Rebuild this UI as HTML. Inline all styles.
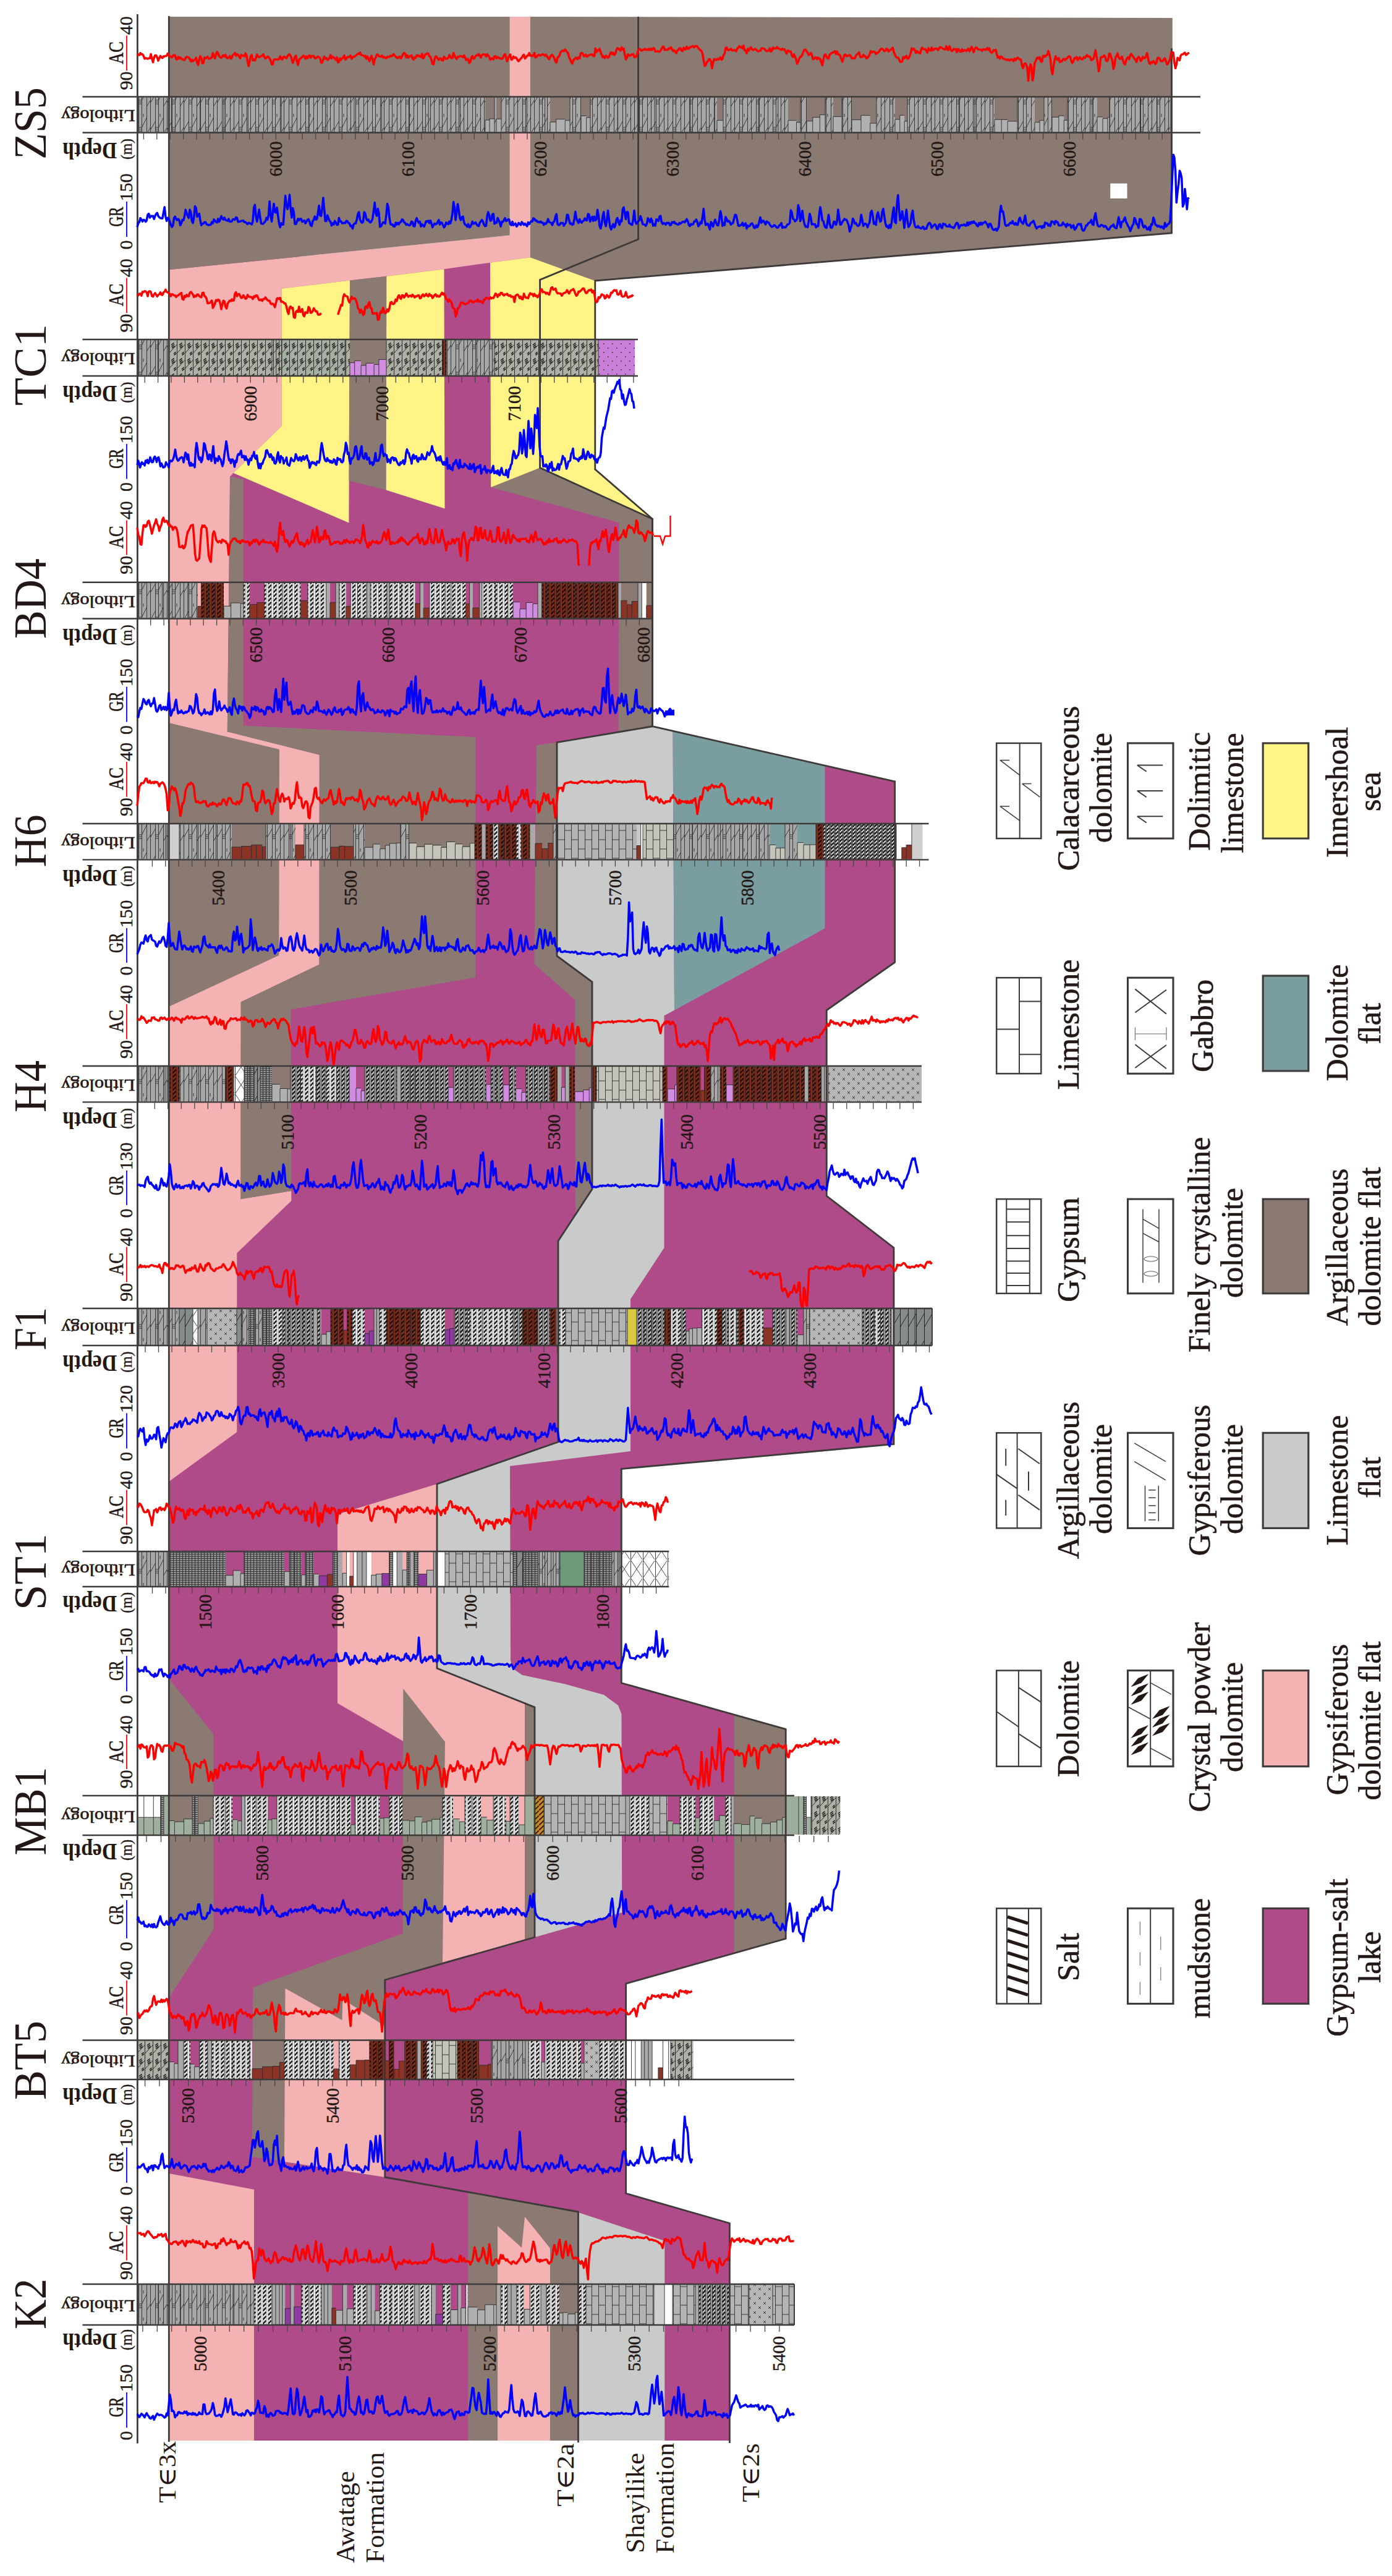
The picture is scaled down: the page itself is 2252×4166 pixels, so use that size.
<!DOCTYPE html><html><head><meta charset="utf-8"><title>Well correlation</title><style>html,body{margin:0;padding:0;background:#fff}svg{display:block}text{font-family:"Liberation Serif",serif;fill:#231815}.b{font-weight:bold}.s{font-family:"Liberation Sans","DejaVu Sans",sans-serif}.m{font-family:"Liberation Serif","DejaVu Serif","DejaVu Sans",serif}</style></head><body><svg width="2252" height="4166" viewBox="0 0 2252 4166"><rect width="2252" height="4166" fill="#fff"/>
<polygon points="273.3,3947.0 1180.4,3947.0 1180.4,3595.5 1012.6,3547.3 1012.6,3208.0 1271.2,3135.3 1271.2,2796.5 1005.3,2721.8 1005.3,2375.5 1446.0,2335.5 1446.0,2018.0 1337.3,1934.0 1337.3,1633.8 1447.7,1556.2 1447.7,1263.8 1055.5,1174.7 1055.5,839.3 962.8,759.0 962.8,454.0 962.8,415.0 273.3,415.0" fill="#B04B8A"/>
<polygon points="273.3,3947.0 273.3,3515.0 411.0,3541.0 411.0,3947.0" fill="#F4B2B2"/>
<polygon points="757.0,3947.0 757.0,3545.0 935.5,3577.0 935.5,3947.0" fill="#8A7A72"/>
<polygon points="805.0,3947.0 805.0,3600.0 844.0,3635.0 849.0,3585.0 890.0,3636.0 890.0,3947.0" fill="#F4B2B2"/>
<polygon points="935.5,3947.0 935.5,3578.0 1075.3,3624.0 1075.3,3947.0" fill="#C9CACA"/>
<polygon points="546.0,2449.0 707.0,2400.0 707.0,2698.0 849.0,2755.5 849.0,3137.0 716.0,3173.5 716.0,2817.0 652.3,2816.0 546.0,2754.5" fill="#F4B2B2"/>
<polygon points="408.0,3488.0 409.0,3214.0 651.5,3127.0 652.3,2731.0 720.0,2817.0 716.0,3173.5 622.8,3202.0 622.8,3521.0 460.0,3496.0" fill="#8A7A72"/>
<polygon points="460.0,3496.0 461.5,3215.7 553.4,3267.0 554.5,3233.0 620.0,3275.0 622.8,3277.0 622.8,3521.0" fill="#F4B2B2"/>
<polygon points="273.3,3231.0 273.3,2715.0 345.0,2804.0 345.8,3120.0" fill="#8A7A72"/>
<polygon points="849.0,3137.5 865.0,3133.0 865.0,2761.0 849.0,2755.5" fill="#8A7A72"/>
<polygon points="865.0,3133.0 1006.3,3093.0 1005.5,2772.0 1000.0,2758.0 977.0,2741.0 914.0,2723.6 845.0,2709.0 829.0,2698.0 826.0,2685.0 825.0,2371.0 1020.0,2347.0 1020.0,2101.0 1074.5,2018.0 1074.5,1642.4 1091.0,1633.8 1088.5,1182.6 1055.5,1174.7 901.0,1200.6 901.0,1546.0 958.0,1588.0 958.0,1923.0 903.0,2007.0 903.0,2332.0 707.0,2400.0 707.0,2698.0 865.0,2761.0" fill="#C9CACA"/>
<polygon points="1091.0,1633.8 1334.5,1501.6 1334.5,1238.6 1088.5,1182.6" fill="#7A9E9F"/>
<polygon points="1187.7,3157.0 1271.2,3135.3 1271.2,2796.5 1187.7,2772.0" fill="#8A7A72"/>
<polygon points="273.3,2396.0 383.3,2316.0 383.3,2026.5 471.3,1942.0 471.3,1926.0 389.4,1939.2 389.7,1620.6 516.5,1560.0 516.8,1220.7 367.8,1183.3 372.0,771.0 377.6,765.0 455.7,689.0 455.7,466.8 566.0,453.6 625.3,446.7 718.4,435.2 793.0,424.8 858.0,416.2 858.0,27.0 824.7,27.0 824.7,380.6 273.3,436.3" fill="#F4B2B2"/>
<polygon points="273.3,1169.0 452.0,1212.0 451.3,1545.0 273.3,1628.0" fill="#8A7A72"/>
<polygon points="389.4,1939.2 471.3,1926.0 470.5,1632.6 769.0,1581.0 769.0,1192.0 393.7,1173.6 393.7,775.3 372.4,770.7 367.8,1183.3 516.8,1220.7 516.5,1560.0 389.7,1620.6" fill="#8A7A72"/>
<polygon points="931.0,1966.0 958.0,1923.0 958.0,1588.0 901.0,1546.0 901.0,1200.6 868.0,1205.5 864.2,1559.0 930.3,1617.0" fill="#8A7A72"/>
<polygon points="794.2,788.0 873.6,756.5 1055.5,839.3 1055.5,1174.7 1000.6,1184.0 1001.3,845.0" fill="#8A7A72"/>
<polygon points="455.7,466.8 566.0,453.6 564.4,845.4 377.6,765.0 455.7,689.0" fill="#FFF485"/>
<polygon points="566.0,453.6 625.3,446.7 624.7,792.5 564.4,777.6" fill="#8A7A72"/>
<polygon points="625.3,446.7 718.4,435.2 719.5,822.4 624.7,792.5" fill="#FFF485"/>
<polygon points="793.0,424.8 858.0,416.2 962.8,454.0 962.8,759.0 1055.5,839.3 873.6,756.5 794.2,788.0" fill="#FFF485"/>
<polygon points="273.3,27.0 824.7,27.0 824.7,380.6 273.3,436.3" fill="#8A7A72"/>
<polygon points="858.0,27.0 1896.8,29.0 1896.8,377.0 962.8,454.0 858.0,416.2" fill="#8A7A72"/>
<defs>
<pattern id="ps" width="8.5" height="7" patternUnits="userSpaceOnUse"><rect width="8.5" height="7" fill="#ededed"/><rect x="0.4" width="5" height="7" fill="#fff"/><path d="M0.6,6.3L5.2,0.7" stroke="#111" stroke-width="2.4"/><path d="M0.3,0V7M5.6,0V7" stroke="#444" stroke-width="0.7"/></pattern>
<pattern id="pr" width="9" height="7" patternUnits="userSpaceOnUse"><rect width="9" height="7" fill="#80301F"/><path d="M0.6,6.3L5.6,0.7" stroke="#1c0a06" stroke-width="2.2"/><path d="M0.3,0V7M6.2,0V7" stroke="#2a0f0a" stroke-width="0.8"/></pattern>
<pattern id="pgs" width="8" height="7" patternUnits="userSpaceOnUse"><rect width="8" height="7" fill="#9c9c9c"/><rect x="0.4" width="5" height="7" fill="#c4c4c4"/><path d="M0.6,6.3L5.2,0.7" stroke="#111" stroke-width="2.2"/><path d="M0.3,0V7M5.6,0V7" stroke="#333" stroke-width="0.8"/></pattern>
<pattern id="psd" width="7" height="6" patternUnits="userSpaceOnUse"><rect width="7" height="6" fill="#777"/><rect x="0.4" width="4.6" height="6" fill="#eee"/><path d="M0.6,5.4L4.8,0.6" stroke="#111" stroke-width="2.3"/><path d="M0.3,0V6M5.2,0V6" stroke="#222" stroke-width="0.8"/></pattern>
<pattern id="plb" width="22" height="30" patternUnits="userSpaceOnUse"><rect width="22" height="30" fill="#C3C3B9"/><path d="M0.5,0V30M11.5,0V30M0.5,8H11.5M11.5,23H22.5" stroke="#3a3a3a" stroke-width="1" fill="none"/></pattern>
<pattern id="pg" width="27" height="44" patternUnits="userSpaceOnUse"><rect width="27" height="44" fill="#A6A6A6"/><path d="M0.5,0V44M8.5,0V44M13.5,0V44M21.5,0V44M0.5,34L8.5,20M13.5,30L21.5,14M21.5,40L27.5,30M8.5,30h5M8.5,33h5M8.5,36h5M16,8v5" stroke="#2b2b2b" stroke-width="0.9" fill="none"/></pattern>
<pattern id="pgd" width="13" height="44" patternUnits="userSpaceOnUse"><rect width="13" height="44" fill="#868B8B"/><path d="M0.5,0V44M0.5,34L13.5,12" stroke="#222" stroke-width="1" fill="none"/></pattern>
<pattern id="pl" width="22" height="30" patternUnits="userSpaceOnUse"><rect width="22" height="30" fill="#B3B3B3"/><path d="M0.5,0V30M11.5,0V30M0.5,8H11.5M11.5,23H22.5" stroke="#3a3a3a" stroke-width="1" fill="none"/></pattern>
<pattern id="pd" width="5" height="6" patternUnits="userSpaceOnUse"><rect width="5" height="6" fill="#9a9a9a"/><path d="M0.5,0V6M0,0.5H5M0,3.5H5" stroke="#333" stroke-width="1.1" fill="none"/></pattern>
<pattern id="pb" width="13" height="25" patternUnits="userSpaceOnUse"><rect width="13" height="25" fill="#AFB0A5"/><path d="M0.5,0V25M0.5,21L13.5,7" stroke="#2b2b2b" stroke-width="1" fill="none"/><path d="M4,8l4.5,-3.6M4.6,10.6l4.5,-3.6M5.2,13.2l4.5,-3.6M8,22l3.6,-3M8.6,24.4l3.6,-3" stroke="#1a1a1a" stroke-width="1.5"/></pattern>
<pattern id="pbg" width="13" height="25" patternUnits="userSpaceOnUse"><rect width="13" height="25" fill="#A5B0A2"/><path d="M0.5,0V25M0.5,21L13.5,7" stroke="#2b2b2b" stroke-width="1" fill="none"/><path d="M4,8l4.5,-3.6M4.6,10.6l4.5,-3.6M5.2,13.2l4.5,-3.6M8,22l3.6,-3M8.6,24.4l3.6,-3" stroke="#1a1a1a" stroke-width="1.5"/></pattern>
<pattern id="px" width="16" height="15" patternUnits="userSpaceOnUse"><rect width="16" height="15" fill="#B6B6B6"/><path d="M3,3l4,4m0,-4l-4,4M11,10l4,4m0,-4l-4,4" stroke="#333" stroke-width="0.9" fill="none"/></pattern>
<pattern id="pp" width="14" height="14" patternUnits="userSpaceOnUse"><rect width="14" height="14" fill="#C77FD8"/><path d="M3,3h1.5M10,10h1.5" stroke="#222" stroke-width="1.5"/></pattern>
<pattern id="pX" width="20" height="29" patternUnits="userSpaceOnUse"><rect width="20" height="29" fill="#fff"/><path d="M0.5,0V29M1,1L19,28M19,1L1,28" stroke="#333" stroke-width="0.9" fill="none"/></pattern>
<pattern id="po" width="8" height="8" patternUnits="userSpaceOnUse"><rect width="8" height="8" fill="#C98A2B"/><path d="M-1,9L9,-1" stroke="#3a2408" stroke-width="2"/></pattern>
</defs>
<path d="M222.4,3695.0H256.0V3759.0H222.4zM256.0,3695.0H292.2V3759.0H256.0zM292.2,3695.0H330.1V3759.0H292.2zM330.1,3695.0H377.0V3759.0H330.1zM377.0,3695.0H411.0V3759.0H377.0z" fill="url(#pg)"/>
<path d="M411.0,3695.0H440.1V3759.0H411.0zM487.6,3695.0H499.9V3759.0H487.6zM499.9,3695.0H520.0V3759.0H499.9zM572.0,3695.0H593.6V3759.0H572.0zM614.5,3695.0H632.4V3759.0H614.5zM632.4,3695.0H654.3V3759.0H632.4zM654.3,3695.0H670.6V3759.0H654.3zM678.3,3695.0H698.0V3759.0H678.3zM716.3,3695.0H729.0V3759.0H716.3zM753.3,3695.0H757.0V3759.0H753.3zM810.3,3695.0H820.8V3759.0H810.3zM835.9,3695.0H848.2V3759.0H835.9zM857.2,3695.0H875.0V3759.0H857.2zM883.9,3695.0H904.6V3759.0H883.9zM935.0,3695.0H948.0V3759.0H935.0z" fill="url(#ps)"/>
<path d="M440.1,3695.0H446.0V3759.0H440.1zM446.0,3695.0H452.0V3759.0H446.0zM452.0,3695.0H456.7V3759.0H452.0zM456.7,3695.0H461.3V3759.0H456.7zM470.0,3695.0H475.7V3759.0H470.0zM520.0,3695.0H524.3V3759.0H520.0zM524.3,3695.0H530.4V3759.0H524.3zM530.4,3695.0H536.9V3759.0H530.4zM554.4,3695.0H561.4V3759.0H554.4zM593.6,3695.0H600.4V3759.0H593.6zM600.4,3695.0H606.7V3759.0H600.4zM670.6,3695.0H678.3V3759.0H670.6zM698.0,3695.0H704.8V3759.0H698.0zM740.7,3695.0H745.8V3759.0H740.7zM803.0,3695.0H810.3V3759.0H803.0zM820.8,3695.0H827.0V3759.0H820.8zM827.0,3695.0H835.9V3759.0H827.0zM875.0,3695.0H883.9V3759.0H875.0zM1125.0,3695.0H1130.6V3759.0H1125.0z" fill="#A9A9A9"/>
<path d="M461.3,3733.3H470.0V3759.0H461.3zM475.7,3730.7H487.6V3759.0H475.7zM704.8,3742.6H716.3V3759.0H704.8z" fill="#8E3A9E"/>
<path d="M536.9,3732.7H543.4V3759.0H536.9z" fill="#8B3325"/>
<path d="M543.4,3736.2H554.4V3759.0H543.4zM561.4,3733.9H572.0V3759.0H561.4zM606.7,3737.1H614.5V3759.0H606.7zM729.0,3735.5H740.7V3759.0H729.0zM745.8,3732.4H753.3V3759.0H745.8zM757.0,3731.1H772.5V3759.0H757.0zM772.5,3735.7H784.6V3759.0H772.5zM784.6,3727.2H798.8V3759.0H784.6zM798.8,3727.4H803.0V3759.0H798.8zM848.2,3734.6H857.2V3759.0H848.2zM904.6,3740.7H910.8V3759.0H904.6zM910.8,3739.9H918.7V3759.0H910.8zM918.7,3742.2H930.4V3759.0H918.7zM930.4,3739.7H935.0V3759.0H930.4z" fill="#B0B0B0"/>
<path d="M948.0,3695.0H1058.0V3759.0H948.0zM1088.0,3695.0H1125.0V3759.0H1088.0zM1180.0,3695.0H1212.0V3759.0H1180.0zM1250.0,3695.0H1285.0V3759.0H1250.0z" fill="url(#pl)"/>
<path d="M1058.0,3695.0H1075.0V3759.0H1058.0z" fill="#CFCFCF"/>
<path d="M1075.0,3695.0H1088.0V3759.0H1075.0z" fill="#fff"/>
<path d="M1130.6,3695.0H1152.6V3759.0H1130.6zM1152.6,3695.0H1164.0V3759.0H1152.6zM1164.0,3695.0H1180.0V3759.0H1164.0z" fill="url(#pgs)"/>
<path d="M1212.0,3695.0H1250.0V3759.0H1212.0z" fill="url(#px)"/>
<path d="M222.4,3695.0V3759.0M256.0,3695.0V3759.0M292.2,3695.0V3759.0M330.1,3695.0V3759.0M377.0,3695.0V3759.0M411.0,3695.0V3759.0M440.1,3695.0V3759.0M446.0,3695.0V3759.0M452.0,3695.0V3759.0M456.7,3695.0V3759.0M461.3,3733.3H470.0M461.3,3733.3V3759.0M470.0,3695.0V3759.0M475.7,3730.7H487.6M475.7,3730.7V3759.0M487.6,3695.0V3759.0M499.9,3695.0V3759.0M520.0,3695.0V3759.0M524.3,3695.0V3759.0M530.4,3695.0V3759.0M536.9,3732.7H543.4M536.9,3732.7V3759.0M543.4,3736.2H554.4M543.4,3736.2V3759.0M554.4,3695.0V3759.0M561.4,3733.9H572.0M561.4,3733.9V3759.0M572.0,3695.0V3759.0M593.6,3695.0V3759.0M600.4,3695.0V3759.0M606.7,3737.1H614.5M606.7,3737.1V3759.0M614.5,3695.0V3759.0M632.4,3695.0V3759.0M654.3,3695.0V3759.0M670.6,3695.0V3759.0M678.3,3695.0V3759.0M698.0,3695.0V3759.0M704.8,3742.6H716.3M704.8,3742.6V3759.0M716.3,3695.0V3759.0M729.0,3735.5H740.7M729.0,3735.5V3759.0M740.7,3695.0V3759.0M745.8,3732.4H753.3M745.8,3732.4V3759.0M753.3,3695.0V3759.0M757.0,3731.1H772.5M757.0,3731.1V3759.0M772.5,3735.7H784.6M772.5,3735.7V3759.0M784.6,3727.2H798.8M784.6,3727.2V3759.0M798.8,3727.4H803.0M798.8,3727.4V3759.0M803.0,3695.0V3759.0M810.3,3695.0V3759.0M820.8,3695.0V3759.0M827.0,3695.0V3759.0M835.9,3695.0V3759.0M848.2,3734.6H857.2M848.2,3734.6V3759.0M857.2,3695.0V3759.0M875.0,3695.0V3759.0M883.9,3695.0V3759.0M904.6,3740.7H910.8M904.6,3740.7V3759.0M910.8,3739.9H918.7M910.8,3739.9V3759.0M918.7,3742.2H930.4M918.7,3742.2V3759.0M930.4,3739.7H935.0M930.4,3739.7V3759.0M935.0,3695.0V3759.0M948.0,3695.0V3759.0M1058.0,3695.0V3759.0M1075.0,3695.0V3759.0M1088.0,3695.0V3759.0M1125.0,3695.0V3759.0M1130.6,3695.0V3759.0M1152.6,3695.0V3759.0M1164.0,3695.0V3759.0M1180.0,3695.0V3759.0M1212.0,3695.0V3759.0M1250.0,3695.0V3759.0" stroke="#2b2b2b" stroke-width="0.9" fill="none"/>
<path d="M222.4,3300.5H273.0V3362.0H222.4zM1085.0,3300.5H1121.5V3362.0H1085.0z" fill="url(#pb)"/>
<path d="M273.0,3334.6H281.9V3362.0H273.0zM281.9,3337.2H288.0V3362.0H281.9zM307.9,3338.1H314.6V3362.0H307.9zM314.6,3342.6H322.7V3362.0H314.6zM875.6,3334.8H881.8V3362.0H875.6zM939.8,3336.7H945.0V3362.0H939.8z" fill="#B0B0B0"/>
<path d="M288.0,3300.5H296.9V3362.0H288.0zM335.9,3300.5H342.4V3362.0H335.9zM675.0,3300.5H681.2V3362.0H675.0zM850.0,3300.5H855.1V3362.0H850.0zM1037.3,3300.5H1042.7V3362.0H1037.3zM1042.7,3300.5H1049.0V3362.0H1042.7zM1049.0,3300.5H1055.1V3362.0H1049.0z" fill="#A9A9A9"/>
<path d="M296.9,3300.5H307.9V3362.0H296.9zM322.7,3300.5H335.9V3362.0H322.7zM342.4,3300.5H363.9V3362.0H342.4zM363.9,3300.5H376.7V3362.0H363.9zM376.7,3300.5H403.3V3362.0H376.7zM403.3,3300.5H408.0V3362.0H403.3zM460.0,3300.5H485.4V3362.0H460.0zM485.4,3300.5H511.0V3362.0H485.4zM511.0,3300.5H524.5V3362.0H511.0zM524.5,3300.5H539.4V3362.0H524.5zM548.5,3300.5H566.2V3362.0H548.5zM690.1,3300.5H700.0V3362.0H690.1zM855.1,3300.5H875.6V3362.0H855.1zM881.8,3300.5H906.5V3362.0H881.8zM906.5,3300.5H939.8V3362.0H906.5zM970.0,3300.5H993.5V3362.0H970.0zM993.5,3300.5H1012.0V3362.0H993.5z" fill="url(#ps)"/>
<path d="M408.0,3345.6H424.7V3362.0H408.0zM424.7,3342.3H441.0V3362.0H424.7zM441.0,3341.6H452.4V3362.0H441.0zM452.4,3335.3H460.0V3362.0H452.4zM539.4,3345.9H548.5V3362.0H539.4zM566.2,3339.2H576.1V3362.0H566.2zM576.1,3332.0H590.0V3362.0H576.1zM590.0,3331.5H597.8V3362.0H590.0zM622.0,3332.7H629.5V3362.0H622.0zM637.7,3346.6H645.6V3362.0H637.7zM645.6,3333.2H654.8V3362.0H645.6zM775.0,3340.0H789.4V3362.0H775.0zM789.4,3338.3H795.0V3362.0H789.4zM1064.9,3344.0H1072.5V3362.0H1064.9z" fill="#8B3325"/>
<path d="M597.8,3300.5H611.3V3362.0H597.8zM611.3,3300.5H622.0V3362.0H611.3zM629.5,3300.5H637.7V3362.0H629.5zM654.8,3300.5H663.8V3362.0H654.8zM663.8,3300.5H675.0V3362.0H663.8zM681.2,3300.5H690.1V3362.0H681.2zM740.0,3300.5H749.8V3362.0H740.0zM749.8,3300.5H764.7V3362.0H749.8zM764.7,3300.5H775.0V3362.0H764.7z" fill="url(#pr)"/>
<path d="M700.0,3300.5H740.0V3362.0H700.0z" fill="url(#plb)"/>
<path d="M795.0,3300.5H823.6V3362.0H795.0zM823.6,3300.5H850.0V3362.0H823.6z" fill="url(#pg)"/>
<path d="M945.0,3300.5H970.0V3362.0H945.0z" fill="url(#px)"/>
<path d="M1012.0,3300.5H1021.5V3362.0H1012.0zM1021.5,3300.5H1027.8V3362.0H1021.5zM1027.8,3300.5H1037.3V3362.0H1027.8zM1055.1,3300.5H1064.9V3362.0H1055.1zM1072.5,3300.5H1081.7V3362.0H1072.5zM1081.7,3300.5H1085.0V3362.0H1081.7z" fill="#fff"/>
<path d="M222.4,3300.5V3362.0M273.0,3334.6H281.9M273.0,3334.6V3362.0M281.9,3337.2H288.0M281.9,3337.2V3362.0M288.0,3300.5V3362.0M296.9,3300.5V3362.0M307.9,3338.1H314.6M307.9,3338.1V3362.0M314.6,3342.6H322.7M314.6,3342.6V3362.0M322.7,3300.5V3362.0M335.9,3300.5V3362.0M342.4,3300.5V3362.0M363.9,3300.5V3362.0M376.7,3300.5V3362.0M403.3,3300.5V3362.0M408.0,3345.6H424.7M408.0,3345.6V3362.0M424.7,3342.3H441.0M424.7,3342.3V3362.0M441.0,3341.6H452.4M441.0,3341.6V3362.0M452.4,3335.3H460.0M452.4,3335.3V3362.0M460.0,3300.5V3362.0M485.4,3300.5V3362.0M511.0,3300.5V3362.0M524.5,3300.5V3362.0M539.4,3345.9H548.5M539.4,3345.9V3362.0M548.5,3300.5V3362.0M566.2,3339.2H576.1M566.2,3339.2V3362.0M576.1,3332.0H590.0M576.1,3332.0V3362.0M590.0,3331.5H597.8M590.0,3331.5V3362.0M597.8,3300.5V3362.0M611.3,3300.5V3362.0M622.0,3332.7H629.5M622.0,3332.7V3362.0M629.5,3300.5V3362.0M637.7,3346.6H645.6M637.7,3346.6V3362.0M645.6,3333.2H654.8M645.6,3333.2V3362.0M654.8,3300.5V3362.0M663.8,3300.5V3362.0M675.0,3300.5V3362.0M681.2,3300.5V3362.0M690.1,3300.5V3362.0M700.0,3300.5V3362.0M740.0,3300.5V3362.0M749.8,3300.5V3362.0M764.7,3300.5V3362.0M775.0,3340.0H789.4M775.0,3340.0V3362.0M789.4,3338.3H795.0M789.4,3338.3V3362.0M795.0,3300.5V3362.0M823.6,3300.5V3362.0M850.0,3300.5V3362.0M855.1,3300.5V3362.0M875.6,3334.8H881.8M875.6,3334.8V3362.0M881.8,3300.5V3362.0M906.5,3300.5V3362.0M939.8,3336.7H945.0M939.8,3336.7V3362.0M945.0,3300.5V3362.0M970.0,3300.5V3362.0M993.5,3300.5V3362.0M1012.0,3300.5V3362.0M1021.5,3300.5V3362.0M1027.8,3300.5V3362.0M1037.3,3300.5V3362.0M1042.7,3300.5V3362.0M1049.0,3300.5V3362.0M1055.1,3300.5V3362.0M1064.9,3344.0H1072.5M1064.9,3344.0V3362.0M1072.5,3300.5V3362.0M1081.7,3300.5V3362.0M1085.0,3300.5V3362.0" stroke="#2b2b2b" stroke-width="0.9" fill="none"/>
<path d="M222.4,2905.0H232.8V2967.0H222.4zM232.8,2905.0H248.3V2967.0H232.8zM248.3,2905.0H259.8V2967.0H248.3zM1304.5,2905.0H1312.0V2967.0H1304.5z" fill="#fff"/>
<path d="M222.4,2939.1H232.8V2967.0H222.4zM232.8,2939.1H248.3V2967.0H232.8zM248.3,2939.1H259.8V2967.0H248.3zM264.9,2905.0H273.0V2967.0H264.9zM273.0,2944.5H282.4V2967.0H273.0zM282.4,2946.2H297.5V2967.0H282.4zM297.5,2941.7H311.1V2967.0H297.5zM320.4,2949.0H330.2V2967.0H320.4zM330.2,2945.2H340.0V2967.0H330.2zM340.0,2940.7H345.0V2967.0H340.0zM376.0,2942.8H384.6V2967.0H376.0zM384.6,2944.9H390.8V2967.0H384.6zM433.2,2943.1H439.9V2967.0H433.2zM439.9,2941.5H448.0V2967.0H439.9zM567.7,2951.0H574.3V2967.0H567.7zM614.2,2940.5H621.0V2967.0H614.2zM621.0,2939.8H630.0V2967.0H621.0zM651.0,2944.0H662.5V2967.0H651.0zM662.5,2944.8H671.2V2967.0H662.5zM671.2,2938.3H682.5V2967.0H671.2zM682.5,2946.9H690.7V2967.0H682.5zM690.7,2945.0H698.7V2967.0H690.7zM698.7,2942.2H711.8V2967.0H698.7zM711.8,2939.1H716.0V2967.0H711.8zM733.0,2941.7H743.7V2967.0H733.0zM743.7,2946.2H752.0V2967.0H743.7zM778.1,2938.8H787.8V2967.0H778.1zM787.8,2943.5H798.2V2967.0H787.8zM818.5,2945.4H825.1V2967.0H818.5zM839.6,2951.1H849.0V2967.0H839.6zM1080.0,2944.9H1088.3V2967.0H1080.0zM1088.3,2949.7H1100.0V2967.0H1088.3zM1125.0,2939.9H1131.9V2967.0H1125.0zM1155.1,2944.4H1164.0V2967.0H1155.1zM1164.0,2936.2H1173.9V2967.0H1164.0zM1187.0,2949.3H1199.5V2967.0H1187.0zM1199.5,2950.6H1213.0V2967.0H1199.5zM1213.0,2937.0H1221.1V2967.0H1213.0zM1221.1,2940.4H1232.5V2967.0H1221.1zM1232.5,2949.2H1246.4V2967.0H1232.5zM1246.4,2946.7H1256.9V2967.0H1246.4zM1256.9,2943.3H1265.8V2967.0H1256.9zM1265.8,2939.1H1271.0V2967.0H1265.8zM1292.0,2905.0H1300.0V2967.0H1292.0zM1304.5,2939.1H1312.0V2967.0H1304.5z" fill="#A0B0A0"/>
<path d="M259.8,2905.0H264.9V2967.0H259.8zM311.1,2905.0H314.8V2967.0H311.1zM314.8,2905.0H320.4V2967.0H314.8zM1300.0,2905.0H1304.5V2967.0H1300.0z" fill="url(#pd)"/>
<path d="M345.0,2905.0H364.7V2967.0H345.0zM364.7,2905.0H376.0V2967.0H364.7zM396.2,2905.0H414.7V2967.0H396.2zM414.7,2905.0H433.2V2967.0H414.7zM448.0,2905.0H460.6V2967.0H448.0zM460.6,2905.0H485.4V2967.0H460.6zM485.4,2905.0H511.8V2967.0H485.4zM511.8,2905.0H531.1V2967.0H511.8zM531.1,2905.0H549.5V2967.0H531.1zM549.5,2905.0H567.7V2967.0H549.5zM574.3,2905.0H590.7V2967.0H574.3zM590.7,2905.0H614.2V2967.0H590.7zM630.0,2905.0H646.4V2967.0H630.0zM646.4,2905.0H651.0V2967.0H646.4zM716.0,2905.0H733.0V2967.0H716.0zM752.0,2905.0H763.8V2967.0H752.0zM763.8,2905.0H778.1V2967.0H763.8zM798.2,2905.0H818.5V2967.0H798.2zM825.1,2905.0H839.6V2967.0H825.1zM1018.6,2905.0H1050.0V2967.0H1018.6zM1100.0,2905.0H1114.3V2967.0H1100.0zM1114.3,2905.0H1125.0V2967.0H1114.3zM1131.9,2905.0H1155.1V2967.0H1131.9zM1173.9,2905.0H1183.0V2967.0H1173.9z" fill="url(#ps)"/>
<path d="M390.8,2905.0H396.2V2967.0H390.8zM1012.0,2905.0H1018.6V2967.0H1012.0zM1183.0,2905.0H1187.0V2967.0H1183.0z" fill="#A9A9A9"/>
<path d="M849.0,2905.0H865.0V2967.0H849.0zM1271.0,2905.0H1292.0V2967.0H1271.0z" fill="#9DAE9D"/>
<path d="M865.0,2905.0H880.0V2967.0H865.0z" fill="url(#po)"/>
<path d="M880.0,2905.0H1012.0V2967.0H880.0zM1050.0,2905.0H1080.0V2967.0H1050.0z" fill="url(#pl)"/>
<path d="M1312.0,2905.0H1359.4V2967.0H1312.0z" fill="url(#pb)"/>
<path d="M222.4,2939.1H232.8M222.4,2905.0V2967.0M232.8,2939.1H248.3M232.8,2905.0V2967.0M248.3,2939.1H259.8M248.3,2905.0V2967.0M259.8,2905.0V2967.0M264.9,2905.0V2967.0M273.0,2944.5H282.4M273.0,2944.5V2967.0M282.4,2946.2H297.5M282.4,2946.2V2967.0M297.5,2941.7H311.1M297.5,2941.7V2967.0M311.1,2905.0V2967.0M314.8,2905.0V2967.0M320.4,2949.0H330.2M320.4,2949.0V2967.0M330.2,2945.2H340.0M330.2,2945.2V2967.0M340.0,2940.7H345.0M340.0,2940.7V2967.0M345.0,2905.0V2967.0M364.7,2905.0V2967.0M376.0,2942.8H384.6M376.0,2942.8V2967.0M384.6,2944.9H390.8M384.6,2944.9V2967.0M390.8,2905.0V2967.0M396.2,2905.0V2967.0M414.7,2905.0V2967.0M433.2,2943.1H439.9M433.2,2943.1V2967.0M439.9,2941.5H448.0M439.9,2941.5V2967.0M448.0,2905.0V2967.0M460.6,2905.0V2967.0M485.4,2905.0V2967.0M511.8,2905.0V2967.0M531.1,2905.0V2967.0M549.5,2905.0V2967.0M567.7,2951.0H574.3M567.7,2951.0V2967.0M574.3,2905.0V2967.0M590.7,2905.0V2967.0M614.2,2940.5H621.0M614.2,2940.5V2967.0M621.0,2939.8H630.0M621.0,2939.8V2967.0M630.0,2905.0V2967.0M646.4,2905.0V2967.0M651.0,2944.0H662.5M651.0,2944.0V2967.0M662.5,2944.8H671.2M662.5,2944.8V2967.0M671.2,2938.3H682.5M671.2,2938.3V2967.0M682.5,2946.9H690.7M682.5,2946.9V2967.0M690.7,2945.0H698.7M690.7,2945.0V2967.0M698.7,2942.2H711.8M698.7,2942.2V2967.0M711.8,2939.1H716.0M711.8,2939.1V2967.0M716.0,2905.0V2967.0M733.0,2941.7H743.7M733.0,2941.7V2967.0M743.7,2946.2H752.0M743.7,2946.2V2967.0M752.0,2905.0V2967.0M763.8,2905.0V2967.0M778.1,2938.8H787.8M778.1,2938.8V2967.0M787.8,2943.5H798.2M787.8,2943.5V2967.0M798.2,2905.0V2967.0M818.5,2945.4H825.1M818.5,2945.4V2967.0M825.1,2905.0V2967.0M839.6,2951.1H849.0M839.6,2951.1V2967.0M849.0,2905.0V2967.0M865.0,2905.0V2967.0M880.0,2905.0V2967.0M1012.0,2905.0V2967.0M1018.6,2905.0V2967.0M1050.0,2905.0V2967.0M1080.0,2944.9H1088.3M1080.0,2944.9V2967.0M1088.3,2949.7H1100.0M1088.3,2949.7V2967.0M1100.0,2905.0V2967.0M1114.3,2905.0V2967.0M1125.0,2939.9H1131.9M1125.0,2939.9V2967.0M1131.9,2905.0V2967.0M1155.1,2944.4H1164.0M1155.1,2944.4V2967.0M1164.0,2936.2H1173.9M1164.0,2936.2V2967.0M1173.9,2905.0V2967.0M1183.0,2905.0V2967.0M1187.0,2949.3H1199.5M1187.0,2949.3V2967.0M1199.5,2950.6H1213.0M1199.5,2950.6V2967.0M1213.0,2937.0H1221.1M1213.0,2937.0V2967.0M1221.1,2940.4H1232.5M1221.1,2940.4V2967.0M1232.5,2949.2H1246.4M1232.5,2949.2V2967.0M1246.4,2946.7H1256.9M1246.4,2946.7V2967.0M1256.9,2943.3H1265.8M1256.9,2943.3V2967.0M1265.8,2939.1H1271.0M1265.8,2939.1V2967.0M1271.0,2905.0V2967.0M1292.0,2905.0V2967.0M1300.0,2905.0V2967.0M1304.5,2939.1H1312.0M1304.5,2905.0V2967.0M1312.0,2905.0V2967.0" stroke="#2b2b2b" stroke-width="0.9" fill="none"/>
<path d="M222.4,2510.0H273.0V2565.0H222.4zM870.3,2510.0H881.6V2565.0H870.3zM881.6,2510.0H895.1V2565.0H881.6zM895.1,2510.0H906.0V2565.0H895.1zM989.9,2510.0H1001.8V2565.0H989.9zM1001.8,2510.0H1005.0V2565.0H1001.8z" fill="url(#pg)"/>
<path d="M273.0,2510.0H365.0V2565.0H273.0zM395.0,2510.0H460.0V2565.0H395.0zM468.4,2510.0H476.6V2565.0H468.4zM476.6,2510.0H487.6V2565.0H476.6zM494.1,2510.0H507.4V2565.0H494.1zM538.4,2510.0H546.0V2565.0H538.4zM629.7,2510.0H635.5V2565.0H629.7zM658.2,2510.0H663.3V2565.0H658.2zM669.7,2510.0H677.3V2565.0H669.7zM830.0,2510.0H836.1V2565.0H830.0zM846.9,2510.0H860.2V2565.0H846.9zM860.2,2510.0H870.3V2565.0H860.2zM945.0,2510.0H956.8V2565.0H945.0zM956.8,2510.0H968.9V2565.0H956.8zM968.9,2510.0H976.1V2565.0H968.9zM976.1,2510.0H989.9V2565.0H976.1z" fill="url(#pd)"/>
<path d="M365.0,2547.7H377.2V2565.0H365.0zM377.2,2539.9H389.1V2565.0H377.2zM389.1,2544.9H395.0V2565.0H389.1zM460.0,2541.6H468.4V2565.0H460.0zM487.6,2546.9H494.1V2565.0H487.6zM507.4,2545.6H516.0V2565.0H507.4zM554.1,2544.2H560.6V2565.0H554.1zM600.7,2547.3H608.4V2565.0H600.7zM608.4,2545.7H617.8V2565.0H608.4zM651.2,2539.0H658.2V2565.0H651.2zM690.4,2539.3H701.3V2565.0H690.4z" fill="#B0B0B0"/>
<path d="M516.0,2548.3H529.4V2565.0H516.0zM617.8,2544.7H629.7V2565.0H617.8zM677.3,2545.7H690.4V2565.0H677.3z" fill="#8E3A9E"/>
<path d="M529.4,2546.2H538.4V2565.0H529.4zM565.7,2549.1H571.8V2565.0H565.7z" fill="#8B3325"/>
<path d="M546.0,2510.0H554.1V2565.0H546.0zM577.7,2510.0H585.9V2565.0H577.7zM585.9,2510.0H592.9V2565.0H585.9zM642.2,2510.0H651.2V2565.0H642.2zM663.3,2510.0H669.7V2565.0H663.3zM701.3,2510.0H705.0V2565.0H701.3z" fill="#A9A9A9"/>
<path d="M560.6,2510.0H565.7V2565.0H560.6zM571.8,2510.0H577.7V2565.0H571.8zM592.9,2510.0H600.7V2565.0H592.9zM635.5,2510.0H642.2V2565.0H635.5zM705.0,2510.0H720.0V2565.0H705.0z" fill="#fff"/>
<path d="M720.0,2510.0H830.0V2565.0H720.0z" fill="url(#pl)"/>
<path d="M836.1,2510.0H846.9V2565.0H836.1z" fill="url(#pgd)"/>
<path d="M906.0,2510.0H945.0V2565.0H906.0z" fill="#6F9A78"/>
<path d="M1005.0,2510.0H1082.3V2565.0H1005.0z" fill="url(#pX)"/>
<path d="M222.4,2510.0V2565.0M273.0,2510.0V2565.0M365.0,2547.7H377.2M365.0,2547.7V2565.0M377.2,2539.9H389.1M377.2,2539.9V2565.0M389.1,2544.9H395.0M389.1,2544.9V2565.0M395.0,2510.0V2565.0M460.0,2541.6H468.4M460.0,2541.6V2565.0M468.4,2510.0V2565.0M476.6,2510.0V2565.0M487.6,2546.9H494.1M487.6,2546.9V2565.0M494.1,2510.0V2565.0M507.4,2545.6H516.0M507.4,2545.6V2565.0M516.0,2548.3H529.4M516.0,2548.3V2565.0M529.4,2546.2H538.4M529.4,2546.2V2565.0M538.4,2510.0V2565.0M546.0,2510.0V2565.0M554.1,2544.2H560.6M554.1,2544.2V2565.0M560.6,2510.0V2565.0M565.7,2549.1H571.8M565.7,2549.1V2565.0M571.8,2510.0V2565.0M577.7,2510.0V2565.0M585.9,2510.0V2565.0M592.9,2510.0V2565.0M600.7,2547.3H608.4M600.7,2547.3V2565.0M608.4,2545.7H617.8M608.4,2545.7V2565.0M617.8,2544.7H629.7M617.8,2544.7V2565.0M629.7,2510.0V2565.0M635.5,2510.0V2565.0M642.2,2510.0V2565.0M651.2,2539.0H658.2M651.2,2539.0V2565.0M658.2,2510.0V2565.0M663.3,2510.0V2565.0M669.7,2510.0V2565.0M677.3,2545.7H690.4M677.3,2545.7V2565.0M690.4,2539.3H701.3M690.4,2539.3V2565.0M701.3,2510.0V2565.0M705.0,2510.0V2565.0M720.0,2510.0V2565.0M830.0,2510.0V2565.0M836.1,2510.0V2565.0M846.9,2510.0V2565.0M860.2,2510.0V2565.0M870.3,2510.0V2565.0M881.6,2510.0V2565.0M895.1,2510.0V2565.0M906.0,2510.0V2565.0M945.0,2510.0V2565.0M956.8,2510.0V2565.0M968.9,2510.0V2565.0M976.1,2510.0V2565.0M989.9,2510.0V2565.0M1001.8,2510.0V2565.0M1005.0,2510.0V2565.0" stroke="#2b2b2b" stroke-width="0.9" fill="none"/>
<path d="M222.4,2117.0H254.5V2175.0H222.4zM254.5,2117.0H290.0V2175.0H254.5zM320.0,2117.0H335.0V2175.0H320.0zM392.3,2117.0H402.7V2175.0H392.3zM412.1,2117.0H424.2V2175.0H412.1zM1300.0,2117.0H1310.0V2175.0H1300.0z" fill="url(#pg)"/>
<path d="M290.0,2117.0H312.0V2175.0H290.0zM383.0,2117.0H392.3V2175.0H383.0zM1445.0,2117.0H1480.2V2175.0H1445.0zM1480.2,2117.0H1508.0V2175.0H1480.2z" fill="url(#pgd)"/>
<path d="M312.0,2117.0H320.0V2175.0H312.0z" fill="url(#pX)"/>
<path d="M335.0,2117.0H383.0V2175.0H335.0zM1310.0,2117.0H1395.0V2175.0H1310.0z" fill="url(#px)"/>
<path d="M402.7,2117.0H412.1V2175.0H402.7zM424.2,2117.0H431.3V2175.0H424.2zM431.3,2117.0H440.0V2175.0H431.3z" fill="url(#pd)"/>
<path d="M440.0,2117.0H457.1V2175.0H440.0zM570.0,2117.0H590.0V2175.0H570.0zM613.9,2117.0H625.0V2175.0H613.9zM680.0,2117.0H720.0V2175.0H680.0zM756.2,2117.0H760.0V2175.0H756.2zM760.0,2117.0H780.6V2175.0H760.0zM780.6,2117.0H818.6V2175.0H780.6zM818.6,2117.0H830.0V2175.0H818.6zM904.1,2117.0H915.0V2175.0H904.1zM1085.0,2117.0H1102.0V2175.0H1085.0zM1135.4,2117.0H1160.0V2175.0H1135.4zM1178.9,2117.0H1191.8V2175.0H1178.9zM1203.0,2117.0H1235.0V2175.0H1203.0zM1414.5,2117.0H1424.3V2175.0H1414.5zM1441.7,2117.0H1445.0V2175.0H1441.7z" fill="url(#ps)"/>
<path d="M457.1,2117.0H466.9V2175.0H457.1zM466.9,2117.0H490.4V2175.0H466.9zM490.4,2117.0H507.0V2175.0H490.4zM513.4,2117.0H520.0V2175.0H513.4zM735.0,2117.0H756.2V2175.0H735.0zM830.0,2117.0H845.0V2175.0H830.0zM870.0,2117.0H890.0V2175.0H870.0zM1030.0,2117.0H1042.1V2175.0H1030.0zM1042.1,2117.0H1054.7V2175.0H1042.1zM1054.7,2117.0H1075.0V2175.0H1054.7zM1102.0,2117.0H1110.0V2175.0H1102.0zM1168.0,2117.0H1178.9V2175.0H1168.0zM1191.8,2117.0H1195.0V2175.0H1191.8zM1250.0,2117.0H1271.7V2175.0H1250.0zM1277.2,2117.0H1290.0V2175.0H1277.2zM1395.0,2117.0H1414.5V2175.0H1395.0zM1424.3,2117.0H1441.7V2175.0H1424.3z" fill="url(#pgs)"/>
<path d="M507.0,2117.0H513.4V2175.0H507.0zM605.0,2117.0H609.3V2175.0H605.0zM609.3,2117.0H613.9V2175.0H609.3zM900.0,2117.0H904.1V2175.0H900.0zM1271.7,2117.0H1277.2V2175.0H1271.7z" fill="#A9A9A9"/>
<path d="M520.0,2157.9H528.0V2175.0H520.0zM528.0,2153.7H535.0V2175.0H528.0zM1110.0,2152.9H1115.0V2175.0H1110.0zM1115.0,2148.9H1120.4V2175.0H1115.0zM1120.4,2147.9H1127.6V2175.0H1120.4zM1127.6,2147.4H1135.4V2175.0H1127.6zM1290.0,2158.7H1300.0V2175.0H1290.0z" fill="#B0B0B0"/>
<path d="M535.0,2117.0H546.0V2175.0H535.0zM546.0,2117.0H555.8V2175.0H546.0zM561.5,2117.0H570.0V2175.0H561.5zM625.0,2117.0H637.4V2175.0H625.0zM637.4,2117.0H648.9V2175.0H637.4zM648.9,2117.0H664.6V2175.0H648.9zM664.6,2117.0H675.4V2175.0H664.6zM675.4,2117.0H680.0V2175.0H675.4zM845.0,2117.0H855.0V2175.0H845.0zM855.0,2117.0H863.3V2175.0H855.0zM863.3,2117.0H870.0V2175.0H863.3zM890.0,2117.0H900.0V2175.0H890.0zM1075.0,2117.0H1085.0V2175.0H1075.0zM1160.0,2117.0H1168.0V2175.0H1160.0zM1195.0,2117.0H1203.0V2175.0H1195.0z" fill="url(#pr)"/>
<path d="M555.8,2151.3H561.5V2175.0H555.8zM1235.0,2147.6H1250.0V2175.0H1235.0z" fill="#8B3325"/>
<path d="M590.0,2156.6H597.2V2175.0H590.0zM597.2,2152.3H605.0V2175.0H597.2zM720.0,2150.7H727.4V2175.0H720.0zM727.4,2148.5H735.0V2175.0H727.4z" fill="#8E3A9E"/>
<path d="M915.0,2117.0H1015.0V2175.0H915.0z" fill="url(#pl)"/>
<path d="M1015.0,2117.0H1030.0V2175.0H1015.0z" fill="#D9C93F"/>
<path d="M222.4,2117.0V2175.0M254.5,2117.0V2175.0M290.0,2117.0V2175.0M312.0,2117.0V2175.0M320.0,2117.0V2175.0M335.0,2117.0V2175.0M383.0,2117.0V2175.0M392.3,2117.0V2175.0M402.7,2117.0V2175.0M412.1,2117.0V2175.0M424.2,2117.0V2175.0M431.3,2117.0V2175.0M440.0,2117.0V2175.0M457.1,2117.0V2175.0M466.9,2117.0V2175.0M490.4,2117.0V2175.0M507.0,2117.0V2175.0M513.4,2117.0V2175.0M520.0,2157.9H528.0M520.0,2157.9V2175.0M528.0,2153.7H535.0M528.0,2153.7V2175.0M535.0,2117.0V2175.0M546.0,2117.0V2175.0M555.8,2151.3H561.5M555.8,2151.3V2175.0M561.5,2117.0V2175.0M570.0,2117.0V2175.0M590.0,2156.6H597.2M590.0,2156.6V2175.0M597.2,2152.3H605.0M597.2,2152.3V2175.0M605.0,2117.0V2175.0M609.3,2117.0V2175.0M613.9,2117.0V2175.0M625.0,2117.0V2175.0M637.4,2117.0V2175.0M648.9,2117.0V2175.0M664.6,2117.0V2175.0M675.4,2117.0V2175.0M680.0,2117.0V2175.0M720.0,2150.7H727.4M720.0,2150.7V2175.0M727.4,2148.5H735.0M727.4,2148.5V2175.0M735.0,2117.0V2175.0M756.2,2117.0V2175.0M760.0,2117.0V2175.0M780.6,2117.0V2175.0M818.6,2117.0V2175.0M830.0,2117.0V2175.0M845.0,2117.0V2175.0M855.0,2117.0V2175.0M863.3,2117.0V2175.0M870.0,2117.0V2175.0M890.0,2117.0V2175.0M900.0,2117.0V2175.0M904.1,2117.0V2175.0M915.0,2117.0V2175.0M1015.0,2117.0V2175.0M1030.0,2117.0V2175.0M1042.1,2117.0V2175.0M1054.7,2117.0V2175.0M1075.0,2117.0V2175.0M1085.0,2117.0V2175.0M1102.0,2117.0V2175.0M1110.0,2152.9H1115.0M1110.0,2152.9V2175.0M1115.0,2148.9H1120.4M1115.0,2148.9V2175.0M1120.4,2147.9H1127.6M1120.4,2147.9V2175.0M1127.6,2147.4H1135.4M1127.6,2147.4V2175.0M1135.4,2117.0V2175.0M1160.0,2117.0V2175.0M1168.0,2117.0V2175.0M1178.9,2117.0V2175.0M1191.8,2117.0V2175.0M1195.0,2117.0V2175.0M1203.0,2117.0V2175.0M1235.0,2147.6H1250.0M1235.0,2147.6V2175.0M1250.0,2117.0V2175.0M1271.7,2117.0V2175.0M1277.2,2117.0V2175.0M1290.0,2158.7H1300.0M1290.0,2158.7V2175.0M1300.0,2117.0V2175.0M1310.0,2117.0V2175.0M1395.0,2117.0V2175.0M1414.5,2117.0V2175.0M1424.3,2117.0V2175.0M1441.7,2117.0V2175.0M1445.0,2117.0V2175.0M1480.2,2117.0V2175.0" stroke="#2b2b2b" stroke-width="0.9" fill="none"/>
<path d="M222.4,1725.0H267.0V1781.4H222.4zM267.0,1725.0H273.0V1781.4H267.0zM290.0,1725.0H321.6V1781.4H290.0zM321.6,1725.0H365.0V1781.4H321.6zM1150.0,1725.0H1165.0V1781.4H1150.0z" fill="url(#pg)"/>
<path d="M273.0,1725.0H290.0V1781.4H273.0zM365.0,1725.0H378.0V1781.4H365.0zM890.0,1725.0H901.5V1781.4H890.0zM921.2,1725.0H930.0V1781.4H921.2zM957.0,1725.0H965.0V1781.4H957.0zM1072.0,1725.0H1080.0V1781.4H1072.0zM1095.0,1725.0H1108.6V1781.4H1095.0zM1108.6,1725.0H1121.6V1781.4H1108.6zM1121.6,1725.0H1133.8V1781.4H1121.6zM1139.6,1725.0H1150.0V1781.4H1139.6zM1165.0,1725.0H1175.0V1781.4H1165.0zM1186.0,1725.0H1194.5V1781.4H1186.0zM1194.5,1725.0H1205.9V1781.4H1194.5zM1205.9,1725.0H1218.2V1781.4H1205.9zM1218.2,1725.0H1232.0V1781.4H1218.2zM1232.0,1725.0H1246.6V1781.4H1232.0zM1246.6,1725.0H1255.4V1781.4H1246.6zM1255.4,1725.0H1264.1V1781.4H1255.4zM1264.1,1725.0H1279.7V1781.4H1264.1zM1279.7,1725.0H1288.5V1781.4H1279.7zM1288.5,1725.0H1301.4V1781.4H1288.5zM1308.0,1725.0H1317.2V1781.4H1308.0zM1317.2,1725.0H1328.7V1781.4H1317.2z" fill="url(#pr)"/>
<path d="M378.0,1725.0H395.0V1781.4H378.0z" fill="url(#pX)"/>
<path d="M395.0,1725.0H403.5V1781.4H395.0zM403.5,1725.0H411.1V1781.4H403.5zM421.2,1725.0H430.4V1781.4H421.2zM430.4,1725.0H440.0V1781.4H430.4z" fill="url(#pd)"/>
<path d="M411.1,1725.0H421.2V1781.4H411.1z" fill="url(#pgd)"/>
<path d="M440.0,1753.4H453.0V1781.4H440.0zM453.0,1760.5H465.1V1781.4H453.0zM465.1,1761.0H470.0V1781.4H465.1z" fill="#B0B0B0"/>
<path d="M470.0,1725.0H486.5V1781.4H470.0zM511.6,1725.0H527.8V1781.4H511.6zM544.2,1725.0H565.0V1781.4H544.2zM590.0,1725.0H609.1V1781.4H590.0zM609.1,1725.0H624.6V1781.4H609.1zM624.6,1725.0H641.9V1781.4H624.6zM648.8,1725.0H663.3V1781.4H648.8zM663.3,1725.0H671.6V1781.4H663.3zM671.6,1725.0H694.9V1781.4H671.6zM694.9,1725.0H705.3V1781.4H694.9zM705.3,1725.0H725.1V1781.4H705.3zM733.9,1725.0H755.3V1781.4H733.9zM755.3,1725.0H765.1V1781.4H755.3zM765.1,1725.0H786.2V1781.4H765.1zM794.2,1725.0H803.3V1781.4H794.2zM803.3,1725.0H813.9V1781.4H803.3zM823.8,1725.0H834.5V1781.4H823.8zM850.9,1725.0H864.6V1781.4H850.9zM864.6,1725.0H881.1V1781.4H864.6zM881.1,1725.0H890.0V1781.4H881.1z" fill="url(#pgs)"/>
<path d="M486.5,1725.0H511.6V1781.4H486.5zM527.8,1725.0H544.2V1781.4H527.8z" fill="url(#ps)"/>
<path d="M565.0,1725.0H576.0V1781.4H565.0zM576.0,1759.8H584.2V1781.4H576.0zM584.2,1764.0H590.0V1781.4H584.2zM725.1,1758.7H733.9V1781.4H725.1zM786.2,1753.7H794.2V1781.4H786.2zM813.9,1754.4H823.8V1781.4H813.9zM834.5,1760.7H843.9V1781.4H834.5zM843.9,1766.6H850.9V1781.4H843.9zM908.4,1758.4H914.4V1781.4H908.4zM930.0,1765.4H943.6V1781.4H930.0zM943.6,1762.7H953.2V1781.4H943.6zM953.2,1759.1H957.0V1781.4H953.2zM1080.0,1761.0H1091.6V1781.4H1080.0zM1091.6,1754.6H1095.0V1781.4H1091.6zM1175.0,1754.5H1186.0V1781.4H1175.0z" fill="#CF8CE0"/>
<path d="M641.9,1725.0H648.8V1781.4H641.9zM901.5,1725.0H908.4V1781.4H901.5zM914.4,1725.0H921.2V1781.4H914.4zM1301.4,1725.0H1308.0V1781.4H1301.4zM1328.7,1725.0H1333.8V1781.4H1328.7zM1333.8,1725.0H1340.0V1781.4H1333.8z" fill="#A9A9A9"/>
<path d="M965.0,1725.0H1072.0V1781.4H965.0z" fill="url(#plb)"/>
<path d="M1133.8,1763.5H1139.6V1781.4H1133.8z" fill="#8B3325"/>
<path d="M1340.0,1725.0H1491.0V1781.4H1340.0z" fill="url(#px)"/>
<path d="M222.4,1725.0V1781.4M267.0,1725.0V1781.4M273.0,1725.0V1781.4M290.0,1725.0V1781.4M321.6,1725.0V1781.4M365.0,1725.0V1781.4M378.0,1725.0V1781.4M395.0,1725.0V1781.4M403.5,1725.0V1781.4M411.1,1725.0V1781.4M421.2,1725.0V1781.4M430.4,1725.0V1781.4M440.0,1753.4H453.0M440.0,1753.4V1781.4M453.0,1760.5H465.1M453.0,1760.5V1781.4M465.1,1761.0H470.0M465.1,1761.0V1781.4M470.0,1725.0V1781.4M486.5,1725.0V1781.4M511.6,1725.0V1781.4M527.8,1725.0V1781.4M544.2,1725.0V1781.4M565.0,1725.0V1781.4M576.0,1759.8H584.2M576.0,1759.8V1781.4M584.2,1764.0H590.0M584.2,1764.0V1781.4M590.0,1725.0V1781.4M609.1,1725.0V1781.4M624.6,1725.0V1781.4M641.9,1725.0V1781.4M648.8,1725.0V1781.4M663.3,1725.0V1781.4M671.6,1725.0V1781.4M694.9,1725.0V1781.4M705.3,1725.0V1781.4M725.1,1758.7H733.9M725.1,1758.7V1781.4M733.9,1725.0V1781.4M755.3,1725.0V1781.4M765.1,1725.0V1781.4M786.2,1753.7H794.2M786.2,1753.7V1781.4M794.2,1725.0V1781.4M803.3,1725.0V1781.4M813.9,1754.4H823.8M813.9,1754.4V1781.4M823.8,1725.0V1781.4M834.5,1760.7H843.9M834.5,1760.7V1781.4M843.9,1766.6H850.9M843.9,1766.6V1781.4M850.9,1725.0V1781.4M864.6,1725.0V1781.4M881.1,1725.0V1781.4M890.0,1725.0V1781.4M901.5,1725.0V1781.4M908.4,1758.4H914.4M908.4,1758.4V1781.4M914.4,1725.0V1781.4M921.2,1725.0V1781.4M930.0,1765.4H943.6M930.0,1765.4V1781.4M943.6,1762.7H953.2M943.6,1762.7V1781.4M953.2,1759.1H957.0M953.2,1759.1V1781.4M957.0,1725.0V1781.4M965.0,1725.0V1781.4M1072.0,1725.0V1781.4M1080.0,1761.0H1091.6M1080.0,1761.0V1781.4M1091.6,1754.6H1095.0M1091.6,1754.6V1781.4M1095.0,1725.0V1781.4M1108.6,1725.0V1781.4M1121.6,1725.0V1781.4M1133.8,1763.5H1139.6M1133.8,1763.5V1781.4M1139.6,1725.0V1781.4M1150.0,1725.0V1781.4M1165.0,1725.0V1781.4M1175.0,1754.5H1186.0M1175.0,1754.5V1781.4M1186.0,1725.0V1781.4M1194.5,1725.0V1781.4M1205.9,1725.0V1781.4M1218.2,1725.0V1781.4M1232.0,1725.0V1781.4M1246.6,1725.0V1781.4M1255.4,1725.0V1781.4M1264.1,1725.0V1781.4M1279.7,1725.0V1781.4M1288.5,1725.0V1781.4M1301.4,1725.0V1781.4M1308.0,1725.0V1781.4M1317.2,1725.0V1781.4M1328.7,1725.0V1781.4M1333.8,1725.0V1781.4M1340.0,1725.0V1781.4" stroke="#2b2b2b" stroke-width="0.9" fill="none"/>
<path d="M222.4,1333.0H268.1V1389.4H222.4zM268.1,1333.0H273.0V1389.4H268.1zM290.0,1333.0H320.5V1389.4H290.0zM320.5,1333.0H349.5V1389.4H320.5zM349.5,1333.0H375.0V1389.4H349.5zM430.0,1333.0H469.9V1389.4H430.0zM469.9,1333.0H478.0V1389.4H469.9zM492.0,1333.0H535.0V1389.4H492.0zM572.0,1333.0H590.0V1389.4H572.0zM648.0,1333.0H662.0V1389.4H648.0zM895.0,1333.0H901.0V1389.4H895.0zM1090.0,1333.0H1119.9V1389.4H1090.0zM1119.9,1333.0H1165.6V1389.4H1119.9zM1165.6,1333.0H1201.9V1389.4H1165.6zM1201.9,1333.0H1228.1V1389.4H1201.9zM1228.1,1333.0H1245.0V1389.4H1228.1zM1270.0,1333.0H1290.0V1389.4H1270.0z" fill="url(#pg)"/>
<path d="M273.0,1333.0H290.0V1389.4H273.0zM1475.0,1333.0H1492.5V1389.4H1475.0z" fill="#CFCFCF"/>
<path d="M375.0,1369.9H390.7V1389.4H375.0zM390.7,1368.5H406.7V1389.4H390.7zM406.7,1366.4H414.7V1389.4H406.7zM414.7,1366.4H424.4V1389.4H414.7zM424.4,1369.4H430.0V1389.4H424.4zM478.0,1366.3H492.0V1389.4H478.0zM535.0,1370.1H548.7V1389.4H535.0zM548.7,1368.3H557.6V1389.4H548.7zM557.6,1368.9H572.0V1389.4H557.6zM866.0,1364.1H877.1V1389.4H866.0zM877.1,1372.5H886.8V1389.4H877.1zM886.8,1363.5H895.0V1389.4H886.8zM1030.0,1367.6H1036.7V1389.4H1030.0zM1458.8,1370.8H1466.2V1389.4H1458.8zM1466.2,1366.5H1475.0V1389.4H1466.2z" fill="#8B3325"/>
<path d="M590.0,1370.3H603.4V1389.4H590.0zM603.4,1365.1H614.8V1389.4H603.4zM614.8,1372.7H623.3V1389.4H614.8zM623.3,1367.0H630.5V1389.4H623.3zM630.5,1364.0H641.1V1389.4H630.5zM641.1,1363.2H648.0V1389.4H641.1z" fill="#B0B0B0"/>
<path d="M662.0,1363.4H673.9V1389.4H662.0zM673.9,1369.4H686.7V1389.4H673.9zM686.7,1365.3H699.9V1389.4H686.7zM699.9,1366.9H713.7V1389.4H699.9zM713.7,1370.4H722.5V1389.4H713.7zM722.5,1361.4H736.4V1389.4H722.5zM736.4,1364.9H748.1V1389.4H736.4zM748.1,1369.3H760.2V1389.4H748.1zM760.2,1363.7H768.0V1389.4H760.2zM1245.0,1366.3H1254.9V1389.4H1245.0zM1254.9,1371.5H1262.4V1389.4H1254.9zM1262.4,1371.2H1270.0V1389.4H1262.4zM1290.0,1362.6H1300.0V1389.4H1290.0zM1300.0,1366.2H1310.0V1389.4H1300.0zM1310.0,1366.1H1320.0V1389.4H1310.0z" fill="#C4C4BA"/>
<path d="M768.0,1333.0H779.1V1389.4H768.0zM786.0,1333.0H797.7V1389.4H786.0zM806.5,1333.0H814.7V1389.4H806.5zM814.7,1333.0H822.9V1389.4H814.7zM822.9,1333.0H835.2V1389.4H822.9zM843.5,1333.0H857.0V1389.4H843.5zM1320.0,1333.0H1332.0V1389.4H1320.0z" fill="url(#pr)"/>
<path d="M779.1,1333.0H786.0V1389.4H779.1zM857.0,1333.0H866.0V1389.4H857.0z" fill="#A9A9A9"/>
<path d="M797.7,1333.0H806.5V1389.4H797.7zM835.2,1333.0H843.5V1389.4H835.2z" fill="url(#ps)"/>
<path d="M901.0,1333.0H1030.0V1389.4H901.0z" fill="url(#pl)"/>
<path d="M1036.7,1333.0H1040.0V1389.4H1036.7zM1450.0,1333.0H1458.8V1389.4H1450.0z" fill="#fff"/>
<path d="M1040.0,1333.0H1090.0V1389.4H1040.0z" fill="url(#plb)"/>
<path d="M1332.0,1333.0H1450.0V1389.4H1332.0z" fill="url(#psd)"/>
<path d="M222.4,1333.0V1389.4M268.1,1333.0V1389.4M273.0,1333.0V1389.4M290.0,1333.0V1389.4M320.5,1333.0V1389.4M349.5,1333.0V1389.4M375.0,1369.9H390.7M375.0,1369.9V1389.4M390.7,1368.5H406.7M390.7,1368.5V1389.4M406.7,1366.4H414.7M406.7,1366.4V1389.4M414.7,1366.4H424.4M414.7,1366.4V1389.4M424.4,1369.4H430.0M424.4,1369.4V1389.4M430.0,1333.0V1389.4M469.9,1333.0V1389.4M478.0,1366.3H492.0M478.0,1366.3V1389.4M492.0,1333.0V1389.4M535.0,1370.1H548.7M535.0,1370.1V1389.4M548.7,1368.3H557.6M548.7,1368.3V1389.4M557.6,1368.9H572.0M557.6,1368.9V1389.4M572.0,1333.0V1389.4M590.0,1370.3H603.4M590.0,1370.3V1389.4M603.4,1365.1H614.8M603.4,1365.1V1389.4M614.8,1372.7H623.3M614.8,1372.7V1389.4M623.3,1367.0H630.5M623.3,1367.0V1389.4M630.5,1364.0H641.1M630.5,1364.0V1389.4M641.1,1363.2H648.0M641.1,1363.2V1389.4M648.0,1333.0V1389.4M662.0,1363.4H673.9M662.0,1363.4V1389.4M673.9,1369.4H686.7M673.9,1369.4V1389.4M686.7,1365.3H699.9M686.7,1365.3V1389.4M699.9,1366.9H713.7M699.9,1366.9V1389.4M713.7,1370.4H722.5M713.7,1370.4V1389.4M722.5,1361.4H736.4M722.5,1361.4V1389.4M736.4,1364.9H748.1M736.4,1364.9V1389.4M748.1,1369.3H760.2M748.1,1369.3V1389.4M760.2,1363.7H768.0M760.2,1363.7V1389.4M768.0,1333.0V1389.4M779.1,1333.0V1389.4M786.0,1333.0V1389.4M797.7,1333.0V1389.4M806.5,1333.0V1389.4M814.7,1333.0V1389.4M822.9,1333.0V1389.4M835.2,1333.0V1389.4M843.5,1333.0V1389.4M857.0,1333.0V1389.4M866.0,1364.1H877.1M866.0,1364.1V1389.4M877.1,1372.5H886.8M877.1,1372.5V1389.4M886.8,1363.5H895.0M886.8,1363.5V1389.4M895.0,1333.0V1389.4M901.0,1333.0V1389.4M1030.0,1367.6H1036.7M1030.0,1367.6V1389.4M1036.7,1333.0V1389.4M1040.0,1333.0V1389.4M1090.0,1333.0V1389.4M1119.9,1333.0V1389.4M1165.6,1333.0V1389.4M1201.9,1333.0V1389.4M1228.1,1333.0V1389.4M1245.0,1366.3H1254.9M1245.0,1366.3V1389.4M1254.9,1371.5H1262.4M1254.9,1371.5V1389.4M1262.4,1371.2H1270.0M1262.4,1371.2V1389.4M1270.0,1333.0V1389.4M1290.0,1362.6H1300.0M1290.0,1362.6V1389.4M1300.0,1366.2H1310.0M1300.0,1366.2V1389.4M1310.0,1366.1H1320.0M1310.0,1366.1V1389.4M1320.0,1333.0V1389.4M1332.0,1333.0V1389.4M1450.0,1333.0V1389.4M1458.8,1370.8H1466.2M1458.8,1370.8V1389.4M1466.2,1366.5H1475.0M1466.2,1366.5V1389.4M1475.0,1333.0V1389.4" stroke="#2b2b2b" stroke-width="0.9" fill="none"/>
<path d="M222.4,942.7H262.5V999.5H222.4zM262.5,942.7H303.8V999.5H262.5zM303.8,942.7H320.0V999.5H303.8z" fill="url(#pg)"/>
<path d="M320.0,980.5H325.6V999.5H320.0zM403.8,977.7H415.7V999.5H403.8zM415.7,974.5H427.5V999.5H415.7zM486.4,971.3H497.6V999.5H486.4zM534.0,974.3H543.0V999.5H534.0zM559.8,980.7H567.1V999.5H559.8zM671.8,975.9H679.5V999.5H671.8zM685.2,983.3H694.9V999.5H685.2zM753.6,976.5H759.7V999.5H753.6zM764.9,983.1H775.6V999.5H764.9zM1004.9,971.2H1014.8V999.5H1004.9zM1014.8,977.8H1022.2V999.5H1014.8zM1022.2,972.4H1032.1V999.5H1022.2zM1045.8,979.2H1055.5V999.5H1045.8z" fill="#8B3325"/>
<path d="M325.6,942.7H336.4V999.5H325.6zM336.4,942.7H348.1V999.5H336.4zM348.1,942.7H362.0V999.5H348.1zM876.6,942.7H884.9V999.5H876.6zM884.9,942.7H900.0V999.5H884.9zM900.0,942.7H915.7V999.5H900.0zM915.7,942.7H930.5V999.5H915.7zM930.5,942.7H944.2V999.5H930.5zM944.2,942.7H960.1V999.5H944.2zM960.1,942.7H970.1V999.5H960.1zM970.1,942.7H983.1V999.5H970.1zM983.1,942.7H994.9V999.5H983.1zM994.9,942.7H1000.0V999.5H994.9z" fill="url(#pr)"/>
<path d="M362.0,980.2H373.6V999.5H362.0zM373.6,975.0H389.3V999.5H373.6zM389.3,976.2H394.0V999.5H389.3z" fill="#B0B0B0"/>
<path d="M394.0,942.7H403.8V999.5H394.0zM427.5,942.7H457.1V999.5H427.5zM457.1,942.7H486.4V999.5H457.1zM497.6,942.7H527.5V999.5H497.6zM548.6,942.7H559.8V999.5H548.6zM567.1,942.7H578.5V999.5H567.1zM578.5,942.7H593.5V999.5H578.5zM599.1,942.7H625.9V999.5H599.1zM630.2,942.7H649.2V999.5H630.2zM649.2,942.7H671.8V999.5H649.2zM694.9,942.7H720.3V999.5H694.9zM720.3,942.7H729.8V999.5H720.3zM729.8,942.7H753.6V999.5H729.8zM779.9,942.7H801.7V999.5H779.9zM801.7,942.7H821.7V999.5H801.7zM821.7,942.7H830.0V999.5H821.7z" fill="url(#ps)"/>
<path d="M527.5,942.7H534.0V999.5H527.5zM543.0,942.7H548.6V999.5H543.0zM593.5,942.7H599.1V999.5H593.5zM625.9,942.7H630.2V999.5H625.9zM679.5,942.7H685.2V999.5H679.5zM759.7,942.7H764.9V999.5H759.7zM775.6,942.7H779.9V999.5H775.6zM870.0,942.7H876.6V999.5H870.0zM1000.0,942.7H1004.9V999.5H1000.0zM1032.1,942.7H1038.3V999.5H1032.1z" fill="#A9A9A9"/>
<path d="M830.0,973.6H841.0V999.5H830.0zM841.0,984.8H851.2V999.5H841.0zM851.2,974.5H862.0V999.5H851.2zM862.0,976.4H870.0V999.5H862.0z" fill="#CF8CE0"/>
<path d="M1038.3,942.7H1045.8V999.5H1038.3z" fill="#fff"/>
<path d="M222.4,942.7V999.5M262.5,942.7V999.5M303.8,942.7V999.5M320.0,980.5H325.6M320.0,980.5V999.5M325.6,942.7V999.5M336.4,942.7V999.5M348.1,942.7V999.5M362.0,980.2H373.6M362.0,980.2V999.5M373.6,975.0H389.3M373.6,975.0V999.5M389.3,976.2H394.0M389.3,976.2V999.5M394.0,942.7V999.5M403.8,977.7H415.7M403.8,977.7V999.5M415.7,974.5H427.5M415.7,974.5V999.5M427.5,942.7V999.5M457.1,942.7V999.5M486.4,971.3H497.6M486.4,971.3V999.5M497.6,942.7V999.5M527.5,942.7V999.5M534.0,974.3H543.0M534.0,974.3V999.5M543.0,942.7V999.5M548.6,942.7V999.5M559.8,980.7H567.1M559.8,980.7V999.5M567.1,942.7V999.5M578.5,942.7V999.5M593.5,942.7V999.5M599.1,942.7V999.5M625.9,942.7V999.5M630.2,942.7V999.5M649.2,942.7V999.5M671.8,975.9H679.5M671.8,975.9V999.5M679.5,942.7V999.5M685.2,983.3H694.9M685.2,983.3V999.5M694.9,942.7V999.5M720.3,942.7V999.5M729.8,942.7V999.5M753.6,976.5H759.7M753.6,976.5V999.5M759.7,942.7V999.5M764.9,983.1H775.6M764.9,983.1V999.5M775.6,942.7V999.5M779.9,942.7V999.5M801.7,942.7V999.5M821.7,942.7V999.5M830.0,973.6H841.0M830.0,973.6V999.5M841.0,984.8H851.2M841.0,984.8V999.5M851.2,974.5H862.0M851.2,974.5V999.5M862.0,976.4H870.0M862.0,976.4V999.5M870.0,942.7V999.5M876.6,942.7V999.5M884.9,942.7V999.5M900.0,942.7V999.5M915.7,942.7V999.5M930.5,942.7V999.5M944.2,942.7V999.5M960.1,942.7V999.5M970.1,942.7V999.5M983.1,942.7V999.5M994.9,942.7V999.5M1000.0,942.7V999.5M1004.9,971.2H1014.8M1004.9,971.2V999.5M1014.8,977.8H1022.2M1014.8,977.8V999.5M1022.2,972.4H1032.1M1022.2,972.4V999.5M1032.1,942.7V999.5M1038.3,942.7V999.5M1045.8,979.2H1055.5M1045.8,979.2V999.5" stroke="#2b2b2b" stroke-width="0.9" fill="none"/>
<path d="M222.4,550.0H255.3V607.0H222.4zM255.3,550.0H273.0V607.0H255.3zM722.0,550.0H771.4V607.0H722.0zM771.4,550.0H800.0V607.0H771.4z" fill="url(#pg)"/>
<path d="M273.0,550.0H440.0V607.0H273.0zM440.0,550.0H446.8V607.0H440.0zM446.8,550.0H451.8V607.0H446.8zM451.8,550.0H456.0V607.0H451.8zM558.0,550.0H566.0V607.0H558.0zM625.0,550.0H716.0V607.0H625.0zM800.0,550.0H968.0V607.0H800.0z" fill="url(#pb)"/>
<path d="M456.0,550.0H558.0V607.0H456.0z" fill="url(#pbg)"/>
<path d="M566.0,586.6H573.7V607.0H566.0zM573.7,583.6H584.1V607.0H573.7zM584.1,590.9H592.1V607.0H584.1zM592.1,587.3H605.1V607.0H592.1zM605.1,589.5H612.9V607.0H605.1zM612.9,581.4H625.0V607.0H612.9z" fill="#CF8CE0"/>
<path d="M716.0,550.0H722.0V607.0H716.0z" fill="url(#pr)"/>
<path d="M968.0,550.0H1027.0V607.0H968.0z" fill="url(#pp)"/>
<path d="M222.4,550.0V607.0M255.3,550.0V607.0M273.0,550.0V607.0M440.0,550.0V607.0M446.8,550.0V607.0M451.8,550.0V607.0M456.0,550.0V607.0M558.0,550.0V607.0M566.0,586.6H573.7M566.0,586.6V607.0M573.7,583.6H584.1M573.7,583.6V607.0M584.1,590.9H592.1M584.1,590.9V607.0M592.1,587.3H605.1M592.1,587.3V607.0M605.1,589.5H612.9M605.1,589.5V607.0M612.9,581.4H625.0M612.9,581.4V607.0M625.0,550.0V607.0M716.0,550.0V607.0M722.0,550.0V607.0M771.4,550.0V607.0M800.0,550.0V607.0M968.0,550.0V607.0" stroke="#2b2b2b" stroke-width="0.9" fill="none"/>
<path d="M222.4,157.5H277.5V213.5H222.4zM277.5,157.5H323.7V213.5H277.5zM323.7,157.5H362.2V213.5H323.7zM362.2,157.5H401.3V213.5H362.2zM401.3,157.5H455.2V213.5H401.3zM455.2,157.5H500.1V213.5H455.2zM500.1,157.5H529.1V213.5H500.1zM529.1,157.5H573.0V213.5H529.1zM573.0,157.5H617.5V213.5H573.0zM617.5,157.5H662.4V213.5H617.5zM662.4,157.5H693.2V213.5H662.4zM693.2,157.5H744.6V213.5H693.2zM744.6,157.5H785.0V213.5H744.6zM800.0,157.5H803.0V213.5H800.0zM811.0,157.5H852.5V213.5H811.0zM852.5,157.5H881.6V213.5H852.5zM881.6,157.5H890.0V213.5H881.6zM922.0,157.5H940.0V213.5H922.0zM955.0,157.5H999.2V213.5H955.0zM999.2,157.5H1059.1V213.5H999.2zM1059.1,157.5H1117.0V213.5H1059.1zM1117.0,157.5H1156.2V213.5H1117.0zM1156.2,157.5H1160.0V213.5H1156.2zM1170.0,157.5H1227.2V213.5H1170.0zM1227.2,157.5H1258.8V213.5H1227.2zM1258.8,157.5H1275.0V213.5H1258.8zM1295.0,157.5H1305.0V213.5H1295.0zM1335.0,157.5H1348.0V213.5H1335.0zM1362.0,157.5H1378.0V213.5H1362.0zM1418.0,157.5H1448.0V213.5H1418.0zM1468.0,157.5H1506.6V213.5H1468.0zM1506.6,157.5H1551.1V213.5H1506.6zM1551.1,157.5H1577.1V213.5H1551.1zM1577.1,157.5H1609.0V213.5H1577.1zM1646.0,157.5H1674.0V213.5H1646.0zM1689.0,157.5H1702.0V213.5H1689.0zM1727.0,157.5H1766.9V213.5H1727.0zM1766.9,157.5H1775.0V213.5H1766.9zM1795.0,157.5H1845.5V213.5H1795.0zM1845.5,157.5H1872.0V213.5H1845.5zM1872.0,157.5H1892.8V213.5H1872.0z" fill="url(#pg)"/>
<path d="M785.0,194.1H792.1V213.5H785.0zM792.1,192.0H800.0V213.5H792.1zM803.0,192.3H811.0V213.5H803.0zM890.0,197.3H899.6V213.5H890.0zM899.6,192.8H914.2V213.5H899.6zM914.2,194.8H922.0V213.5H914.2zM940.0,187.4H948.7V213.5H940.0zM948.7,190.1H955.0V213.5H948.7zM1160.0,194.6H1170.0V213.5H1160.0zM1275.0,194.7H1288.5V213.5H1275.0zM1288.5,197.9H1295.0V213.5H1288.5zM1305.0,195.8H1314.8V213.5H1305.0zM1314.8,189.7H1326.3V213.5H1314.8zM1326.3,185.6H1335.0V213.5H1326.3zM1348.0,188.6H1362.0V213.5H1348.0zM1378.0,193.7H1393.0V213.5H1378.0zM1393.0,186.6H1407.7V213.5H1393.0zM1407.7,199.2H1418.0V213.5H1407.7zM1448.0,193.1H1455.8V213.5H1448.0zM1455.8,186.4H1463.2V213.5H1455.8zM1463.2,196.0H1468.0V213.5H1463.2zM1609.0,193.3H1620.2V213.5H1609.0zM1620.2,193.4H1630.1V213.5H1620.2zM1630.1,196.1H1646.0V213.5H1630.1zM1674.0,197.8H1682.0V213.5H1674.0zM1682.0,194.6H1689.0V213.5H1682.0zM1702.0,189.4H1712.9V213.5H1702.0zM1712.9,187.2H1721.3V213.5H1712.9zM1721.3,194.4H1727.0V213.5H1721.3zM1775.0,189.0H1784.0V213.5H1775.0zM1784.0,191.7H1791.9V213.5H1784.0zM1791.9,189.8H1795.0V213.5H1791.9z" fill="#B0B0B0"/>
<path d="M222.4,157.5V213.5M277.5,157.5V213.5M323.7,157.5V213.5M362.2,157.5V213.5M401.3,157.5V213.5M455.2,157.5V213.5M500.1,157.5V213.5M529.1,157.5V213.5M573.0,157.5V213.5M617.5,157.5V213.5M662.4,157.5V213.5M693.2,157.5V213.5M744.6,157.5V213.5M785.0,194.1H792.1M785.0,194.1V213.5M792.1,192.0H800.0M792.1,192.0V213.5M800.0,157.5V213.5M803.0,192.3H811.0M803.0,192.3V213.5M811.0,157.5V213.5M852.5,157.5V213.5M881.6,157.5V213.5M890.0,197.3H899.6M890.0,197.3V213.5M899.6,192.8H914.2M899.6,192.8V213.5M914.2,194.8H922.0M914.2,194.8V213.5M922.0,157.5V213.5M940.0,187.4H948.7M940.0,187.4V213.5M948.7,190.1H955.0M948.7,190.1V213.5M955.0,157.5V213.5M999.2,157.5V213.5M1059.1,157.5V213.5M1117.0,157.5V213.5M1156.2,157.5V213.5M1160.0,194.6H1170.0M1160.0,194.6V213.5M1170.0,157.5V213.5M1227.2,157.5V213.5M1258.8,157.5V213.5M1275.0,194.7H1288.5M1275.0,194.7V213.5M1288.5,197.9H1295.0M1288.5,197.9V213.5M1295.0,157.5V213.5M1305.0,195.8H1314.8M1305.0,195.8V213.5M1314.8,189.7H1326.3M1314.8,189.7V213.5M1326.3,185.6H1335.0M1326.3,185.6V213.5M1335.0,157.5V213.5M1348.0,188.6H1362.0M1348.0,188.6V213.5M1362.0,157.5V213.5M1378.0,193.7H1393.0M1378.0,193.7V213.5M1393.0,186.6H1407.7M1393.0,186.6V213.5M1407.7,199.2H1418.0M1407.7,199.2V213.5M1418.0,157.5V213.5M1448.0,193.1H1455.8M1448.0,193.1V213.5M1455.8,186.4H1463.2M1455.8,186.4V213.5M1463.2,196.0H1468.0M1463.2,196.0V213.5M1468.0,157.5V213.5M1506.6,157.5V213.5M1551.1,157.5V213.5M1577.1,157.5V213.5M1609.0,193.3H1620.2M1609.0,193.3V213.5M1620.2,193.4H1630.1M1620.2,193.4V213.5M1630.1,196.1H1646.0M1630.1,196.1V213.5M1646.0,157.5V213.5M1674.0,197.8H1682.0M1674.0,197.8V213.5M1682.0,194.6H1689.0M1682.0,194.6V213.5M1689.0,157.5V213.5M1702.0,189.4H1712.9M1702.0,189.4V213.5M1712.9,187.2H1721.3M1712.9,187.2V213.5M1721.3,194.4H1727.0M1721.3,194.4V213.5M1727.0,157.5V213.5M1766.9,157.5V213.5M1775.0,189.0H1784.0M1775.0,189.0V213.5M1784.0,191.7H1791.9M1784.0,191.7V213.5M1791.9,189.8H1795.0M1791.9,189.8V213.5M1795.0,157.5V213.5M1845.5,157.5V213.5M1872.0,157.5V213.5" stroke="#2b2b2b" stroke-width="0.9" fill="none"/>
<polyline points="273.3,26.0 273.3,3949.0" fill="none" stroke="#3E3A39" stroke-width="2.8" />
<polyline points="222.4,23.0 222.4,3951.5" fill="none" stroke="#3E3A39" stroke-width="2.8" />
<polyline points="935.5,3950.0 935.5,3577.0 622.8,3521.0 622.8,3202.0 865.0,3133.0 865.0,2761.0 707.0,2698.0 707.0,2400.0 903.0,2332.0 903.0,2007.0 958.0,1923.0 958.0,1588.0 901.0,1546.0 901.0,1200.6 1055.5,1174.7 1055.5,839.3 873.6,756.5 873.6,452.4 1032.6,387.0 1032.6,27.0" fill="none" stroke="#3E3A39" stroke-width="2.8" stroke-linejoin="miter"/>
<polyline points="1180.4,3951.0 1180.4,3595.5 1012.6,3547.3 1012.6,3208.0 1271.2,3135.3 1271.2,2796.5 1005.3,2721.8 1005.3,2375.5 1446.0,2335.5 1446.0,2018.0 1337.3,1934.0 1337.3,1633.8 1447.7,1556.2 1447.7,1263.8 1055.5,1174.7 1055.5,839.3 962.8,759.0 962.8,454.0 1895.5,377.0 1895.5,78.0" fill="none" stroke="#3E3A39" stroke-width="2.8" stroke-linejoin="miter"/>
<text transform="translate(334.0,3806.4) rotate(-90)" font-size="30" text-anchor="middle" textLength="57.0" lengthAdjust="spacingAndGlyphs" stroke="#231815" stroke-width="0.45">5000</text>
<text transform="translate(568.1,3806.4) rotate(-90)" font-size="30" text-anchor="middle" textLength="57.0" lengthAdjust="spacingAndGlyphs" stroke="#231815" stroke-width="0.45">5100</text>
<text transform="translate(802.2,3806.4) rotate(-90)" font-size="30" text-anchor="middle" textLength="57.0" lengthAdjust="spacingAndGlyphs" stroke="#231815" stroke-width="0.45">5200</text>
<text transform="translate(1036.3,3806.4) rotate(-90)" font-size="30" text-anchor="middle" textLength="57.0" lengthAdjust="spacingAndGlyphs" stroke="#231815" stroke-width="0.45">5300</text>
<text transform="translate(1270.4,3806.4) rotate(-90)" font-size="30" text-anchor="middle" textLength="57.0" lengthAdjust="spacingAndGlyphs" stroke="#231815" stroke-width="0.45">5400</text>
<text transform="translate(314.1,3405.4) rotate(-90)" font-size="30" text-anchor="middle" textLength="57.0" lengthAdjust="spacingAndGlyphs" stroke="#231815" stroke-width="0.45">5300</text>
<text transform="translate(547.5,3405.4) rotate(-90)" font-size="30" text-anchor="middle" textLength="57.0" lengthAdjust="spacingAndGlyphs" stroke="#231815" stroke-width="0.45">5400</text>
<text transform="translate(780.9,3405.4) rotate(-90)" font-size="30" text-anchor="middle" textLength="57.0" lengthAdjust="spacingAndGlyphs" stroke="#231815" stroke-width="0.45">5500</text>
<text transform="translate(1014.3,3405.4) rotate(-90)" font-size="30" text-anchor="middle" textLength="57.0" lengthAdjust="spacingAndGlyphs" stroke="#231815" stroke-width="0.45">5600</text>
<text transform="translate(434.3,3013.0) rotate(-90)" font-size="30" text-anchor="middle" textLength="57.0" lengthAdjust="spacingAndGlyphs" stroke="#231815" stroke-width="0.45">5800</text>
<text transform="translate(669.0,3013.0) rotate(-90)" font-size="30" text-anchor="middle" textLength="57.0" lengthAdjust="spacingAndGlyphs" stroke="#231815" stroke-width="0.45">5900</text>
<text transform="translate(903.7,3013.0) rotate(-90)" font-size="30" text-anchor="middle" textLength="57.0" lengthAdjust="spacingAndGlyphs" stroke="#231815" stroke-width="0.45">6000</text>
<text transform="translate(1138.4,3013.0) rotate(-90)" font-size="30" text-anchor="middle" textLength="57.0" lengthAdjust="spacingAndGlyphs" stroke="#231815" stroke-width="0.45">6100</text>
<text transform="translate(341.8,2607.0) rotate(-90)" font-size="30" text-anchor="middle" textLength="57.0" lengthAdjust="spacingAndGlyphs" stroke="#231815" stroke-width="0.45">1500</text>
<text transform="translate(556.3,2607.0) rotate(-90)" font-size="30" text-anchor="middle" textLength="57.0" lengthAdjust="spacingAndGlyphs" stroke="#231815" stroke-width="0.45">1600</text>
<text transform="translate(770.8,2607.0) rotate(-90)" font-size="30" text-anchor="middle" textLength="57.0" lengthAdjust="spacingAndGlyphs" stroke="#231815" stroke-width="0.45">1700</text>
<text transform="translate(985.3,2607.0) rotate(-90)" font-size="30" text-anchor="middle" textLength="57.0" lengthAdjust="spacingAndGlyphs" stroke="#231815" stroke-width="0.45">1800</text>
<text transform="translate(459.5,2216.4) rotate(-90)" font-size="30" text-anchor="middle" textLength="57.0" lengthAdjust="spacingAndGlyphs" stroke="#231815" stroke-width="0.45">3900</text>
<text transform="translate(674.5,2216.4) rotate(-90)" font-size="30" text-anchor="middle" textLength="57.0" lengthAdjust="spacingAndGlyphs" stroke="#231815" stroke-width="0.45">4000</text>
<text transform="translate(889.5,2216.4) rotate(-90)" font-size="30" text-anchor="middle" textLength="57.0" lengthAdjust="spacingAndGlyphs" stroke="#231815" stroke-width="0.45">4100</text>
<text transform="translate(1104.5,2216.4) rotate(-90)" font-size="30" text-anchor="middle" textLength="57.0" lengthAdjust="spacingAndGlyphs" stroke="#231815" stroke-width="0.45">4200</text>
<text transform="translate(1319.5,2216.4) rotate(-90)" font-size="30" text-anchor="middle" textLength="57.0" lengthAdjust="spacingAndGlyphs" stroke="#231815" stroke-width="0.45">4300</text>
<text transform="translate(475.0,1830.7) rotate(-90)" font-size="30" text-anchor="middle" textLength="57.0" lengthAdjust="spacingAndGlyphs" stroke="#231815" stroke-width="0.45">5100</text>
<text transform="translate(690.3,1830.7) rotate(-90)" font-size="30" text-anchor="middle" textLength="57.0" lengthAdjust="spacingAndGlyphs" stroke="#231815" stroke-width="0.45">5200</text>
<text transform="translate(905.6,1830.7) rotate(-90)" font-size="30" text-anchor="middle" textLength="57.0" lengthAdjust="spacingAndGlyphs" stroke="#231815" stroke-width="0.45">5300</text>
<text transform="translate(1120.9,1830.7) rotate(-90)" font-size="30" text-anchor="middle" textLength="57.0" lengthAdjust="spacingAndGlyphs" stroke="#231815" stroke-width="0.45">5400</text>
<text transform="translate(1336.2,1830.7) rotate(-90)" font-size="30" text-anchor="middle" textLength="57.0" lengthAdjust="spacingAndGlyphs" stroke="#231815" stroke-width="0.45">5500</text>
<text transform="translate(362.9,1436.0) rotate(-90)" font-size="30" text-anchor="middle" textLength="57.0" lengthAdjust="spacingAndGlyphs" stroke="#231815" stroke-width="0.45">5400</text>
<text transform="translate(576.9,1436.0) rotate(-90)" font-size="30" text-anchor="middle" textLength="57.0" lengthAdjust="spacingAndGlyphs" stroke="#231815" stroke-width="0.45">5500</text>
<text transform="translate(790.9,1436.0) rotate(-90)" font-size="30" text-anchor="middle" textLength="57.0" lengthAdjust="spacingAndGlyphs" stroke="#231815" stroke-width="0.45">5600</text>
<text transform="translate(1004.9,1436.0) rotate(-90)" font-size="30" text-anchor="middle" textLength="57.0" lengthAdjust="spacingAndGlyphs" stroke="#231815" stroke-width="0.45">5700</text>
<text transform="translate(1218.9,1436.0) rotate(-90)" font-size="30" text-anchor="middle" textLength="57.0" lengthAdjust="spacingAndGlyphs" stroke="#231815" stroke-width="0.45">5800</text>
<text transform="translate(424.2,1043.0) rotate(-90)" font-size="30" text-anchor="middle" textLength="57.0" lengthAdjust="spacingAndGlyphs" stroke="#231815" stroke-width="0.45">6500</text>
<text transform="translate(637.9,1043.0) rotate(-90)" font-size="30" text-anchor="middle" textLength="57.0" lengthAdjust="spacingAndGlyphs" stroke="#231815" stroke-width="0.45">6600</text>
<text transform="translate(851.6,1043.0) rotate(-90)" font-size="30" text-anchor="middle" textLength="57.0" lengthAdjust="spacingAndGlyphs" stroke="#231815" stroke-width="0.45">6700</text>
<text transform="translate(1050.5,1043.0) rotate(-90)" font-size="30" text-anchor="middle" textLength="57.0" lengthAdjust="spacingAndGlyphs" stroke="#231815" stroke-width="0.45">6800</text>
<text transform="translate(414.7,652.7) rotate(-90)" font-size="30" text-anchor="middle" textLength="57.0" lengthAdjust="spacingAndGlyphs" stroke="#231815" stroke-width="0.45">6900</text>
<text transform="translate(628.4,652.7) rotate(-90)" font-size="30" text-anchor="middle" textLength="57.0" lengthAdjust="spacingAndGlyphs" stroke="#231815" stroke-width="0.45">7000</text>
<text transform="translate(842.1,652.7) rotate(-90)" font-size="30" text-anchor="middle" textLength="57.0" lengthAdjust="spacingAndGlyphs" stroke="#231815" stroke-width="0.45">7100</text>
<text transform="translate(455.9,257.0) rotate(-90)" font-size="30" text-anchor="middle" textLength="57.0" lengthAdjust="spacingAndGlyphs" stroke="#231815" stroke-width="0.45">6000</text>
<text transform="translate(669.9,257.0) rotate(-90)" font-size="30" text-anchor="middle" textLength="57.0" lengthAdjust="spacingAndGlyphs" stroke="#231815" stroke-width="0.45">6100</text>
<text transform="translate(883.9,257.0) rotate(-90)" font-size="30" text-anchor="middle" textLength="57.0" lengthAdjust="spacingAndGlyphs" stroke="#231815" stroke-width="0.45">6200</text>
<text transform="translate(1097.9,257.0) rotate(-90)" font-size="30" text-anchor="middle" textLength="57.0" lengthAdjust="spacingAndGlyphs" stroke="#231815" stroke-width="0.45">6300</text>
<text transform="translate(1311.9,257.0) rotate(-90)" font-size="30" text-anchor="middle" textLength="57.0" lengthAdjust="spacingAndGlyphs" stroke="#231815" stroke-width="0.45">6400</text>
<text transform="translate(1525.9,257.0) rotate(-90)" font-size="30" text-anchor="middle" textLength="57.0" lengthAdjust="spacingAndGlyphs" stroke="#231815" stroke-width="0.45">6500</text>
<text transform="translate(1739.9,257.0) rotate(-90)" font-size="30" text-anchor="middle" textLength="57.0" lengthAdjust="spacingAndGlyphs" stroke="#231815" stroke-width="0.45">6600</text>
<path d="M230.9,3761.0v10M254.3,3761.0v10M277.7,3761.0v10M301.1,3761.0v10M324.5,3761.0v10M347.9,3761.0v10M371.3,3761.0v10M394.7,3761.0v10M418.1,3761.0v10M441.6,3761.0v10M465.0,3761.0v10M488.4,3761.0v10M511.8,3761.0v10M535.2,3761.0v10M558.6,3761.0v10M582.0,3761.0v10M605.4,3761.0v10M628.8,3761.0v10M652.2,3761.0v10M675.6,3761.0v10M699.1,3761.0v10M722.5,3761.0v10M745.9,3761.0v10M769.3,3761.0v10M792.7,3761.0v10M816.1,3761.0v10M839.5,3761.0v10M862.9,3761.0v10M886.3,3761.0v10M909.8,3761.0v10M933.2,3761.0v10M956.6,3761.0v10M980.0,3761.0v10M1003.4,3761.0v10M1026.8,3761.0v10M1050.2,3761.0v10M1073.6,3761.0v10M1097.0,3761.0v10M1120.4,3761.0v10M1143.8,3761.0v10M1167.3,3761.0v10M1190.7,3761.0v10M1214.1,3761.0v10M1237.5,3761.0v10M1260.9,3761.0v10M234.6,3364.0v10M257.9,3364.0v10M281.3,3364.0v10M304.6,3364.0v10M327.9,3364.0v10M351.3,3364.0v10M374.6,3364.0v10M398.0,3364.0v10M421.3,3364.0v10M444.6,3364.0v10M468.0,3364.0v10M491.3,3364.0v10M514.7,3364.0v10M538.0,3364.0v10M561.3,3364.0v10M584.7,3364.0v10M608.0,3364.0v10M631.4,3364.0v10M654.7,3364.0v10M678.0,3364.0v10M701.4,3364.0v10M724.7,3364.0v10M748.1,3364.0v10M771.4,3364.0v10M794.7,3364.0v10M818.1,3364.0v10M841.4,3364.0v10M864.8,3364.0v10M888.1,3364.0v10M911.4,3364.0v10M934.8,3364.0v10M958.1,3364.0v10M981.5,3364.0v10M1004.8,3364.0v10M1028.1,3364.0v10M1051.5,3364.0v10M1074.8,3364.0v10M1098.2,3364.0v10M237.0,2969.0v10M260.5,2969.0v10M284.0,2969.0v10M307.5,2969.0v10M330.9,2969.0v10M354.4,2969.0v10M377.9,2969.0v10M401.3,2969.0v10M424.8,2969.0v10M448.3,2969.0v10M471.7,2969.0v10M495.2,2969.0v10M518.7,2969.0v10M542.1,2969.0v10M565.6,2969.0v10M589.1,2969.0v10M612.6,2969.0v10M636.0,2969.0v10M659.5,2969.0v10M683.0,2969.0v10M706.4,2969.0v10M729.9,2969.0v10M753.4,2969.0v10M776.9,2969.0v10M800.3,2969.0v10M823.8,2969.0v10M847.3,2969.0v10M870.7,2969.0v10M894.2,2969.0v10M917.7,2969.0v10M941.1,2969.0v10M964.6,2969.0v10M988.1,2969.0v10M1011.5,2969.0v10M1035.0,2969.0v10M1058.5,2969.0v10M1082.0,2969.0v10M1105.4,2969.0v10M1128.9,2969.0v10M1152.4,2969.0v10M1175.8,2969.0v10M1199.3,2969.0v10M1222.8,2969.0v10M1246.2,2969.0v10M1269.7,2969.0v10M1293.2,2969.0v10M1316.7,2969.0v10M1340.1,2969.0v10M246.5,2567.0v10M268.0,2567.0v10M289.4,2567.0v10M310.9,2567.0v10M332.3,2567.0v10M353.8,2567.0v10M375.2,2567.0v10M396.6,2567.0v10M418.1,2567.0v10M439.6,2567.0v10M461.0,2567.0v10M482.5,2567.0v10M503.9,2567.0v10M525.4,2567.0v10M546.8,2567.0v10M568.2,2567.0v10M589.7,2567.0v10M611.2,2567.0v10M632.6,2567.0v10M654.0,2567.0v10M675.5,2567.0v10M697.0,2567.0v10M718.4,2567.0v10M739.9,2567.0v10M761.3,2567.0v10M782.8,2567.0v10M804.2,2567.0v10M825.7,2567.0v10M847.1,2567.0v10M868.5,2567.0v10M890.0,2567.0v10M911.5,2567.0v10M932.9,2567.0v10M954.3,2567.0v10M975.8,2567.0v10M997.2,2567.0v10M1018.7,2567.0v10M1040.2,2567.0v10M1061.6,2567.0v10M235.0,2177.0v10M256.5,2177.0v10M278.0,2177.0v10M299.5,2177.0v10M321.0,2177.0v10M342.5,2177.0v10M364.0,2177.0v10M385.5,2177.0v10M407.0,2177.0v10M428.5,2177.0v10M450.0,2177.0v10M471.5,2177.0v10M493.0,2177.0v10M514.5,2177.0v10M536.0,2177.0v10M557.5,2177.0v10M579.0,2177.0v10M600.5,2177.0v10M622.0,2177.0v10M643.5,2177.0v10M665.0,2177.0v10M686.5,2177.0v10M708.0,2177.0v10M729.5,2177.0v10M751.0,2177.0v10M772.5,2177.0v10M794.0,2177.0v10M815.5,2177.0v10M837.0,2177.0v10M858.5,2177.0v10M880.0,2177.0v10M901.5,2177.0v10M923.0,2177.0v10M944.5,2177.0v10M966.0,2177.0v10M987.5,2177.0v10M1009.0,2177.0v10M1030.5,2177.0v10M1052.0,2177.0v10M1073.5,2177.0v10M1095.0,2177.0v10M1116.5,2177.0v10M1138.0,2177.0v10M1159.5,2177.0v10M1181.0,2177.0v10M1202.5,2177.0v10M1224.0,2177.0v10M1245.5,2177.0v10M1267.0,2177.0v10M1288.5,2177.0v10M1310.0,2177.0v10M1331.5,2177.0v10M1353.0,2177.0v10M1374.5,2177.0v10M1396.0,2177.0v10M1417.5,2177.0v10M1439.0,2177.0v10M1460.5,2177.0v10M1482.0,2177.0v10M1503.5,2177.0v10M250.2,1783.4v10M271.7,1783.4v10M293.3,1783.4v10M314.8,1783.4v10M336.3,1783.4v10M357.9,1783.4v10M379.4,1783.4v10M400.9,1783.4v10M422.4,1783.4v10M444.0,1783.4v10M465.5,1783.4v10M487.0,1783.4v10M508.6,1783.4v10M530.1,1783.4v10M551.6,1783.4v10M573.1,1783.4v10M594.7,1783.4v10M616.2,1783.4v10M637.7,1783.4v10M659.3,1783.4v10M680.8,1783.4v10M702.3,1783.4v10M723.9,1783.4v10M745.4,1783.4v10M766.9,1783.4v10M788.5,1783.4v10M810.0,1783.4v10M831.5,1783.4v10M853.0,1783.4v10M874.6,1783.4v10M896.1,1783.4v10M917.6,1783.4v10M939.2,1783.4v10M960.7,1783.4v10M982.2,1783.4v10M1003.8,1783.4v10M1025.3,1783.4v10M1046.8,1783.4v10M1068.3,1783.4v10M1089.9,1783.4v10M1111.4,1783.4v10M1132.9,1783.4v10M1154.5,1783.4v10M1176.0,1783.4v10M1197.5,1783.4v10M1219.0,1783.4v10M1240.6,1783.4v10M1262.1,1783.4v10M1283.6,1783.4v10M1305.2,1783.4v10M1326.7,1783.4v10M1348.2,1783.4v10M1369.8,1783.4v10M1391.3,1783.4v10M1412.8,1783.4v10M1434.3,1783.4v10M1455.9,1783.4v10M1477.4,1783.4v10M246.4,1391.4v10M267.8,1391.4v10M289.2,1391.4v10M310.6,1391.4v10M332.0,1391.4v10M353.4,1391.4v10M374.8,1391.4v10M396.2,1391.4v10M417.6,1391.4v10M439.0,1391.4v10M460.4,1391.4v10M481.8,1391.4v10M503.2,1391.4v10M524.6,1391.4v10M546.0,1391.4v10M567.4,1391.4v10M588.8,1391.4v10M610.2,1391.4v10M631.6,1391.4v10M653.0,1391.4v10M674.4,1391.4v10M695.8,1391.4v10M717.2,1391.4v10M738.6,1391.4v10M760.0,1391.4v10M781.4,1391.4v10M802.8,1391.4v10M824.2,1391.4v10M845.6,1391.4v10M867.0,1391.4v10M888.4,1391.4v10M909.8,1391.4v10M931.2,1391.4v10M952.6,1391.4v10M974.0,1391.4v10M995.4,1391.4v10M1016.8,1391.4v10M1038.2,1391.4v10M1059.6,1391.4v10M1081.0,1391.4v10M1102.4,1391.4v10M1123.8,1391.4v10M1145.2,1391.4v10M1166.6,1391.4v10M1188.0,1391.4v10M1209.4,1391.4v10M1230.8,1391.4v10M1252.2,1391.4v10M1273.6,1391.4v10M1295.0,1391.4v10M1316.4,1391.4v10M1337.8,1391.4v10M1359.2,1391.4v10M1380.6,1391.4v10M1402.0,1391.4v10M1423.4,1391.4v10M1444.8,1391.4v10M1466.2,1391.4v10M1487.6,1391.4v10M243.7,1001.5v10M265.1,1001.5v10M286.5,1001.5v10M307.9,1001.5v10M329.2,1001.5v10M350.6,1001.5v10M372.0,1001.5v10M393.3,1001.5v10M414.7,1001.5v10M436.1,1001.5v10M457.4,1001.5v10M478.8,1001.5v10M500.2,1001.5v10M521.5,1001.5v10M542.9,1001.5v10M564.3,1001.5v10M585.7,1001.5v10M607.0,1001.5v10M628.4,1001.5v10M649.8,1001.5v10M671.1,1001.5v10M692.5,1001.5v10M713.9,1001.5v10M735.2,1001.5v10M756.6,1001.5v10M778.0,1001.5v10M799.4,1001.5v10M820.7,1001.5v10M842.1,1001.5v10M863.5,1001.5v10M884.8,1001.5v10M906.2,1001.5v10M927.6,1001.5v10M949.0,1001.5v10M970.3,1001.5v10M991.7,1001.5v10M1013.1,1001.5v10M1034.4,1001.5v10M234.2,609.0v10M255.6,609.0v10M277.0,609.0v10M298.4,609.0v10M319.7,609.0v10M341.1,609.0v10M362.5,609.0v10M383.8,609.0v10M405.2,609.0v10M426.6,609.0v10M447.9,609.0v10M469.3,609.0v10M490.7,609.0v10M512.0,609.0v10M533.4,609.0v10M554.8,609.0v10M576.2,609.0v10M597.5,609.0v10M618.9,609.0v10M640.3,609.0v10M661.6,609.0v10M683.0,609.0v10M704.4,609.0v10M725.8,609.0v10M747.1,609.0v10M768.5,609.0v10M789.9,609.0v10M811.2,609.0v10M832.6,609.0v10M854.0,609.0v10M875.3,609.0v10M896.7,609.0v10M918.1,609.0v10M939.5,609.0v10M960.8,609.0v10M982.2,609.0v10M1003.6,609.0v10M1024.9,609.0v10M232.4,215.5v10M253.8,215.5v10M275.2,215.5v10M296.6,215.5v10M318.0,215.5v10M339.4,215.5v10M360.8,215.5v10M382.2,215.5v10M403.6,215.5v10M425.0,215.5v10M446.4,215.5v10M467.8,215.5v10M489.2,215.5v10M510.6,215.5v10M532.0,215.5v10M553.4,215.5v10M574.8,215.5v10M596.2,215.5v10M617.6,215.5v10M639.0,215.5v10M660.4,215.5v10M681.8,215.5v10M703.2,215.5v10M724.6,215.5v10M746.0,215.5v10M767.4,215.5v10M788.8,215.5v10M810.2,215.5v10M831.6,215.5v10M853.0,215.5v10M874.4,215.5v10M895.8,215.5v10M917.2,215.5v10M938.6,215.5v10M960.0,215.5v10M981.4,215.5v10M1002.8,215.5v10M1024.2,215.5v10M1045.6,215.5v10M1067.0,215.5v10M1088.4,215.5v10M1109.8,215.5v10M1131.2,215.5v10M1152.6,215.5v10M1174.0,215.5v10M1195.4,215.5v10M1216.8,215.5v10M1238.2,215.5v10M1259.6,215.5v10M1281.0,215.5v10M1302.4,215.5v10M1323.8,215.5v10M1345.2,215.5v10M1366.6,215.5v10M1388.0,215.5v10M1409.4,215.5v10M1430.8,215.5v10M1452.2,215.5v10M1473.6,215.5v10M1495.0,215.5v10M1516.4,215.5v10M1537.8,215.5v10M1559.2,215.5v10M1580.6,215.5v10M1602.0,215.5v10M1623.4,215.5v10M1644.8,215.5v10M1666.2,215.5v10M1687.6,215.5v10M1709.0,215.5v10M1730.4,215.5v10M1751.8,215.5v10M1773.2,215.5v10M1794.6,215.5v10M1816.0,215.5v10M1837.4,215.5v10M1858.8,215.5v10M1880.2,215.5v10" stroke="#4a4644" stroke-width="1.3" fill="none"/>
<path d="M1058,867L1068,867L1072,880L1076,867L1084.5,867V834" fill="none" stroke="#f00" stroke-width="2.4"/>
<path d="M1076,1153H1091" fill="none" stroke="#00f" stroke-width="8"/>
<path d="M222,3903.9 223.7,3906.2 225.4,3909.0 227.1,3906.8 228.8,3903.5 230.5,3904.8 232.2,3906.9 233.9,3909.5 235.6,3905.2 237.3,3902.6 239,3906.2 240.7,3907.6 242.4,3910.9 244.1,3911.4 245.8,3908.9 247.5,3907.1 249.2,3913.2 250.9,3909.4 252.6,3906.1 254.3,3903.3 256,3904.9 257.7,3905.9 259.4,3905.2 261.1,3905.5 262.8,3906.5 264.5,3908.0 266.2,3909.9 267.9,3908.7 269.6,3903.0 271.3,3906.1 273,3890.5 274.7,3872.6 276.4,3881.0 278.1,3899.3 279.8,3898.6 281.5,3900.7 283.2,3909.5 284.9,3906.0 286.6,3906.3 288.3,3901.1 290,3900.8 291.7,3903.0 293.4,3902.3 295.1,3903.1 296.8,3902.9 298.5,3900.0 300.2,3902.3 301.9,3900.2 303.6,3905.7 305.3,3902.8 307,3904.2 308.7,3903.3 310.4,3905.1 312.1,3902.2 313.8,3904.7 315.5,3903.2 317.2,3905.9 318.9,3905.7 320.6,3904.5 322.3,3901.4 324,3903.7 325.7,3904.1 327.4,3904.4 329.1,3888.6 330.8,3888.4 332.5,3901.1 334.2,3904.3 335.9,3903.8 337.6,3903.5 339.3,3901.4 341,3899.2 342.7,3894.9 344.4,3886.2 346.1,3893.3 347.8,3905.4 349.5,3907.3 351.2,3906.9 352.9,3906.5 354.6,3905.0 356.3,3905.7 358,3908.5 359.7,3904.9 361.4,3899.1 363.1,3892.3 364.8,3878.8 366.5,3888.9 368.2,3901.1 369.9,3894.6 371.6,3887.3 373.3,3880.3 375,3890.9 376.7,3904.3 378.4,3905.0 380.1,3901.5 381.8,3901.6 383.5,3902.8 385.2,3905.3 386.9,3905.7 388.6,3904.3 390.3,3906.8 392,3902.8 393.7,3904.6 395.4,3906.3 397.1,3903.8 398.8,3898.6 400.5,3898.0 402.2,3900.5 403.9,3902.6 405.6,3906.4 407.3,3902.0 409,3902.2 410.7,3903.8 412.4,3902.8 414.1,3896.6 415.8,3893.2 417.5,3882.5 419.2,3889.7 420.9,3902.0 422.6,3901.7 424.3,3902.5 426,3902.7 427.7,3891.2 429.4,3895.8 431.1,3907.9 432.8,3905.2 434.5,3908.6 436.2,3904.1 437.9,3902.1 439.6,3904.0 441.3,3906.8 443,3906.5 444.7,3905.4 446.4,3899.5 448.1,3899.0 449.8,3899.0 451.5,3899.2 453.2,3902.1 454.9,3901.4 456.6,3903.8 458.3,3903.4 460,3902.1 461.7,3902.6 463.4,3903.6 465.1,3905.2 466.8,3895.2 468.5,3878.3 470.2,3862.7 471.9,3884.5 473.6,3903.4 475.3,3904.6 477,3902.4 478.7,3880.2 480.4,3862.9 482.1,3869.6 483.8,3894.3 485.5,3906.0 487.2,3902.5 488.9,3896.4 490.6,3886.6 492.3,3876.0 494,3888.8 495.7,3900.9 497.4,3897.6 499.1,3908.5 500.8,3908.6 502.5,3907.3 504.2,3904.7 505.9,3898.4 507.6,3899.9 509.3,3897.2 511,3901.1 512.7,3896.4 514.4,3896.9 516.1,3901.7 517.8,3893.1 519.5,3875.6 521.2,3877.3 522.9,3894.2 524.6,3904.6 526.3,3901.2 528,3900.1 529.7,3899.5 531.4,3897.9 533.1,3898.3 534.8,3903.4 536.5,3904.7 538.2,3908.9 539.9,3905.8 541.6,3904.0 543.3,3900.9 545,3901.4 546.7,3884.5 548.4,3874.3 550.1,3893.2 551.8,3905.2 553.5,3906.1 555.2,3907.9 556.9,3906.1 558.6,3901.1 560.3,3873.1 562,3843.9 563.7,3869.6 565.4,3895.0 567.1,3895.6 568.8,3898.8 570.5,3900.9 572.2,3900.5 573.9,3905.1 575.6,3904.4 577.3,3894.4 579,3882.3 580.7,3875.8 582.4,3884.8 584.1,3902.0 585.8,3900.6 587.5,3904.8 589.2,3903.3 590.9,3893.0 592.6,3881.4 594.3,3880.8 596,3895.8 597.7,3901.1 599.4,3899.9 601.1,3900.1 602.8,3903.2 604.5,3903.1 606.2,3897.5 607.9,3884.5 609.6,3876.8 611.3,3875.8 613,3885.9 614.7,3886.9 616.4,3881.3 618.1,3874.6 619.8,3885.0 621.5,3897.0 623.2,3902.2 624.9,3900.4 626.6,3899.5 628.3,3905.4 630,3906.9 631.7,3904.8 633.4,3904.4 635.1,3904.0 636.8,3904.0 638.5,3902.9 640.2,3902.0 641.9,3899.2 643.6,3899.3 645.3,3905.0 647,3905.4 648.7,3904.4 650.4,3900.9 652.1,3891.4 653.8,3882.6 655.5,3876.6 657.2,3887.1 658.9,3897.2 660.6,3901.3 662.3,3900.0 664,3898.8 665.7,3898.0 667.4,3902.4 669.1,3896.7 670.8,3898.8 672.5,3899.1 674.2,3899.3 675.9,3901.1 677.6,3904.8 679.3,3904.1 681,3903.2 682.7,3901.5 684.4,3901.8 686.1,3904.6 687.8,3902.9 689.5,3900.0 691.2,3897.2 692.9,3888.0 694.6,3878.5 696.3,3888.6 698,3898.4 699.7,3902.6 701.4,3906.4 703.1,3903.2 704.8,3905.0 706.5,3906.1 708.2,3900.8 709.9,3897.9 711.6,3897.9 713.3,3902.4 715,3905.9 716.7,3901.5 718.4,3904.8 720.1,3903.0 721.8,3902.0 723.5,3901.1 725.2,3901.1 726.9,3897.4 728.6,3897.4 730.3,3896.9 732,3900.9 733.7,3907.1 735.4,3912.1 737.1,3907.2 738.8,3901.0 740.5,3900.9 742.2,3899.5 743.9,3906.1 745.6,3906.1 747.3,3902.9 749,3905.3 750.7,3905.6 752.4,3900.4 754.1,3900.3 755.8,3900.9 757.5,3901.9 759.2,3901.3 760.9,3887.8 762.6,3876.0 764.3,3861.8 766,3862.5 767.7,3880.4 769.4,3893.1 771.1,3897.6 772.8,3880.7 774.5,3869.7 776.2,3877.5 777.9,3885.7 779.6,3901.6 781.3,3902.8 783,3904.0 784.7,3903.3 786.4,3903.8 788.1,3884.5 789.8,3848.0 791.5,3877.5 793.2,3903.6 794.9,3901.1 796.6,3903.8 798.3,3900.8 800,3901.0 801.7,3904.2 803.4,3906.8 805.1,3900.7 806.8,3903.1 808.5,3907.8 810.2,3908.7 811.9,3905.6 813.6,3903.0 815.3,3902.4 817,3899.9 818.7,3900.7 820.4,3901.4 822.1,3901.8 823.8,3896.4 825.5,3875.7 827.2,3857.2 828.9,3880.4 830.6,3896.5 832.3,3900.9 834,3901.6 835.7,3901.5 837.4,3899.8 839.1,3900.7 840.8,3907.3 842.5,3893.5 844.2,3880.9 845.9,3884.4 847.6,3896.9 849.3,3907.1 851,3907.5 852.7,3900.7 854.4,3899.7 856.1,3901.6 857.8,3903.6 859.5,3906.7 861.2,3906.4 862.9,3896.5 864.6,3881.2 866.3,3870.8 868,3886.3 869.7,3902.7 871.4,3903.6 873.1,3901.4 874.8,3900.1 876.5,3904.3 878.2,3907.1 879.9,3907.9 881.6,3908.0 883.3,3908.0 885,3905.9 886.7,3906.4 888.4,3902.4 890.1,3902.3 891.8,3901.0 893.5,3903.9 895.2,3902.2 896.9,3902.5 898.6,3903.9 900.3,3907.0 902,3903.4 903.7,3901.1 905.4,3904.2 907.1,3901.1 908.8,3903.2 910.5,3890.5 912.2,3878.0 913.9,3861.0 915.6,3876.5 917.3,3888.7 919,3900.2 920.7,3894.1 922.4,3881.6 924.1,3892.5 925.8,3901.4 927.5,3906.4 929.2,3905.3 930.9,3908.5 932.6,3906.2 934.3,3906.1 936,3906.2 937.7,3902.7 939.4,3903.1 941.1,3902.9 942.8,3902.2 944.5,3903.5 946.2,3904.0 947.9,3903.8 949.6,3903.0 951.3,3901.7 953,3902.9 954.7,3903.1 956.4,3902.0 958.1,3902.6 959.8,3901.9 961.5,3902.6 963.2,3903.1 964.9,3903.6 966.6,3903.7 968.3,3903.8 970,3902.8 971.7,3902.9 973.4,3902.8 975.1,3903.0 976.8,3903.4 978.5,3904.0 980.2,3905.0 981.9,3902.4 983.6,3903.2 985.3,3903.2 987,3905.1 988.7,3905.1 990.4,3903.2 992.1,3903.7 993.8,3903.2 995.5,3904.1 997.2,3903.1 998.9,3903.3 1000.6,3903.3 1002.3,3903.4 1004,3903.0 1005.7,3901.9 1007.4,3903.0 1009.1,3904.1 1010.8,3903.8 1012.5,3903.0 1014.2,3903.4 1015.9,3903.9 1017.6,3903.7 1019.3,3903.7 1021,3904.7 1022.7,3903.4 1024.4,3903.1 1026.1,3901.4 1027.8,3893.2 1029.5,3884.8 1031.2,3888.2 1032.9,3896.8 1034.6,3904.3 1036.3,3903.9 1038,3903.7 1039.7,3905.3 1041.4,3904.6 1043.1,3902.9 1044.8,3903.6 1046.5,3902.9 1048.2,3904.5 1049.9,3903.2 1051.6,3888.6 1053.3,3869.6 1055,3856.5 1056.7,3870.3 1058.4,3887.1 1060.1,3876.7 1061.8,3849.7 1063.5,3842.4 1065.2,3870.8 1066.9,3888.2 1068.6,3879.7 1070.3,3868.0 1072,3885.1 1073.7,3906.5 1075.4,3905.6 1077.1,3902.8 1078.8,3901.5 1080.5,3899.8 1082.2,3899.2 1083.9,3900.7 1085.6,3905.7 1087.3,3895.7 1089,3882.1 1090.7,3876.3 1092.4,3890.7 1094.1,3902.7 1095.8,3883.4 1097.5,3860.5 1099.2,3871.5 1100.9,3897.2 1102.6,3906.0 1104.3,3891.7 1106,3872.0 1107.7,3890.8 1109.4,3904.3 1111.1,3909.5 1112.8,3904.1 1114.5,3903.1 1116.2,3906.6 1117.9,3904.7 1119.6,3907.9 1121.3,3906.0 1123,3905.4 1124.7,3903.8 1126.4,3900.4 1128.1,3899.5 1129.8,3907.0 1131.5,3907.2 1133.2,3907.2 1134.9,3908.1 1136.6,3907.7 1138.3,3898.1 1140,3881.8 1141.7,3894.0 1143.4,3906.6 1145.1,3904.5 1146.8,3900.9 1148.5,3901.7 1150.2,3901.4 1151.9,3904.1 1153.6,3902.2 1155.3,3900.3 1157,3901.1 1158.7,3906.3 1160.4,3905.1 1162.1,3905.0 1163.8,3904.6 1165.5,3905.0 1167.2,3906.9 1168.9,3909.1 1170.6,3902.7 1172.3,3906.7 1174,3905.5 1175.7,3904.0 1177.4,3910.0 1179.1,3906.9 1180.8,3906.7 1182.5,3898.3 1184.2,3890.4 1185.9,3887.4 1187.6,3884.8 1189.3,3879.4 1191,3873.9 1192.7,3879.5 1194.4,3884.8 1196.1,3887.1 1197.8,3893.7 1199.5,3892.2 1201.2,3891.1 1202.9,3890.8 1204.6,3889.5 1206.3,3888.8 1208,3890.7 1209.7,3892.4 1211.4,3891.3 1213.1,3891.9 1214.8,3889.0 1216.5,3892.1 1218.2,3890.5 1219.9,3892.1 1221.6,3890.1 1223.3,3890.0 1225,3891.7 1226.7,3889.0 1228.4,3896.8 1230.1,3894.7 1231.8,3893.5 1233.5,3891.1 1235.2,3895.6 1236.9,3897.5 1238.6,3895.9 1240.3,3890.7 1242,3890.1 1243.7,3892.5 1245.4,3891.6 1247.1,3891.8 1248.8,3893.2 1250.5,3896.2 1252.2,3901.0 1253.9,3903.2 1255.6,3906.4 1257.3,3913.9 1259,3915.5 1260.7,3909.3 1262.4,3909.3 1264.1,3908.6 1265.8,3907.6 1267.5,3909.9 1269.2,3907.8 1270.9,3906.5 1272.6,3900.9 1274.3,3895.9 1276,3900.3 1277.7,3906.0 1279.4,3904.9 1281.1,3904.4 1282.8,3903.1 1284.5,3906.4" fill="none" stroke="#0000ff" stroke-width="3.5" stroke-linejoin="round"/>
<path d="M222,3609.8 223.7,3611.7 225.4,3611.6 227.1,3611.1 228.8,3614.0 230.5,3613.6 232.2,3612.6 233.9,3616.6 235.6,3613.7 237.3,3610.5 239,3608.4 240.7,3609.1 242.4,3612.1 244.1,3614.1 245.8,3615.9 247.5,3618.4 249.2,3619.5 250.9,3617.7 252.6,3618.3 254.3,3617.1 256,3613.7 257.7,3614.9 259.4,3613.9 261.1,3612.7 262.8,3617.0 264.5,3616.6 266.2,3613.6 267.9,3612.8 269.6,3621.7 271.3,3623.0 273,3626.3 274.7,3628.0 276.4,3629.1 278.1,3629.1 279.8,3626.8 281.5,3625.5 283.2,3625.5 284.9,3625.0 286.6,3627.4 288.3,3630.3 290,3626.5 291.7,3627.6 293.4,3624.8 295.1,3623.9 296.8,3626.1 298.5,3630.5 300.2,3632.5 301.9,3623.9 303.6,3626.5 305.3,3625.4 307,3624.4 308.7,3626.7 310.4,3625.2 312.1,3622.5 313.8,3625.3 315.5,3626.7 317.2,3624.6 318.9,3627.2 320.6,3627.6 322.3,3624.5 324,3629.2 325.7,3628.5 327.4,3628.5 329.1,3634.3 330.8,3634.7 332.5,3632.4 334.2,3624.6 335.9,3627.7 337.6,3629.1 339.3,3629.4 341,3629.4 342.7,3630.9 344.4,3630.4 346.1,3628.8 347.8,3628.2 349.5,3636.0 351.2,3635.1 352.9,3629.1 354.6,3628.0 356.3,3628.8 358,3622.1 359.7,3624.7 361.4,3619.8 363.1,3623.2 364.8,3627.0 366.5,3630.9 368.2,3627.7 369.9,3628.0 371.6,3627.1 373.3,3621.7 375,3625.4 376.7,3625.7 378.4,3626.1 380.1,3624.1 381.8,3625.0 383.5,3629.7 385.2,3636.3 386.9,3631.2 388.6,3635.2 390.3,3630.2 392,3627.8 393.7,3627.0 395.4,3624.8 397.1,3628.8 398.8,3629.1 400.5,3626.0 402.2,3630.2 403.9,3636.4 405.6,3635.5 407.3,3641.2 409,3657.6 410.7,3685.1 412.4,3675.8 414.1,3659.5 415.8,3655.8 417.5,3655.4 419.2,3636.8 420.9,3642.3 422.6,3647.8 424.3,3638.8 426,3640.7 427.7,3652.0 429.4,3654.7 431.1,3656.9 432.8,3655.2 434.5,3652.5 436.2,3657.2 437.9,3660.1 439.6,3656.8 441.3,3657.3 443,3646.1 444.7,3642.3 446.4,3645.1 448.1,3653.3 449.8,3659.5 451.5,3655.3 453.2,3655.8 454.9,3653.7 456.6,3650.7 458.3,3650.7 460,3653.8 461.7,3652.1 463.4,3652.7 465.1,3656.0 466.8,3655.8 468.5,3653.1 470.2,3657.9 471.9,3657.5 473.6,3656.8 475.3,3643.2 477,3637.6 478.7,3631.3 480.4,3637.4 482.1,3648.0 483.8,3653.7 485.5,3655.5 487.2,3646.9 488.9,3638.0 490.6,3637.6 492.3,3645.7 494,3653.6 495.7,3641.2 497.4,3631.4 499.1,3636.8 500.8,3647.8 502.5,3654.5 504.2,3655.3 505.9,3658.0 507.6,3650.6 509.3,3639.4 511,3624.4 512.7,3638.6 514.4,3650.9 516.1,3659.3 517.8,3650.1 519.5,3629.1 521.2,3639.0 522.9,3654.9 524.6,3658.6 526.3,3658.0 528,3662.0 529.7,3672.8 531.4,3665.1 533.1,3654.1 534.8,3655.3 536.5,3657.7 538.2,3657.4 539.9,3656.8 541.6,3655.5 543.3,3657.3 545,3657.6 546.7,3659.3 548.4,3658.9 550.1,3662.6 551.8,3656.4 553.5,3656.4 555.2,3657.7 556.9,3655.2 558.6,3642.9 560.3,3636.2 562,3645.4 563.7,3656.4 565.4,3659.7 567.1,3655.0 568.8,3656.0 570.5,3658.9 572.2,3656.6 573.9,3642.4 575.6,3638.2 577.3,3647.7 579,3657.0 580.7,3656.3 582.4,3655.5 584.1,3654.1 585.8,3655.0 587.5,3653.7 589.2,3652.9 590.9,3654.5 592.6,3655.0 594.3,3656.8 596,3649.8 597.7,3639.8 599.4,3646.5 601.1,3658.1 602.8,3658.0 604.5,3655.7 606.2,3658.8 607.9,3656.6 609.6,3653.2 611.3,3657.6 613,3658.7 614.7,3656.6 616.4,3651.8 618.1,3645.5 619.8,3654.2 621.5,3656.0 623.2,3656.8 624.9,3654.5 626.6,3654.2 628.3,3654.1 630,3645.1 631.7,3633.6 633.4,3641.3 635.1,3657.0 636.8,3657.3 638.5,3662.8 640.2,3669.7 641.9,3663.4 643.6,3660.2 645.3,3658.1 647,3661.4 648.7,3660.7 650.4,3661.7 652.1,3656.6 653.8,3654.4 655.5,3658.2 657.2,3657.1 658.9,3658.1 660.6,3660.2 662.3,3655.5 664,3657.2 665.7,3661.4 667.4,3661.2 669.1,3659.5 670.8,3659.6 672.5,3658.4 674.2,3659.5 675.9,3661.3 677.6,3658.8 679.3,3659.3 681,3658.9 682.7,3659.7 684.4,3660.3 686.1,3656.5 687.8,3659.3 689.5,3660.2 691.2,3656.3 692.9,3656.0 694.6,3653.2 696.3,3654.3 698,3646.9 699.7,3628.8 701.4,3638.7 703.1,3653.2 704.8,3653.4 706.5,3653.3 708.2,3652.6 709.9,3655.9 711.6,3656.0 713.3,3654.6 715,3657.9 716.7,3656.3 718.4,3658.6 720.1,3655.2 721.8,3659.2 723.5,3657.3 725.2,3655.1 726.9,3656.9 728.6,3654.0 730.3,3653.0 732,3655.4 733.7,3655.1 735.4,3656.9 737.1,3657.3 738.8,3657.8 740.5,3657.8 742.2,3658.1 743.9,3648.7 745.6,3648.2 747.3,3657.4 749,3654.9 750.7,3652.0 752.4,3657.8 754.1,3656.5 755.8,3657.2 757.5,3656.9 759.2,3657.6 760.9,3662.3 762.6,3658.4 764.3,3656.3 766,3646.5 767.7,3634.6 769.4,3639.6 771.1,3649.8 772.8,3655.7 774.5,3657.1 776.2,3652.7 777.9,3651.1 779.6,3647.0 781.3,3635.3 783,3639.1 784.7,3648.4 786.4,3655.3 788.1,3660.6 789.8,3648.2 791.5,3629.4 793.2,3639.0 794.9,3659.5 796.6,3663.6 798.3,3661.9 800,3657.4 801.7,3653.7 803.4,3653.8 805.1,3656.8 806.8,3660.9 808.5,3653.8 810.2,3646.7 811.9,3652.7 813.6,3647.4 815.3,3652.9 817,3653.4 818.7,3655.9 820.4,3653.8 822.1,3656.9 823.8,3658.5 825.5,3659.4 827.2,3661.4 828.9,3658.0 830.6,3657.1 832.3,3659.0 834,3660.6 835.7,3660.7 837.4,3657.7 839.1,3656.0 840.8,3653.2 842.5,3651.6 844.2,3644.0 845.9,3644.8 847.6,3652.1 849.3,3656.6 851,3658.3 852.7,3657.2 854.4,3654.1 856.1,3654.9 857.8,3651.8 859.5,3643.9 861.2,3633.8 862.9,3625.2 864.6,3631.0 866.3,3642.1 868,3652.7 869.7,3656.5 871.4,3654.5 873.1,3657.8 874.8,3654.7 876.5,3656.7 878.2,3655.7 879.9,3655.0 881.6,3654.8 883.3,3654.2 885,3654.8 886.7,3659.1 888.4,3660.8 890.1,3658.2 891.8,3658.1 893.5,3650.0 895.2,3637.3 896.9,3630.7 898.6,3637.8 900.3,3646.2 902,3642.2 903.7,3629.1 905.4,3622.3 907.1,3633.5 908.8,3648.2 910.5,3651.8 912.2,3643.0 913.9,3630.4 915.6,3625.1 917.3,3637.3 919,3647.6 920.7,3639.9 922.4,3630.9 924.1,3637.8 925.8,3647.8 927.5,3652.8 929.2,3652.2 930.9,3650.9 932.6,3652.3 934.3,3651.5 936,3655.4 937.7,3658.8 939.4,3661.0 941.1,3656.7 942.8,3659.5 944.5,3667.6 946.2,3659.1 947.9,3652.8 949.6,3671.3 951.3,3686.2 953,3652.6 954.7,3638.9 956.4,3630.5 958.1,3627.8 959.8,3628.0 961.5,3626.8 963.2,3625.5 964.9,3625.0 966.6,3624.9 968.3,3624.5 970,3622.5 971.7,3622.1 973.4,3619.8 975.1,3618.6 976.8,3619.2 978.5,3619.6 980.2,3620.2 981.9,3618.3 983.6,3619.0 985.3,3618.2 987,3617.7 988.7,3617.9 990.4,3618.6 992.1,3617.2 993.8,3615.9 995.5,3615.7 997.2,3615.8 998.9,3616.7 1000.6,3616.6 1002.3,3616.3 1004,3616.1 1005.7,3616.1 1007.4,3617.1 1009.1,3616.0 1010.8,3616.1 1012.5,3616.1 1014.2,3617.4 1015.9,3617.6 1017.6,3617.3 1019.3,3618.1 1021,3619.4 1022.7,3619.5 1024.4,3618.2 1026.1,3618.2 1027.8,3619.2 1029.5,3617.8 1031.2,3617.6 1032.9,3618.0 1034.6,3618.9 1036.3,3618.6 1038,3619.2 1039.7,3619.3 1041.4,3619.8 1043.1,3619.1 1044.8,3618.1 1046.5,3618.1 1048.2,3619.9 1049.9,3621.7 1051.6,3622.6 1053.3,3622.0 1055,3621.9 1056.7,3623.0 1058.4,3623.5 1060.1,3623.4 1061.8,3624.5 1063.5,3625.2 1065.2,3626.3 1066.9,3628.1 1068.6,3628.1 1070.3,3630.9 1072,3635.7 1073.7,3627.4 1075.4,3621.5 1077.1,3621.0 1078.8,3624.1 1080.5,3622.6 1082.2,3624.1 1083.9,3626.9 1085.6,3628.6 1087.3,3620.9 1089,3621.8 1090.7,3624.1 1092.4,3622.2 1094.1,3620.6 1095.8,3618.1 1097.5,3618.4 1099.2,3620.1 1100.9,3620.7 1102.6,3630.4 1104.3,3637.3 1106,3646.2 1107.7,3646.7 1109.4,3650.4 1111.1,3653.5 1112.8,3653.3 1114.5,3652.6 1116.2,3655.9 1117.9,3656.9 1119.6,3657.7 1121.3,3668.0 1123,3663.7 1124.7,3654.5 1126.4,3647.6 1128.1,3644.7 1129.8,3640.8 1131.5,3646.5 1133.2,3655.6 1134.9,3654.1 1136.6,3655.4 1138.3,3643.9 1140,3627.2 1141.7,3647.6 1143.4,3655.5 1145.1,3657.7 1146.8,3667.3 1148.5,3662.9 1150.2,3656.6 1151.9,3655.9 1153.6,3656.9 1155.3,3658.4 1157,3658.6 1158.7,3663.9 1160.4,3675.6 1162.1,3660.6 1163.8,3652.2 1165.5,3657.4 1167.2,3662.8 1168.9,3663.3 1170.6,3661.9 1172.3,3657.3 1174,3655.4 1175.7,3653.5 1177.4,3655.1 1179.1,3648.2 1180.8,3635.0 1182.5,3625.2 1184.2,3620.0 1185.9,3622.3 1187.6,3625.4 1189.3,3623.6 1191,3622.5 1192.7,3620.9 1194.4,3622.7 1196.1,3619.8 1197.8,3625.7 1199.5,3624.4 1201.2,3622.7 1202.9,3620.5 1204.6,3623.1 1206.3,3625.4 1208,3623.3 1209.7,3623.8 1211.4,3624.3 1213.1,3626.0 1214.8,3626.2 1216.5,3627.6 1218.2,3622.6 1219.9,3628.6 1221.6,3625.1 1223.3,3621.8 1225,3620.4 1226.7,3622.5 1228.4,3624.5 1230.1,3629.2 1231.8,3629.1 1233.5,3624.7 1235.2,3623.2 1236.9,3622.1 1238.6,3621.1 1240.3,3621.6 1242,3620.8 1243.7,3624.3 1245.4,3624.4 1247.1,3625.0 1248.8,3623.6 1250.5,3620.7 1252.2,3622.5 1253.9,3621.7 1255.6,3626.5 1257.3,3627.4 1259,3622.6 1260.7,3620.4 1262.4,3620.1 1264.1,3620.7 1265.8,3624.0 1267.5,3622.9 1269.2,3623.6 1270.9,3622.3 1272.6,3618.2 1274.3,3617.3 1276,3616.9 1277.7,3624.4 1279.4,3624.9 1281.1,3624.5 1282.8,3624.3 1284.5,3624.7" fill="none" stroke="#ff0000" stroke-width="3.5" stroke-linejoin="round"/>
<path d="M222,3507.5 223.7,3503.6 225.4,3505.3 227.1,3504.8 228.8,3502.7 230.5,3500.7 232.2,3499.8 233.9,3505.3 235.6,3507.9 237.3,3507.5 239,3513.0 240.7,3504.9 242.4,3507.1 244.1,3503.4 245.8,3502.3 247.5,3509.8 249.2,3501.9 250.9,3501.7 252.6,3504.6 254.3,3504.6 256,3507.2 257.7,3501.4 259.4,3500.1 261.1,3486.2 262.8,3483.2 264.5,3497.9 266.2,3506.3 267.9,3504.0 269.6,3502.5 271.3,3503.6 273,3504.8 274.7,3504.9 276.4,3500.6 278.1,3491.6 279.8,3502.2 281.5,3506.1 283.2,3502.5 284.9,3499.5 286.6,3500.4 288.3,3501.8 290,3497.4 291.7,3505.5 293.4,3507.1 295.1,3504.2 296.8,3503.2 298.5,3501.3 300.2,3502.2 301.9,3503.2 303.6,3508.1 305.3,3512.7 307,3509.3 308.7,3506.6 310.4,3503.8 312.1,3504.2 313.8,3502.9 315.5,3504.4 317.2,3506.1 318.9,3507.7 320.6,3502.1 322.3,3502.8 324,3504.5 325.7,3505.9 327.4,3504.5 329.1,3499.3 330.8,3503.1 332.5,3499.7 334.2,3507.3 335.9,3508.4 337.6,3512.0 339.3,3510.7 341,3510.7 342.7,3512.9 344.4,3509.7 346.1,3512.7 347.8,3509.4 349.5,3508.7 351.2,3505.6 352.9,3507.5 354.6,3508.9 356.3,3506.2 358,3502.4 359.7,3504.0 361.4,3506.2 363.1,3505.8 364.8,3503.0 366.5,3502.3 368.2,3503.3 369.9,3496.8 371.6,3499.3 373.3,3506.7 375,3502.6 376.7,3503.6 378.4,3509.8 380.1,3510.3 381.8,3511.2 383.5,3508.5 385.2,3503.5 386.9,3513.3 388.6,3511.0 390.3,3509.6 392,3513.0 393.7,3512.4 395.4,3509.8 397.1,3504.9 398.8,3505.0 400.5,3505.1 402.2,3503.6 403.9,3502.2 405.6,3487.7 407.3,3475.5 409,3461.0 410.7,3461.3 412.4,3473.1 414.1,3462.6 415.8,3451.2 417.5,3446.9 419.2,3469.1 420.9,3471.6 422.6,3470.8 424.3,3462.8 426,3476.0 427.7,3495.0 429.4,3490.8 431.1,3474.6 432.8,3480.6 434.5,3495.8 436.2,3501.9 437.9,3501.1 439.6,3501.0 441.3,3496.5 443,3468.4 444.7,3461.8 446.4,3469.0 448.1,3454.1 449.8,3482.1 451.5,3498.5 453.2,3502.2 454.9,3510.7 456.6,3493.8 458.3,3488.8 460,3503.7 461.7,3502.0 463.4,3504.3 465.1,3505.1 466.8,3504.7 468.5,3507.8 470.2,3505.8 471.9,3507.8 473.6,3507.9 475.3,3507.0 477,3503.5 478.7,3510.3 480.4,3504.2 482.1,3496.0 483.8,3504.9 485.5,3511.1 487.2,3509.8 488.9,3506.3 490.6,3504.1 492.3,3508.8 494,3506.7 495.7,3504.4 497.4,3507.8 499.1,3506.3 500.8,3506.2 502.5,3505.0 504.2,3499.0 505.9,3508.1 507.6,3511.4 509.3,3501.2 511,3478.7 512.7,3473.7 514.4,3494.3 516.1,3508.2 517.8,3503.5 519.5,3506.4 521.2,3506.8 522.9,3510.5 524.6,3506.3 526.3,3507.4 528,3509.8 529.7,3515.3 531.4,3506.4 533.1,3483.5 534.8,3483.6 536.5,3497.5 538.2,3511.3 539.9,3509.5 541.6,3512.1 543.3,3510.5 545,3508.0 546.7,3505.1 548.4,3509.4 550.1,3508.2 551.8,3509.5 553.5,3509.6 555.2,3502.0 556.9,3501.0 558.6,3479.8 560.3,3468.4 562,3490.1 563.7,3501.9 565.4,3503.0 567.1,3504.4 568.8,3506.4 570.5,3509.2 572.2,3505.9 573.9,3505.5 575.6,3507.8 577.3,3501.7 579,3509.4 580.7,3505.2 582.4,3509.7 584.1,3508.7 585.8,3513.3 587.5,3513.3 589.2,3510.1 590.9,3503.4 592.6,3505.2 594.3,3506.7 596,3509.3 597.7,3484.7 599.4,3462.5 601.1,3467.0 602.8,3489.9 604.5,3496.1 606.2,3473.9 607.9,3454.4 609.6,3473.0 611.3,3496.3 613,3480.4 614.7,3453.7 616.4,3472.5 618.1,3497.0 619.8,3507.6 621.5,3505.3 623.2,3505.7 624.9,3507.1 626.6,3510.2 628.3,3509.4 630,3506.2 631.7,3502.4 633.4,3505.0 635.1,3506.9 636.8,3510.1 638.5,3506.9 640.2,3502.9 641.9,3507.0 643.6,3506.3 645.3,3502.8 647,3509.4 648.7,3510.8 650.4,3509.0 652.1,3508.7 653.8,3505.5 655.5,3508.9 657.2,3506.6 658.9,3505.2 660.6,3504.9 662.3,3502.3 664,3507.3 665.7,3510.8 667.4,3506.7 669.1,3494.7 670.8,3499.3 672.5,3502.6 674.2,3507.4 675.9,3502.9 677.6,3496.8 679.3,3499.6 681,3505.7 682.7,3505.5 684.4,3512.6 686.1,3507.3 687.8,3502.3 689.5,3491.4 691.2,3493.2 692.9,3507.9 694.6,3503.7 696.3,3501.8 698,3502.9 699.7,3503.1 701.4,3508.1 703.1,3505.8 704.8,3507.7 706.5,3505.8 708.2,3510.0 709.9,3508.4 711.6,3508.4 713.3,3502.7 715,3506.6 716.7,3504.7 718.4,3495.1 720.1,3481.9 721.8,3498.4 723.5,3511.6 725.2,3510.5 726.9,3506.1 728.6,3502.4 730.3,3490.4 732,3488.8 733.7,3504.5 735.4,3511.1 737.1,3509.8 738.8,3508.7 740.5,3509.2 742.2,3511.3 743.9,3507.6 745.6,3510.0 747.3,3506.3 749,3508.0 750.7,3509.0 752.4,3504.1 754.1,3507.2 755.8,3507.6 757.5,3502.2 759.2,3502.9 760.9,3502.7 762.6,3501.9 764.3,3505.3 766,3503.5 767.7,3497.8 769.4,3477.4 771.1,3462.7 772.8,3487.4 774.5,3504.7 776.2,3503.9 777.9,3502.3 779.6,3503.9 781.3,3500.3 783,3506.1 784.7,3506.2 786.4,3506.2 788.1,3506.6 789.8,3504.6 791.5,3502.2 793.2,3494.9 794.9,3495.4 796.6,3501.2 798.3,3505.7 800,3505.6 801.7,3498.4 803.4,3494.4 805.1,3499.3 806.8,3501.6 808.5,3508.0 810.2,3504.1 811.9,3505.3 813.6,3499.1 815.3,3493.4 817,3479.2 818.7,3476.3 820.4,3491.9 822.1,3498.0 823.8,3503.3 825.5,3506.5 827.2,3507.7 828.9,3502.0 830.6,3506.0 832.3,3505.1 834,3508.9 835.7,3499.5 837.4,3498.1 839.1,3474.9 840.8,3447.5 842.5,3466.6 844.2,3494.7 845.9,3504.9 847.6,3504.7 849.3,3503.4 851,3505.3 852.7,3508.0 854.4,3502.7 856.1,3504.6 857.8,3506.5 859.5,3511.1 861.2,3507.0 862.9,3510.6 864.6,3507.6 866.3,3507.4 868,3503.9 869.7,3501.5 871.4,3503.1 873.1,3503.5 874.8,3509.6 876.5,3512.7 878.2,3509.7 879.9,3504.7 881.6,3499.7 883.3,3497.7 885,3500.2 886.7,3505.0 888.4,3507.7 890.1,3503.9 891.8,3498.6 893.5,3498.4 895.2,3501.0 896.9,3506.5 898.6,3506.8 900.3,3502.6 902,3501.0 903.7,3504.6 905.4,3494.6 907.1,3485.5 908.8,3486.7 910.5,3498.5 912.2,3503.3 913.9,3502.0 915.6,3498.3 917.3,3496.2 919,3506.3 920.7,3509.2 922.4,3510.9 924.1,3513.7 925.8,3509.4 927.5,3510.6 929.2,3509.2 930.9,3509.1 932.6,3508.8 934.3,3509.5 936,3504.2 937.7,3501.3 939.4,3504.1 941.1,3506.8 942.8,3505.4 944.5,3505.8 946.2,3502.1 947.9,3507.1 949.6,3508.4 951.3,3512.2 953,3508.6 954.7,3507.5 956.4,3507.5 958.1,3511.3 959.8,3511.0 961.5,3510.3 963.2,3503.9 964.9,3502.7 966.6,3500.2 968.3,3502.7 970,3507.4 971.7,3509.0 973.4,3507.8 975.1,3514.8 976.8,3507.9 978.5,3510.7 980.2,3512.4 981.9,3510.7 983.6,3513.0 985.3,3507.1 987,3505.3 988.7,3505.2 990.4,3507.1 992.1,3506.5 993.8,3511.8 995.5,3508.5 997.2,3507.6 998.9,3506.4 1000.6,3510.9 1002.3,3511.1 1004,3505.9 1005.7,3497.9 1007.4,3484.1 1009.1,3479.0 1010.8,3480.7 1012.5,3490.9 1014.2,3500.0 1015.9,3501.5 1017.6,3501.0 1019.3,3494.6 1021,3497.4 1022.7,3499.4 1024.4,3501.7 1026.1,3502.4 1027.8,3497.8 1029.5,3498.0 1031.2,3493.1 1032.9,3498.8 1034.6,3490.2 1036.3,3484.0 1038,3471.9 1039.7,3479.6 1041.4,3487.7 1043.1,3492.0 1044.8,3494.5 1046.5,3498.1 1048.2,3495.7 1049.9,3497.8 1051.6,3491.3 1053.3,3487.2 1055,3473.3 1056.7,3480.9 1058.4,3489.9 1060.1,3496.3 1061.8,3497.2 1063.5,3493.9 1065.2,3493.0 1066.9,3491.8 1068.6,3491.1 1070.3,3490.0 1072,3491.8 1073.7,3489.5 1075.4,3490.2 1077.1,3494.1 1078.8,3489.8 1080.5,3489.0 1082.2,3490.6 1083.9,3489.5 1085.6,3489.2 1087.3,3493.1 1089,3467.6 1090.7,3460.8 1092.4,3484.3 1094.1,3489.8 1095.8,3489.0 1097.5,3485.2 1099.2,3491.7 1100.9,3492.0 1102.6,3496.0 1104.3,3490.0 1106,3450.5 1107.7,3423.1 1109.4,3440.1 1111.1,3439.9 1112.8,3450.2 1114.5,3481.9 1116.2,3491.6 1117.9,3497.2 1119.6,3491.0" fill="none" stroke="#0000ff" stroke-width="3.5" stroke-linejoin="round"/>
<path d="M222,3257.2 223.7,3255.9 225.4,3263.6 227.1,3260.6 228.8,3257.9 230.5,3256.9 232.2,3253.8 233.9,3251.4 235.6,3252.9 237.3,3251.2 239,3253.1 240.7,3251.4 242.4,3246.6 244.1,3244.8 245.8,3244.1 247.5,3232.7 249.2,3228.1 250.9,3235.4 252.6,3242.4 254.3,3238.2 256,3236.6 257.7,3236.9 259.4,3237.7 261.1,3233.9 262.8,3237.7 264.5,3234.5 266.2,3236.9 267.9,3234.4 269.6,3232.6 271.3,3235.2 273,3243.6 274.7,3256.0 276.4,3255.8 278.1,3262.2 279.8,3263.5 281.5,3260.1 283.2,3261.8 284.9,3263.4 286.6,3260.2 288.3,3257.9 290,3260.6 291.7,3260.2 293.4,3264.3 295.1,3262.4 296.8,3262.0 298.5,3271.3 300.2,3275.7 301.9,3269.5 303.6,3268.6 305.3,3283.9 307,3278.3 308.7,3262.2 310.4,3257.4 312.1,3260.5 313.8,3256.9 315.5,3261.9 317.2,3279.2 318.9,3276.5 320.6,3266.6 322.3,3264.3 324,3259.8 325.7,3260.7 327.4,3255.0 329.1,3259.2 330.8,3261.1 332.5,3258.7 334.2,3256.4 335.9,3249.5 337.6,3242.7 339.3,3245.3 341,3250.9 342.7,3260.4 344.4,3271.5 346.1,3270.9 347.8,3259.5 349.5,3263.1 351.2,3274.5 352.9,3274.2 354.6,3258.7 356.3,3254.8 358,3255.7 359.7,3263.7 361.4,3280.0 363.1,3278.7 364.8,3261.7 366.5,3257.3 368.2,3258.8 369.9,3263.7 371.6,3276.0 373.3,3269.4 375,3259.6 376.7,3258.3 378.4,3269.1 380.1,3287.1 381.8,3268.1 383.5,3254.4 385.2,3256.6 386.9,3252.7 388.6,3250.4 390.3,3249.9 392,3255.8 393.7,3256.7 395.4,3255.5 397.1,3254.6 398.8,3257.4 400.5,3260.3 402.2,3257.2 403.9,3257.8 405.6,3263.2 407.3,3262.0 409,3259.0 410.7,3259.0 412.4,3256.5 414.1,3249.6 415.8,3249.0 417.5,3254.7 419.2,3256.8 420.9,3257.8 422.6,3255.8 424.3,3256.5 426,3254.5 427.7,3256.2 429.4,3253.6 431.1,3251.0 432.8,3258.5 434.5,3258.5 436.2,3258.0 437.9,3250.2 439.6,3238.4 441.3,3247.1 443,3255.3 444.7,3274.7 446.4,3285.5 448.1,3259.6 449.8,3250.4 451.5,3242.4 453.2,3246.0 454.9,3256.8 456.6,3256.2 458.3,3255.1 460,3258.1 461.7,3255.1 463.4,3258.1 465.1,3258.2 466.8,3256.7 468.5,3256.0 470.2,3255.5 471.9,3255.8 473.6,3255.9 475.3,3255.7 477,3251.3 478.7,3248.5 480.4,3252.8 482.1,3252.8 483.8,3252.9 485.5,3254.0 487.2,3252.3 488.9,3257.7 490.6,3257.0 492.3,3256.1 494,3253.6 495.7,3256.8 497.4,3258.2 499.1,3260.7 500.8,3260.7 502.5,3256.6 504.2,3253.3 505.9,3257.7 507.6,3255.2 509.3,3255.2 511,3255.1 512.7,3256.6 514.4,3257.5 516.1,3254.3 517.8,3253.4 519.5,3250.3 521.2,3254.0 522.9,3254.4 524.6,3250.9 526.3,3255.5 528,3255.5 529.7,3253.1 531.4,3253.2 533.1,3252.8 534.8,3254.3 536.5,3255.3 538.2,3254.0 539.9,3255.6 541.6,3249.3 543.3,3251.2 545,3254.6 546.7,3251.9 548.4,3240.2 550.1,3225.2 551.8,3234.3 553.5,3234.7 555.2,3230.0 556.9,3229.9 558.6,3238.0 560.3,3234.9 562,3225.2 563.7,3236.9 565.4,3258.8 567.1,3276.6 568.8,3255.9 570.5,3251.8 572.2,3255.1 573.9,3253.6 575.6,3251.3 577.3,3250.2 579,3249.1 580.7,3256.8 582.4,3249.7 584.1,3234.7 585.8,3225.9 587.5,3230.5 589.2,3239.4 590.9,3236.9 592.6,3225.4 594.3,3219.4 596,3236.9 597.7,3244.2 599.4,3239.5 601.1,3226.6 602.8,3224.6 604.5,3235.0 606.2,3236.2 607.9,3234.7 609.6,3243.3 611.3,3253.6 613,3253.9 614.7,3255.1 616.4,3267.6 618.1,3285.6 619.8,3258.4 621.5,3238.7 623.2,3229.9 624.9,3223.4 626.6,3229.1 628.3,3228.2 630,3224.6 631.7,3224.1 633.4,3225.1 635.1,3225.7 636.8,3224.4 638.5,3225.2 640.2,3231.6 641.9,3230.2 643.6,3227.7 645.3,3224.8 647,3220.1 648.7,3222.1 650.4,3218.1 652.1,3214.8 653.8,3218.5 655.5,3224.3 657.2,3226.5 658.9,3223.5 660.6,3220.2 662.3,3222.4 664,3226.1 665.7,3225.8 667.4,3225.8 669.1,3221.4 670.8,3220.9 672.5,3223.3 674.2,3224.1 675.9,3223.6 677.6,3224.7 679.3,3226.0 681,3224.8 682.7,3222.3 684.4,3219.3 686.1,3221.4 687.8,3220.1 689.5,3216.8 691.2,3221.2 692.9,3222.2 694.6,3221.9 696.3,3223.8 698,3221.2 699.7,3216.8 701.4,3218.1 703.1,3222.0 704.8,3220.8 706.5,3221.0 708.2,3217.3 709.9,3222.4 711.6,3218.3 713.3,3218.6 715,3219.8 716.7,3225.5 718.4,3224.3 720.1,3221.7 721.8,3218.4 723.5,3219.4 725.2,3226.1 726.9,3238.6 728.6,3248.2 730.3,3252.0 732,3248.7 733.7,3252.6 735.4,3247.1 737.1,3253.2 738.8,3250.5 740.5,3249.7 742.2,3249.0 743.9,3250.3 745.6,3250.4 747.3,3249.8 749,3248.7 750.7,3248.4 752.4,3249.7 754.1,3249.0 755.8,3248.4 757.5,3246.2 759.2,3248.5 760.9,3249.5 762.6,3244.6 764.3,3245.5 766,3242.4 767.7,3239.8 769.4,3233.0 771.1,3233.5 772.8,3234.1 774.5,3234.9 776.2,3229.3 777.9,3227.3 779.6,3227.6 781.3,3226.8 783,3223.2 784.7,3222.4 786.4,3224.5 788.1,3224.8 789.8,3223.5 791.5,3225.4 793.2,3220.6 794.9,3222.4 796.6,3220.9 798.3,3220.7 800,3223.4 801.7,3227.0 803.4,3226.1 805.1,3224.8 806.8,3227.6 808.5,3227.1 810.2,3220.0 811.9,3219.8 813.6,3219.6 815.3,3219.5 817,3217.5 818.7,3221.4 820.4,3222.5 822.1,3226.7 823.8,3224.4 825.5,3224.0 827.2,3221.9 828.9,3224.8 830.6,3226.9 832.3,3229.1 834,3228.8 835.7,3225.0 837.4,3227.0 839.1,3226.8 840.8,3231.0 842.5,3236.8 844.2,3247.8 845.9,3247.7 847.6,3246.6 849.3,3249.4 851,3253.9 852.7,3254.9 854.4,3255.0 856.1,3251.9 857.8,3251.2 859.5,3254.7 861.2,3253.9 862.9,3251.7 864.6,3251.2 866.3,3254.8 868,3257.7 869.7,3256.3 871.4,3252.7 873.1,3250.6 874.8,3238.2 876.5,3245.1 878.2,3253.8 879.9,3253.2 881.6,3252.5 883.3,3256.2 885,3255.3 886.7,3250.8 888.4,3250.3 890.1,3254.3 891.8,3253.2 893.5,3250.6 895.2,3253.6 896.9,3254.3 898.6,3253.7 900.3,3254.5 902,3252.8 903.7,3253.2 905.4,3254.3 907.1,3252.3 908.8,3255.4 910.5,3251.8 912.2,3257.0 913.9,3255.3 915.6,3255.0 917.3,3251.2 919,3253.7 920.7,3251.4 922.4,3253.2 924.1,3253.1 925.8,3251.1 927.5,3256.0 929.2,3255.0 930.9,3252.8 932.6,3252.0 934.3,3253.2 936,3253.2 937.7,3255.0 939.4,3252.8 941.1,3253.4 942.8,3252.1 944.5,3250.9 946.2,3253.7 947.9,3251.5 949.6,3248.5 951.3,3252.0 953,3251.3 954.7,3253.4 956.4,3254.4 958.1,3255.0 959.8,3254.3 961.5,3257.3 963.2,3253.0 964.9,3255.8 966.6,3254.3 968.3,3254.4 970,3252.9 971.7,3255.0 973.4,3255.3 975.1,3253.4 976.8,3253.4 978.5,3254.5 980.2,3253.6 981.9,3259.1 983.6,3257.8 985.3,3254.9 987,3256.5 988.7,3255.7 990.4,3253.5 992.1,3252.6 993.8,3249.3 995.5,3252.9 997.2,3256.6 998.9,3255.0 1000.6,3252.5 1002.3,3249.0 1004,3248.2 1005.7,3250.6 1007.4,3250.4 1009.1,3251.4 1010.8,3251.1 1012.5,3253.5 1014.2,3255.3 1015.9,3257.9 1017.6,3257.3 1019.3,3256.6 1021,3253.4 1022.7,3252.4 1024.4,3249.1 1026.1,3248.4 1027.8,3252.3 1029.5,3260.9 1031.2,3253.4 1032.9,3243.5 1034.6,3242.4 1036.3,3239.7 1038,3239.7 1039.7,3242.0 1041.4,3246.7 1043.1,3248.1 1044.8,3237.9 1046.5,3236.1 1048.2,3230.3 1049.9,3232.4 1051.6,3232.7 1053.3,3232.5 1055,3226.8 1056.7,3228.3 1058.4,3227.5 1060.1,3229.3 1061.8,3229.1 1063.5,3227.7 1065.2,3226.9 1066.9,3230.1 1068.6,3231.4 1070.3,3225.6 1072,3225.0 1073.7,3227.0 1075.4,3225.6 1077.1,3226.5 1078.8,3225.5 1080.5,3229.3 1082.2,3229.3 1083.9,3227.1 1085.6,3229.5 1087.3,3229.0 1089,3231.0 1090.7,3227.2 1092.4,3222.7 1094.1,3225.3 1095.8,3227.6 1097.5,3229.0 1099.2,3219.5 1100.9,3218.8 1102.6,3221.0 1104.3,3220.4 1106,3220.7 1107.7,3222.1 1109.4,3219.5 1111.1,3223.9 1112.8,3220.5 1114.5,3221.6 1116.2,3222.1 1117.9,3221.1 1119.6,3219.9" fill="none" stroke="#ff0000" stroke-width="3.5" stroke-linejoin="round"/>
<path d="M222,3105.4 223.7,3100.9 225.4,3108.4 227.1,3108.1 228.8,3111.0 230.5,3110.6 232.2,3107.6 233.9,3115.2 235.6,3113.8 237.3,3115.9 239,3116.0 240.7,3112.1 242.4,3113.6 244.1,3116.0 245.8,3112.3 247.5,3116.9 249.2,3111.6 250.9,3116.3 252.6,3117.0 254.3,3115.3 256,3108.8 257.7,3104.1 259.4,3099.1 261.1,3106.6 262.8,3110.1 264.5,3112.1 266.2,3113.2 267.9,3109.9 269.6,3107.0 271.3,3112.3 273,3112.4 274.7,3109.3 276.4,3101.5 278.1,3107.5 279.8,3106.4 281.5,3113.3 283.2,3107.1 284.9,3104.6 286.6,3105.0 288.3,3102.1 290,3097.7 291.7,3096.0 293.4,3095.9 295.1,3097.5 296.8,3102.3 298.5,3103.5 300.2,3102.7 301.9,3103.9 303.6,3094.1 305.3,3093.9 307,3093.7 308.7,3091.8 310.4,3095.7 312.1,3093.8 313.8,3091.0 315.5,3096.1 317.2,3093.4 318.9,3093.1 320.6,3079.9 322.3,3079.5 324,3088.4 325.7,3098.2 327.4,3103.1 329.1,3100.8 330.8,3103.6 332.5,3102.6 334.2,3100.4 335.9,3093.5 337.6,3094.5 339.3,3093.6 341,3080.7 342.7,3085.5 344.4,3088.1 346.1,3089.7 347.8,3089.5 349.5,3090.6 351.2,3087.0 352.9,3090.6 354.6,3088.7 356.3,3090.0 358,3095.7 359.7,3094.1 361.4,3088.9 363.1,3090.8 364.8,3085.7 366.5,3088.4 368.2,3094.1 369.9,3088.8 371.6,3089.0 373.3,3086.7 375,3089.0 376.7,3090.8 378.4,3085.9 380.1,3084.8 381.8,3083.8 383.5,3083.7 385.2,3085.3 386.9,3090.4 388.6,3083.7 390.3,3090.5 392,3088.0 393.7,3083.5 395.4,3091.6 397.1,3092.3 398.8,3088.4 400.5,3090.3 402.2,3092.5 403.9,3086.8 405.6,3092.9 407.3,3089.0 409,3092.6 410.7,3089.8 412.4,3084.9 414.1,3085.5 415.8,3086.1 417.5,3091.6 419.2,3097.1 420.9,3096.2 422.6,3076.4 424.3,3064.5 426,3078.8 427.7,3090.5 429.4,3086.2 431.1,3095.0 432.8,3090.6 434.5,3092.0 436.2,3090.0 437.9,3089.3 439.6,3082.4 441.3,3083.6 443,3089.6 444.7,3092.7 446.4,3091.4 448.1,3098.1 449.8,3097.4 451.5,3099.2 453.2,3099.8 454.9,3099.3 456.6,3095.0 458.3,3098.7 460,3094.0 461.7,3093.2 463.4,3096.9 465.1,3097.4 466.8,3091.0 468.5,3090.0 470.2,3087.5 471.9,3093.0 473.6,3091.0 475.3,3091.1 477,3088.9 478.7,3088.2 480.4,3091.8 482.1,3088.2 483.8,3089.7 485.5,3088.8 487.2,3088.7 488.9,3085.5 490.6,3092.0 492.3,3086.3 494,3084.4 495.7,3086.1 497.4,3088.7 499.1,3087.3 500.8,3083.7 502.5,3085.5 504.2,3083.0 505.9,3080.5 507.6,3087.0 509.3,3082.3 511,3087.9 512.7,3090.8 514.4,3089.7 516.1,3089.3 517.8,3093.8 519.5,3092.0 521.2,3086.0 522.9,3087.2 524.6,3090.3 526.3,3089.5 528,3088.5 529.7,3090.4 531.4,3089.2 533.1,3090.7 534.8,3093.2 536.5,3090.3 538.2,3085.6 539.9,3092.7 541.6,3093.5 543.3,3090.0 545,3086.0 546.7,3088.5 548.4,3090.6 550.1,3087.6 551.8,3085.6 553.5,3079.0 555.2,3073.2 556.9,3079.1 558.6,3085.9 560.3,3086.9 562,3092.6 563.7,3087.8 565.4,3095.7 567.1,3096.9 568.8,3092.9 570.5,3090.4 572.2,3091.7 573.9,3093.0 575.6,3094.8 577.3,3087.7 579,3088.4 580.7,3091.6 582.4,3094.7 584.1,3096.4 585.8,3096.3 587.5,3097.2 589.2,3093.1 590.9,3097.6 592.6,3097.8 594.3,3096.5 596,3092.6 597.7,3092.1 599.4,3093.3 601.1,3093.0 602.8,3097.9 604.5,3102.1 606.2,3100.8 607.9,3093.1 609.6,3094.9 611.3,3092.0 613,3092.1 614.7,3098.6 616.4,3090.0 618.1,3086.5 619.8,3086.9 621.5,3091.9 623.2,3090.7 624.9,3084.9 626.6,3089.4 628.3,3092.9 630,3096.7 631.7,3095.0 633.4,3097.5 635.1,3093.2 636.8,3095.7 638.5,3098.1 640.2,3094.6 641.9,3092.4 643.6,3096.4 645.3,3092.2 647,3089.3 648.7,3090.9 650.4,3093.5 652.1,3096.0 653.8,3092.9 655.5,3096.0 657.2,3097.7 658.9,3100.2 660.6,3112.0 662.3,3101.7 664,3091.1 665.7,3091.0 667.4,3089.3 669.1,3093.2 670.8,3084.7 672.5,3084.5 674.2,3091.6 675.9,3093.0 677.6,3089.8 679.3,3096.0 681,3097.9 682.7,3094.5 684.4,3095.4 686.1,3086.8 687.8,3072.1 689.5,3076.8 691.2,3087.4 692.9,3088.5 694.6,3085.2 696.3,3086.9 698,3091.9 699.7,3092.7 701.4,3089.4 703.1,3082.8 704.8,3089.7 706.5,3090.2 708.2,3093.9 709.9,3093.0 711.6,3091.1 713.3,3092.5 715,3090.1 716.7,3089.5 718.4,3087.8 720.1,3082.8 721.8,3090.6 723.5,3095.0 725.2,3092.4 726.9,3094.7 728.6,3106.5 730.3,3107.5 732,3100.3 733.7,3092.1 735.4,3096.6 737.1,3099.1 738.8,3093.5 740.5,3095.4 742.2,3091.1 743.9,3090.8 745.6,3095.3 747.3,3093.3 749,3090.8 750.7,3086.9 752.4,3091.5 754.1,3085.9 755.8,3083.7 757.5,3097.0 759.2,3092.9 760.9,3091.1 762.6,3093.3 764.3,3092.2 766,3092.7 767.7,3094.2 769.4,3092.0 771.1,3089.4 772.8,3090.0 774.5,3094.7 776.2,3094.0 777.9,3098.8 779.6,3096.5 781.3,3092.0 783,3093.3 784.7,3092.6 786.4,3087.7 788.1,3087.2 789.8,3095.4 791.5,3095.7 793.2,3091.1 794.9,3088.7 796.6,3095.1 798.3,3100.3 800,3098.3 801.7,3093.2 803.4,3091.7 805.1,3087.8 806.8,3096.4 808.5,3088.0 810.2,3092.4 811.9,3093.5 813.6,3084.6 815.3,3092.7 817,3086.7 818.7,3088.2 820.4,3091.3 822.1,3095.9 823.8,3094.0 825.5,3091.8 827.2,3086.8 828.9,3089.1 830.6,3093.2 832.3,3088.9 834,3096.2 835.7,3085.8 837.4,3087.5 839.1,3088.9 840.8,3091.3 842.5,3093.5 844.2,3097.3 845.9,3093.7 847.6,3094.2 849.3,3098.6 851,3099.5 852.7,3092.8 854.4,3089.7 856.1,3080.7 857.8,3066.1 859.5,3082.0 861.2,3084.4 862.9,3062.7 864.6,3078.3 866.3,3094.0 868,3097.1 869.7,3099.7 871.4,3101.5 873.1,3102.1 874.8,3103.9 876.5,3102.7 878.2,3103.2 879.9,3104.9 881.6,3104.9 883.3,3104.5 885,3104.4 886.7,3106.3 888.4,3107.4 890.1,3109.4 891.8,3110.8 893.5,3110.1 895.2,3109.2 896.9,3108.6 898.6,3108.8 900.3,3111.5 902,3110.8 903.7,3109.9 905.4,3109.9 907.1,3110.6 908.8,3109.9 910.5,3109.5 912.2,3109.4 913.9,3111.4 915.6,3111.2 917.3,3111.6 919,3111.9 920.7,3109.7 922.4,3110.8 924.1,3109.9 925.8,3110.2 927.5,3108.9 929.2,3110.9 930.9,3111.4 932.6,3110.6 934.3,3112.4 936,3111.3 937.7,3113.0 939.4,3112.5 941.1,3114.3 942.8,3111.5 944.5,3111.4 946.2,3109.5 947.9,3108.1 949.6,3107.9 951.3,3107.9 953,3106.8 954.7,3107.6 956.4,3109.0 958.1,3108.7 959.8,3106.8 961.5,3108.3 963.2,3105.3 964.9,3106.8 966.6,3105.5 968.3,3103.8 970,3103.7 971.7,3103.3 973.4,3104.1 975.1,3103.8 976.8,3102.5 978.5,3102.8 980.2,3101.6 981.9,3099.9 983.6,3098.7 985.3,3095.6 987,3097.9 988.7,3077.6 990.4,3070.4 992.1,3086.0 993.8,3111.1 995.5,3116.1 997.2,3102.7 998.9,3097.9 1000.6,3087.4 1002.3,3084.1 1004,3070.3 1005.7,3058.6 1007.4,3074.4 1009.1,3095.3 1010.8,3080.2 1012.5,3071.4 1014.2,3090.9 1015.9,3091.0 1017.6,3093.0 1019.3,3095.7 1021,3096.5 1022.7,3098.1 1024.4,3102.7 1026.1,3100.0 1027.8,3095.5 1029.5,3100.0 1031.2,3099.6 1032.9,3094.9 1034.6,3090.0 1036.3,3092.0 1038,3091.5 1039.7,3090.7 1041.4,3093.5 1043.1,3096.7 1044.8,3100.4 1046.5,3098.6 1048.2,3087.9 1049.9,3085.6 1051.6,3083.1 1053.3,3085.5 1055,3082.5 1056.7,3086.3 1058.4,3093.3 1060.1,3102.4 1061.8,3095.3 1063.5,3090.6 1065.2,3097.7 1066.9,3099.0 1068.6,3095.6 1070.3,3091.5 1072,3094.6 1073.7,3093.4 1075.4,3093.4 1077.1,3090.1 1078.8,3093.3 1080.5,3094.7 1082.2,3095.3 1083.9,3084.4 1085.6,3081.3 1087.3,3087.2 1089,3096.1 1090.7,3096.3 1092.4,3100.8 1094.1,3096.8 1095.8,3094.3 1097.5,3097.6 1099.2,3092.7 1100.9,3092.2 1102.6,3089.6 1104.3,3090.7 1106,3085.5 1107.7,3090.9 1109.4,3092.3 1111.1,3088.2 1112.8,3094.5 1114.5,3086.4 1116.2,3085.5 1117.9,3096.8 1119.6,3098.5 1121.3,3091.8 1123,3090.4 1124.7,3088.5 1126.4,3082.5 1128.1,3089.0 1129.8,3091.0 1131.5,3097.1 1133.2,3095.5 1134.9,3090.1 1136.6,3089.9 1138.3,3098.1 1140,3095.6 1141.7,3100.7 1143.4,3100.2 1145.1,3094.4 1146.8,3096.1 1148.5,3095.4 1150.2,3096.1 1151.9,3095.4 1153.6,3091.6 1155.3,3095.3 1157,3094.4 1158.7,3092.7 1160.4,3092.5 1162.1,3091.0 1163.8,3091.5 1165.5,3091.5 1167.2,3087.3 1168.9,3095.3 1170.6,3094.7 1172.3,3092.9 1174,3087.2 1175.7,3094.0 1177.4,3094.7 1179.1,3096.5 1180.8,3091.2 1182.5,3091.4 1184.2,3091.0 1185.9,3092.4 1187.6,3097.2 1189.3,3102.3 1191,3098.4 1192.7,3091.7 1194.4,3093.6 1196.1,3094.8 1197.8,3091.2 1199.5,3089.4 1201.2,3099.8 1202.9,3098.0 1204.6,3094.7 1206.3,3096.6 1208,3091.3 1209.7,3087.8 1211.4,3089.1 1213.1,3095.3 1214.8,3099.1 1216.5,3099.0 1218.2,3104.0 1219.9,3097.6 1221.6,3096.2 1223.3,3101.4 1225,3101.7 1226.7,3099.8 1228.4,3100.6 1230.1,3097.6 1231.8,3105.5 1233.5,3102.0 1235.2,3105.3 1236.9,3103.7 1238.6,3101.9 1240.3,3098.7 1242,3101.0 1243.7,3100.9 1245.4,3096.7 1247.1,3094.2 1248.8,3097.6 1250.5,3099.5 1252.2,3109.4 1253.9,3109.8 1255.6,3109.2 1257.3,3114.6 1259,3115.9 1260.7,3118.2 1262.4,3121.4 1264.1,3119.3 1265.8,3111.2 1267.5,3114.9 1269.2,3119.4 1270.9,3122.3 1272.6,3108.4 1274.3,3099.9 1276,3090.9 1277.7,3078.3 1279.4,3086.9 1281.1,3103.9 1282.8,3123.7 1284.5,3118.0 1286.2,3110.9 1287.9,3112.6 1289.6,3093.1 1291.3,3109.5 1293,3123.6 1294.7,3126.1 1296.4,3128.3 1298.1,3127.5 1299.8,3139.2 1301.5,3125.6 1303.2,3117.4 1304.9,3110.5 1306.6,3101.3 1308.3,3102.9 1310,3095.4 1311.7,3098.8 1313.4,3087.1 1315.1,3087.2 1316.8,3091.6 1318.5,3086.7 1320.2,3083.4 1321.9,3089.6 1323.6,3086.9 1325.3,3080.0 1327,3082.7 1328.7,3072.1 1330.4,3068.3 1332.1,3080.2 1333.8,3089.2 1335.5,3085.2 1337.2,3086.6 1338.9,3083.4 1340.6,3085.4 1342.3,3087.3 1344,3087.7 1345.7,3089.7 1347.4,3071.5 1349.1,3056.6 1350.8,3054.3 1352.5,3051.7 1354.2,3046.9 1355.9,3039.8 1357.6,3025.1" fill="none" stroke="#0000ff" stroke-width="3.5" stroke-linejoin="round"/>
<path d="M222,2824.7 223.7,2824.8 225.4,2822.0 227.1,2828.1 228.8,2821.2 230.5,2822.0 232.2,2825.1 233.9,2826.0 235.6,2826.4 237.3,2824.1 239,2842.3 240.7,2840.3 242.4,2827.3 244.1,2822.8 245.8,2822.7 247.5,2825.5 249.2,2845.3 250.9,2843.0 252.6,2830.1 254.3,2820.2 256,2823.0 257.7,2822.1 259.4,2825.0 261.1,2831.9 262.8,2833.1 264.5,2825.1 266.2,2822.9 267.9,2823.0 269.6,2823.3 271.3,2822.9 273,2822.5 274.7,2825.8 276.4,2824.2 278.1,2831.0 279.8,2831.3 281.5,2827.4 283.2,2818.6 284.9,2820.1 286.6,2820.9 288.3,2821.0 290,2821.5 291.7,2822.5 293.4,2823.1 295.1,2826.2 296.8,2824.2 298.5,2835.2 300.2,2836.7 301.9,2845.6 303.6,2845.9 305.3,2849.2 307,2854.9 308.7,2873.5 310.4,2883.0 312.1,2869.4 313.8,2854.6 315.5,2852.6 317.2,2852.5 318.9,2856.1 320.6,2855.9 322.3,2856.4 324,2859.0 325.7,2849.4 327.4,2849.6 329.1,2850.0 330.8,2846.3 332.5,2851.8 334.2,2858.6 335.9,2869.0 337.6,2880.3 339.3,2875.7 341,2865.2 342.7,2867.0 344.4,2879.8 346.1,2873.6 347.8,2862.2 349.5,2862.0 351.2,2875.5 352.9,2873.4 354.6,2857.8 356.3,2854.2 358,2855.4 359.7,2856.1 361.4,2863.3 363.1,2861.6 364.8,2853.4 366.5,2851.0 368.2,2854.2 369.9,2853.1 371.6,2861.0 373.3,2857.9 375,2856.4 376.7,2857.0 378.4,2856.3 380.1,2858.2 381.8,2856.9 383.5,2857.9 385.2,2855.7 386.9,2848.7 388.6,2853.7 390.3,2859.9 392,2855.9 393.7,2854.8 395.4,2858.1 397.1,2856.2 398.8,2856.9 400.5,2856.3 402.2,2858.4 403.9,2857.5 405.6,2863.1 407.3,2860.5 409,2858.3 410.7,2853.6 412.4,2855.5 414.1,2853.5 415.8,2849.0 417.5,2833.7 419.2,2847.6 420.9,2858.5 422.6,2875.9 424.3,2889.9 426,2864.2 427.7,2857.1 429.4,2862.4 431.1,2860.2 432.8,2858.8 434.5,2859.6 436.2,2851.6 437.9,2851.4 439.6,2859.5 441.3,2857.2 443,2862.7 444.7,2859.3 446.4,2858.4 448.1,2856.8 449.8,2849.6 451.5,2848.4 453.2,2851.4 454.9,2848.2 456.6,2841.9 458.3,2841.7 460,2851.0 461.7,2858.7 463.4,2857.3 465.1,2861.3 466.8,2857.7 468.5,2864.5 470.2,2874.3 471.9,2864.2 473.6,2857.9 475.3,2858.1 477,2853.1 478.7,2854.7 480.4,2856.4 482.1,2857.9 483.8,2856.6 485.5,2850.7 487.2,2853.6 488.9,2876.6 490.6,2880.2 492.3,2860.7 494,2856.7 495.7,2858.6 497.4,2858.6 499.1,2859.8 500.8,2861.1 502.5,2857.9 504.2,2847.2 505.9,2851.8 507.6,2855.7 509.3,2864.3 511,2862.0 512.7,2857.9 514.4,2846.7 516.1,2834.7 517.8,2845.2 519.5,2857.4 521.2,2859.9 522.9,2861.2 524.6,2859.7 526.3,2855.7 528,2861.6 529.7,2877.5 531.4,2866.5 533.1,2866.5 534.8,2862.4 536.5,2860.0 538.2,2857.4 539.9,2858.0 541.6,2858.4 543.3,2855.2 545,2862.2 546.7,2863.6 548.4,2862.0 550.1,2856.4 551.8,2855.9 553.5,2872.2 555.2,2889.0 556.9,2869.9 558.6,2854.7 560.3,2855.5 562,2855.9 563.7,2856.8 565.4,2859.7 567.1,2856.2 568.8,2844.4 570.5,2846.7 572.2,2857.1 573.9,2856.0 575.6,2858.9 577.3,2856.9 579,2859.3 580.7,2860.1 582.4,2851.0 584.1,2832.3 585.8,2832.9 587.5,2847.2 589.2,2851.3 590.9,2851.7 592.6,2853.9 594.3,2855.4 596,2860.3 597.7,2871.4 599.4,2869.4 601.1,2860.5 602.8,2860.5 604.5,2857.3 606.2,2855.6 607.9,2853.1 609.6,2852.8 611.3,2849.9 613,2853.0 614.7,2854.1 616.4,2853.8 618.1,2853.8 619.8,2852.0 621.5,2856.7 623.2,2871.8 624.9,2892.8 626.6,2876.0 628.3,2859.2 630,2861.1 631.7,2856.1 633.4,2852.9 635.1,2857.8 636.8,2859.3 638.5,2859.4 640.2,2862.6 641.9,2860.4 643.6,2853.5 645.3,2849.5 647,2851.8 648.7,2857.9 650.4,2859.6 652.1,2858.7 653.8,2856.3 655.5,2854.7 657.2,2848.3 658.9,2835.9 660.6,2838.9 662.3,2856.0 664,2859.6 665.7,2856.6 667.4,2860.6 669.1,2862.5 670.8,2862.0 672.5,2858.1 674.2,2873.1 675.9,2892.9 677.6,2873.8 679.3,2856.1 681,2855.8 682.7,2857.5 684.4,2858.9 686.1,2871.0 687.8,2887.1 689.5,2872.2 691.2,2858.5 692.9,2861.2 694.6,2860.3 696.3,2861.2 698,2859.6 699.7,2856.8 701.4,2856.2 703.1,2851.4 704.8,2839.8 706.5,2847.7 708.2,2854.5 709.9,2856.6 711.6,2864.3 713.3,2877.6 715,2889.6 716.7,2876.9 718.4,2860.2 720.1,2869.1 721.8,2890.0 723.5,2877.0 725.2,2864.5 726.9,2860.6 728.6,2854.6 730.3,2858.0 732,2864.7 733.7,2859.7 735.4,2863.8 737.1,2859.6 738.8,2855.5 740.5,2848.3 742.2,2855.1 743.9,2860.2 745.6,2855.3 747.3,2857.4 749,2857.8 750.7,2872.4 752.4,2878.3 754.1,2866.6 755.8,2859.7 757.5,2865.0 759.2,2864.0 760.9,2862.5 762.6,2855.2 764.3,2861.5 766,2860.8 767.7,2870.5 769.4,2881.7 771.1,2878.3 772.8,2872.0 774.5,2863.1 776.2,2863.3 777.9,2857.7 779.6,2849.5 781.3,2853.0 783,2861.0 784.7,2859.4 786.4,2857.8 788.1,2857.7 789.8,2853.4 791.5,2850.3 793.2,2850.2 794.9,2849.9 796.6,2845.2 798.3,2830.7 800,2827.0 801.7,2831.6 803.4,2836.6 805.1,2845.9 806.8,2850.8 808.5,2852.9 810.2,2845.4 811.9,2850.1 813.6,2850.7 815.3,2853.6 817,2850.5 818.7,2842.4 820.4,2836.3 822.1,2829.9 823.8,2825.9 825.5,2827.2 827.2,2819.9 828.9,2817.1 830.6,2820.4 832.3,2819.7 834,2824.1 835.7,2827.5 837.4,2831.5 839.1,2828.0 840.8,2828.8 842.5,2827.9 844.2,2826.0 845.9,2823.3 847.6,2825.9 849.3,2826.5 851,2833.0 852.7,2846.3 854.4,2838.8 856.1,2835.9 857.8,2831.2 859.5,2822.8 861.2,2826.2 862.9,2825.4 864.6,2821.9 866.3,2822.1 868,2822.0 869.7,2822.2 871.4,2821.9 873.1,2822.9 874.8,2821.9 876.5,2822.2 878.2,2822.9 879.9,2823.1 881.6,2823.5 883.3,2822.9 885,2822.7 886.7,2828.6 888.4,2841.2 890.1,2853.4 891.8,2840.0 893.5,2827.4 895.2,2823.3 896.9,2824.3 898.6,2830.6 900.3,2836.5 902,2829.3 903.7,2824.5 905.4,2825.1 907.1,2823.5 908.8,2822.0 910.5,2822.0 912.2,2822.2 913.9,2823.0 915.6,2822.6 917.3,2822.5 919,2822.6 920.7,2824.2 922.4,2823.2 924.1,2823.1 925.8,2823.4 927.5,2824.6 929.2,2822.8 930.9,2821.4 932.6,2822.1 934.3,2821.8 936,2821.8 937.7,2823.4 939.4,2832.6 941.1,2829.3 942.8,2823.4 944.5,2823.2 946.2,2823.7 947.9,2824.6 949.6,2823.4 951.3,2822.1 953,2822.6 954.7,2823.5 956.4,2823.0 958.1,2822.6 959.8,2823.6 961.5,2822.3 963.2,2824.0 964.9,2822.1 966.6,2821.5 968.3,2837.5 970,2857.4 971.7,2838.1 973.4,2821.9 975.1,2821.7 976.8,2821.8 978.5,2823.0 980.2,2822.7 981.9,2822.3 983.6,2829.7 985.3,2832.9 987,2825.1 988.7,2821.6 990.4,2822.2 992.1,2821.4 993.8,2821.5 995.5,2822.1 997.2,2821.9 998.9,2822.2 1000.6,2822.0 1002.3,2826.0 1004,2827.5 1005.7,2845.3 1007.4,2850.6 1009.1,2857.4 1010.8,2859.8 1012.5,2866.7 1014.2,2866.6 1015.9,2858.2 1017.6,2859.6 1019.3,2856.1 1021,2860.4 1022.7,2864.2 1024.4,2864.9 1026.1,2861.5 1027.8,2860.9 1029.5,2856.4 1031.2,2858.6 1032.9,2853.0 1034.6,2855.1 1036.3,2856.0 1038,2854.6 1039.7,2858.4 1041.4,2853.1 1043.1,2849.3 1044.8,2838.7 1046.5,2837.9 1048.2,2834.1 1049.9,2838.3 1051.6,2835.4 1053.3,2833.6 1055,2830.6 1056.7,2834.8 1058.4,2835.7 1060.1,2834.4 1061.8,2835.6 1063.5,2838.0 1065.2,2836.9 1066.9,2837.6 1068.6,2835.8 1070.3,2836.7 1072,2838.5 1073.7,2837.3 1075.4,2832.3 1077.1,2834.6 1078.8,2840.4 1080.5,2834.7 1082.2,2832.1 1083.9,2833.2 1085.6,2831.2 1087.3,2830.2 1089,2826.3 1090.7,2826.0 1092.4,2829.8 1094.1,2823.1 1095.8,2829.4 1097.5,2826.6 1099.2,2834.0 1100.9,2837.3 1102.6,2844.5 1104.3,2847.7 1106,2860.4 1107.7,2866.6 1109.4,2866.0 1111.1,2871.0 1112.8,2873.6 1114.5,2878.4 1116.2,2879.2 1117.9,2886.5 1119.6,2879.8 1121.3,2872.4 1123,2874.0 1124.7,2875.7 1126.4,2876.3 1128.1,2877.2 1129.8,2893.2 1131.5,2879.9 1133.2,2868.9 1134.9,2833.6 1136.6,2863.5 1138.3,2889.5 1140,2882.3 1141.7,2854.6 1143.4,2844.4 1145.1,2871.6 1146.8,2887.7 1148.5,2870.5 1150.2,2854.2 1151.9,2826.1 1153.6,2844.4 1155.3,2847.0 1157,2860.1 1158.7,2861.7 1160.4,2844.1 1162.1,2821.9 1163.8,2796.0 1165.5,2817.4 1167.2,2851.3 1168.9,2880.8 1170.6,2852.2 1172.3,2836.1 1174,2832.3 1175.7,2829.9 1177.4,2827.2 1179.1,2828.4 1180.8,2829.6 1182.5,2829.5 1184.2,2829.8 1185.9,2832.1 1187.6,2833.1 1189.3,2838.5 1191,2831.5 1192.7,2831.0 1194.4,2838.8 1196.1,2839.1 1197.8,2835.6 1199.5,2835.3 1201.2,2836.0 1202.9,2839.0 1204.6,2856.9 1206.3,2852.2 1208,2834.6 1209.7,2830.9 1211.4,2822.2 1213.1,2830.0 1214.8,2839.7 1216.5,2838.6 1218.2,2831.5 1219.9,2826.7 1221.6,2830.3 1223.3,2831.6 1225,2854.7 1226.7,2860.1 1228.4,2835.9 1230.1,2831.1 1231.8,2825.7 1233.5,2830.2 1235.2,2825.3 1236.9,2822.5 1238.6,2823.6 1240.3,2824.4 1242,2826.0 1243.7,2833.1 1245.4,2835.0 1247.1,2826.6 1248.8,2827.3 1250.5,2821.3 1252.2,2825.7 1253.9,2822.3 1255.6,2823.7 1257.3,2825.5 1259,2820.2 1260.7,2822.5 1262.4,2824.3 1264.1,2823.6 1265.8,2826.7 1267.5,2826.5 1269.2,2823.4 1270.9,2822.1 1272.6,2834.0 1274.3,2841.2 1276,2841.9 1277.7,2831.2 1279.4,2831.8 1281.1,2832.6 1282.8,2830.6 1284.5,2828.8 1286.2,2826.2 1287.9,2823.1 1289.6,2822.1 1291.3,2826.1 1293,2822.7 1294.7,2822.5 1296.4,2825.2 1298.1,2824.1 1299.8,2823.2 1301.5,2822.7 1303.2,2820.7 1304.9,2823.3 1306.6,2823.2 1308.3,2822.0 1310,2819.6 1311.7,2821.0 1313.4,2819.6 1315.1,2815.8 1316.8,2818.2 1318.5,2811.8 1320.2,2816.5 1321.9,2816.5 1323.6,2816.5 1325.3,2815.8 1327,2820.7 1328.7,2820.3 1330.4,2817.6 1332.1,2817.5 1333.8,2816.5 1335.5,2821.4 1337.2,2818.9 1338.9,2817.6 1340.6,2818.1 1342.3,2817.7 1344,2814.6 1345.7,2818.3 1347.4,2818.3 1349.1,2819.8 1350.8,2812.9 1352.5,2814.4 1354.2,2816.7 1355.9,2818.4 1357.6,2815.7" fill="none" stroke="#ff0000" stroke-width="3.5" stroke-linejoin="round"/>
<path d="M222,2700.7 223.7,2698.9 225.4,2703.3 227.1,2702.2 228.8,2701.2 230.5,2701.5 232.2,2703.1 233.9,2696.3 235.6,2696.0 237.3,2702.8 239,2702.6 240.7,2703.1 242.4,2705.1 244.1,2708.0 245.8,2709.6 247.5,2708.8 249.2,2712.0 250.9,2706.5 252.6,2710.8 254.3,2709.8 256,2706.3 257.7,2700.1 259.4,2700.8 261.1,2699.5 262.8,2706.1 264.5,2711.0 266.2,2706.6 267.9,2708.0 269.6,2709.1 271.3,2712.1 273,2709.5 274.7,2713.0 276.4,2707.2 278.1,2705.5 279.8,2702.6 281.5,2700.0 283.2,2707.2 284.9,2706.5 286.6,2705.1 288.3,2700.7 290,2694.8 291.7,2695.0 293.4,2699.7 295.1,2700.7 296.8,2692.8 298.5,2692.6 300.2,2696.9 301.9,2698.3 303.6,2696.1 305.3,2697.2 307,2700.5 308.7,2703.4 310.4,2698.2 312.1,2700.8 313.8,2703.6 315.5,2697.7 317.2,2695.5 318.9,2700.5 320.6,2703.8 322.3,2705.1 324,2709.2 325.7,2708.5 327.4,2710.2 329.1,2706.7 330.8,2704.8 332.5,2700.8 334.2,2701.8 335.9,2700.8 337.6,2699.5 339.3,2702.7 341,2703.6 342.7,2701.5 344.4,2702.4 346.1,2703.3 347.8,2704.1 349.5,2695.3 351.2,2699.2 352.9,2701.2 354.6,2702.5 356.3,2700.4 358,2707.6 359.7,2700.2 361.4,2704.1 363.1,2699.8 364.8,2705.8 366.5,2699.8 368.2,2702.8 369.9,2701.6 371.6,2704.5 373.3,2698.8 375,2698.8 376.7,2701.4 378.4,2704.0 380.1,2700.6 381.8,2694.6 383.5,2696.1 385.2,2691.0 386.9,2686.2 388.6,2684.5 390.3,2689.6 392,2695.5 393.7,2703.4 395.4,2704.0 397.1,2701.2 398.8,2702.8 400.5,2697.1 402.2,2696.7 403.9,2698.1 405.6,2697.8 407.3,2696.8 409,2698.3 410.7,2705.1 412.4,2702.7 414.1,2702.8 415.8,2707.1 417.5,2695.9 419.2,2696.7 420.9,2700.7 422.6,2694.9 424.3,2694.8 426,2700.2 427.7,2698.9 429.4,2698.4 431.1,2703.9 432.8,2693.7 434.5,2697.6 436.2,2691.7 437.9,2692.8 439.6,2691.3 441.3,2686.6 443,2683.6 444.7,2684.8 446.4,2687.5 448.1,2692.2 449.8,2695.5 451.5,2694.4 453.2,2697.2 454.9,2691.4 456.6,2683.7 458.3,2679.7 460,2682.8 461.7,2680.8 463.4,2682.7 465.1,2685.3 466.8,2691.4 468.5,2685.7 470.2,2688.1 471.9,2683.5 473.6,2688.2 475.3,2680.9 477,2683.0 478.7,2677.1 480.4,2691.9 482.1,2692.0 483.8,2686.9 485.5,2685.7 487.2,2684.2 488.9,2686.5 490.6,2690.8 492.3,2690.0 494,2687.7 495.7,2686.5 497.4,2692.4 499.1,2686.9 500.8,2689.3 502.5,2683.8 504.2,2678.1 505.9,2678.1 507.6,2676.1 509.3,2687.5 511,2693.7 512.7,2687.4 514.4,2683.4 516.1,2684.3 517.8,2684.3 519.5,2683.0 521.2,2688.0 522.9,2695.2 524.6,2690.9 526.3,2691.1 528,2687.6 529.7,2687.0 531.4,2684.8 533.1,2685.1 534.8,2686.1 536.5,2684.9 538.2,2686.1 539.9,2683.8 541.6,2686.0 543.3,2676.3 545,2674.7 546.7,2680.3 548.4,2686.8 550.1,2686.1 551.8,2685.7 553.5,2685.9 555.2,2684.5 556.9,2683.0 558.6,2673.3 560.3,2673.7 562,2680.6 563.7,2679.7 565.4,2689.6 567.1,2692.4 568.8,2684.3 570.5,2690.2 572.2,2686.0 573.9,2677.6 575.6,2681.2 577.3,2684.8 579,2687.5 580.7,2689.4 582.4,2685.1 584.1,2684.4 585.8,2684.8 587.5,2684.2 589.2,2676.3 590.9,2673.0 592.6,2675.6 594.3,2683.8 596,2683.5 597.7,2686.4 599.4,2685.6 601.1,2683.4 602.8,2686.5 604.5,2687.3 606.2,2685.1 607.9,2688.0 609.6,2690.9 611.3,2682.2 613,2685.8 614.7,2678.8 616.4,2681.5 618.1,2685.4 619.8,2686.6 621.5,2684.4 623.2,2685.8 624.9,2681.4 626.6,2674.1 628.3,2685.0 630,2680.1 631.7,2681.1 633.4,2677.3 635.1,2679.3 636.8,2679.2 638.5,2677.6 640.2,2683.8 641.9,2681.8 643.6,2680.3 645.3,2681.6 647,2684.9 648.7,2686.0 650.4,2683.4 652.1,2684.2 653.8,2682.5 655.5,2675.9 657.2,2674.2 658.9,2681.8 660.6,2678.1 662.3,2683.3 664,2686.1 665.7,2683.9 667.4,2681.9 669.1,2676.1 670.8,2678.3 672.5,2683.2 674.2,2677.7 675.9,2676.1 677.6,2648.3 679.3,2669.0 681,2686.9 682.7,2689.0 684.4,2685.5 686.1,2683.5 687.8,2680.3 689.5,2686.2 691.2,2683.5 692.9,2683.5 694.6,2679.2 696.3,2681.2 698,2678.5 699.7,2680.6 701.4,2686.8 703.1,2685.3 704.8,2683.8 706.5,2688.0 708.2,2685.9 709.9,2677.1 711.6,2677.8 713.3,2686.8 715,2688.7 716.7,2689.6 718.4,2691.2 720.1,2691.1 721.8,2691.1 723.5,2689.5 725.2,2689.7 726.9,2689.8 728.6,2689.4 730.3,2690.6 732,2690.1 733.7,2690.8 735.4,2690.2 737.1,2690.8 738.8,2691.7 740.5,2691.6 742.2,2692.1 743.9,2691.5 745.6,2689.7 747.3,2691.1 749,2690.6 750.7,2689.6 752.4,2691.5 754.1,2691.2 755.8,2690.7 757.5,2689.5 759.2,2691.1 760.9,2690.9 762.6,2687.1 764.3,2680.3 766,2682.6 767.7,2690.8 769.4,2692.5 771.1,2692.8 772.8,2690.9 774.5,2690.0 776.2,2691.0 777.9,2686.9 779.6,2678.6 781.3,2681.6 783,2691.5 784.7,2690.8 786.4,2691.0 788.1,2690.5 789.8,2691.0 791.5,2691.1 793.2,2692.0 794.9,2691.7 796.6,2693.5 798.3,2693.5 800,2693.1 801.7,2692.0 803.4,2692.3 805.1,2691.2 806.8,2691.5 808.5,2691.0 810.2,2692.1 811.9,2691.5 813.6,2691.5 815.3,2692.5 817,2692.3 818.7,2692.0 820.4,2690.6 822.1,2691.7 823.8,2695.3 825.5,2693.6 827.2,2691.5 828.9,2693.6 830.6,2699.3 832.3,2696.8 834,2693.8 835.7,2690.6 837.4,2691.3 839.1,2687.0 840.8,2687.0 842.5,2686.3 844.2,2690.1 845.9,2681.1 847.6,2686.0 849.3,2688.3 851,2685.9 852.7,2685.5 854.4,2685.2 856.1,2683.3 857.8,2686.6 859.5,2691.6 861.2,2694.0 862.9,2694.1 864.6,2692.3 866.3,2686.8 868,2682.7 869.7,2678.7 871.4,2685.1 873.1,2693.9 874.8,2689.9 876.5,2688.2 878.2,2688.8 879.9,2686.8 881.6,2692.0 883.3,2691.6 885,2688.4 886.7,2686.1 888.4,2687.3 890.1,2694.5 891.8,2693.6 893.5,2685.8 895.2,2687.6 896.9,2690.6 898.6,2687.0 900.3,2689.1 902,2695.0 903.7,2691.4 905.4,2683.7 907.1,2682.1 908.8,2688.6 910.5,2684.8 912.2,2682.7 913.9,2682.1 915.6,2680.2 917.3,2685.8 919,2686.2 920.7,2697.0 922.4,2694.9 924.1,2698.6 925.8,2695.8 927.5,2691.9 929.2,2687.4 930.9,2686.2 932.6,2688.9 934.3,2688.1 936,2696.5 937.7,2697.3 939.4,2697.3 941.1,2700.7 942.8,2697.7 944.5,2689.7 946.2,2694.1 947.9,2689.1 949.6,2687.1 951.3,2693.1 953,2693.7 954.7,2688.0 956.4,2692.3 958.1,2701.4 959.8,2692.0 961.5,2689.7 963.2,2686.2 964.9,2688.9 966.6,2689.0 968.3,2689.6 970,2685.8 971.7,2689.6 973.4,2690.2 975.1,2698.5 976.8,2695.7 978.5,2689.5 980.2,2686.8 981.9,2689.1 983.6,2689.0 985.3,2686.7 987,2690.7 988.7,2690.3 990.4,2690.7 992.1,2689.7 993.8,2688.6 995.5,2693.2 997.2,2696.9 998.9,2698.2 1000.6,2697.8 1002.3,2696.7 1004,2697.5 1005.7,2689.8 1007.4,2684.0 1009.1,2677.6 1010.8,2666.3 1012.5,2659.2 1014.2,2669.7 1015.9,2668.6 1017.6,2672.5 1019.3,2680.6 1021,2681.3 1022.7,2681.4 1024.4,2681.4 1026.1,2681.9 1027.8,2683.3 1029.5,2679.2 1031.2,2677.6 1032.9,2677.9 1034.6,2679.5 1036.3,2680.8 1038,2679.2 1039.7,2675.9 1041.4,2677.4 1043.1,2674.4 1044.8,2676.6 1046.5,2680.8 1048.2,2668.2 1049.9,2664.6 1051.6,2668.1 1053.3,2665.3 1055,2664.0 1056.7,2666.3 1058.4,2672.5 1060.1,2659.5 1061.8,2637.7 1063.5,2656.6 1065.2,2679.1 1066.9,2677.0 1068.6,2673.2 1070.3,2667.5 1072,2650.6 1073.7,2670.7 1075.4,2679.2 1077.1,2674.0 1078.8,2672.5 1080.5,2667.8" fill="none" stroke="#0000ff" stroke-width="3.5" stroke-linejoin="round"/>
<path d="M222,2434.9 223.7,2436.9 225.4,2431.6 227.1,2432.6 228.8,2435.4 230.5,2438.8 232.2,2443.4 233.9,2445.6 235.6,2445.5 237.3,2445.2 239,2441.7 240.7,2443.9 242.4,2451.1 244.1,2455.4 245.8,2466.7 247.5,2455.1 249.2,2442.7 250.9,2442.0 252.6,2440.4 254.3,2445.9 256,2442.4 257.7,2438.6 259.4,2437.9 261.1,2442.2 262.8,2439.9 264.5,2439.9 266.2,2442.3 267.9,2438.1 269.6,2431.7 271.3,2434.3 273,2437.3 274.7,2437.9 276.4,2443.8 278.1,2453.6 279.8,2462.7 281.5,2458.8 283.2,2443.9 284.9,2436.6 286.6,2440.6 288.3,2441.1 290,2439.0 291.7,2442.1 293.4,2443.7 295.1,2441.0 296.8,2442.8 298.5,2453.9 300.2,2456.7 301.9,2449.0 303.6,2442.6 305.3,2450.1 307,2440.1 308.7,2443.3 310.4,2441.7 312.1,2441.5 313.8,2448.2 315.5,2445.4 317.2,2450.4 318.9,2444.1 320.6,2445.2 322.3,2442.1 324,2439.7 325.7,2441.0 327.4,2440.5 329.1,2441.8 330.8,2434.8 332.5,2444.8 334.2,2443.0 335.9,2448.5 337.6,2442.1 339.3,2443.1 341,2453.3 342.7,2445.3 344.4,2438.7 346.1,2438.3 347.8,2441.6 349.5,2444.1 351.2,2447.6 352.9,2444.2 354.6,2437.8 356.3,2438.2 358,2444.1 359.7,2444.7 361.4,2436.9 363.1,2439.1 364.8,2445.1 366.5,2451.0 368.2,2448.8 369.9,2446.8 371.6,2440.4 373.3,2438.3 375,2440.1 376.7,2442.7 378.4,2444.3 380.1,2444.5 381.8,2443.6 383.5,2437.1 385.2,2435.4 386.9,2440.5 388.6,2433.3 390.3,2436.1 392,2440.3 393.7,2446.2 395.4,2444.6 397.1,2446.8 398.8,2443.3 400.5,2440.2 402.2,2438.7 403.9,2445.4 405.6,2447.2 407.3,2446.5 409,2455.8 410.7,2449.5 412.4,2448.2 414.1,2446.5 415.8,2443.7 417.5,2450.7 419.2,2451.8 420.9,2442.7 422.6,2441.0 424.3,2442.9 426,2445.2 427.7,2439.2 429.4,2432.8 431.1,2430.3 432.8,2430.5 434.5,2429.2 436.2,2436.9 437.9,2438.8 439.6,2436.1 441.3,2431.9 443,2437.5 444.7,2440.8 446.4,2444.7 448.1,2446.2 449.8,2443.7 451.5,2447.5 453.2,2444.6 454.9,2441.2 456.6,2439.8 458.3,2438.8 460,2432.9 461.7,2437.5 463.4,2440.4 465.1,2439.9 466.8,2438.4 468.5,2441.3 470.2,2447.5 471.9,2445.1 473.6,2442.0 475.3,2440.0 477,2440.7 478.7,2437.0 480.4,2438.8 482.1,2440.4 483.8,2447.4 485.5,2448.2 487.2,2448.9 488.9,2443.4 490.6,2445.0 492.3,2444.3 494,2459.2 495.7,2458.7 497.4,2443.7 499.1,2447.8 500.8,2447.1 502.5,2438.3 504.2,2462.3 505.9,2459.7 507.6,2441.2 509.3,2430.1 511,2434.0 512.7,2439.2 514.4,2466.0 516.1,2468.1 517.8,2447.1 519.5,2448.6 521.2,2461.8 522.9,2448.5 524.6,2440.0 526.3,2434.0 528,2443.7 529.7,2444.2 531.4,2439.4 533.1,2447.4 534.8,2447.1 536.5,2438.4 538.2,2441.0 539.9,2439.0 541.6,2440.7 543.3,2447.5 545,2463.4 546.7,2446.8 548.4,2441.4 550.1,2447.9 551.8,2442.4 553.5,2442.9 555.2,2443.2 556.9,2440.3 558.6,2443.3 560.3,2443.0 562,2439.4 563.7,2446.5 565.4,2447.2 567.1,2444.3 568.8,2441.1 570.5,2438.8 572.2,2444.4 573.9,2442.8 575.6,2444.0 577.3,2442.5 579,2444.4 580.7,2442.9 582.4,2445.1 584.1,2443.1 585.8,2445.4 587.5,2446.2 589.2,2443.9 590.9,2440.1 592.6,2437.8 594.3,2437.2 596,2436.0 597.7,2446.3 599.4,2457.6 601.1,2459.8 602.8,2453.9 604.5,2447.9 606.2,2440.0 607.9,2439.6 609.6,2440.4 611.3,2436.1 613,2437.9 614.7,2440.5 616.4,2439.2 618.1,2437.7 619.8,2437.1 621.5,2445.5 623.2,2443.4 624.9,2439.9 626.6,2439.6 628.3,2443.9 630,2440.7 631.7,2442.9 633.4,2445.0 635.1,2446.2 636.8,2449.1 638.5,2452.0 640.2,2461.9 641.9,2447.9 643.6,2440.7 645.3,2445.3 647,2446.6 648.7,2444.6 650.4,2439.4 652.1,2442.5 653.8,2436.6 655.5,2436.7 657.2,2437.5 658.9,2443.6 660.6,2440.7 662.3,2446.5 664,2445.0 665.7,2440.0 667.4,2444.1 669.1,2445.2 670.8,2441.7 672.5,2439.6 674.2,2443.0 675.9,2437.4 677.6,2438.3 679.3,2437.8 681,2440.0 682.7,2441.6 684.4,2441.9 686.1,2445.8 687.8,2444.9 689.5,2442.5 691.2,2438.2 692.9,2442.3 694.6,2444.0 696.3,2448.0 698,2442.8 699.7,2442.5 701.4,2444.2 703.1,2448.5 704.8,2446.1 706.5,2435.7 708.2,2440.7 709.9,2442.6 711.6,2445.0 713.3,2450.4 715,2444.7 716.7,2442.6 718.4,2441.6 720.1,2447.7 721.8,2438.6 723.5,2441.1 725.2,2435.9 726.9,2429.3 728.6,2427.6 730.3,2428.9 732,2437.9 733.7,2436.3 735.4,2437.7 737.1,2435.3 738.8,2440.0 740.5,2436.8 742.2,2443.3 743.9,2439.1 745.6,2437.6 747.3,2439.8 749,2440.7 750.7,2446.8 752.4,2448.1 754.1,2440.9 755.8,2438.5 757.5,2438.1 759.2,2442.4 760.9,2444.4 762.6,2445.0 764.3,2449.5 766,2450.2 767.7,2455.2 769.4,2460.4 771.1,2463.5 772.8,2458.7 774.5,2456.8 776.2,2460.4 777.9,2471.6 779.6,2469.3 781.3,2475.1 783,2463.7 784.7,2463.3 786.4,2458.8 788.1,2458.5 789.8,2464.7 791.5,2460.2 793.2,2462.1 794.9,2463.8 796.6,2461.3 798.3,2468.0 800,2472.4 801.7,2462.0 803.4,2457.8 805.1,2462.8 806.8,2458.0 808.5,2458.1 810.2,2460.2 811.9,2465.6 813.6,2463.2 815.3,2459.7 817,2455.8 818.7,2460.5 820.4,2456.7 822.1,2457.5 823.8,2461.8 825.5,2463.8 827.2,2451.8 828.9,2444.7 830.6,2439.9 832.3,2444.1 834,2448.3 835.7,2446.5 837.4,2447.0 839.1,2447.5 840.8,2447.9 842.5,2445.9 844.2,2444.3 845.9,2445.5 847.6,2446.9 849.3,2452.2 851,2450.9 852.7,2434.3 854.4,2435.3 856.1,2450.6 857.8,2474.0 859.5,2457.7 861.2,2442.4 862.9,2439.9 864.6,2449.9 866.3,2456.0 868,2439.2 869.7,2427.8 871.4,2433.3 873.1,2433.4 874.8,2435.9 876.5,2435.4 878.2,2438.3 879.9,2439.8 881.6,2434.9 883.3,2433.5 885,2431.8 886.7,2427.2 888.4,2432.4 890.1,2437.0 891.8,2435.4 893.5,2432.9 895.2,2436.8 896.9,2427.3 898.6,2430.6 900.3,2432.3 902,2430.8 903.7,2436.6 905.4,2438.3 907.1,2435.1 908.8,2433.8 910.5,2432.1 912.2,2430.7 913.9,2427.2 915.6,2434.4 917.3,2437.1 919,2437.8 920.7,2431.5 922.4,2437.0 924.1,2439.3 925.8,2437.1 927.5,2432.7 929.2,2429.2 930.9,2431.8 932.6,2429.0 934.3,2430.4 936,2434.9 937.7,2428.5 939.4,2436.9 941.1,2442.4 942.8,2435.6 944.5,2427.7 946.2,2428.3 947.9,2426.3 949.6,2427.8 951.3,2420.8 953,2423.5 954.7,2430.3 956.4,2423.7 958.1,2426.2 959.8,2424.4 961.5,2429.9 963.2,2429.2 964.9,2436.9 966.6,2435.1 968.3,2432.0 970,2433.4 971.7,2430.6 973.4,2426.2 975.1,2429.3 976.8,2429.4 978.5,2430.5 980.2,2431.9 981.9,2429.6 983.6,2431.5 985.3,2436.9 987,2430.3 988.7,2438.0 990.4,2438.5 992.1,2438.3 993.8,2443.1 995.5,2436.3 997.2,2437.4 998.9,2436.9 1000.6,2428.1 1002.3,2429.3 1004,2428.7 1005.7,2426.6 1007.4,2424.6 1009.1,2430.5 1010.8,2435.4 1012.5,2436.9 1014.2,2435.3 1015.9,2432.7 1017.6,2430.6 1019.3,2430.8 1021,2429.3 1022.7,2431.3 1024.4,2432.9 1026.1,2430.8 1027.8,2431.9 1029.5,2430.6 1031.2,2432.4 1032.9,2433.2 1034.6,2431.0 1036.3,2436.6 1038,2430.0 1039.7,2430.6 1041.4,2433.1 1043.1,2435.7 1044.8,2429.5 1046.5,2432.0 1048.2,2436.9 1049.9,2434.8 1051.6,2433.9 1053.3,2435.3 1055,2435.3 1056.7,2436.7 1058.4,2446.6 1060.1,2458.1 1061.8,2441.0 1063.5,2431.5 1065.2,2437.4 1066.9,2444.2 1068.6,2445.6 1070.3,2434.8 1072,2434.3 1073.7,2429.0 1075.4,2428.2 1077.1,2421.2 1078.8,2424.0 1080.5,2430.2" fill="none" stroke="#ff0000" stroke-width="3.5" stroke-linejoin="round"/>
<path d="M222,2322.1 223.7,2322.9 225.4,2313.7 227.1,2310.7 228.8,2313.8 230.5,2315.2 232.2,2309.6 233.9,2327.2 235.6,2336.9 237.3,2328.0 239,2331.3 240.7,2328.7 242.4,2321.4 244.1,2326.2 245.8,2326.8 247.5,2324.7 249.2,2320.3 250.9,2320.8 252.6,2327.6 254.3,2309.5 256,2307.8 257.7,2319.3 259.4,2328.6 261.1,2341.1 262.8,2333.6 264.5,2325.9 266.2,2328.7 267.9,2332.5 269.6,2322.4 271.3,2317.7 273,2318.1 274.7,2311.1 276.4,2308.4 278.1,2308.6 279.8,2310.0 281.5,2308.4 283.2,2302.3 284.9,2303.7 286.6,2308.0 288.3,2302.0 290,2299.2 291.7,2298.4 293.4,2308.0 295.1,2304.7 296.8,2299.2 298.5,2298.0 300.2,2293.3 301.9,2297.4 303.6,2302.9 305.3,2301.9 307,2303.0 308.7,2300.1 310.4,2299.6 312.1,2295.6 313.8,2296.0 315.5,2297.9 317.2,2298.0 318.9,2301.0 320.6,2290.5 322.3,2285.0 324,2287.0 325.7,2290.5 327.4,2297.9 329.1,2294.9 330.8,2291.9 332.5,2292.5 334.2,2284.2 335.9,2285.4 337.6,2286.5 339.3,2289.7 341,2291.7 342.7,2297.2 344.4,2295.0 346.1,2289.4 347.8,2289.1 349.5,2282.8 351.2,2281.6 352.9,2283.1 354.6,2289.9 356.3,2289.9 358,2283.8 359.7,2288.7 361.4,2290.4 363.1,2289.9 364.8,2293.3 366.5,2291.0 368.2,2293.8 369.9,2292.5 371.6,2286.6 373.3,2288.0 375,2290.6 376.7,2297.0 378.4,2290.3 380.1,2288.6 381.8,2281.4 383.5,2280.4 385.2,2275.2 386.9,2281.7 388.6,2299.8 390.3,2303.4 392,2297.9 393.7,2291.3 395.4,2288.9 397.1,2289.6 398.8,2275.7 400.5,2275.6 402.2,2287.0 403.9,2286.0 405.6,2290.0 407.3,2289.2 409,2288.9 410.7,2289.0 412.4,2291.7 414.1,2290.9 415.8,2295.1 417.5,2297.0 419.2,2283.2 420.9,2279.2 422.6,2290.3 424.3,2285.4 426,2285.3 427.7,2284.2 429.4,2289.6 431.1,2297.3 432.8,2307.8 434.5,2289.8 436.2,2284.8 437.9,2287.2 439.6,2281.8 441.3,2292.8 443,2293.5 444.7,2298.8 446.4,2287.3 448.1,2282.6 449.8,2290.9 451.5,2277.9 453.2,2283.8 454.9,2298.7 456.6,2292.9 458.3,2297.9 460,2291.6 461.7,2292.5 463.4,2291.6 465.1,2296.6 466.8,2300.9 468.5,2303.0 470.2,2302.1 471.9,2296.1 473.6,2306.6 475.3,2309.9 477,2306.2 478.7,2298.4 480.4,2300.8 482.1,2309.2 483.8,2315.5 485.5,2306.2 487.2,2307.4 488.9,2313.2 490.6,2313.4 492.3,2320.2 494,2321.6 495.7,2329.6 497.4,2318.5 499.1,2317.5 500.8,2323.0 502.5,2313.5 504.2,2314.2 505.9,2321.8 507.6,2319.5 509.3,2319.0 511,2319.8 512.7,2316.7 514.4,2315.9 516.1,2323.0 517.8,2323.1 519.5,2317.7 521.2,2317.1 522.9,2313.8 524.6,2321.0 526.3,2320.6 528,2321.2 529.7,2322.7 531.4,2316.4 533.1,2320.9 534.8,2320.9 536.5,2323.2 538.2,2312.8 539.9,2308.7 541.6,2313.3 543.3,2314.2 545,2313.8 546.7,2324.6 548.4,2323.7 550.1,2321.8 551.8,2322.8 553.5,2322.3 555.2,2318.0 556.9,2319.1 558.6,2318.2 560.3,2307.5 562,2310.1 563.7,2315.6 565.4,2319.2 567.1,2328.3 568.8,2327.9 570.5,2316.9 572.2,2322.8 573.9,2321.6 575.6,2320.9 577.3,2317.0 579,2322.3 580.7,2326.1 582.4,2320.1 584.1,2323.8 585.8,2319.5 587.5,2318.6 589.2,2325.9 590.9,2324.3 592.6,2323.0 594.3,2315.0 596,2315.7 597.7,2321.0 599.4,2318.0 601.1,2316.3 602.8,2318.0 604.5,2314.2 606.2,2309.3 607.9,2312.9 609.6,2318.3 611.3,2321.1 613,2313.0 614.7,2315.2 616.4,2324.7 618.1,2318.8 619.8,2320.7 621.5,2323.9 623.2,2322.4 624.9,2324.4 626.6,2323.6 628.3,2324.3 630,2324.6 631.7,2318.3 633.4,2324.8 635.1,2321.9 636.8,2317.8 638.5,2299.5 640.2,2294.1 641.9,2305.1 643.6,2311.8 645.3,2313.8 647,2315.2 648.7,2323.9 650.4,2324.1 652.1,2319.0 653.8,2321.6 655.5,2321.5 657.2,2319.3 658.9,2323.8 660.6,2313.3 662.3,2317.6 664,2319.4 665.7,2323.7 667.4,2320.4 669.1,2319.1 670.8,2327.7 672.5,2316.3 674.2,2322.3 675.9,2321.9 677.6,2321.7 679.3,2320.5 681,2313.8 682.7,2314.5 684.4,2319.8 686.1,2319.5 687.8,2324.9 689.5,2320.7 691.2,2320.6 692.9,2317.8 694.6,2323.5 696.3,2323.7 698,2325.5 699.7,2323.1 701.4,2333.4 703.1,2326.5 704.8,2319.7 706.5,2321.0 708.2,2321.8 709.9,2321.1 711.6,2318.9 713.3,2318.7 715,2319.5 716.7,2311.9 718.4,2305.3 720.1,2311.0 721.8,2323.0 723.5,2316.7 725.2,2323.8 726.9,2323.4 728.6,2324.3 730.3,2331.1 732,2329.4 733.7,2318.4 735.4,2315.8 737.1,2312.2 738.8,2316.2 740.5,2321.8 742.2,2326.4 743.9,2321.0 745.6,2319.0 747.3,2327.5 749,2324.3 750.7,2322.4 752.4,2327.9 754.1,2322.4 755.8,2321.7 757.5,2311.5 759.2,2304.5 760.9,2304.8 762.6,2313.9 764.3,2320.4 766,2319.9 767.7,2324.0 769.4,2320.0 771.1,2322.3 772.8,2325.8 774.5,2326.6 776.2,2327.9 777.9,2326.6 779.6,2323.9 781.3,2324.4 783,2328.5 784.7,2328.8 786.4,2329.7 788.1,2328.1 789.8,2318.7 791.5,2313.9 793.2,2311.9 794.9,2311.7 796.6,2317.4 798.3,2310.0 800,2308.4 801.7,2318.7 803.4,2323.7 805.1,2327.2 806.8,2323.6 808.5,2324.8 810.2,2319.8 811.9,2323.4 813.6,2323.8 815.3,2320.2 817,2325.2 818.7,2326.8 820.4,2327.2 822.1,2321.5 823.8,2319.4 825.5,2328.4 827.2,2325.8 828.9,2323.1 830.6,2324.2 832.3,2320.8 834,2309.5 835.7,2315.6 837.4,2317.5 839.1,2322.5 840.8,2322.9 842.5,2314.0 844.2,2314.8 845.9,2315.8 847.6,2317.4 849.3,2316.2 851,2322.9 852.7,2325.8 854.4,2316.5 856.1,2315.0 857.8,2316.2 859.5,2319.8 861.2,2319.5 862.9,2319.9 864.6,2319.1 866.3,2331.0 868,2324.2 869.7,2325.8 871.4,2325.7 873.1,2323.6 874.8,2323.5 876.5,2316.3 878.2,2320.6 879.9,2320.1 881.6,2317.2 883.3,2320.5 885,2323.6 886.7,2319.2 888.4,2310.3 890.1,2302.5 891.8,2309.1 893.5,2312.8 895.2,2304.8 896.9,2302.3 898.6,2315.0 900.3,2310.4 902,2311.6 903.7,2325.0 905.4,2331.0 907.1,2331.5 908.8,2332.4 910.5,2331.2 912.2,2329.9 913.9,2328.6 915.6,2329.2 917.3,2329.8 919,2329.5 920.7,2330.9 922.4,2331.4 924.1,2331.1 925.8,2331.0 927.5,2330.2 929.2,2329.1 930.9,2328.8 932.6,2328.9 934.3,2327.8 936,2325.2 937.7,2329.8 939.4,2330.1 941.1,2328.8 942.8,2330.6 944.5,2328.6 946.2,2330.5 947.9,2330.2 949.6,2330.5 951.3,2331.6 953,2330.2 954.7,2329.0 956.4,2330.6 958.1,2331.2 959.8,2331.0 961.5,2330.7 963.2,2330.0 964.9,2329.2 966.6,2331.7 968.3,2329.5 970,2329.8 971.7,2329.3 973.4,2329.8 975.1,2331.3 976.8,2329.5 978.5,2329.2 980.2,2330.3 981.9,2330.2 983.6,2331.2 985.3,2330.1 987,2327.4 988.7,2328.3 990.4,2329.2 992.1,2330.8 993.8,2329.9 995.5,2329.2 997.2,2327.8 998.9,2329.7 1000.6,2330.4 1002.3,2328.4 1004,2329.2 1005.7,2329.4 1007.4,2331.1 1009.1,2331.3 1010.8,2330.6 1012.5,2328.2 1014.2,2302.1 1015.9,2276.8 1017.6,2297.3 1019.3,2317.6 1021,2311.2 1022.7,2311.9 1024.4,2309.1 1026.1,2300.0 1027.8,2291.0 1029.5,2300.8 1031.2,2308.4 1032.9,2313.9 1034.6,2306.4 1036.3,2310.9 1038,2310.2 1039.7,2313.5 1041.4,2312.2 1043.1,2307.8 1044.8,2311.1 1046.5,2318.4 1048.2,2317.6 1049.9,2314.6 1051.6,2314.6 1053.3,2312.1 1055,2309.6 1056.7,2315.5 1058.4,2318.8 1060.1,2317.4 1061.8,2314.8 1063.5,2328.6 1065.2,2325.7 1066.9,2323.0 1068.6,2318.2 1070.3,2313.3 1072,2315.4 1073.7,2306.9 1075.4,2293.6 1077.1,2295.4 1078.8,2315.7 1080.5,2321.4 1082.2,2319.1 1083.9,2321.9 1085.6,2325.0 1087.3,2315.9 1089,2314.1 1090.7,2310.6 1092.4,2317.0 1094.1,2317.2 1095.8,2318.0 1097.5,2310.6 1099.2,2320.5 1100.9,2321.4 1102.6,2315.9 1104.3,2311.0 1106,2310.5 1107.7,2314.5 1109.4,2314.6 1111.1,2315.7 1112.8,2302.5 1114.5,2280.7 1116.2,2289.0 1117.9,2317.3 1119.6,2308.1 1121.3,2296.7 1123,2310.0 1124.7,2321.9 1126.4,2320.1 1128.1,2319.0 1129.8,2319.5 1131.5,2318.8 1133.2,2317.8 1134.9,2322.9 1136.6,2322.1 1138.3,2324.1 1140,2318.4 1141.7,2321.5 1143.4,2316.3 1145.1,2317.0 1146.8,2310.5 1148.5,2306.8 1150.2,2304.4 1151.9,2301.8 1153.6,2295.6 1155.3,2294.1 1157,2300.5 1158.7,2313.8 1160.4,2304.6 1162.1,2312.7 1163.8,2308.9 1165.5,2313.2 1167.2,2315.3 1168.9,2314.5 1170.6,2319.9 1172.3,2319.5 1174,2321.2 1175.7,2327.4 1177.4,2323.3 1179.1,2324.7 1180.8,2318.9 1182.5,2319.5 1184.2,2318.2 1185.9,2307.5 1187.6,2311.1 1189.3,2318.8 1191,2312.8 1192.7,2318.3 1194.4,2307.3 1196.1,2309.6 1197.8,2323.1 1199.5,2317.5 1201.2,2316.4 1202.9,2312.6 1204.6,2292.4 1206.3,2290.9 1208,2304.1 1209.7,2313.4 1211.4,2315.8 1213.1,2318.5 1214.8,2319.2 1216.5,2320.9 1218.2,2315.2 1219.9,2319.2 1221.6,2319.4 1223.3,2316.6 1225,2319.4 1226.7,2316.7 1228.4,2322.8 1230.1,2321.8 1231.8,2327.8 1233.5,2317.8 1235.2,2307.7 1236.9,2312.7 1238.6,2318.9 1240.3,2316.1 1242,2313.5 1243.7,2310.0 1245.4,2314.2 1247.1,2314.6 1248.8,2315.6 1250.5,2317.2 1252.2,2321.9 1253.9,2321.4 1255.6,2320.7 1257.3,2320.4 1259,2321.3 1260.7,2319.8 1262.4,2320.8 1264.1,2315.5 1265.8,2312.3 1267.5,2317.0 1269.2,2316.2 1270.9,2315.5 1272.6,2325.2 1274.3,2318.4 1276,2319.1 1277.7,2314.5 1279.4,2315.4 1281.1,2316.0 1282.8,2312.7 1284.5,2319.1 1286.2,2313.4 1287.9,2310.1 1289.6,2317.1 1291.3,2327.0 1293,2325.2 1294.7,2322.8 1296.4,2321.2 1298.1,2319.4 1299.8,2325.1 1301.5,2321.9 1303.2,2319.9 1304.9,2323.6 1306.6,2325.1 1308.3,2324.9 1310,2326.2 1311.7,2327.1 1313.4,2322.7 1315.1,2311.3 1316.8,2299.2 1318.5,2302.8 1320.2,2303.2 1321.9,2306.8 1323.6,2310.5 1325.3,2305.1 1327,2305.3 1328.7,2307.7 1330.4,2315.6 1332.1,2316.5 1333.8,2315.5 1335.5,2317.0 1337.2,2303.6 1338.9,2302.7 1340.6,2301.4 1342.3,2311.7 1344,2310.7 1345.7,2320.6 1347.4,2316.2 1349.1,2319.2 1350.8,2320.1 1352.5,2324.7 1354.2,2319.1 1355.9,2310.0 1357.6,2310.8 1359.3,2312.8 1361,2318.0 1362.7,2320.0 1364.4,2319.6 1366.1,2314.7 1367.8,2317.0 1369.5,2324.4 1371.2,2318.6 1372.9,2313.9 1374.6,2319.1 1376.3,2319.3 1378,2313.8 1379.7,2309.1 1381.4,2317.4 1383.1,2322.0 1384.8,2326.7 1386.5,2331.6 1388.2,2331.6 1389.9,2314.8 1391.6,2294.9 1393.3,2299.1 1395,2313.2 1396.7,2316.5 1398.4,2321.9 1400.1,2318.1 1401.8,2319.7 1403.5,2321.1 1405.2,2320.1 1406.9,2320.0 1408.6,2320.1 1410.3,2302.6 1412,2290.2 1413.7,2301.2 1415.4,2305.7 1417.1,2309.6 1418.8,2304.5 1420.5,2304.3 1422.2,2310.1 1423.9,2309.0 1425.6,2315.6 1427.3,2314.1 1429,2318.4 1430.7,2323.5 1432.4,2325.6 1434.1,2322.4 1435.8,2319.3 1437.5,2336.0 1439.2,2339.0 1440.9,2331.1 1442.6,2323.6 1444.3,2318.2 1446,2315.0 1447.7,2307.5 1449.4,2293.5 1451.1,2291.3 1452.8,2288.1 1454.5,2294.0 1456.2,2295.0 1457.9,2297.2 1459.6,2293.2 1461.3,2296.1 1463,2304.2 1464.7,2304.7 1466.4,2297.5 1468.1,2301.8 1469.8,2303.1 1471.5,2302.0 1473.2,2287.7 1474.9,2283.3 1476.6,2276.6 1478.3,2277.0 1480,2277.4 1481.7,2274.5 1483.4,2275.3 1485.1,2268.1 1486.8,2266.0 1488.5,2256.9 1490.2,2243.6 1491.9,2253.5 1493.6,2264.5 1495.3,2270.6 1497,2271.5 1498.7,2270.2 1500.4,2273.4 1502.1,2274.4 1503.8,2279.5 1505.5,2284.7 1507.2,2287.5" fill="none" stroke="#0000ff" stroke-width="3.5" stroke-linejoin="round"/>
<path d="M222,2050.8 223.7,2050.0 225.4,2049.0 227.1,2045.9 228.8,2049.2 230.5,2047.6 232.2,2048.7 233.9,2047.2 235.6,2049.5 237.3,2047.9 239,2047.9 240.7,2049.0 242.4,2047.3 244.1,2046.3 245.8,2046.0 247.5,2046.4 249.2,2047.8 250.9,2047.8 252.6,2047.4 254.3,2049.0 256,2048.4 257.7,2045.0 259.4,2050.7 261.1,2052.3 262.8,2058.8 264.5,2046.8 266.2,2042.4 267.9,2042.8 269.6,2047.0 271.3,2044.9 273,2048.7 274.7,2052.5 276.4,2051.0 278.1,2050.7 279.8,2052.1 281.5,2052.5 283.2,2050.3 284.9,2046.2 286.6,2046.9 288.3,2046.5 290,2048.7 291.7,2049.7 293.4,2048.5 295.1,2047.0 296.8,2047.2 298.5,2053.2 300.2,2058.5 301.9,2054.9 303.6,2053.8 305.3,2054.8 307,2051.8 308.7,2054.3 310.4,2049.8 312.1,2051.5 313.8,2051.0 315.5,2046.5 317.2,2052.0 318.9,2056.5 320.6,2056.6 322.3,2050.2 324,2044.4 325.7,2049.0 327.4,2051.6 329.1,2055.0 330.8,2054.2 332.5,2045.9 334.2,2047.2 335.9,2043.3 337.6,2042.8 339.3,2045.5 341,2051.0 342.7,2052.4 344.4,2053.9 346.1,2055.5 347.8,2055.1 349.5,2051.5 351.2,2051.6 352.9,2051.3 354.6,2049.4 356.3,2049.6 358,2049.6 359.7,2046.5 361.4,2044.4 363.1,2047.0 364.8,2050.0 366.5,2052.3 368.2,2054.3 369.9,2053.3 371.6,2052.2 373.3,2049.9 375,2046.9 376.7,2040.9 378.4,2044.2 380.1,2048.5 381.8,2051.7 383.5,2059.4 385.2,2062.0 386.9,2061.3 388.6,2058.4 390.3,2061.3 392,2062.3 393.7,2064.0 395.4,2068.9 397.1,2063.2 398.8,2055.1 400.5,2059.7 402.2,2057.1 403.9,2057.5 405.6,2055.3 407.3,2056.8 409,2063.7 410.7,2068.1 412.4,2058.5 414.1,2056.6 415.8,2057.2 417.5,2055.0 419.2,2055.5 420.9,2051.1 422.6,2050.9 424.3,2057.4 426,2053.9 427.7,2048.6 429.4,2049.5 431.1,2049.3 432.8,2049.3 434.5,2048.5 436.2,2052.1 437.9,2057.1 439.6,2056.4 441.3,2066.3 443,2075.8 444.7,2079.2 446.4,2080.9 448.1,2077.1 449.8,2081.3 451.5,2081.1 453.2,2079.4 454.9,2081.9 456.6,2078.2 458.3,2066.7 460,2058.7 461.7,2055.2 463.4,2054.0 465.1,2056.8 466.8,2085.3 468.5,2097.0 470.2,2081.7 471.9,2062.3 473.6,2060.9 475.3,2055.1 477,2069.4 478.7,2096.4 480.4,2109.6 482.1,2097.6 483.8,2095.0" fill="none" stroke="#ff0000" stroke-width="3.5" stroke-linejoin="round"/>
<path d="M1212,2057.2 1213.7,2055.9 1215.4,2055.0 1217.1,2058.0 1218.8,2060.9 1220.5,2059.7 1222.2,2059.5 1223.9,2056.8 1225.6,2058.6 1227.3,2058.8 1229,2062.3 1230.7,2066.6 1232.4,2063.6 1234.1,2060.6 1235.8,2060.3 1237.5,2059.1 1239.2,2066.5 1240.9,2068.4 1242.6,2060.7 1244.3,2061.5 1246,2058.5 1247.7,2059.3 1249.4,2058.8 1251.1,2062.0 1252.8,2062.0 1254.5,2061.4 1256.2,2061.0 1257.9,2061.7 1259.6,2060.6 1261.3,2059.1 1263,2067.7 1264.7,2084.6 1266.4,2088.2 1268.1,2085.3 1269.8,2083.6 1271.5,2087.0 1273.2,2091.2 1274.9,2097.8 1276.6,2094.6 1278.3,2089.8 1280,2089.9 1281.7,2090.1 1283.4,2084.6 1285.1,2078.3 1286.8,2086.5 1288.5,2090.5 1290.2,2087.3 1291.9,2074.0 1293.6,2074.4 1295.3,2104.3 1297,2114.0 1298.7,2114.0 1300.4,2082.5 1302.1,2085.7 1303.8,2109.4 1305.5,2111.8 1307.2,2086.1 1308.9,2052.7 1310.6,2052.0 1312.3,2051.1 1314,2051.4 1315.7,2052.3 1317.4,2051.2 1319.1,2048.6 1320.8,2048.4 1322.5,2049.1 1324.2,2050.8 1325.9,2051.6 1327.6,2050.3 1329.3,2051.1 1331,2049.8 1332.7,2050.6 1334.4,2050.9 1336.1,2053.3 1337.8,2049.5 1339.5,2047.5 1341.2,2048.3 1342.9,2051.7 1344.6,2049.2 1346.3,2048.5 1348,2050.3 1349.7,2053.4 1351.4,2050.3 1353.1,2051.2 1354.8,2053.0 1356.5,2053.0 1358.2,2051.1 1359.9,2052.2 1361.6,2050.2 1363.3,2047.3 1365,2046.9 1366.7,2048.7 1368.4,2048.2 1370.1,2047.1 1371.8,2044.5 1373.5,2043.4 1375.2,2048.2 1376.9,2047.2 1378.6,2047.1 1380.3,2047.3 1382,2049.6 1383.7,2045.6 1385.4,2046.8 1387.1,2048.3 1388.8,2046.8 1390.5,2047.4 1392.2,2049.9 1393.9,2047.1 1395.6,2050.0 1397.3,2063.7 1399,2059.5 1400.7,2049.9 1402.4,2046.8 1404.1,2045.9 1405.8,2048.1 1407.5,2051.8 1409.2,2052.1 1410.9,2051.3 1412.6,2050.1 1414.3,2049.7 1416,2048.3 1417.7,2047.9 1419.4,2048.3 1421.1,2049.5 1422.8,2047.8 1424.5,2050.3 1426.2,2053.3 1427.9,2052.7 1429.6,2053.5 1431.3,2051.6 1433,2047.6 1434.7,2047.6 1436.4,2047.1 1438.1,2046.1 1439.8,2045.7 1441.5,2047.9 1443.2,2048.3 1444.9,2049.7 1446.6,2055.7 1448.3,2055.0 1450,2051.5 1451.7,2045.4 1453.4,2046.7 1455.1,2045.8 1456.8,2046.8 1458.5,2045.7 1460.2,2043.8 1461.9,2042.6 1463.6,2043.3 1465.3,2045.9 1467,2048.2 1468.7,2049.8 1470.4,2048.5 1472.1,2050.5 1473.8,2048.9 1475.5,2048.3 1477.2,2048.6 1478.9,2049.6 1480.6,2048.2 1482.3,2046.0 1484,2046.7 1485.7,2048.4 1487.4,2046.6 1489.1,2045.3 1490.8,2047.0 1492.5,2046.8 1494.2,2049.2 1495.9,2050.6 1497.6,2045.1 1499.3,2041.9 1501,2040.5 1502.7,2042.0 1504.4,2040.4 1506.1,2043.2 1507.8,2041.6" fill="none" stroke="#ff0000" stroke-width="3.5" stroke-linejoin="round"/>
<path d="M222,1916.6 223.7,1916.2 225.4,1915.9 227.1,1918.0 228.8,1916.8 230.5,1917.4 232.2,1917.2 233.9,1919.7 235.6,1909.4 237.3,1905.5 239,1903.1 240.7,1911.1 242.4,1914.4 244.1,1912.4 245.8,1915.8 247.5,1917.2 249.2,1920.0 250.9,1921.8 252.6,1916.4 254.3,1924.1 256,1924.5 257.7,1922.7 259.4,1915.6 261.1,1906.0 262.8,1909.8 264.5,1917.2 266.2,1913.4 267.9,1917.4 269.6,1918.8 271.3,1912.4 273,1902.0 274.7,1882.7 276.4,1895.3 278.1,1914.6 279.8,1919.9 281.5,1923.4 283.2,1918.5 284.9,1914.9 286.6,1920.5 288.3,1918.8 290,1916.7 291.7,1921.6 293.4,1921.6 295.1,1919.1 296.8,1921.5 298.5,1918.0 300.2,1917.6 301.9,1917.1 303.6,1918.7 305.3,1916.2 307,1916.3 308.7,1922.2 310.4,1917.3 312.1,1910.3 313.8,1912.9 315.5,1921.4 317.2,1917.4 318.9,1917.6 320.6,1919.3 322.3,1924.0 324,1918.9 325.7,1919.1 327.4,1914.3 329.1,1913.1 330.8,1918.1 332.5,1919.8 334.2,1921.9 335.9,1924.3 337.6,1926.9 339.3,1924.5 341,1918.2 342.7,1916.7 344.4,1914.9 346.1,1915.7 347.8,1915.0 349.5,1916.8 351.2,1914.8 352.9,1919.4 354.6,1916.7 356.3,1905.1 358,1888.7 359.7,1901.1 361.4,1914.4 363.1,1915.8 364.8,1909.0 366.5,1897.9 368.2,1905.5 369.9,1914.0 371.6,1912.3 373.3,1916.3 375,1915.0 376.7,1916.2 378.4,1917.8 380.1,1917.3 381.8,1920.0 383.5,1913.6 385.2,1909.5 386.9,1917.3 388.6,1917.7 390.3,1915.8 392,1919.4 393.7,1918.2 395.4,1925.9 397.1,1919.2 398.8,1913.4 400.5,1913.8 402.2,1921.8 403.9,1923.3 405.6,1918.3 407.3,1919.1 409,1921.2 410.7,1918.3 412.4,1914.5 414.1,1912.7 415.8,1917.5 417.5,1913.3 419.2,1901.7 420.9,1902.1 422.6,1917.3 424.3,1911.8 426,1910.9 427.7,1918.0 429.4,1919.7 431.1,1917.5 432.8,1907.2 434.5,1913.7 436.2,1919.3 437.9,1917.5 439.6,1912.3 441.3,1896.9 443,1903.5 444.7,1911.0 446.4,1913.3 448.1,1914.5 449.8,1910.4 451.5,1894.8 453.2,1899.3 454.9,1913.1 456.6,1905.9 458.3,1883.3 460,1888.3 461.7,1910.8 463.4,1917.1 465.1,1918.6 466.8,1918.4 468.5,1920.2 470.2,1920.5 471.9,1915.9 473.6,1917.9 475.3,1921.2 477,1924.7 478.7,1929.0 480.4,1925.8 482.1,1923.4 483.8,1915.2 485.5,1913.6 487.2,1914.6 488.9,1914.7 490.6,1912.3 492.3,1911.6 494,1918.3 495.7,1899.3 497.4,1891.0 499.1,1914.0 500.8,1918.6 502.5,1912.2 504.2,1916.5 505.9,1919.7 507.6,1911.3 509.3,1917.2 511,1918.0 512.7,1919.3 514.4,1919.9 516.1,1918.0 517.8,1916.3 519.5,1915.3 521.2,1916.4 522.9,1919.8 524.6,1919.5 526.3,1917.8 528,1915.7 529.7,1918.3 531.4,1913.9 533.1,1916.0 534.8,1919.6 536.5,1915.6 538.2,1919.1 539.9,1902.8 541.6,1901.7 543.3,1912.0 545,1920.3 546.7,1920.5 548.4,1920.2 550.1,1921.8 551.8,1916.3 553.5,1916.3 555.2,1917.5 556.9,1912.5 558.6,1915.6 560.3,1920.4 562,1916.0 563.7,1917.3 565.4,1916.8 567.1,1912.5 568.8,1903.9 570.5,1885.7 572.2,1879.6 573.9,1897.7 575.6,1915.4 577.3,1921.0 579,1920.5 580.7,1912.6 582.4,1886.6 584.1,1876.1 585.8,1892.5 587.5,1909.8 589.2,1918.1 590.9,1917.3 592.6,1917.0 594.3,1916.3 596,1923.3 597.7,1919.0 599.4,1919.9 601.1,1916.4 602.8,1913.6 604.5,1916.5 606.2,1920.5 607.9,1917.4 609.6,1912.0 611.3,1912.6 613,1906.5 614.7,1915.0 616.4,1923.6 618.1,1919.1 619.8,1922.4 621.5,1924.2 623.2,1911.4 624.9,1917.3 626.6,1916.1 628.3,1918.1 630,1925.5 631.7,1928.9 633.4,1923.4 635.1,1921.0 636.8,1911.9 638.5,1914.4 640.2,1907.9 641.9,1901.1 643.6,1912.1 645.3,1920.7 647,1919.8 648.7,1914.8 650.4,1900.1 652.1,1903.4 653.8,1917.6 655.5,1923.8 657.2,1918.2 658.9,1919.2 660.6,1917.3 662.3,1916.3 664,1917.3 665.7,1910.9 667.4,1893.5 669.1,1902.6 670.8,1915.3 672.5,1918.6 674.2,1915.7 675.9,1918.6 677.6,1922.8 679.3,1923.7 681,1902.1 682.7,1877.1 684.4,1893.7 686.1,1919.1 687.8,1918.2 689.5,1915.6 691.2,1923.9 692.9,1922.4 694.6,1919.9 696.3,1919.0 698,1916.6 699.7,1915.0 701.4,1921.6 703.1,1918.7 704.8,1915.7 706.5,1898.6 708.2,1885.8 709.9,1910.3 711.6,1921.3 713.3,1918.7 715,1919.2 716.7,1918.8 718.4,1914.2 720.1,1915.0 721.8,1918.4 723.5,1911.9 725.2,1912.0 726.9,1916.7 728.6,1911.9 730.3,1918.3 732,1908.3 733.7,1892.5 735.4,1902.8 737.1,1922.0 738.8,1925.3 740.5,1931.2 742.2,1925.1 743.9,1924.6 745.6,1924.8 747.3,1928.9 749,1925.4 750.7,1922.7 752.4,1919.1 754.1,1915.2 755.8,1913.7 757.5,1917.5 759.2,1918.9 760.9,1915.5 762.6,1911.6 764.3,1915.7 766,1913.6 767.7,1915.4 769.4,1914.1 771.1,1917.0 772.8,1919.2 774.5,1912.6 776.2,1891.4 777.9,1867.9 779.6,1876.2 781.3,1863.8 783,1877.6 784.7,1909.7 786.4,1919.9 788.1,1917.5 789.8,1919.9 791.5,1919.9 793.2,1909.4 794.9,1879.5 796.6,1877.7 798.3,1901.0 800,1893.0 801.7,1889.5 803.4,1910.1 805.1,1915.5 806.8,1912.5 808.5,1914.3 810.2,1912.4 811.9,1915.0 813.6,1918.0 815.3,1918.0 817,1920.2 818.7,1914.7 820.4,1911.7 822.1,1915.4 823.8,1923.6 825.5,1921.0 827.2,1917.8 828.9,1923.3 830.6,1924.8 832.3,1921.5 834,1920.9 835.7,1917.3 837.4,1920.4 839.1,1915.3 840.8,1917.7 842.5,1915.1 844.2,1917.3 845.9,1920.1 847.6,1917.9 849.3,1919.7 851,1920.2 852.7,1917.8 854.4,1915.4 856.1,1902.8 857.8,1884.0 859.5,1900.1 861.2,1908.9 862.9,1913.0 864.6,1912.5 866.3,1909.9 868,1913.3 869.7,1918.8 871.4,1917.3 873.1,1912.8 874.8,1915.2 876.5,1915.5 878.2,1920.8 879.9,1922.5 881.6,1918.5 883.3,1919.4 885,1907.5 886.7,1892.6 888.4,1902.4 890.1,1913.3 891.8,1899.3 893.5,1889.4 895.2,1908.5 896.9,1916.9 898.6,1918.0 900.3,1916.7 902,1914.8 903.7,1903.4 905.4,1886.0 907.1,1896.0 908.8,1909.0 910.5,1920.7 912.2,1917.9 913.9,1917.4 915.6,1914.8 917.3,1915.7 919,1922.9 920.7,1919.6 922.4,1911.7 924.1,1913.4 925.8,1915.7 927.5,1916.8 929.2,1911.7 930.9,1917.7 932.6,1919.0 934.3,1894.6 936,1880.0 937.7,1893.0 939.4,1910.9 941.1,1912.0 942.8,1901.7 944.5,1890.4 946.2,1880.6 947.9,1895.1 949.6,1908.7 951.3,1898.3 953,1901.2 954.7,1912.4 956.4,1914.1 958.1,1920.1 959.8,1919.8 961.5,1919.3 963.2,1919.8 964.9,1920.1 966.6,1918.9 968.3,1919.1 970,1917.8 971.7,1917.4 973.4,1918.6 975.1,1917.1 976.8,1917.6 978.5,1917.8 980.2,1917.9 981.9,1917.1 983.6,1916.0 985.3,1917.8 987,1917.2 988.7,1918.3 990.4,1916.6 992.1,1917.6 993.8,1917.5 995.5,1915.8 997.2,1916.7 998.9,1918.2 1000.6,1918.8 1002.3,1920.3 1004,1918.7 1005.7,1919.2 1007.4,1918.4 1009.1,1919.1 1010.8,1918.2 1012.5,1918.1 1014.2,1919.1 1015.9,1918.4 1017.6,1918.0 1019.3,1918.2 1021,1917.3 1022.7,1915.7 1024.4,1916.4 1026.1,1917.9 1027.8,1919.1 1029.5,1917.2 1031.2,1915.9 1032.9,1916.8 1034.6,1915.8 1036.3,1915.5 1038,1916.9 1039.7,1916.8 1041.4,1915.3 1043.1,1917.6 1044.8,1917.4 1046.5,1918.1 1048.2,1918.1 1049.9,1917.0 1051.6,1916.8 1053.3,1916.8 1055,1918.2 1056.7,1917.7 1058.4,1917.9 1060.1,1917.9 1061.8,1918.5 1063.5,1918.6 1065.2,1916.9 1066.9,1909.8 1068.6,1853.3 1070.3,1810.5 1072,1868.5 1073.7,1912.9 1075.4,1912.0 1077.1,1910.7 1078.8,1916.6 1080.5,1914.0 1082.2,1911.8 1083.9,1916.7 1085.6,1903.1 1087.3,1875.5 1089,1879.7 1090.7,1885.1 1092.4,1881.4 1094.1,1904.2 1095.8,1916.4 1097.5,1913.7 1099.2,1913.6 1100.9,1913.3 1102.6,1913.2 1104.3,1921.5 1106,1915.9 1107.7,1918.2 1109.4,1921.0 1111.1,1920.4 1112.8,1915.6 1114.5,1914.7 1116.2,1915.3 1117.9,1916.9 1119.6,1918.5 1121.3,1918.5 1123,1917.9 1124.7,1914.6 1126.4,1919.9 1128.1,1915.9 1129.8,1912.2 1131.5,1914.8 1133.2,1915.0 1134.9,1910.0 1136.6,1916.0 1138.3,1918.1 1140,1921.7 1141.7,1922.5 1143.4,1914.7 1145.1,1916.7 1146.8,1921.6 1148.5,1913.1 1150.2,1902.6 1151.9,1912.9 1153.6,1918.5 1155.3,1920.5 1157,1923.9 1158.7,1923.8 1160.4,1925.1 1162.1,1920.0 1163.8,1904.0 1165.5,1899.9 1167.2,1910.8 1168.9,1919.9 1170.6,1913.8 1172.3,1914.6 1174,1913.7 1175.7,1902.3 1177.4,1883.3 1179.1,1884.4 1180.8,1909.9 1182.5,1919.7 1184.2,1895.0 1185.9,1874.5 1187.6,1891.2 1189.3,1913.5 1191,1914.1 1192.7,1912.2 1194.4,1910.1 1196.1,1914.2 1197.8,1915.2 1199.5,1915.1 1201.2,1917.2 1202.9,1915.3 1204.6,1917.1 1206.3,1917.9 1208,1919.5 1209.7,1915.1 1211.4,1914.8 1213.1,1916.4 1214.8,1916.0 1216.5,1914.6 1218.2,1919.2 1219.9,1915.1 1221.6,1913.8 1223.3,1913.6 1225,1916.8 1226.7,1913.6 1228.4,1913.4 1230.1,1919.0 1231.8,1916.2 1233.5,1911.0 1235.2,1911.3 1236.9,1910.0 1238.6,1915.4 1240.3,1921.6 1242,1917.4 1243.7,1916.5 1245.4,1918.1 1247.1,1916.6 1248.8,1909.9 1250.5,1909.9 1252.2,1916.3 1253.9,1914.2 1255.6,1916.7 1257.3,1910.3 1259,1913.2 1260.7,1917.3 1262.4,1922.7 1264.1,1923.8 1265.8,1924.2 1267.5,1921.1 1269.2,1916.7 1270.9,1907.2 1272.6,1903.3 1274.3,1914.2 1276,1917.1 1277.7,1921.3 1279.4,1920.0 1281.1,1921.8 1282.8,1922.4 1284.5,1924.0 1286.2,1915.8 1287.9,1914.9 1289.6,1915.2 1291.3,1917.4 1293,1918.7 1294.7,1917.5 1296.4,1912.7 1298.1,1912.9 1299.8,1914.3 1301.5,1915.2 1303.2,1922.2 1304.9,1918.9 1306.6,1920.0 1308.3,1921.5 1310,1919.7 1311.7,1917.1 1313.4,1915.9 1315.1,1922.8 1316.8,1914.8 1318.5,1916.2 1320.2,1912.4 1321.9,1908.9 1323.6,1908.8 1325.3,1916.8 1327,1920.1 1328.7,1919.3 1330.4,1923.8 1332.1,1918.9 1333.8,1921.7 1335.5,1922.0 1337.2,1924.7 1338.9,1913.0 1340.6,1905.4 1342.3,1893.7 1344,1890.0 1345.7,1884.9 1347.4,1893.2 1349.1,1898.7 1350.8,1899.8 1352.5,1898.2 1354.2,1896.4 1355.9,1897.1 1357.6,1903.2 1359.3,1901.3 1361,1898.2 1362.7,1899.4 1364.4,1900.6 1366.1,1891.6 1367.8,1900.2 1369.5,1897.2 1371.2,1896.2 1372.9,1900.5 1374.6,1902.8 1376.3,1906.7 1378,1902.6 1379.7,1902.5 1381.4,1909.6 1383.1,1911.9 1384.8,1906.2 1386.5,1913.0 1388.2,1911.6 1389.9,1917.4 1391.6,1920.7 1393.3,1913.9 1395,1909.9 1396.7,1905.7 1398.4,1910.1 1400.1,1910.6 1401.8,1909.7 1403.5,1914.5 1405.2,1909.2 1406.9,1906.5 1408.6,1903.3 1410.3,1909.2 1412,1915.6 1413.7,1916.5 1415.4,1912.7 1417.1,1909.5 1418.8,1895.2 1420.5,1891.7 1422.2,1892.4 1423.9,1898.5 1425.6,1900.5 1427.3,1905.3 1429,1904.9 1430.7,1905.6 1432.4,1902.4 1434.1,1898.7 1435.8,1894.5 1437.5,1897.9 1439.2,1903.9 1440.9,1909.9 1442.6,1904.7 1444.3,1906.5 1446,1905.0 1447.7,1906.9 1449.4,1909.5 1451.1,1906.5 1452.8,1908.9 1454.5,1911.8 1456.2,1916.1 1457.9,1917.3 1459.6,1922.0 1461.3,1919.8 1463,1909.9 1464.7,1908.4 1466.4,1906.3 1468.1,1900.8 1469.8,1897.0 1471.5,1890.2 1473.2,1884.0 1474.9,1877.1 1476.6,1873.2 1478.3,1875.1 1480,1873.0 1481.7,1882.0 1483.4,1889.2 1485.1,1897.3" fill="none" stroke="#0000ff" stroke-width="3.5" stroke-linejoin="round"/>
<path d="M222,1649.2 223.7,1648.0 225.4,1649.6 227.1,1648.5 228.8,1643.6 230.5,1646.5 232.2,1645.5 233.9,1648.5 235.6,1651.1 237.3,1654.3 239,1652.6 240.7,1650.2 242.4,1650.8 244.1,1651.1 245.8,1645.7 247.5,1646.0 249.2,1645.0 250.9,1648.5 252.6,1648.8 254.3,1649.4 256,1650.9 257.7,1650.6 259.4,1646.2 261.1,1645.5 262.8,1648.0 264.5,1646.8 266.2,1645.6 267.9,1648.3 269.6,1649.5 271.3,1647.7 273,1646.8 274.7,1649.2 276.4,1647.6 278.1,1645.7 279.8,1648.0 281.5,1650.7 283.2,1646.5 284.9,1645.5 286.6,1647.9 288.3,1647.7 290,1649.1 291.7,1649.5 293.4,1653.9 295.1,1647.2 296.8,1648.4 298.5,1648.7 300.2,1647.0 301.9,1644.5 303.6,1643.5 305.3,1647.1 307,1646.7 308.7,1645.0 310.4,1644.0 312.1,1645.9 313.8,1647.7 315.5,1645.2 317.2,1646.5 318.9,1647.1 320.6,1646.6 322.3,1646.1 324,1646.0 325.7,1645.3 327.4,1644.3 329.1,1645.3 330.8,1645.7 332.5,1645.5 334.2,1643.7 335.9,1647.2 337.6,1647.0 339.3,1654.0 341,1656.9 342.7,1652.4 344.4,1655.0 346.1,1649.5 347.8,1644.9 349.5,1646.7 351.2,1655.4 352.9,1656.6 354.6,1653.5 356.3,1649.1 358,1657.6 359.7,1651.3 361.4,1651.4 363.1,1663.2 364.8,1663.8 366.5,1656.4 368.2,1653.2 369.9,1651.3 371.6,1650.3 373.3,1646.7 375,1647.6 376.7,1648.1 378.4,1647.7 380.1,1647.0 381.8,1646.8 383.5,1650.3 385.2,1649.0 386.9,1649.1 388.6,1649.6 390.3,1645.7 392,1647.5 393.7,1649.1 395.4,1645.3 397.1,1648.9 398.8,1648.6 400.5,1650.0 402.2,1652.8 403.9,1651.6 405.6,1650.5 407.3,1652.0 409,1660.3 410.7,1658.0 412.4,1650.6 414.1,1649.6 415.8,1649.4 417.5,1652.6 419.2,1651.9 420.9,1651.9 422.6,1651.1 424.3,1647.9 426,1650.9 427.7,1654.4 429.4,1660.9 431.1,1657.3 432.8,1653.7 434.5,1655.1 436.2,1655.8 437.9,1653.8 439.6,1650.7 441.3,1649.8 443,1648.0 444.7,1648.8 446.4,1654.0 448.1,1654.5 449.8,1663.2 451.5,1655.9 453.2,1651.7 454.9,1648.1 456.6,1649.7 458.3,1647.4 460,1649.5 461.7,1649.9 463.4,1652.4 465.1,1655.0 466.8,1657.7 468.5,1669.9 470.2,1680.1 471.9,1684.6 473.6,1686.9 475.3,1689.8 477,1691.7 478.7,1686.1 480.4,1687.5 482.1,1676.1 483.8,1660.3 485.5,1671.1 487.2,1683.4 488.9,1684.5 490.6,1673.6 492.3,1660.7 494,1675.3 495.7,1701.4 497.4,1709.5 499.1,1693.4 500.8,1679.9 502.5,1664.1 504.2,1661.6 505.9,1671.3 507.6,1660.6 509.3,1669.1 511,1687.4 512.7,1685.8 514.4,1687.8 516.1,1690.5 517.8,1692.5 519.5,1690.1 521.2,1685.4 522.9,1687.9 524.6,1686.0 526.3,1690.3 528,1701.4 529.7,1715.9 531.4,1708.5 533.1,1692.8 534.8,1685.6 536.5,1692.1 538.2,1708.6 539.9,1722.7 541.6,1707.9 543.3,1693.3 545,1685.6 546.7,1692.5 548.4,1697.7 550.1,1685.3 551.8,1682.5 553.5,1683.1 555.2,1684.9 556.9,1686.0 558.6,1687.7 560.3,1690.9 562,1689.1 563.7,1691.3 565.4,1694.8 567.1,1690.5 568.8,1685.4 570.5,1682.5 572.2,1676.0 573.9,1665.5 575.6,1665.9 577.3,1676.0 579,1686.2 580.7,1688.0 582.4,1687.5 584.1,1681.8 585.8,1685.2 587.5,1687.2 589.2,1694.8 590.9,1694.2 592.6,1686.1 594.3,1683.6 596,1685.5 597.7,1687.9 599.4,1688.4 601.1,1685.1 602.8,1669.7 604.5,1664.4 606.2,1680.0 607.9,1685.2 609.6,1678.8 611.3,1659.4 613,1664.4 614.7,1681.4 616.4,1683.4 618.1,1689.8 619.8,1687.2 621.5,1682.3 623.2,1668.4 624.9,1669.5 626.6,1682.4 628.3,1684.3 630,1686.5 631.7,1687.2 633.4,1687.8 635.1,1683.6 636.8,1683.0 638.5,1689.6 640.2,1695.4 641.9,1690.3 643.6,1688.6 645.3,1685.4 647,1689.5 648.7,1688.2 650.4,1689.3 652.1,1686.6 653.8,1680.9 655.5,1675.9 657.2,1681.5 658.9,1687.1 660.6,1684.5 662.3,1685.0 664,1685.5 665.7,1689.9 667.4,1696.7 669.1,1697.3 670.8,1690.6 672.5,1685.4 674.2,1683.4 675.9,1684.4 677.6,1694.2 679.3,1717.0 681,1712.4 682.7,1689.0 684.4,1685.7 686.1,1681.6 687.8,1683.4 689.5,1684.8 691.2,1686.7 692.9,1679.9 694.6,1675.5 696.3,1680.3 698,1685.1 699.7,1683.3 701.4,1682.9 703.1,1682.1 704.8,1688.3 706.5,1688.5 708.2,1685.0 709.9,1684.8 711.6,1689.0 713.3,1688.2 715,1680.5 716.7,1683.6 718.4,1686.3 720.1,1687.2 721.8,1687.0 723.5,1684.5 725.2,1683.1 726.9,1684.1 728.6,1678.7 730.3,1673.6 732,1680.9 733.7,1686.2 735.4,1688.1 737.1,1688.1 738.8,1688.4 740.5,1686.8 742.2,1683.8 743.9,1682.3 745.6,1683.8 747.3,1685.0 749,1693.8 750.7,1694.1 752.4,1689.3 754.1,1690.7 755.8,1685.2 757.5,1680.8 759.2,1680.0 760.9,1685.2 762.6,1686.5 764.3,1687.7 766,1685.4 767.7,1687.1 769.4,1684.9 771.1,1684.9 772.8,1687.2 774.5,1688.4 776.2,1683.3 777.9,1684.7 779.6,1683.1 781.3,1683.3 783,1685.2 784.7,1689.0 786.4,1688.3 788.1,1698.4 789.8,1715.5 791.5,1705.4 793.2,1687.9 794.9,1687.9 796.6,1687.7 798.3,1693.0 800,1690.5 801.7,1689.3 803.4,1687.3 805.1,1685.6 806.8,1686.5 808.5,1684.7 810.2,1682.7 811.9,1684.6 813.6,1689.3 815.3,1684.8 817,1685.7 818.7,1683.1 820.4,1681.0 822.1,1685.4 823.8,1688.0 825.5,1685.8 827.2,1683.1 828.9,1683.9 830.6,1684.6 832.3,1686.0 834,1687.7 835.7,1687.0 837.4,1687.6 839.1,1685.7 840.8,1684.8 842.5,1690.4 844.2,1689.1 845.9,1687.3 847.6,1686.9 849.3,1684.2 851,1681.2 852.7,1685.0 854.4,1688.1 856.1,1687.3 857.8,1690.8 859.5,1684.6 861.2,1684.4 862.9,1669.2 864.6,1656.6 866.3,1670.0 868,1681.9 869.7,1674.3 871.4,1658.6 873.1,1668.3 874.8,1675.8 876.5,1677.2 878.2,1664.9 879.9,1665.2 881.6,1676.8 883.3,1687.0 885,1687.2 886.7,1682.9 888.4,1682.9 890.1,1682.9 891.8,1682.3 893.5,1669.1 895.2,1657.0 896.9,1661.6 898.6,1679.9 900.3,1679.2 902,1666.5 903.7,1663.2 905.4,1675.6 907.1,1686.4 908.8,1687.2 910.5,1688.8 912.2,1690.9 913.9,1677.2 915.6,1665.6 917.3,1660.5 919,1669.5 920.7,1681.4 922.4,1680.1 924.1,1666.7 925.8,1655.3 927.5,1668.4 929.2,1677.3 930.9,1687.8 932.6,1673.4 934.3,1660.6 936,1662.1 937.7,1676.7 939.4,1684.1 941.1,1680.0 942.8,1683.8 944.5,1684.5 946.2,1679.6 947.9,1680.6 949.6,1689.1 951.3,1690.8 953,1691.8 954.7,1686.7 956.4,1689.7 958.1,1673.8 959.8,1653.9 961.5,1653.9 963.2,1653.7 964.9,1652.8 966.6,1653.0 968.3,1653.6 970,1654.1 971.7,1654.8 973.4,1653.9 975.1,1652.9 976.8,1653.1 978.5,1652.9 980.2,1653.4 981.9,1652.4 983.6,1652.5 985.3,1652.3 987,1653.0 988.7,1652.7 990.4,1651.4 992.1,1654.0 993.8,1652.4 995.5,1652.1 997.2,1652.7 998.9,1651.4 1000.6,1651.4 1002.3,1651.7 1004,1651.5 1005.7,1651.6 1007.4,1651.5 1009.1,1651.7 1010.8,1652.4 1012.5,1652.1 1014.2,1651.8 1015.9,1650.8 1017.6,1650.7 1019.3,1651.4 1021,1652.7 1022.7,1652.2 1024.4,1652.2 1026.1,1652.0 1027.8,1651.1 1029.5,1651.1 1031.2,1650.9 1032.9,1649.6 1034.6,1648.4 1036.3,1649.6 1038,1650.4 1039.7,1651.5 1041.4,1651.4 1043.1,1651.0 1044.8,1650.5 1046.5,1649.6 1048.2,1650.1 1049.9,1649.3 1051.6,1650.1 1053.3,1649.7 1055,1649.8 1056.7,1649.8 1058.4,1651.0 1060.1,1650.7 1061.8,1650.7 1063.5,1652.5 1065.2,1656.1 1066.9,1664.7 1068.6,1671.0 1070.3,1661.4 1072,1657.6 1073.7,1656.4 1075.4,1653.0 1077.1,1655.1 1078.8,1651.7 1080.5,1653.4 1082.2,1651.9 1083.9,1656.6 1085.6,1656.0 1087.3,1652.8 1089,1652.9 1090.7,1656.7 1092.4,1658.2 1094.1,1671.0 1095.8,1684.9 1097.5,1689.5 1099.2,1688.5 1100.9,1693.4 1102.6,1691.4 1104.3,1689.6 1106,1688.1 1107.7,1689.5 1109.4,1693.4 1111.1,1692.9 1112.8,1690.4 1114.5,1687.9 1116.2,1686.5 1117.9,1686.5 1119.6,1683.6 1121.3,1688.7 1123,1690.0 1124.7,1687.3 1126.4,1687.6 1128.1,1683.3 1129.8,1683.7 1131.5,1686.7 1133.2,1688.4 1134.9,1687.1 1136.6,1687.8 1138.3,1686.0 1140,1693.0 1141.7,1690.4 1143.4,1698.8 1145.1,1716.1 1146.8,1694.3 1148.5,1673.7 1150.2,1668.1 1151.9,1669.4 1153.6,1662.0 1155.3,1655.1 1157,1654.6 1158.7,1656.8 1160.4,1654.4 1162.1,1654.5 1163.8,1649.2 1165.5,1645.5 1167.2,1653.9 1168.9,1650.7 1170.6,1647.7 1172.3,1646.3 1174,1648.8 1175.7,1648.6 1177.4,1647.5 1179.1,1650.3 1180.8,1652.5 1182.5,1655.1 1184.2,1661.0 1185.9,1662.5 1187.6,1667.1 1189.3,1669.3 1191,1674.1 1192.7,1679.6 1194.4,1684.6 1196.1,1690.8 1197.8,1689.1 1199.5,1689.3 1201.2,1687.2 1202.9,1687.0 1204.6,1683.8 1206.3,1686.2 1208,1684.1 1209.7,1682.1 1211.4,1684.9 1213.1,1686.3 1214.8,1684.7 1216.5,1686.7 1218.2,1687.5 1219.9,1685.9 1221.6,1685.1 1223.3,1685.5 1225,1683.6 1226.7,1683.5 1228.4,1685.9 1230.1,1689.6 1231.8,1689.0 1233.5,1684.2 1235.2,1686.0 1236.9,1684.0 1238.6,1684.0 1240.3,1683.3 1242,1686.8 1243.7,1688.4 1245.4,1690.3 1247.1,1711.8 1248.8,1706.2 1250.5,1691.1 1252.2,1714.3 1253.9,1690.0 1255.6,1686.5 1257.3,1685.4 1259,1681.2 1260.7,1686.9 1262.4,1684.0 1264.1,1683.5 1265.8,1679.6 1267.5,1685.0 1269.2,1686.6 1270.9,1685.2 1272.6,1687.4 1274.3,1700.2 1276,1694.9 1277.7,1686.2 1279.4,1685.9 1281.1,1684.5 1282.8,1685.0 1284.5,1688.9 1286.2,1688.6 1287.9,1692.9 1289.6,1689.5 1291.3,1689.7 1293,1687.5 1294.7,1684.6 1296.4,1689.1 1298.1,1683.8 1299.8,1681.2 1301.5,1679.2 1303.2,1683.7 1304.9,1681.7 1306.6,1682.0 1308.3,1681.7 1310,1679.6 1311.7,1684.3 1313.4,1683.9 1315.1,1677.7 1316.8,1677.6 1318.5,1678.3 1320.2,1676.6 1321.9,1676.5 1323.6,1678.5 1325.3,1678.5 1327,1673.2 1328.7,1672.4 1330.4,1670.3 1332.1,1666.6 1333.8,1664.9 1335.5,1662.3 1337.2,1658.6 1338.9,1655.7 1340.6,1659.3 1342.3,1655.7 1344,1650.0 1345.7,1653.0 1347.4,1652.0 1349.1,1655.3 1350.8,1654.4 1352.5,1656.1 1354.2,1654.3 1355.9,1654.9 1357.6,1657.2 1359.3,1658.9 1361,1656.9 1362.7,1653.2 1364.4,1652.9 1366.1,1653.3 1367.8,1654.1 1369.5,1654.4 1371.2,1657.2 1372.9,1656.0 1374.6,1655.5 1376.3,1659.3 1378,1657.2 1379.7,1654.4 1381.4,1649.9 1383.1,1649.9 1384.8,1652.0 1386.5,1653.1 1388.2,1655.6 1389.9,1651.2 1391.6,1652.9 1393.3,1655.4 1395,1649.9 1396.7,1655.1 1398.4,1651.5 1400.1,1649.5 1401.8,1652.5 1403.5,1653.0 1405.2,1655.4 1406.9,1651.7 1408.6,1648.5 1410.3,1644.1 1412,1650.5 1413.7,1650.2 1415.4,1649.7 1417.1,1652.4 1418.8,1648.8 1420.5,1651.0 1422.2,1651.2 1423.9,1653.8 1425.6,1651.7 1427.3,1652.9 1429,1651.7 1430.7,1652.3 1432.4,1653.4 1434.1,1650.0 1435.8,1651.9 1437.5,1648.3 1439.2,1649.5 1440.9,1650.0 1442.6,1649.0 1444.3,1650.3 1446,1647.7 1447.7,1646.5 1449.4,1646.1 1451.1,1647.6 1452.8,1645.8 1454.5,1649.6 1456.2,1649.6 1457.9,1647.5 1459.6,1651.2 1461.3,1653.6 1463,1650.4 1464.7,1648.5 1466.4,1646.1 1468.1,1646.5 1469.8,1650.5 1471.5,1646.8 1473.2,1647.7 1474.9,1645.7 1476.6,1643.4 1478.3,1642.4 1480,1644.0 1481.7,1643.9 1483.4,1644.9 1485.1,1646.1" fill="none" stroke="#ff0000" stroke-width="3.5" stroke-linejoin="round"/>
<path d="M222,1543.3 223.7,1538.9 225.4,1535.0 227.1,1527.4 228.8,1524.2 230.5,1524.9 232.2,1526.2 233.9,1518.0 235.6,1512.8 237.3,1520.5 239,1522.7 240.7,1515.5 242.4,1513.8 244.1,1512.2 245.8,1519.6 247.5,1520.9 249.2,1521.8 250.9,1522.7 252.6,1529.6 254.3,1530.9 256,1526.2 257.7,1522.3 259.4,1524.7 261.1,1521.8 262.8,1516.4 264.5,1515.2 266.2,1520.7 267.9,1529.6 269.6,1531.2 271.3,1516.9 273,1492.8 274.7,1517.4 276.4,1529.9 278.1,1528.4 279.8,1525.1 281.5,1531.0 283.2,1534.8 284.9,1535.4 286.6,1535.5 288.3,1520.1 290,1506.5 291.7,1517.7 293.4,1529.1 295.1,1535.5 296.8,1529.5 298.5,1529.1 300.2,1531.6 301.9,1535.3 303.6,1533.8 305.3,1535.9 307,1534.5 308.7,1530.6 310.4,1538.3 312.1,1539.2 313.8,1531.0 315.5,1531.5 317.2,1532.5 318.9,1530.0 320.6,1530.1 322.3,1535.5 324,1540.2 325.7,1534.8 327.4,1528.9 329.1,1515.8 330.8,1514.3 332.5,1526.8 334.2,1529.0 335.9,1530.2 337.6,1532.4 339.3,1527.1 341,1532.2 342.7,1531.7 344.4,1532.0 346.1,1532.0 347.8,1532.1 349.5,1537.3 351.2,1540.9 352.9,1532.3 354.6,1529.5 356.3,1533.7 358,1529.2 359.7,1532.9 361.4,1536.1 363.1,1536.2 364.8,1533.7 366.5,1531.8 368.2,1534.4 369.9,1538.5 371.6,1537.9 373.3,1539.0 375,1538.3 376.7,1515.4 378.4,1506.6 380.1,1521.0 381.8,1519.2 383.5,1498.6 385.2,1511.6 386.9,1528.0 388.6,1514.5 390.3,1510.2 392,1524.1 393.7,1540.4 395.4,1533.4 397.1,1534.9 398.8,1533.3 400.5,1533.0 402.2,1530.8 403.9,1528.2 405.6,1486.7 407.3,1505.8 409,1536.6 410.7,1525.2 412.4,1516.3 414.1,1523.1 415.8,1534.5 417.5,1538.0 419.2,1533.2 420.9,1534.9 422.6,1531.7 424.3,1536.3 426,1534.3 427.7,1533.7 429.4,1535.9 431.1,1535.6 432.8,1537.4 434.5,1530.1 436.2,1530.5 437.9,1529.5 439.6,1527.2 441.3,1529.4 443,1535.4 444.7,1542.1 446.4,1539.3 448.1,1536.6 449.8,1535.5 451.5,1537.5 453.2,1534.1 454.9,1516.9 456.6,1528.9 458.3,1534.3 460,1532.2 461.7,1532.6 463.4,1537.8 465.1,1537.1 466.8,1525.2 468.5,1516.0 470.2,1514.4 471.9,1521.5 473.6,1535.3 475.3,1537.5 477,1532.9 478.7,1518.0 480.4,1509.3 482.1,1518.0 483.8,1527.7 485.5,1532.5 487.2,1533.7 488.9,1537.5 490.6,1526.9 492.3,1513.1 494,1528.1 495.7,1535.0 497.4,1536.0 499.1,1535.9 500.8,1540.3 502.5,1537.9 504.2,1537.7 505.9,1540.7 507.6,1538.8 509.3,1535.2 511,1534.8 512.7,1536.2 514.4,1541.5 516.1,1545.0 517.8,1542.1 519.5,1527.5 521.2,1534.7 522.9,1538.4 524.6,1534.4 526.3,1530.7 528,1526.8 529.7,1526.2 531.4,1536.2 533.1,1532.6 534.8,1531.5 536.5,1538.2 538.2,1537.5 539.9,1539.5 541.6,1538.5 543.3,1535.4 545,1522.9 546.7,1502.2 548.4,1511.9 550.1,1529.2 551.8,1534.1 553.5,1536.5 555.2,1534.6 556.9,1535.7 558.6,1539.2 560.3,1537.6 562,1526.5 563.7,1527.0 565.4,1536.9 567.1,1537.9 568.8,1537.8 570.5,1530.5 572.2,1532.9 573.9,1536.7 575.6,1534.3 577.3,1533.2 579,1532.8 580.7,1533.9 582.4,1537.8 584.1,1533.6 585.8,1527.2 587.5,1530.4 589.2,1524.8 590.9,1525.0 592.6,1528.0 594.3,1528.8 596,1534.9 597.7,1539.0 599.4,1536.7 601.1,1533.6 602.8,1535.3 604.5,1532.1 606.2,1534.0 607.9,1535.9 609.6,1530.0 611.3,1534.0 613,1531.6 614.7,1532.5 616.4,1532.4 618.1,1519.0 619.8,1499.8 621.5,1511.0 623.2,1529.8 624.9,1524.8 626.6,1505.2 628.3,1520.0 630,1539.5 631.7,1535.1 633.4,1532.3 635.1,1524.6 636.8,1528.2 638.5,1537.6 640.2,1541.5 641.9,1535.3 643.6,1535.5 645.3,1539.7 647,1539.7 648.7,1537.9 650.4,1530.8 652.1,1521.0 653.8,1527.7 655.5,1532.2 657.2,1540.6 658.9,1536.5 660.6,1539.8 662.3,1536.6 664,1537.5 665.7,1534.2 667.4,1528.4 669.1,1524.2 670.8,1518.4 672.5,1521.9 674.2,1528.4 675.9,1525.6 677.6,1535.0 679.3,1531.2 681,1507.2 682.7,1482.0 684.4,1502.2 686.1,1509.1 687.8,1481.9 689.5,1501.3 691.2,1528.8 692.9,1533.6 694.6,1531.1 696.3,1537.6 698,1525.6 699.7,1513.4 701.4,1522.7 703.1,1538.5 704.8,1534.0 706.5,1531.3 708.2,1538.0 709.9,1537.1 711.6,1531.8 713.3,1538.5 715,1532.8 716.7,1532.7 718.4,1532.6 720.1,1536.6 721.8,1532.0 723.5,1532.9 725.2,1525.6 726.9,1531.2 728.6,1530.3 730.3,1530.6 732,1532.3 733.7,1531.6 735.4,1535.4 737.1,1536.7 738.8,1522.1 740.5,1518.9 742.2,1532.5 743.9,1538.9 745.6,1539.3 747.3,1536.3 749,1532.6 750.7,1536.0 752.4,1537.0 754.1,1530.0 755.8,1529.6 757.5,1528.7 759.2,1532.9 760.9,1537.3 762.6,1536.9 764.3,1536.4 766,1539.9 767.7,1542.2 769.4,1538.7 771.1,1538.8 772.8,1537.3 774.5,1532.8 776.2,1537.0 777.9,1539.3 779.6,1537.9 781.3,1536.4 783,1539.7 784.7,1536.8 786.4,1535.7 788.1,1523.6 789.8,1511.5 791.5,1523.9 793.2,1534.2 794.9,1531.0 796.6,1532.2 798.3,1529.2 800,1533.3 801.7,1531.0 803.4,1531.5 805.1,1535.9 806.8,1528.4 808.5,1523.6 810.2,1526.1 811.9,1531.9 813.6,1534.8 815.3,1530.2 817,1534.8 818.7,1539.6 820.4,1538.5 822.1,1537.1 823.8,1529.0 825.5,1502.9 827.2,1509.5 828.9,1530.1 830.6,1540.1 832.3,1544.1 834,1542.4 835.7,1538.9 837.4,1537.3 839.1,1530.3 840.8,1516.8 842.5,1512.4 844.2,1528.7 845.9,1538.7 847.6,1537.4 849.3,1526.4 851,1514.3 852.7,1521.7 854.4,1532.1 856.1,1534.8 857.8,1535.1 859.5,1531.0 861.2,1535.5 862.9,1532.5 864.6,1529.4 866.3,1533.7 868,1533.4 869.7,1522.2 871.4,1513.1 873.1,1502.7 874.8,1505.0 876.5,1520.4 878.2,1533.8 879.9,1523.6 881.6,1504.1 883.3,1512.7 885,1524.8 886.7,1528.9 888.4,1518.9 890.1,1507.8 891.8,1515.9 893.5,1526.2 895.2,1518.8 896.9,1516.8 898.6,1529.4 900.3,1531.5 902,1538.6 903.7,1534.1 905.4,1533.6 907.1,1539.0 908.8,1539.6 910.5,1539.7 912.2,1538.9 913.9,1537.9 915.6,1539.2 917.3,1539.3 919,1539.6 920.7,1539.5 922.4,1540.5 924.1,1539.8 925.8,1539.3 927.5,1540.4 929.2,1540.4 930.9,1538.9 932.6,1539.9 934.3,1542.8 936,1542.2 937.7,1542.1 939.4,1542.5 941.1,1540.1 942.8,1540.8 944.5,1541.3 946.2,1541.3 947.9,1541.8 949.6,1542.5 951.3,1541.8 953,1543.0 954.7,1542.6 956.4,1542.1 958.1,1542.4 959.8,1543.3 961.5,1543.1 963.2,1540.4 964.9,1540.7 966.6,1539.7 968.3,1539.9 970,1539.6 971.7,1542.1 973.4,1543.2 975.1,1544.6 976.8,1542.7 978.5,1543.4 980.2,1543.4 981.9,1542.8 983.6,1542.0 985.3,1541.8 987,1541.8 988.7,1542.4 990.4,1543.6 992.1,1543.1 993.8,1542.6 995.5,1542.8 997.2,1543.7 998.9,1544.4 1000.6,1547.0 1002.3,1546.5 1004,1545.7 1005.7,1545.4 1007.4,1543.9 1009.1,1544.2 1010.8,1543.9 1012.5,1543.9 1014.2,1545.4 1015.9,1515.9 1017.6,1459.3 1019.3,1490.2 1021,1485.7 1022.7,1475.8 1024.4,1534.7 1026.1,1541.9 1027.8,1543.0 1029.5,1541.7 1031.2,1540.7 1032.9,1535.9 1034.6,1542.0 1036.3,1538.6 1038,1534.4 1039.7,1509.1 1041.4,1491.5 1043.1,1513.1 1044.8,1524.7 1046.5,1498.2 1048.2,1508.6 1049.9,1538.7 1051.6,1541.9 1053.3,1535.8 1055,1532.6 1056.7,1533.8 1058.4,1539.0 1060.1,1533.5 1061.8,1532.6 1063.5,1538.9 1065.2,1541.3 1066.9,1545.8 1068.6,1543.2 1070.3,1534.4 1072,1536.8 1073.7,1535.3 1075.4,1533.0 1077.1,1530.3 1078.8,1530.3 1080.5,1528.8 1082.2,1534.3 1083.9,1531.6 1085.6,1533.5 1087.3,1533.6 1089,1532.6 1090.7,1530.1 1092.4,1535.9 1094.1,1533.8 1095.8,1533.0 1097.5,1539.8 1099.2,1529.7 1100.9,1532.7 1102.6,1538.0 1104.3,1526.4 1106,1527.2 1107.7,1535.5 1109.4,1536.0 1111.1,1534.6 1112.8,1534.7 1114.5,1529.4 1116.2,1530.9 1117.9,1528.1 1119.6,1528.5 1121.3,1532.9 1123,1535.4 1124.7,1536.5 1126.4,1536.1 1128.1,1538.0 1129.8,1514.5 1131.5,1509.3 1133.2,1523.2 1134.9,1531.4 1136.6,1533.6 1138.3,1524.3 1140,1508.8 1141.7,1523.2 1143.4,1533.7 1145.1,1537.5 1146.8,1534.5 1148.5,1532.8 1150.2,1511.4 1151.9,1512.5 1153.6,1536.4 1155.3,1538.8 1157,1510.4 1158.7,1511.5 1160.4,1530.6 1162.1,1537.0 1163.8,1533.5 1165.5,1511.5 1167.2,1483.6 1168.9,1510.9 1170.6,1521.1 1172.3,1512.7 1174,1529.8 1175.7,1531.1 1177.4,1536.8 1179.1,1536.6 1180.8,1535.3 1182.5,1539.5 1184.2,1537.7 1185.9,1535.9 1187.6,1536.8 1189.3,1540.6 1191,1537.7 1192.7,1541.1 1194.4,1535.2 1196.1,1537.9 1197.8,1539.0 1199.5,1534.0 1201.2,1536.3 1202.9,1536.3 1204.6,1537.2 1206.3,1534.5 1208,1531.5 1209.7,1533.7 1211.4,1533.8 1213.1,1536.2 1214.8,1535.0 1216.5,1535.6 1218.2,1533.7 1219.9,1538.8 1221.6,1536.9 1223.3,1537.5 1225,1537.7 1226.7,1538.8 1228.4,1529.7 1230.1,1533.8 1231.8,1531.7 1233.5,1533.3 1235.2,1533.4 1236.9,1534.4 1238.6,1535.0 1240.3,1532.8 1242,1510.8 1243.7,1508.4 1245.4,1541.5 1247.1,1527.8 1248.8,1525.9 1250.5,1538.9 1252.2,1542.3 1253.9,1544.7 1255.6,1536.2 1257.3,1533.0 1259,1530.4 1260.7,1537.4" fill="none" stroke="#0000ff" stroke-width="3.5" stroke-linejoin="round"/>
<path d="M222,1303.1 223.7,1285.1 225.4,1272.2 227.1,1270.0 228.8,1266.6 230.5,1266.4 232.2,1266.6 233.9,1263.1 235.6,1259.2 237.3,1259.2 239,1265.2 240.7,1265.8 242.4,1262.6 244.1,1266.5 245.8,1266.0 247.5,1264.7 249.2,1266.6 250.9,1264.0 252.6,1265.3 254.3,1264.7 256,1267.3 257.7,1271.6 259.4,1267.7 261.1,1266.2 262.8,1265.1 264.5,1267.0 266.2,1269.9 267.9,1275.9 269.6,1285.0 271.3,1310.5 273,1306.4 274.7,1282.4 276.4,1276.9 278.1,1271.9 279.8,1274.7 281.5,1277.9 283.2,1274.5 284.9,1279.2 286.6,1286.5 288.3,1297.1 290,1306.3 291.7,1319.5 293.4,1312.9 295.1,1299.2 296.8,1299.1 298.5,1291.7 300.2,1278.6 301.9,1274.2 303.6,1270.4 305.3,1267.8 307,1268.6 308.7,1265.3 310.4,1267.5 312.1,1268.1 313.8,1273.3 315.5,1290.4 317.2,1297.0 318.9,1297.3 320.6,1295.9 322.3,1298.3 324,1299.0 325.7,1297.6 327.4,1297.9 329.1,1295.3 330.8,1296.8 332.5,1295.5 334.2,1302.0 335.9,1303.9 337.6,1304.2 339.3,1301.0 341,1299.9 342.7,1301.6 344.4,1297.8 346.1,1300.5 347.8,1299.4 349.5,1301.1 351.2,1304.0 352.9,1301.0 354.6,1299.1 356.3,1301.4 358,1300.9 359.7,1294.8 361.4,1292.6 363.1,1293.9 364.8,1298.2 366.5,1301.9 368.2,1295.9 369.9,1290.8 371.6,1290.4 373.3,1291.5 375,1296.1 376.7,1299.3 378.4,1299.2 380.1,1300.0 381.8,1301.0 383.5,1296.2 385.2,1298.1 386.9,1300.3 388.6,1294.8 390.3,1296.2 392,1284.5 393.7,1269.1 395.4,1268.9 397.1,1269.3 398.8,1266.5 400.5,1266.2 402.2,1271.2 403.9,1270.7 405.6,1278.1 407.3,1287.8 409,1295.5 410.7,1295.3 412.4,1297.1 414.1,1310.3 415.8,1311.9 417.5,1298.7 419.2,1297.9 420.9,1296.9 422.6,1291.6 424.3,1278.6 426,1280.6 427.7,1293.2 429.4,1299.2 431.1,1297.2 432.8,1294.2 434.5,1293.9 436.2,1295.6 437.9,1304.7 439.6,1316.6 441.3,1311.7 443,1299.1 444.7,1298.9 446.4,1286.6 448.1,1275.9 449.8,1286.0 451.5,1293.5 453.2,1296.8 454.9,1287.0 456.6,1283.5 458.3,1288.0 460,1296.3 461.7,1291.8 463.4,1291.5 465.1,1292.3 466.8,1289.0 468.5,1294.1 470.2,1307.5 471.9,1302.7 473.6,1298.6 475.3,1299.8 477,1294.1 478.7,1276.4 480.4,1265.1 482.1,1281.9 483.8,1290.6 485.5,1289.2 487.2,1290.8 488.9,1303.4 490.6,1306.9 492.3,1302.2 494,1296.4 495.7,1296.0 497.4,1299.3 499.1,1321.4 500.8,1323.5 502.5,1305.1 504.2,1301.1 505.9,1296.9 507.6,1288.1 509.3,1275.4 511,1274.2 512.7,1289.5 514.4,1292.0 516.1,1290.2 517.8,1294.7 519.5,1297.7 521.2,1299.0 522.9,1294.7 524.6,1292.7 526.3,1295.0 528,1293.7 529.7,1291.4 531.4,1291.1 533.1,1282.3 534.8,1277.7 536.5,1284.6 538.2,1293.3 539.9,1301.1 541.6,1296.0 543.3,1299.1 545,1297.2 546.7,1287.3 548.4,1275.8 550.1,1283.4 551.8,1298.0 553.5,1296.5 555.2,1300.4 556.9,1301.8 558.6,1295.0 560.3,1290.7 562,1292.4 563.7,1290.9 565.4,1290.4 567.1,1292.6 568.8,1289.3 570.5,1289.4 572.2,1291.4 573.9,1294.3 575.6,1293.9 577.3,1292.3 579,1296.3 580.7,1292.2 582.4,1277.2 584.1,1282.1 585.8,1292.0 587.5,1296.8 589.2,1308.9 590.9,1306.0 592.6,1301.0 594.3,1295.2 596,1293.2 597.7,1291.1 599.4,1295.8 601.1,1299.6 602.8,1300.3 604.5,1301.7 606.2,1303.9 607.9,1295.3 609.6,1289.8 611.3,1287.7 613,1290.2 614.7,1292.6 616.4,1292.7 618.1,1290.1 619.8,1288.7 621.5,1291.9 623.2,1293.4 624.9,1292.8 626.6,1290.2 628.3,1287.8 630,1298.4 631.7,1301.5 633.4,1300.7 635.1,1296.2 636.8,1293.3 638.5,1297.8 640.2,1303.2 641.9,1300.4 643.6,1296.9 645.3,1295.8 647,1293.4 648.7,1294.6 650.4,1290.7 652.1,1288.0 653.8,1289.9 655.5,1291.0 657.2,1295.4 658.9,1294.9 660.6,1291.8 662.3,1281.6 664,1289.1 665.7,1295.4 667.4,1300.4 669.1,1296.6 670.8,1297.0 672.5,1301.4 674.2,1293.7 675.9,1282.3 677.6,1291.7 679.3,1298.9 681,1307.2 682.7,1326.3 684.4,1315.7 686.1,1297.2 687.8,1303.5 689.5,1316.4 691.2,1310.8 692.9,1299.7 694.6,1295.3 696.3,1293.8 698,1288.6 699.7,1280.4 701.4,1284.2 703.1,1293.5 704.8,1290.8 706.5,1292.9 708.2,1295.1 709.9,1287.2 711.6,1275.5 713.3,1278.4 715,1291.0 716.7,1295.0 718.4,1294.0 720.1,1284.7 721.8,1291.0 723.5,1294.1 725.2,1294.8 726.9,1296.6 728.6,1297.8 730.3,1296.5 732,1292.5 733.7,1296.1 735.4,1296.9 737.1,1294.5 738.8,1296.8 740.5,1294.8 742.2,1296.1 743.9,1294.7 745.6,1295.7 747.3,1295.3 749,1297.2 750.7,1294.6 752.4,1293.7 754.1,1295.5 755.8,1303.4 757.5,1295.9 759.2,1295.4 760.9,1294.4 762.6,1297.6 764.3,1296.2 766,1296.3 767.7,1298.0 769.4,1296.8 771.1,1286.4 772.8,1286.3 774.5,1286.8 776.2,1287.7 777.9,1290.4 779.6,1296.8 781.3,1297.7 783,1297.5 784.7,1296.4 786.4,1293.2 788.1,1296.4 789.8,1310.0 791.5,1304.9 793.2,1297.6 794.9,1295.6 796.6,1297.1 798.3,1296.3 800,1294.7 801.7,1294.4 803.4,1294.4 805.1,1300.6 806.8,1285.8 808.5,1278.8 810.2,1291.9 811.9,1293.3 813.6,1295.2 815.3,1295.1 817,1294.8 818.7,1280.6 820.4,1271.5 822.1,1285.8 823.8,1297.1 825.5,1298.5 827.2,1312.0 828.9,1308.1 830.6,1300.1 832.3,1295.9 834,1301.0 835.7,1298.5 837.4,1296.6 839.1,1289.4 840.8,1289.7 842.5,1287.5 844.2,1278.4 845.9,1277.5 847.6,1289.9 849.3,1292.3 851,1279.9 852.7,1277.0 854.4,1289.5 856.1,1301.6 857.8,1305.2 859.5,1299.2 861.2,1297.9 862.9,1293.7 864.6,1295.7 866.3,1298.7 868,1297.5 869.7,1296.1 871.4,1313.5 873.1,1310.9 874.8,1297.5 876.5,1300.3 878.2,1289.4 879.9,1282.9 881.6,1286.8 883.3,1294.6 885,1286.8 886.7,1284.8 888.4,1296.5 890.1,1300.1 891.8,1297.8 893.5,1298.3 895.2,1292.0 896.9,1310.4 898.6,1322.8 900.3,1301.2 902,1284.0 903.7,1274.0 905.4,1275.0 907.1,1274.3 908.8,1273.9 910.5,1279.5 912.2,1270.8 913.9,1267.0 915.6,1266.3 917.3,1266.3 919,1265.8 920.7,1265.4 922.4,1264.7 924.1,1264.3 925.8,1265.9 927.5,1265.6 929.2,1266.3 930.9,1265.9 932.6,1266.3 934.3,1267.2 936,1265.3 937.7,1264.9 939.4,1263.4 941.1,1262.9 942.8,1263.6 944.5,1263.9 946.2,1265.3 947.9,1264.6 949.6,1264.8 951.3,1264.2 953,1263.9 954.7,1265.0 956.4,1265.2 958.1,1266.3 959.8,1264.8 961.5,1265.4 963.2,1265.6 964.9,1264.0 966.6,1266.4 968.3,1266.0 970,1265.5 971.7,1265.5 973.4,1264.3 975.1,1265.6 976.8,1263.8 978.5,1263.4 980.2,1263.4 981.9,1262.9 983.6,1262.7 985.3,1264.0 987,1265.8 988.7,1266.0 990.4,1265.1 992.1,1262.6 993.8,1263.3 995.5,1262.7 997.2,1263.6 998.9,1264.6 1000.6,1264.1 1002.3,1263.7 1004,1264.1 1005.7,1264.4 1007.4,1265.4 1009.1,1264.2 1010.8,1264.3 1012.5,1265.2 1014.2,1264.9 1015.9,1264.1 1017.6,1264.3 1019.3,1264.6 1021,1262.3 1022.7,1264.2 1024.4,1263.7 1026.1,1264.0 1027.8,1262.1 1029.5,1263.6 1031.2,1264.0 1032.9,1263.2 1034.6,1263.7 1036.3,1264.5 1038,1263.5 1039.7,1264.5 1041.4,1264.0 1043.1,1265.1 1044.8,1279.3 1046.5,1292.3 1048.2,1290.2 1049.9,1289.1 1051.6,1287.7 1053.3,1293.1 1055,1290.3 1056.7,1294.8 1058.4,1292.2 1060.1,1289.5 1061.8,1289.2 1063.5,1289.7 1065.2,1295.7 1066.9,1298.0 1068.6,1292.2 1070.3,1295.0 1072,1296.7 1073.7,1299.3 1075.4,1299.0 1077.1,1295.8 1078.8,1297.1 1080.5,1295.5 1082.2,1295.9 1083.9,1296.3 1085.6,1290.0 1087.3,1290.3 1089,1285.8 1090.7,1290.3 1092.4,1290.7 1094.1,1294.4 1095.8,1297.9 1097.5,1299.7 1099.2,1293.4 1100.9,1298.9 1102.6,1295.4 1104.3,1296.3 1106,1296.5 1107.7,1297.3 1109.4,1295.5 1111.1,1298.7 1112.8,1295.5 1114.5,1298.3 1116.2,1298.6 1117.9,1295.1 1119.6,1298.5 1121.3,1293.7 1123,1294.4 1124.7,1290.9 1126.4,1303.0 1128.1,1316.4 1129.8,1306.6 1131.5,1293.5 1133.2,1288.0 1134.9,1293.3 1136.6,1285.4 1138.3,1275.5 1140,1273.3 1141.7,1274.8 1143.4,1274.1 1145.1,1278.5 1146.8,1272.8 1148.5,1275.0 1150.2,1271.1 1151.9,1269.2 1153.6,1271.1 1155.3,1273.9 1157,1271.2 1158.7,1271.3 1160.4,1273.0 1162.1,1272.6 1163.8,1273.2 1165.5,1269.4 1167.2,1267.4 1168.9,1270.8 1170.6,1270.8 1172.3,1273.3 1174,1284.2 1175.7,1292.1 1177.4,1297.0 1179.1,1294.1 1180.8,1299.1 1182.5,1299.9 1184.2,1301.1 1185.9,1301.0 1187.6,1299.7 1189.3,1297.1 1191,1297.9 1192.7,1297.7 1194.4,1291.6 1196.1,1293.3 1197.8,1296.9 1199.5,1300.5 1201.2,1295.8 1202.9,1295.9 1204.6,1292.8 1206.3,1296.1 1208,1293.9 1209.7,1297.0 1211.4,1298.5 1213.1,1296.2 1214.8,1293.2 1216.5,1289.8 1218.2,1289.2 1219.9,1295.6 1221.6,1297.4 1223.3,1298.5 1225,1298.2 1226.7,1290.5 1228.4,1292.8 1230.1,1300.4 1231.8,1298.3 1233.5,1298.9 1235.2,1298.8 1236.9,1299.2 1238.6,1301.7 1240.3,1296.6 1242,1294.2 1243.7,1298.6 1245.4,1298.8 1247.1,1307.8 1248.8,1289.9" fill="none" stroke="#ff0000" stroke-width="3.5" stroke-linejoin="round"/>
<path d="M222,1157.5 223.7,1159.8 225.4,1150.6 227.1,1144.7 228.8,1146.5 230.5,1137.3 232.2,1130.5 233.9,1133.4 235.6,1138.0 237.3,1139.1 239,1133.5 240.7,1131.9 242.4,1138.8 244.1,1142.1 245.8,1137.8 247.5,1137.6 249.2,1129.0 250.9,1138.3 252.6,1149.3 254.3,1150.9 256,1147.2 257.7,1141.5 259.4,1140.3 261.1,1148.1 262.8,1146.3 264.5,1143.0 266.2,1147.4 267.9,1143.2 269.6,1148.4 271.3,1145.4 273,1120.8 274.7,1142.6 276.4,1157.4 278.1,1152.6 279.8,1147.2 281.5,1148.5 283.2,1137.8 284.9,1131.5 286.6,1144.9 288.3,1153.8 290,1151.0 291.7,1152.2 293.4,1149.0 295.1,1152.1 296.8,1153.8 298.5,1153.0 300.2,1151.0 301.9,1152.4 303.6,1150.4 305.3,1150.2 307,1141.6 308.7,1142.7 310.4,1147.3 312.1,1153.8 313.8,1151.0 315.5,1140.8 317.2,1122.6 318.9,1128.2 320.6,1146.8 322.3,1153.2 324,1153.0 325.7,1156.6 327.4,1154.2 329.1,1152.9 330.8,1147.4 332.5,1154.4 334.2,1153.2 335.9,1151.9 337.6,1153.6 339.3,1155.5 341,1150.6 342.7,1155.2 344.4,1147.6 346.1,1121.3 347.8,1115.1 349.5,1140.2 351.2,1149.8 352.9,1146.2 354.6,1134.3 356.3,1144.7 358,1148.9 359.7,1146.2 361.4,1144.9 363.1,1141.1 364.8,1145.0 366.5,1146.7 368.2,1151.2 369.9,1148.6 371.6,1143.8 373.3,1151.8 375,1156.0 376.7,1138.0 378.4,1129.6 380.1,1140.6 381.8,1146.1 383.5,1147.9 385.2,1153.7 386.9,1141.8 388.6,1145.7 390.3,1143.0 392,1149.3 393.7,1143.1 395.4,1144.5 397.1,1149.4 398.8,1150.2 400.5,1153.1 402.2,1154.8 403.9,1161.1 405.6,1157.5 407.3,1144.1 409,1146.2 410.7,1147.5 412.4,1142.5 414.1,1149.3 415.8,1143.6 417.5,1145.0 419.2,1150.5 420.9,1150.7 422.6,1147.3 424.3,1150.3 426,1149.8 427.7,1155.6 429.4,1154.8 431.1,1145.1 432.8,1143.0 434.5,1147.0 436.2,1143.6 437.9,1144.9 439.6,1147.9 441.3,1151.7 443,1150.9 444.7,1125.7 446.4,1114.4 448.1,1135.7 449.8,1148.2 451.5,1130.6 453.2,1140.9 454.9,1151.5 456.6,1123.3 458.3,1097.5 460,1131.7 461.7,1117.7 463.4,1104.1 465.1,1133.4 466.8,1140.2 468.5,1137.9 470.2,1134.9 471.9,1145.7 473.6,1154.9 475.3,1150.6 477,1154.2 478.7,1150.1 480.4,1147.5 482.1,1154.9 483.8,1147.8 485.5,1153.8 487.2,1149.5 488.9,1140.9 490.6,1140.5 492.3,1142.0 494,1150.7 495.7,1152.5 497.4,1154.4 499.1,1154.6 500.8,1153.6 502.5,1148.9 504.2,1148.7 505.9,1151.9 507.6,1144.1 509.3,1144.5 511,1148.2 512.7,1134.6 514.4,1139.8 516.1,1150.1 517.8,1150.0 519.5,1149.8 521.2,1151.3 522.9,1152.6 524.6,1148.6 526.3,1153.0 528,1156.0 529.7,1152.2 531.4,1147.5 533.1,1149.4 534.8,1152.8 536.5,1156.0 538.2,1152.3 539.9,1146.9 541.6,1143.9 543.3,1150.5 545,1152.0 546.7,1152.1 548.4,1148.0 550.1,1150.2 551.8,1146.2 553.5,1156.2 555.2,1153.9 556.9,1148.7 558.6,1147.8 560.3,1147.1 562,1147.6 563.7,1143.5 565.4,1146.2 567.1,1152.8 568.8,1147.3 570.5,1147.5 572.2,1152.4 573.9,1152.0 575.6,1155.8 577.3,1143.8 579,1109.2 580.7,1102.0 582.4,1134.7 584.1,1150.6 585.8,1126.0 587.5,1121.1 589.2,1139.4 590.9,1148.9 592.6,1141.9 594.3,1135.9 596,1143.2 597.7,1144.0 599.4,1148.0 601.1,1148.6 602.8,1146.8 604.5,1148.4 606.2,1153.4 607.9,1152.6 609.6,1151.8 611.3,1147.9 613,1151.4 614.7,1151.3 616.4,1152.4 618.1,1148.8 619.8,1149.4 621.5,1151.1 623.2,1157.0 624.9,1153.9 626.6,1149.0 628.3,1149.7 630,1158.5 631.7,1147.8 633.4,1150.4 635.1,1150.3 636.8,1150.5 638.5,1153.8 640.2,1151.1 641.9,1155.2 643.6,1153.4 645.3,1153.1 647,1152.4 648.7,1146.0 650.4,1147.2 652.1,1147.1 653.8,1143.1 655.5,1142.4 657.2,1144.1 658.9,1115.9 660.6,1112.5 662.3,1137.3 664,1110.9 665.7,1102.0 667.4,1132.3 669.1,1150.3 670.8,1109.9 672.5,1094.0 674.2,1132.9 675.9,1152.8 677.6,1127.2 679.3,1116.1 681,1135.1 682.7,1154.0 684.4,1153.7 686.1,1150.1 687.8,1140.7 689.5,1128.8 691.2,1131.1 692.9,1138.6 694.6,1132.4 696.3,1132.5 698,1146.5 699.7,1152.2 701.4,1152.3 703.1,1150.5 704.8,1151.9 706.5,1148.7 708.2,1151.9 709.9,1150.7 711.6,1149.2 713.3,1151.4 715,1149.8 716.7,1145.6 718.4,1150.6 720.1,1149.6 721.8,1150.5 723.5,1154.0 725.2,1151.6 726.9,1150.7 728.6,1155.7 730.3,1155.9 732,1149.1 733.7,1143.3 735.4,1148.4 737.1,1147.4 738.8,1146.7 740.5,1135.4 742.2,1146.8 743.9,1146.8 745.6,1144.2 747.3,1149.5 749,1150.8 750.7,1152.3 752.4,1154.4 754.1,1156.2 755.8,1154.8 757.5,1149.9 759.2,1147.8 760.9,1155.1 762.6,1152.5 764.3,1153.6 766,1151.5 767.7,1154.5 769.4,1150.0 771.1,1147.7 772.8,1147.4 774.5,1148.1 776.2,1124.1 777.9,1100.8 779.6,1124.7 781.3,1137.2 783,1111.1 784.7,1128.5 786.4,1152.0 788.1,1150.3 789.8,1149.3 791.5,1147.1 793.2,1149.6 794.9,1133.6 796.6,1123.3 798.3,1145.5 800,1140.4 801.7,1134.3 803.4,1143.7 805.1,1150.6 806.8,1153.2 808.5,1151.6 810.2,1153.9 811.9,1155.5 813.6,1147.3 815.3,1156.6 817,1151.3 818.7,1145.2 820.4,1145.2 822.1,1146.6 823.8,1148.8 825.5,1147.3 827.2,1146.2 828.9,1149.1 830.6,1137.7 832.3,1130.6 834,1133.0 835.7,1148.3 837.4,1152.9 839.1,1149.7 840.8,1145.5 842.5,1141.7 844.2,1154.3 845.9,1148.3 847.6,1153.4 849.3,1154.5 851,1152.9 852.7,1151.2 854.4,1155.4 856.1,1151.0 857.8,1156.8 859.5,1153.0 861.2,1154.2 862.9,1153.4 864.6,1150.1 866.3,1151.9 868,1150.1 869.7,1141.4 871.4,1133.2 873.1,1144.9 874.8,1151.3 876.5,1153.6 878.2,1158.0 879.9,1158.8 881.6,1159.3 883.3,1155.9 885,1155.5 886.7,1157.3 888.4,1155.1 890.1,1150.8 891.8,1154.7 893.5,1157.0 895.2,1156.3 896.9,1154.3 898.6,1149.2 900.3,1153.4 902,1148.8 903.7,1153.2 905.4,1151.0 907.1,1149.3 908.8,1148.8 910.5,1147.4 912.2,1152.5 913.9,1153.6 915.6,1154.5 917.3,1146.5 919,1153.0 920.7,1155.5 922.4,1155.1 924.1,1149.2 925.8,1154.8 927.5,1150.1 929.2,1149.7 930.9,1147.4 932.6,1147.0 934.3,1146.6 936,1148.6 937.7,1157.3 939.4,1149.2 941.1,1148.3 942.8,1145.8 944.5,1152.5 946.2,1150.8 947.9,1150.2 949.6,1151.0 951.3,1150.8 953,1151.3 954.7,1154.5 956.4,1155.5 958.1,1156.5 959.8,1146.4 961.5,1143.1 963.2,1144.0 964.9,1149.5 966.6,1151.2 968.3,1153.2 970,1154.2 971.7,1153.0 973.4,1136.6 975.1,1113.3 976.8,1112.6 978.5,1132.6 980.2,1136.3 981.9,1093.7 983.6,1081.3 985.3,1122.6 987,1153.2 988.7,1134.8 990.4,1124.2 992.1,1140.1 993.8,1147.7 995.5,1153.1 997.2,1150.4 998.9,1136.2 1000.6,1128.4 1002.3,1137.2 1004,1134.8 1005.7,1121.8 1007.4,1132.3 1009.1,1141.9 1010.8,1132.8 1012.5,1123.4 1014.2,1138.6 1015.9,1155.2 1017.6,1152.4 1019.3,1151.9 1021,1152.7 1022.7,1146.3 1024.4,1150.2 1026.1,1144.9 1027.8,1125.3 1029.5,1115.4 1031.2,1142.7 1032.9,1144.3 1034.6,1142.2 1036.3,1145.6 1038,1143.8 1039.7,1142.8 1041.4,1147.3 1043.1,1151.9 1044.8,1146.4 1046.5,1148.6 1048.2,1151.3 1049.9,1153.3 1051.6,1152.7 1053.3,1145.6 1055,1148.6 1056.7,1149.2 1058.4,1150.2 1060.1,1148.7 1061.8,1147.2 1063.5,1153.9 1065.2,1148.8 1066.9,1145.6 1068.6,1147.2 1070.3,1149.1 1072,1150.1 1073.7,1153.8 1075.4,1158.8 1077.1,1152.2 1078.8,1155.6 1080.5,1152.6 1082.2,1148.9 1083.9,1146.3 1085.6,1148.8 1087.3,1152.4 1089,1149.3 1090.7,1149.5" fill="none" stroke="#0000ff" stroke-width="3.5" stroke-linejoin="round"/>
<path d="M222,853.6 223.7,865.1 225.4,868.2 227.1,880.1 228.8,880.9 230.5,862.0 232.2,849.5 233.9,849.2 235.6,852.1 237.3,850.3 239,843.6 240.7,842.2 242.4,847.9 244.1,855.8 245.8,863.1 247.5,856.3 249.2,849.5 250.9,845.4 252.6,839.8 254.3,847.2 256,850.5 257.7,858.6 259.4,852.0 261.1,848.4 262.8,839.9 264.5,837.2 266.2,844.1 267.9,843.4 269.6,842.2 271.3,845.9 273,849.6 274.7,848.3 276.4,851.7 278.1,851.6 279.8,856.9 281.5,853.2 283.2,852.1 284.9,853.6 286.6,858.0 288.3,868.2 290,884.3 291.7,884.9 293.4,884.6 295.1,882.3 296.8,886.8 298.5,885.6 300.2,879.8 301.9,868.6 303.6,860.5 305.3,857.7 307,854.3 308.7,850.2 310.4,849.3 312.1,848.9 313.8,868.1 315.5,895.5 317.2,905.4 318.9,906.9 320.6,904.8 322.3,903.3 324,880.2 325.7,856.0 327.4,849.9 329.1,852.1 330.8,849.9 332.5,852.9 334.2,854.3 335.9,875.4 337.6,898.5 339.3,904.9 341,908.8 342.7,886.0 344.4,863.7 346.1,859.3 347.8,863.1 349.5,872.7 351.2,875.3 352.9,877.2 354.6,875.0 356.3,875.5 358,877.9 359.7,872.8 361.4,873.6 363.1,875.5 364.8,875.2 366.5,878.6 368.2,879.6 369.9,897.2 371.6,882.3 373.3,876.6 375,874.8 376.7,871.8 378.4,871.0 380.1,870.8 381.8,872.5 383.5,875.0 385.2,876.3 386.9,875.2 388.6,878.7 390.3,875.2 392,873.3 393.7,875.9 395.4,875.3 397.1,877.0 398.8,876.6 400.5,875.3 402.2,877.0 403.9,882.1 405.6,877.3 407.3,878.9 409,875.0 410.7,873.0 412.4,876.4 414.1,872.8 415.8,873.6 417.5,876.5 419.2,881.0 420.9,878.4 422.6,875.6 424.3,876.5 426,873.0 427.7,876.8 429.4,876.5 431.1,876.9 432.8,877.6 434.5,877.8 436.2,877.9 437.9,876.2 439.6,878.5 441.3,880.1 443,882.8 444.7,875.9 446.4,886.4 448.1,892.4 449.8,883.2 451.5,859.4 453.2,845.4 454.9,863.8 456.6,865.4 458.3,858.7 460,871.9 461.7,876.6 463.4,872.9 465.1,874.6 466.8,880.5 468.5,883.9 470.2,879.2 471.9,875.0 473.6,877.7 475.3,875.2 477,869.2 478.7,865.5 480.4,862.3 482.1,873.2 483.8,877.0 485.5,880.4 487.2,877.2 488.9,880.9 490.6,878.9 492.3,884.2 494,880.6 495.7,876.7 497.4,873.1 499.1,879.7 500.8,877.2 502.5,877.0 504.2,867.8 505.9,857.4 507.6,864.7 509.3,877.2 511,867.6 512.7,851.7 514.4,863.1 516.1,877.1 517.8,875.4 519.5,868.4 521.2,870.8 522.9,872.6 524.6,859.6 526.3,857.5 528,871.5 529.7,867.1 531.4,867.0 533.1,872.7 534.8,881.0 536.5,880.0 538.2,879.5 539.9,878.1 541.6,876.1 543.3,877.9 545,876.3 546.7,875.9 548.4,876.4 550.1,879.4 551.8,878.3 553.5,879.1 555.2,876.8 556.9,873.8 558.6,877.6 560.3,872.7 562,875.2 563.7,875.6 565.4,878.1 567.1,877.1 568.8,875.8 570.5,875.8 572.2,878.2 573.9,875.8 575.6,872.5 577.3,872.4 579,874.0 580.7,874.5 582.4,878.3 584.1,874.6 585.8,867.5 587.5,849.1 589.2,859.3 590.9,874.1 592.6,877.3 594.3,884.6 596,885.9 597.7,877.0 599.4,881.5 601.1,878.0 602.8,874.8 604.5,876.7 606.2,876.6 607.9,877.7 609.6,875.1 611.3,879.1 613,877.4 614.7,878.3 616.4,876.4 618.1,873.2 619.8,866.4 621.5,860.5 623.2,864.4 624.9,873.5 626.6,864.5 628.3,856.5 630,870.4 631.7,880.1 633.4,879.5 635.1,876.6 636.8,878.5 638.5,879.2 640.2,877.9 641.9,876.4 643.6,877.6 645.3,872.2 647,875.2 648.7,869.2 650.4,869.9 652.1,874.4 653.8,873.0 655.5,876.5 657.2,877.9 658.9,880.2 660.6,880.9 662.3,877.5 664,875.4 665.7,874.8 667.4,871.9 669.1,869.4 670.8,869.9 672.5,868.9 674.2,869.4 675.9,863.4 677.6,873.1 679.3,878.6 681,873.5 682.7,870.4 684.4,873.5 686.1,880.5 687.8,880.3 689.5,875.3 691.2,878.1 692.9,867.7 694.6,855.5 696.3,864.4 698,876.8 699.7,876.2 701.4,879.0 703.1,871.2 704.8,855.4 706.5,864.6 708.2,876.7 709.9,877.3 711.6,875.6 713.3,866.9 715,857.0 716.7,866.8 718.4,874.5 720.1,878.4 721.8,890.3 723.5,881.3 725.2,875.7 726.9,879.8 728.6,879.4 730.3,878.4 732,872.0 733.7,872.8 735.4,878.8 737.1,875.4 738.8,871.1 740.5,872.2 742.2,871.2 743.9,891.3 745.6,899.5 747.3,872.8 749,863.4 750.7,860.9 752.4,871.7 754.1,880.0 755.8,906.7 757.5,885.0 759.2,874.0 760.9,873.1 762.6,869.5 764.3,872.3 766,873.8 767.7,866.4 769.4,851.4 771.1,854.4 772.8,873.8 774.5,873.5 776.2,854.8 777.9,853.7 779.6,869.7 781.3,870.5 783,861.5 784.7,857.2 786.4,870.3 788.1,873.1 789.8,873.9 791.5,867.2 793.2,858.2 794.9,865.4 796.6,876.4 798.3,874.9 800,874.8 801.7,876.2 803.4,870.6 805.1,852.4 806.8,853.6 808.5,872.4 810.2,876.4 811.9,874.1 813.6,869.1 815.3,861.6 817,871.5 818.7,878.5 820.4,868.7 822.1,856.2 823.8,869.1 825.5,878.0 827.2,876.5 828.9,866.7 830.6,865.1 832.3,869.4 834,870.6 835.7,872.8 837.4,874.9 839.1,872.3 840.8,876.0 842.5,871.7 844.2,871.9 845.9,871.3 847.6,871.6 849.3,871.4 851,870.8 852.7,875.8 854.4,875.1 856.1,877.1 857.8,871.2 859.5,865.2 861.2,871.1 862.9,876.4 864.6,865.7 866.3,859.8 868,868.9 869.7,873.8 871.4,872.6 873.1,872.5 874.8,871.2 876.5,873.4 878.2,877.6 879.9,880.7 881.6,878.0 883.3,880.1 885,874.9 886.7,877.4 888.4,871.3 890.1,876.7 891.8,874.7 893.5,875.2 895.2,875.6 896.9,871.9 898.6,872.1 900.3,870.4 902,876.3 903.7,877.9 905.4,875.2 907.1,877.7 908.8,875.8 910.5,874.6 912.2,872.4 913.9,874.3 915.6,876.0 917.3,877.2 919,875.9 920.7,873.5 922.4,873.8 924.1,873.9 925.8,872.3 927.5,873.8 929.2,875.5 930.9,875.1 932.6,876.4 934.3,881.0 936,912.9 937.7,914.3" fill="none" stroke="#ff0000" stroke-width="3.5" stroke-linejoin="round"/>
<path d="M953,914.6 954.7,884.8 956.4,877.8 958.1,878.7 959.8,875.8 961.5,876.2 963.2,874.2 964.9,872.4 966.6,880.9 968.3,888.1 970,874.3 971.7,874.9 973.4,866.5 975.1,859.1 976.8,868.9 978.5,863.6 980.2,856.8 981.9,868.0 983.6,884.8 985.3,892.6 987,880.5 988.7,868.0 990.4,863.7 992.1,873.3 993.8,868.4 995.5,853.3 997.2,861.1 998.9,873.6 1000.6,872.9 1002.3,869.2 1004,869.5 1005.7,864.9 1007.4,863.1 1009.1,857.3 1010.8,866.6 1012.5,868.6 1014.2,858.3 1015.9,852.7 1017.6,849.6 1019.3,853.5 1021,852.7 1022.7,853.9 1024.4,856.1 1026.1,861.8 1027.8,855.3 1029.5,841.4 1031.2,844.8 1032.9,861.6 1034.6,863.1 1036.3,860.6 1038,861.7 1039.7,864.7 1041.4,865.9 1043.1,875.0 1044.8,870.6 1046.5,862.4 1048.2,858.7 1049.9,860.4 1051.6,861.8 1053.3,861.1 1055,861.5 1056.7,866.1" fill="none" stroke="#ff0000" stroke-width="3.5" stroke-linejoin="round"/>
<path d="M222,751.9 223.5,745.0 225,748.8 226.5,756.1 228,751.6 229.5,747.5 231,750.2 232.5,749.6 234,752.9 235.5,745.0 237,747.8 238.5,743.6 240,749.3 241.5,746.9 243,739.6 244.5,744.6 246,747.6 247.5,747.1 249,740.3 250.5,738.3 252,741.9 253.5,747.2 255,740.9 256.5,739.5 258,745.2 259.5,754.3 261,749.3 262.5,752.0 264,756.1 265.5,755.8 267,754.5 268.5,747.6 270,751.0 271.5,751.2 273,755.7 274.5,745.4 276,745.0 277.5,746.2 279,744.7 280.5,741.6 282,735.8 283.5,727.1 285,737.3 286.5,742.7 288,745.1 289.5,744.0 291,741.1 292.5,740.2 294,739.2 295.5,740.7 297,747.7 298.5,739.7 300,731.9 301.5,734.1 303,743.0 304.5,734.9 306,749.5 307.5,753.3 309,748.5 310.5,753.0 312,750.9 313.5,752.0 315,755.7 316.5,728.6 318,716.3 319.5,726.1 321,739.2 322.5,743.4 324,739.9 325.5,747.5 327,744.3 328.5,734.5 330,716.7 331.5,719.0 333,727.9 334.5,731.6 336,742.0 337.5,742.9 339,735.0 340.5,736.2 342,745.6 343.5,734.5 345,721.4 346.5,739.3 348,749.1 349.5,741.3 351,742.5 352.5,745.6 354,737.6 355.5,741.9 357,742.7 358.5,749.2 360,753.9 361.5,748.3 363,734.9 364.5,725.3 366,713.7 367.5,723.1 369,735.6 370.5,744.4 372,742.9 373.5,749.1 375,743.3 376.5,743.1 378,746.9 379.5,754.9 381,745.0 382.5,747.5 384,737.9 385.5,734.4 387,735.7 388.5,732.5 390,728.8 391.5,739.4 393,739.3 394.5,737.2 396,743.7 397.5,738.0 399,743.8 400.5,742.9 402,751.5 403.5,745.3 405,741.3 406.5,744.2 408,737.1 409.5,737.4 411,730.9 412.5,740.4 414,742.2 415.5,736.6 417,748.4 418.5,757.0 420,750.2 421.5,757.5 423,749.8 424.5,750.2 426,745.4 427.5,742.1 429,739.0 430.5,728.7 432,728.1 433.5,732.6 435,735.8 436.5,739.3 438,734.5 439.5,737.5 441,743.9 442.5,739.9 444,748.9 445.5,749.8 447,746.9 448.5,736.8 450,731.4 451.5,744.0 453,748.0 454.5,737.5 456,740.1 457.5,740.5 459,749.8 460.5,745.1 462,744.7 463.5,739.9 465,751.0 466.5,751.8 468,753.2 469.5,747.7 471,740.8 472.5,743.5 474,745.1 475.5,745.9 477,743.1 478.5,734.4 480,738.3 481.5,742.8 483,744.7 484.5,739.6 486,739.4 487.5,745.5 489,741.0 490.5,737.7 492,743.4 493.5,741.4 495,738.3 496.5,736.5 498,744.5 499.5,745.2 501,756.4 502.5,752.5 504,747.8 505.5,747.1 507,749.4 508.5,748.2 510,750.8 511.5,752.1 513,746.3 514.5,746.6 516,748.3 517.5,742.9 519,726.0 520.5,716.6 522,725.0 523.5,734.9 525,741.7 526.5,745.3 528,746.0 529.5,740.9 531,745.0 532.5,744.4 534,747.6 535.5,745.4 537,748.5 538.5,747.8 540,742.9 541.5,744.1 543,750.1 544.5,751.4 546,740.4 547.5,743.4 549,742.5 550.5,742.5 552,747.0 553.5,747.8 555,746.1 556.5,734.7 558,729.8 559.5,716.1 561,721.2 562.5,734.2 564,732.1 565.5,745.3 567,750.0 568.5,741.1 570,741.7 571.5,739.4 573,735.4 574.5,723.1 576,721.7 577.5,730.5 579,742.7 580.5,742.7 582,737.9 583.5,728.5 585,721.7 586.5,737.6 588,741.1 589.5,741.8 591,733.1 592.5,733.5 594,743.3 595.5,742.3 597,740.2 598.5,750.1 600,747.9 601.5,747.7 603,752.2 604.5,749.8 606,742.4 607.5,732.8 609,745.5 610.5,744.5 612,745.3 613.5,741.8 615,734.0 616.5,720.7 618,719.0 619.5,731.8 621,737.7 622.5,734.0 624,735.6 625.5,736.2 627,747.2 628.5,742.9 630,743.9 631.5,748.8 633,741.0 634.5,739.7 636,740.0 637.5,744.6 639,740.9 640.5,742.1 642,746.5 643.5,749.4 645,751.9 646.5,752.1 648,747.6 649.5,749.5 651,746.3 652.5,744.3 654,750.6 655.5,746.5 657,732.2 658.5,726.6 660,731.9 661.5,732.7 663,739.8 664.5,741.9 666,749.9 667.5,737.3 669,735.4 670.5,741.9 672,738.2 673.5,737.7 675,745.1 676.5,746.7 678,740.2 679.5,742.2 681,742.9 682.5,734.7 684,737.8 685.5,742.7 687,740.8 688.5,742.9 690,738.4 691.5,731.5 693,733.9 694.5,736.1 696,732.2 697.5,729.6 699,721.5 700.5,729.1 702,730.9 703.5,733.6 705,738.9 706.5,744.8 708,741.6 709.5,739.5 711,744.7 712.5,737.9 714,744.4 715.5,748.2 717,751.2 718.5,747.1 720,751.9 721.5,750.3 723,741.0 724.5,758.0 726,756.5 727.5,752.4 729,758.4 730.5,756.6 732,760.5 733.5,749.2 735,750.7 736.5,746.4 738,744.0 739.5,750.1 741,754.1 742.5,757.5 744,743.7 745.5,754.9 747,753.9 748.5,755.9 750,755.2 751.5,750.0 753,752.3 754.5,752.8 756,754.9 757.5,757.1 759,758.3 760.5,750.3 762,758.8 763.5,757.3 765,752.2 766.5,750.3 768,763.6 769.5,760.1 771,755.9 772.5,754.7 774,756.6 775.5,753.4 777,751.9 778.5,766.1 780,759.7 781.5,759.1 783,759.1 784.5,753.9 786,761.5 787.5,764.7 789,760.0 790.5,760.9 792,760.9 793.5,764.6 795,763.5 796.5,757.4 798,753.4 799.5,765.3 801,764.9 802.5,762.2 804,765.9 805.5,760.7 807,767.4 808.5,768.6 810,760.9 811.5,756.9 813,764.8 814.5,767.6 816,767.8 817.5,768.3 819,759.9 820.5,768.1 822,771.9 823.5,759.1 825,758.9 826.5,751.9 828,749.9 829.5,737.1 831,729.3 832.5,733.4 834,741.2 835.5,740.8 837,737.2 838.5,736.0 840,726.4 841.5,699.7 843,705.0 844.5,733.4 846,724.7 847.5,695.3 849,712.3 850.5,736.6 852,739.2 853.5,709.2 855,680.8 856.5,703.8 858,725.1 859.5,693.0 861,706.5 862.5,734.1 864,712.5 865.5,671.0 867,680.0 868.5,692.2 870,660.1 871.5,689.9 873,722.9 874.5,736.2 876,738.4 877.5,737.8 879,754.4 880.5,752.0 882,754.4 883.5,751.1 885,753.2 886.5,762.3 888,758.9 889.5,749.9 891,756.1 892.5,747.2 894,761.2 895.5,757.3 897,760.3 898.5,759.9 900,759.1 901.5,755.1 903,750.4 904.5,759.4 906,751.0 907.5,751.1 909,744.5 910.5,737.4 912,741.7 913.5,741.0 915,749.5 916.5,758.1 918,754.0 919.5,746.5 921,746.1 922.5,744.7 924,734.0 925.5,731.3 927,725.5 928.5,741.2 930,740.3 931.5,742.1 933,741.9 934.5,743.4 936,745.7 937.5,740.3 939,742.2 940.5,738.1 942,740.8 943.5,726.4 945,733.9 946.5,742.4 948,742.5 949.5,735.5 951,730.3 952.5,732.4 954,739.7 955.5,739.9 957,735.3 958.5,737.7 960,737.3 961.5,742.2 963,744.2 964.5,742.6 966,748.3 967.5,742.9 969,740.0 970.5,739.5 972,732.5 973.5,709.0 975,699.8 976.5,691.5 978,693.6 979.5,683.7 981,674.4 982.5,668.4 984,662.4 985.5,653.1 987,644.1 988.5,645.2 990,633.3 991.5,631.7 993,635.1 994.5,629.4 996,625.7 997.5,621.8 999,617.4 1000.5,620.1 1002,614.5 1003.5,629.2 1005,631.4 1006.5,644.5 1008,638.0 1009.5,648.7 1011,654.9 1012.5,654.1 1014,646.3 1015.5,641.9 1017,635.7 1018.5,629.3 1020,635.4 1021.5,637.2 1023,648.8 1024.5,649.4 1026,660.8" fill="none" stroke="#0000ff" stroke-width="3.5" stroke-linejoin="round"/>
<path d="M222,475.3 223.7,477.9 225.4,474.9 227.1,475.0 228.8,478.2 230.5,471.9 232.2,472.4 233.9,470.8 235.6,471.3 237.3,472.9 239,479.0 240.7,471.4 242.4,470.9 244.1,472.2 245.8,478.8 247.5,479.7 249.2,476.3 250.9,473.9 252.6,476.7 254.3,479.4 256,477.0 257.7,475.9 259.4,472.8 261.1,476.5 262.8,477.1 264.5,473.0 266.2,471.7 267.9,468.4 269.6,472.1 271.3,472.9 273,473.9 274.7,475.4 276.4,478.9 278.1,475.7 279.8,476.3 281.5,477.8 283.2,477.7 284.9,480.4 286.6,478.4 288.3,477.6 290,476.1 291.7,474.8 293.4,473.7 295.1,483.6 296.8,484.6 298.5,478.4 300.2,480.2 301.9,476.8 303.6,479.1 305.3,479.1 307,473.9 308.7,472.0 310.4,474.0 312.1,476.4 313.8,480.5 315.5,478.1 317.2,479.4 318.9,476.3 320.6,476.3 322.3,479.0 324,480.0 325.7,480.8 327.4,473.8 329.1,473.4 330.8,479.0 332.5,479.9 334.2,483.3 335.9,490.5 337.6,490.2 339.3,489.9 341,488.0 342.7,486.0 344.4,497.9 346.1,494.7 347.8,490.7 349.5,485.2 351.2,486.8 352.9,484.6 354.6,485.6 356.3,490.9 358,500.1 359.7,492.0 361.4,486.3 363.1,487.4 364.8,496.1 366.5,498.9 368.2,491.2 369.9,488.3 371.6,486.2 373.3,487.0 375,484.0 376.7,486.5 378.4,485.7 380.1,475.0 381.8,472.7 383.5,479.0 385.2,476.0 386.9,475.4 388.6,478.7 390.3,481.8 392,481.4 393.7,477.5 395.4,480.0 397.1,483.1 398.8,482.5 400.5,476.9 402.2,479.5 403.9,480.2 405.6,480.3 407.3,480.6 409,483.6 410.7,479.1 412.4,480.5 414.1,477.6 415.8,477.9 417.5,481.6 419.2,485.3 420.9,485.2 422.6,484.4 424.3,486.7 426,483.4 427.7,483.5 429.4,480.9 431.1,483.5 432.8,485.4 434.5,486.4 436.2,486.6 437.9,491.0 439.6,492.0 441.3,491.1 443,492.7 444.7,496.9 446.4,489.9 448.1,482.8 449.8,482.3 451.5,483.6 453.2,481.5 454.9,488.0 456.6,487.8 458.3,488.5 460,490.8 461.7,490.7 463.4,495.6 465.1,503.6 466.8,507.8 468.5,497.5 470.2,495.6 471.9,498.7 473.6,497.8 475.3,512.8 477,514.0 478.7,504.3 480.4,502.5 482.1,504.6 483.8,495.9 485.5,504.5 487.2,503.7 488.9,499.8 490.6,509.7 492.3,511.4 494,505.0 495.7,505.6 497.4,506.1 499.1,496.5 500.8,498.2 502.5,505.9 504.2,505.5 505.9,503.3 507.6,498.5 509.3,501.1 511,503.7 512.7,503.5 514.4,508.5 516.1,509.0 517.8,508.5 519.5,506.3" fill="none" stroke="#ff0000" stroke-width="3.5" stroke-linejoin="round"/>
<path d="M546.7,509.1 548.4,503.6 550.1,498.3 551.8,493.1 553.5,494.1 555.2,480.9 556.9,475.9 558.6,478.4 560.3,479.1 562,479.4 563.7,486.0 565.4,489.1 567.1,485.3 568.8,479.7 570.5,482.9 572.2,483.0 573.9,482.2 575.6,485.0 577.3,489.4 579,498.2 580.7,500.0 582.4,505.7 584.1,500.7 585.8,503.7 587.5,509.6 589.2,507.8 590.9,496.5 592.6,495.3 594.3,498.1 596,490.9 597.7,488.4 599.4,498.0 601.1,498.5 602.8,507.6 604.5,507.0 606.2,506.5 607.9,507.1 609.6,505.9 611.3,517.3 613,516.6 614.7,506.7 616.4,503.2 618.1,505.6 619.8,497.6 621.5,504.4 623.2,506.6 624.9,505.3 626.6,500.3 628.3,503.4 630,498.6 631.7,489.5 633.4,488.3 635.1,491.5 636.8,491.7 638.5,489.6 640.2,484.3 641.9,486.9 643.6,480.3 645.3,477.5 647,481.4 648.7,483.4 650.4,477.5 652.1,477.8 653.8,481.2 655.5,478.5 657.2,474.7 658.9,477.3 660.6,480.0 662.3,478.4 664,477.9 665.7,479.7 667.4,476.7 669.1,478.5 670.8,481.1 672.5,478.9 674.2,479.3 675.9,477.7 677.6,477.6 679.3,482.5 681,481.8 682.7,477.8 684.4,476.0 686.1,479.3 687.8,477.7 689.5,475.3 691.2,478.3 692.9,479.2 694.6,475.4 696.3,478.2 698,477.7 699.7,482.0 701.4,479.7 703.1,476.9 704.8,475.9 706.5,479.5 708.2,478.1 709.9,479.8 711.6,479.2 713.3,476.1 715,473.3 716.7,476.3 718.4,474.5 720.1,478.9 721.8,483.4 723.5,484.4 725.2,488.0 726.9,484.2 728.6,487.4 730.3,488.5 732,495.9 733.7,498.9 735.4,499.4 737.1,511.8 738.8,508.6 740.5,498.7 742.2,497.9 743.9,494.4 745.6,489.6 747.3,489.5 749,489.2 750.7,491.4 752.4,491.4 754.1,491.4 755.8,490.5 757.5,490.3 759.2,487.7 760.9,485.8 762.6,486.6 764.3,488.9 766,489.2 767.7,487.4 769.4,486.7 771.1,487.4 772.8,484.3 774.5,487.9 776.2,486.7 777.9,488.1 779.6,488.2 781.3,490.1 783,484.3 784.7,484.3 786.4,481.5 788.1,481.7 789.8,482.6 791.5,483.8 793.2,480.8 794.9,482.6 796.6,481.6 798.3,482.1 800,478.4 801.7,474.7 803.4,476.7 805.1,480.2 806.8,476.1 808.5,477.2 810.2,473.6 811.9,473.8 813.6,476.5 815.3,477.9 817,475.9 818.7,476.4 820.4,475.0 822.1,477.7 823.8,478.6 825.5,477.5 827.2,480.2 828.9,479.5 830.6,480.2 832.3,488.4 834,478.4 835.7,476.9 837.4,476.4 839.1,478.5 840.8,482.2 842.5,479.6 844.2,483.8 845.9,484.0 847.6,475.0 849.3,479.6 851,481.8 852.7,481.3 854.4,482.3 856.1,477.0 857.8,474.2 859.5,475.9 861.2,475.2 862.9,478.9 864.6,475.4 866.3,478.8 868,478.1 869.7,480.8 871.4,478.3 873.1,475.0 874.8,468.8 876.5,467.8 878.2,472.7 879.9,472.0 881.6,472.7 883.3,475.1 885,473.4 886.7,475.3 888.4,476.5 890.1,471.5 891.8,465.4 893.5,464.6 895.2,468.5 896.9,468.0 898.6,466.5 900.3,471.9 902,474.5 903.7,474.1 905.4,474.7 907.1,474.8 908.8,478.3 910.5,475.3 912.2,474.1 913.9,473.5 915.6,472.5 917.3,469.2 919,472.2 920.7,474.7 922.4,471.4 924.1,469.2 925.8,468.9 927.5,467.3 929.2,470.7 930.9,475.3 932.6,478.3 934.3,476.4 936,471.4 937.7,471.7 939.4,470.4 941.1,468.6 942.8,466.6 944.5,466.4 946.2,470.4 947.9,474.0 949.6,473.8 951.3,470.7 953,468.9 954.7,469.5 956.4,468.1 958.1,473.0 959.8,470.2 961.5,474.2 963.2,485.5 964.9,488.8 966.6,487.4 968.3,480.7 970,481.9 971.7,479.6 973.4,476.0 975.1,477.0 976.8,477.4 978.5,482.7 980.2,481.3 981.9,477.1 983.6,479.1 985.3,481.4 987,478.3 988.7,473.2 990.4,473.7 992.1,470.5 993.8,469.1 995.5,470.2 997.2,469.3 998.9,476.1 1000.6,476.6 1002.3,474.4 1004,470.2 1005.7,478.6 1007.4,479.8 1009.1,479.4 1010.8,478.4 1012.5,472.3 1014.2,478.3 1015.9,481.3 1017.6,480.6 1019.3,479.1 1021,479.5 1022.7,477.6 1024.4,479.3" fill="none" stroke="#ff0000" stroke-width="3.5" stroke-linejoin="round"/>
<path d="M222,367.2 223.7,360.7 225.4,359.2 227.1,352.8 228.8,355.0 230.5,358.3 232.2,355.4 233.9,355.9 235.6,358.6 237.3,356.4 239,347.1 240.7,345.6 242.4,352.1 244.1,349.2 245.8,349.7 247.5,349.3 249.2,354.1 250.9,349.3 252.6,345.9 254.3,344.3 256,349.4 257.7,351.3 259.4,352.7 261.1,353.1 262.8,353.2 264.5,343.7 266.2,334.9 267.9,350.3 269.6,357.4 271.3,352.3 273,353.8 274.7,358.1 276.4,363.8 278.1,367.0 279.8,364.7 281.5,352.8 283.2,350.3 284.9,354.0 286.6,356.0 288.3,354.1 290,355.9 291.7,364.3 293.4,361.0 295.1,355.5 296.8,356.1 298.5,349.9 300.2,339.3 301.9,344.8 303.6,348.7 305.3,352.6 307,339.2 308.7,343.2 310.4,357.3 312.1,360.7 313.8,351.5 315.5,333.5 317.2,336.6 318.9,350.2 320.6,349.0 322.3,345.5 324,356.0 325.7,364.2 327.4,361.7 329.1,361.7 330.8,359.2 332.5,359.2 334.2,362.6 335.9,363.5 337.6,364.1 339.3,363.5 341,363.5 342.7,359.2 344.4,360.9 346.1,354.9 347.8,357.1 349.5,358.7 351.2,359.8 352.9,353.7 354.6,358.5 356.3,355.0 358,349.5 359.7,353.1 361.4,355.2 363.1,352.0 364.8,355.7 366.5,356.5 368.2,357.2 369.9,354.1 371.6,358.3 373.3,358.6 375,357.8 376.7,354.8 378.4,354.4 380.1,355.4 381.8,351.6 383.5,352.4 385.2,358.7 386.9,358.2 388.6,358.3 390.3,357.3 392,357.3 393.7,356.7 395.4,359.2 397.1,358.9 398.8,360.8 400.5,362.5 402.2,360.3 403.9,361.0 405.6,361.6 407.3,362.8 409,358.4 410.7,335.6 412.4,331.3 414.1,349.5 415.8,358.3 417.5,349.7 419.2,339.1 420.9,351.9 422.6,361.4 424.3,361.9 426,361.8 427.7,359.4 429.4,358.0 431.1,352.4 432.8,355.2 434.5,347.7 436.2,325.7 437.9,348.9 439.6,358.4 441.3,343.6 443,329.5 444.7,342.8 446.4,343.9 448.1,335.9 449.8,349.1 451.5,361.5 453.2,367.4 454.9,360.8 456.6,363.4 458.3,363.1 460,339.1 461.7,316.5 463.4,331.2 465.1,338.2 466.8,330.4 468.5,315.1 470.2,336.5 471.9,351.8 473.6,336.5 475.3,343.1 477,362.0 478.7,362.5 480.4,358.6 482.1,353.7 483.8,356.2 485.5,353.9 487.2,354.0 488.9,358.6 490.6,357.5 492.3,356.6 494,361.2 495.7,358.5 497.4,355.6 499.1,354.5 500.8,358.3 502.5,364.4 504.2,365.5 505.9,358.0 507.6,355.2 509.3,350.1 511,355.1 512.7,354.2 514.4,344.3 516.1,332.5 517.8,348.0 519.5,349.2 521.2,337.2 522.9,319.9 524.6,338.4 526.3,357.6 528,357.4 529.7,348.3 531.4,352.8 533.1,357.1 534.8,358.7 536.5,364.8 538.2,361.1 539.9,363.0 541.6,357.4 543.3,360.0 545,363.6 546.7,363.4 548.4,352.4 550.1,358.0 551.8,357.9 553.5,360.9 555.2,361.0 556.9,360.2 558.6,360.7 560.3,357.2 562,357.6 563.7,360.6 565.4,361.3 567.1,365.8 568.8,365.1 570.5,369.5 572.2,362.8 573.9,361.2 575.6,361.3 577.3,354.9 579,346.0 580.7,343.1 582.4,354.8 584.1,358.6 585.8,360.3 587.5,358.7 589.2,342.9 590.9,345.5 592.6,353.7 594.3,356.3 596,355.0 597.7,358.8 599.4,359.7 601.1,357.8 602.8,353.3 604.5,340.8 606.2,327.6 607.9,344.6 609.6,349.2 611.3,337.6 613,344.6 614.7,366.7 616.4,366.0 618.1,362.4 619.8,359.7 621.5,359.4 623.2,361.6 624.9,347.5 626.6,329.5 628.3,335.1 630,352.3 631.7,362.0 633.4,363.3 635.1,363.1 636.8,366.0 638.5,366.3 640.2,360.2 641.9,363.1 643.6,360.3 645.3,362.7 647,359.6 648.7,358.8 650.4,354.8 652.1,355.8 653.8,359.4 655.5,360.6 657.2,363.6 658.9,362.4 660.6,364.0 662.3,364.5 664,363.3 665.7,358.4 667.4,359.1 669.1,365.8 670.8,366.1 672.5,357.0 674.2,352.7 675.9,357.4 677.6,360.3 679.3,358.4 681,366.2 682.7,362.7 684.4,364.2 686.1,366.3 687.8,362.1 689.5,357.7 691.2,358.3 692.9,357.0 694.6,360.8 696.3,356.7 698,361.3 699.7,367.5 701.4,364.2 703.1,361.5 704.8,362.7 706.5,362.0 708.2,358.9 709.9,355.8 711.6,363.1 713.3,359.5 715,360.4 716.7,363.9 718.4,367.7 720.1,365.4 721.8,359.8 723.5,361.4 725.2,362.7 726.9,358.2 728.6,361.1 730.3,355.6 732,344.4 733.7,326.6 735.4,335.9 737.1,355.8 738.8,343.3 740.5,329.9 742.2,339.9 743.9,352.3 745.6,356.0 747.3,351.2 749,350.1 750.7,359.5 752.4,363.3 754.1,364.0 755.8,366.6 757.5,362.3 759.2,367.5 760.9,366.6 762.6,363.3 764.3,358.4 766,361.9 767.7,361.4 769.4,359.5 771.1,362.9 772.8,364.7 774.5,365.7 776.2,360.4 777.9,358.0 779.6,355.7 781.3,358.1 783,363.3 784.7,365.6 786.4,365.2 788.1,350.0 789.8,343.0 791.5,348.4 793.2,357.0 794.9,356.2 796.6,346.6 798.3,346.0 800,361.8 801.7,359.9 803.4,360.3 805.1,352.6 806.8,356.3 808.5,359.8 810.2,366.1 811.9,358.6 813.6,358.9 815.3,356.0 817,352.7 818.7,357.5 820.4,356.7 822.1,354.8 823.8,355.3 825.5,362.3 827.2,364.2 828.9,358.5 830.6,364.2 832.3,362.9 834,361.4 835.7,366.3 837.4,364.4 839.1,360.5 840.8,362.2 842.5,363.8 844.2,359.1 845.9,361.4 847.6,363.7 849.3,361.7 851,363.8 852.7,365.8 854.4,359.6 856.1,362.4 857.8,360.0 859.5,357.6 861.2,358.3 862.9,353.0 864.6,353.9 866.3,356.8 868,356.5 869.7,359.1 871.4,358.8 873.1,359.6 874.8,358.2 876.5,360.2 878.2,360.2 879.9,363.6 881.6,361.0 883.3,362.1 885,359.2 886.7,354.3 888.4,359.1 890.1,359.6 891.8,360.7 893.5,363.9 895.2,359.2 896.9,357.8 898.6,350.3 900.3,346.3 902,362.2 903.7,364.0 905.4,363.6 907.1,360.6 908.8,361.1 910.5,360.5 912.2,365.1 913.9,362.1 915.6,360.3 917.3,347.3 919,347.8 920.7,356.3 922.4,361.9 924.1,361.0 925.8,363.5 927.5,362.8 929.2,354.1 930.9,342.5 932.6,353.7 934.3,357.4 936,360.6 937.7,354.5 939.4,358.9 941.1,360.1 942.8,357.5 944.5,356.8 946.2,353.1 947.9,356.0 949.6,356.4 951.3,346.0 953,347.2 954.7,358.5 956.4,352.2 958.1,350.7 959.8,357.2 961.5,350.3 963.2,356.2 964.9,354.7 966.6,339.3 968.3,348.3 970,365.4 971.7,369.5 973.4,362.0 975.1,349.3 976.8,342.9 978.5,359.5 980.2,365.8 981.9,355.4 983.6,340.6 985.3,354.2 987,367.1 988.7,371.1 990.4,366.0 992.1,362.3 993.8,367.8 995.5,364.7 997.2,355.6 998.9,352.5 1000.6,359.6 1002.3,363.6 1004,356.2 1005.7,358.0 1007.4,338.6 1009.1,335.3 1010.8,344.9 1012.5,354.5 1014.2,342.8 1015.9,342.9 1017.6,360.9 1019.3,361.4 1021,362.9 1022.7,363.7 1024.4,354.7 1026.1,340.5 1027.8,357.9 1029.5,361.8 1031.2,359.2 1032.9,357.6 1034.6,355.9 1036.3,349.6 1038,355.6 1039.7,362.3 1041.4,362.9 1043.1,363.2 1044.8,365.3 1046.5,362.0 1048.2,352.9 1049.9,355.5 1051.6,359.4 1053.3,353.5 1055,357.3 1056.7,365.1 1058.4,362.7 1060.1,365.0 1061.8,354.7 1063.5,355.6 1065.2,357.4 1066.9,350.6 1068.6,349.0 1070.3,358.9 1072,362.1 1073.7,360.8 1075.4,361.2 1077.1,363.4 1078.8,360.2 1080.5,361.0 1082.2,360.3 1083.9,364.3 1085.6,363.6 1087.3,359.2 1089,360.4 1090.7,358.6 1092.4,361.6 1094.1,361.4 1095.8,363.1 1097.5,363.4 1099.2,360.6 1100.9,361.8 1102.6,360.3 1104.3,358.7 1106,358.4 1107.7,359.4 1109.4,356.9 1111.1,354.4 1112.8,358.1 1114.5,363.9 1116.2,365.6 1117.9,362.3 1119.6,363.1 1121.3,362.6 1123,358.3 1124.7,358.2 1126.4,355.0 1128.1,358.7 1129.8,365.8 1131.5,363.9 1133.2,359.1 1134.9,361.4 1136.6,350.9 1138.3,337.6 1140,355.0 1141.7,363.9 1143.4,362.4 1145.1,361.7 1146.8,366.3 1148.5,371.1 1150.2,359.0 1151.9,361.7 1153.6,366.5 1155.3,359.7 1157,355.2 1158.7,360.7 1160.4,364.2 1162.1,364.5 1163.8,353.6 1165.5,341.4 1167.2,349.5 1168.9,365.2 1170.6,360.8 1172.3,364.2 1174,351.1 1175.7,354.4 1177.4,358.2 1179.1,357.2 1180.8,359.5 1182.5,363.3 1184.2,361.0 1185.9,360.7 1187.6,353.0 1189.3,347.4 1191,348.0 1192.7,355.8 1194.4,364.9 1196.1,365.4 1197.8,364.1 1199.5,363.8 1201.2,360.2 1202.9,365.2 1204.6,362.6 1206.3,361.1 1208,369.7 1209.7,364.9 1211.4,366.1 1213.1,365.2 1214.8,362.4 1216.5,361.2 1218.2,363.3 1219.9,368.2 1221.6,368.7 1223.3,364.4 1225,367.5 1226.7,364.8 1228.4,358.3 1230.1,351.5 1231.8,360.3 1233.5,357.6 1235.2,357.0 1236.9,359.9 1238.6,362.9 1240.3,358.0 1242,359.6 1243.7,359.9 1245.4,363.4 1247.1,365.4 1248.8,367.0 1250.5,366.2 1252.2,364.1 1253.9,364.9 1255.6,366.8 1257.3,368.5 1259,367.8 1260.7,364.6 1262.4,363.7 1264.1,360.8 1265.8,368.5 1267.5,366.8 1269.2,367.8 1270.9,367.7 1272.6,365.3 1274.3,362.8 1276,362.6 1277.7,360.7 1279.4,340.0 1281.1,344.0 1282.8,353.8 1284.5,354.7 1286.2,357.9 1287.9,356.7 1289.6,353.8 1291.3,331.8 1293,337.3 1294.7,357.6 1296.4,351.3 1298.1,340.9 1299.8,354.7 1301.5,362.3 1303.2,366.7 1304.9,366.4 1306.6,367.5 1308.3,358.0 1310,345.7 1311.7,351.7 1313.4,363.0 1315.1,362.2 1316.8,362.9 1318.5,362.7 1320.2,367.8 1321.9,365.6 1323.6,365.7 1325.3,347.3 1327,335.0 1328.7,344.0 1330.4,356.4 1332.1,357.7 1333.8,364.9 1335.5,367.8 1337.2,368.5 1338.9,358.0 1340.6,347.6 1342.3,361.5 1344,368.0 1345.7,368.4 1347.4,365.6 1349.1,358.5 1350.8,358.8 1352.5,363.4 1354.2,358.1 1355.9,338.9 1357.6,351.3 1359.3,363.2 1361,362.7 1362.7,358.8 1364.4,356.7 1366.1,354.0 1367.8,355.2 1369.5,355.4 1371.2,359.4 1372.9,363.9 1374.6,374.5 1376.3,368.6 1378,363.7 1379.7,353.5 1381.4,356.2 1383.1,361.6 1384.8,360.8 1386.5,364.1 1388.2,365.6 1389.9,364.3 1391.6,359.5 1393.3,347.3 1395,356.0 1396.7,365.5 1398.4,362.2 1400.1,361.7 1401.8,362.7 1403.5,367.5 1405.2,363.2 1406.9,359.5 1408.6,343.6 1410.3,340.8 1412,349.1 1413.7,361.9 1415.4,359.5 1417.1,363.7 1418.8,348.1 1420.5,343.3 1422.2,352.1 1423.9,358.4 1425.6,356.9 1427.3,342.2 1429,337.7 1430.7,349.6 1432.4,361.1 1434.1,366.6 1435.8,365.4 1437.5,368.9 1439.2,363.9 1440.9,368.5 1442.6,359.2 1444.3,344.9 1446,335.4 1447.7,358.9 1449.4,360.7 1451.1,330.2 1452.8,315.5 1454.5,338.3 1456.2,356.0 1457.9,352.9 1459.6,341.7 1461.3,352.4 1463,368.5 1464.7,353.6 1466.4,339.1 1468.1,356.0 1469.8,367.1 1471.5,364.5 1473.2,360.3 1474.9,346.9 1476.6,340.6 1478.3,356.2 1480,364.8 1481.7,367.9 1483.4,367.6 1485.1,365.5 1486.8,368.2 1488.5,368.5 1490.2,369.6 1491.9,367.8 1493.6,366.5 1495.3,370.6 1497,369.5 1498.7,370.0 1500.4,364.9 1502.1,361.5 1503.8,360.3 1505.5,362.3 1507.2,368.5 1508.9,366.0 1510.6,364.7 1512.3,362.8 1514,364.1 1515.7,370.2 1517.4,370.4 1519.1,363.3 1520.8,362.6 1522.5,367.8 1524.2,368.9 1525.9,361.6 1527.6,362.9 1529.3,362.8 1531,365.9 1532.7,366.2 1534.4,366.4 1536.1,363.3 1537.8,367.0 1539.5,367.0 1541.2,367.6 1542.9,368.8 1544.6,366.2 1546.3,362.4 1548,360.3 1549.7,361.5 1551.4,369.2 1553.1,365.8 1554.8,364.0 1556.5,364.3 1558.2,364.0 1559.9,362.9 1561.6,365.0 1563.3,365.0 1565,359.8 1566.7,364.1 1568.4,359.6 1570.1,362.0 1571.8,358.8 1573.5,360.7 1575.2,358.0 1576.9,360.5 1578.6,361.1 1580.3,364.5 1582,366.0 1583.7,360.7 1585.4,363.6 1587.1,360.1 1588.8,363.2 1590.5,360.4 1592.2,360.1 1593.9,358.5 1595.6,360.7 1597.3,363.0 1599,367.7 1600.7,362.1 1602.4,361.9 1604.1,365.9 1605.8,370.3 1607.5,372.0 1609.2,371.4 1610.9,369.8 1612.6,373.0 1614.3,370.1 1616,366.1 1617.7,343.9 1619.4,332.8 1621.1,342.4 1622.8,342.3 1624.5,352.0 1626.2,363.6 1627.9,365.4 1629.6,364.0 1631.3,364.5 1633,362.1 1634.7,360.3 1636.4,361.3 1638.1,357.6 1639.8,361.5 1641.5,363.2 1643.2,360.7 1644.9,363.6 1646.6,363.5 1648.3,355.5 1650,352.1 1651.7,358.0 1653.4,360.1 1655.1,361.8 1656.8,356.5 1658.5,348.6 1660.2,360.6 1661.9,363.9 1663.6,364.7 1665.3,365.0 1667,361.2 1668.7,360.0 1670.4,358.7 1672.1,357.1 1673.8,362.0 1675.5,366.7 1677.2,369.5 1678.9,367.3 1680.6,366.6 1682.3,366.6 1684,365.8 1685.7,368.7 1687.4,365.2 1689.1,367.5 1690.8,360.0 1692.5,361.4 1694.2,361.1 1695.9,364.9 1697.6,363.2 1699.3,365.6 1701,358.3 1702.7,358.3 1704.4,359.2 1706.1,362.6 1707.8,357.4 1709.5,358.7 1711.2,359.6 1712.9,364.5 1714.6,364.4 1716.3,364.6 1718,363.8 1719.7,359.8 1721.4,362.8 1723.1,363.3 1724.8,366.9 1726.5,362.0 1728.2,364.4 1729.9,363.4 1731.6,363.5 1733.3,368.5 1735,366.1 1736.7,364.2 1738.4,371.4 1740.1,369.9 1741.8,366.9 1743.5,363.1 1745.2,362.0 1746.9,363.4 1748.6,362.1 1750.3,370.0 1752,373.0 1753.7,372.7 1755.4,369.4 1757.1,364.5 1758.8,364.6 1760.5,361.0 1762.2,360.1 1763.9,359.2 1765.6,355.6 1767.3,362.8 1769,363.7 1770.7,351.0 1772.4,344.8 1774.1,356.2 1775.8,364.4 1777.5,366.0 1779.2,366.4 1780.9,363.9 1782.6,364.0 1784.3,364.9 1786,366.8 1787.7,365.4 1789.4,366.5 1791.1,369.6 1792.8,371.4 1794.5,371.0 1796.2,367.8 1797.9,365.4 1799.6,365.4 1801.3,363.0 1803,367.4 1804.7,368.6 1806.4,369.0 1808.1,360.6 1809.8,351.2 1811.5,360.4 1813.2,367.6 1814.9,358.7 1816.6,358.6 1818.3,355.5 1820,351.5 1821.7,358.8 1823.4,362.0 1825.1,365.7 1826.8,368.0 1828.5,373.7 1830.2,369.9 1831.9,364.9 1833.6,362.7 1835.3,352.4 1837,355.4 1838.7,362.4 1840.4,363.2 1842.1,368.6 1843.8,354.3 1845.5,354.4 1847.2,357.4 1848.9,365.1 1850.6,367.8 1852.3,365.2 1854,367.1 1855.7,371.0 1857.4,370.7 1859.1,367.0 1860.8,372.4 1862.5,362.5 1864.2,363.4 1865.9,352.0 1867.6,356.0 1869.3,363.9 1871,364.2 1872.7,366.3 1874.4,365.0 1876.1,366.2 1877.8,367.7 1879.5,366.1 1881.2,368.6 1882.9,369.7 1884.6,360.5 1886.3,366.5 1888,364.5 1889.7,362.4 1891.4,361.7 1893.1,357.1 1894.8,327.3 1896.5,287.7 1898.2,250.2 1899.9,254.8 1901.6,276.2 1903.3,327.5 1905,311.0 1906.7,298.0 1908.4,276.3 1910.1,280.3 1911.8,288.3 1913.5,334.1 1915.2,329.8 1916.9,305.4 1918.6,320.7 1920.3,338.4 1922,320.4 1923.7,322.1" fill="none" stroke="#0000ff" stroke-width="3.5" stroke-linejoin="round"/>
<path d="M222,89.9 223.7,88.0 225.4,89.1 227.1,85.7 228.8,87.8 230.5,87.8 232.2,90.5 233.9,94.9 235.6,93.9 237.3,94.5 239,95.1 240.7,94.2 242.4,94.3 244.1,87.5 245.8,95.0 247.5,100.8 249.2,93.3 250.9,89.5 252.6,89.6 254.3,93.0 256,98.2 257.7,94.0 259.4,90.4 261.1,92.9 262.8,93.8 264.5,90.9 266.2,91.2 267.9,90.4 269.6,90.4 271.3,86.6 273,89.1 274.7,91.6 276.4,91.5 278.1,92.7 279.8,90.1 281.5,89.1 283.2,89.6 284.9,95.4 286.6,96.3 288.3,92.0 290,94.7 291.7,92.8 293.4,95.4 295.1,95.5 296.8,96.8 298.5,96.9 300.2,93.8 301.9,91.8 303.6,92.4 305.3,92.9 307,95.2 308.7,99.2 310.4,96.6 312.1,99.0 313.8,97.2 315.5,96.4 317.2,93.3 318.9,101.4 320.6,105.1 322.3,95.9 324,90.9 325.7,93.9 327.4,102.4 329.1,101.8 330.8,93.2 332.5,94.4 334.2,93.0 335.9,91.7 337.6,95.0 339.3,94.8 341,93.9 342.7,93.1 344.4,85.8 346.1,90.7 347.8,94.6 349.5,87.7 351.2,83.8 352.9,86.4 354.6,91.3 356.3,92.5 358,93.5 359.7,91.0 361.4,89.2 363.1,91.4 364.8,88.7 366.5,93.0 368.2,94.1 369.9,92.9 371.6,90.7 373.3,94.9 375,93.4 376.7,88.8 378.4,88.2 380.1,85.5 381.8,90.2 383.5,87.7 385.2,88.5 386.9,91.5 388.6,94.3 390.3,88.6 392,90.0 393.7,90.0 395.4,91.1 397.1,86.4 398.8,89.1 400.5,98.9 402.2,107.0 403.9,99.3 405.6,91.0 407.3,88.8 409,97.8 410.7,96.1 412.4,97.9 414.1,93.3 415.8,88.1 417.5,91.7 419.2,92.3 420.9,91.6 422.6,90.5 424.3,90.1 426,87.7 427.7,92.0 429.4,94.7 431.1,93.6 432.8,91.3 434.5,92.3 436.2,94.6 437.9,98.1 439.6,104.1 441.3,104.1 443,96.5 444.7,96.1 446.4,96.0 448.1,96.0 449.8,96.3 451.5,95.6 453.2,91.1 454.9,94.7 456.6,96.3 458.3,92.1 460,91.5 461.7,93.6 463.4,94.1 465.1,90.8 466.8,89.0 468.5,87.7 470.2,90.4 471.9,95.6 473.6,101.5 475.3,97.4 477,92.4 478.7,90.0 480.4,99.4 482.1,105.1 483.8,97.0 485.5,95.0 487.2,93.7 488.9,92.3 490.6,90.1 492.3,90.9 494,94.9 495.7,91.3 497.4,94.3 499.1,90.9 500.8,89.6 502.5,93.2 504.2,90.6 505.9,90.7 507.6,90.5 509.3,94.2 511,94.5 512.7,92.4 514.4,91.4 516.1,92.7 517.8,93.6 519.5,101.4 521.2,101.2 522.9,95.9 524.6,91.7 526.3,95.2 528,93.9 529.7,96.6 531.4,95.9 533.1,94.0 534.8,89.1 536.5,94.6 538.2,91.8 539.9,93.0 541.6,94.9 543.3,97.0 545,92.7 546.7,100.9 548.4,100.1 550.1,94.5 551.8,96.8 553.5,94.4 555.2,93.3 556.9,89.7 558.6,96.2 560.3,95.0 562,92.6 563.7,92.0 565.4,92.2 567.1,89.8 568.8,95.0 570.5,93.2 572.2,91.4 573.9,91.5 575.6,89.4 577.3,88.7 579,86.8 580.7,87.3 582.4,84.8 584.1,88.7 585.8,89.1 587.5,89.7 589.2,91.3 590.9,90.4 592.6,95.3 594.3,91.2 596,95.1 597.7,98.9 599.4,94.7 601.1,90.2 602.8,96.5 604.5,104.1 606.2,95.4 607.9,92.8 609.6,88.2 611.3,88.5 613,91.1 614.7,91.2 616.4,91.5 618.1,89.8 619.8,92.9 621.5,92.1 623.2,93.6 624.9,94.1 626.6,91.8 628.3,91.8 630,92.1 631.7,90.1 633.4,90.9 635.1,89.8 636.8,87.6 638.5,89.7 640.2,91.2 641.9,93.3 643.6,93.9 645.3,91.9 647,91.8 648.7,94.6 650.4,91.1 652.1,87.4 653.8,85.5 655.5,86.7 657.2,93.0 658.9,89.4 660.6,93.5 662.3,91.2 664,90.8 665.7,89.3 667.4,94.4 669.1,96.4 670.8,92.7 672.5,93.4 674.2,89.3 675.9,89.4 677.6,91.1 679.3,90.5 681,92.3 682.7,87.0 684.4,94.5 686.1,92.6 687.8,88.2 689.5,87.9 691.2,86.1 692.9,86.5 694.6,91.1 696.3,91.4 698,96.9 699.7,103.3 701.4,103.9 703.1,95.3 704.8,91.3 706.5,91.8 708.2,94.9 709.9,96.7 711.6,94.4 713.3,94.4 715,97.4 716.7,98.0 718.4,91.9 720.1,93.9 721.8,95.3 723.5,94.9 725.2,93.5 726.9,89.0 728.6,91.3 730.3,94.0 732,93.6 733.7,85.7 735.4,89.7 737.1,93.1 738.8,95.5 740.5,92.0 742.2,92.4 743.9,90.4 745.6,90.8 747.3,91.3 749,92.5 750.7,89.6 752.4,92.9 754.1,97.2 755.8,95.0 757.5,96.2 759.2,101.9 760.9,100.1 762.6,92.8 764.3,90.6 766,94.8 767.7,94.0 769.4,90.7 771.1,89.2 772.8,89.5 774.5,87.3 776.2,90.4 777.9,93.2 779.6,89.0 781.3,87.9 783,88.2 784.7,87.9 786.4,91.5 788.1,87.9 789.8,89.7 791.5,92.2 793.2,96.5 794.9,94.7 796.6,94.2 798.3,96.0 800,91.0 801.7,90.9 803.4,94.4 805.1,92.1 806.8,93.2 808.5,94.7 810.2,94.3 811.9,95.3 813.6,93.6 815.3,89.7 817,87.7 818.7,92.1 820.4,99.3 822.1,94.2 823.8,90.6 825.5,88.2 827.2,96.6 828.9,95.7 830.6,91.4 832.3,93.6 834,92.7 835.7,94.1 837.4,97.4 839.1,99.0 840.8,96.7 842.5,94.8 844.2,93.1 845.9,89.8 847.6,88.5 849.3,94.7 851,92.8 852.7,90.1 854.4,89.7 856.1,85.7 857.8,90.0 859.5,89.4 861.2,90.8 862.9,89.8 864.6,85.6 866.3,93.0 868,92.3 869.7,90.0 871.4,88.6 873.1,89.5 874.8,89.9 876.5,88.3 878.2,87.8 879.9,88.6 881.6,90.3 883.3,88.4 885,91.2 886.7,93.8 888.4,95.9 890.1,92.0 891.8,89.5 893.5,88.8 895.2,91.1 896.9,94.2 898.6,99.6 900.3,101.1 902,93.1 903.7,91.7 905.4,89.4 907.1,84.0 908.8,82.4 910.5,82.0 912.2,82.8 913.9,80.2 915.6,81.5 917.3,83.8 919,86.3 920.7,92.6 922.4,95.9 924.1,100.3 925.8,102.9 927.5,97.2 929.2,95.8 930.9,93.8 932.6,93.3 934.3,95.6 936,92.9 937.7,94.6 939.4,86.4 941.1,85.5 942.8,86.9 944.5,90.7 946.2,90.5 947.9,88.4 949.6,91.7 951.3,90.2 953,89.3 954.7,88.5 956.4,88.1 958.1,88.3 959.8,90.5 961.5,90.7 963.2,78.3 964.9,84.5 966.6,81.3 968.3,81.9 970,78.8 971.7,84.0 973.4,88.3 975.1,92.7 976.8,90.9 978.5,93.9 980.2,90.1 981.9,91.3 983.6,93.5 985.3,92.0 987,87.1 988.7,84.5 990.4,87.7 992.1,85.4 993.8,88.9 995.5,87.1 997.2,80.9 998.9,77.8 1000.6,78.5 1002.3,80.6 1004,81.7 1005.7,76.5 1007.4,80.1 1009.1,78.7 1010.8,88.3 1012.5,96.1 1014.2,93.4 1015.9,87.8 1017.6,89.6 1019.3,90.3 1021,88.8 1022.7,88.0 1024.4,87.3 1026.1,92.5 1027.8,92.2 1029.5,91.2 1031.2,86.5 1032.9,80.2 1034.6,79.1 1036.3,80.3 1038,82.0 1039.7,81.1 1041.4,80.3 1043.1,78.8 1044.8,80.6 1046.5,80.0 1048.2,80.8 1049.9,78.8 1051.6,81.1 1053.3,78.7 1055,80.5 1056.7,78.1 1058.4,78.0 1060.1,83.3 1061.8,83.3 1063.5,82.5 1065.2,83.4 1066.9,83.8 1068.6,81.8 1070.3,79.2 1072,75.6 1073.7,75.3 1075.4,80.9 1077.1,80.4 1078.8,80.4 1080.5,80.4 1082.2,77.8 1083.9,78.7 1085.6,76.5 1087.3,79.8 1089,82.6 1090.7,81.4 1092.4,83.7 1094.1,86.0 1095.8,81.5 1097.5,80.8 1099.2,77.9 1100.9,78.2 1102.6,82.0 1104.3,82.4 1106,77.2 1107.7,79.9 1109.4,79.8 1111.1,75.4 1112.8,78.9 1114.5,78.5 1116.2,76.2 1117.9,76.4 1119.6,74.9 1121.3,74.4 1123,76.8 1124.7,74.6 1126.4,74.4 1128.1,74.8 1129.8,77.8 1131.5,79.7 1133.2,81.6 1134.9,82.4 1136.6,87.2 1138.3,97.7 1140,106.5 1141.7,105.2 1143.4,100.4 1145.1,99.6 1146.8,95.7 1148.5,95.8 1150.2,98.9 1151.9,110.6 1153.6,101.2 1155.3,95.6 1157,96.6 1158.7,97.0 1160.4,95.2 1162.1,96.3 1163.8,95.2 1165.5,92.8 1167.2,96.7 1168.9,95.1 1170.6,88.8 1172.3,87.3 1174,77.4 1175.7,76.8 1177.4,80.7 1179.1,81.0 1180.8,80.4 1182.5,78.9 1184.2,81.7 1185.9,81.5 1187.6,80.9 1189.3,81.2 1191,82.8 1192.7,78.6 1194.4,77.1 1196.1,74.5 1197.8,76.7 1199.5,75.8 1201.2,78.2 1202.9,73.9 1204.6,81.3 1206.3,81.8 1208,86.1 1209.7,78.9 1211.4,81.7 1213.1,79.0 1214.8,76.5 1216.5,79.7 1218.2,80.8 1219.9,80.3 1221.6,79.1 1223.3,80.0 1225,82.2 1226.7,83.0 1228.4,82.0 1230.1,82.1 1231.8,78.7 1233.5,77.9 1235.2,78.4 1236.9,79.1 1238.6,81.3 1240.3,82.8 1242,82.5 1243.7,81.8 1245.4,78.1 1247.1,83.4 1248.8,82.3 1250.5,76.7 1252.2,78.4 1253.9,78.1 1255.6,78.4 1257.3,75.9 1259,78.4 1260.7,78.8 1262.4,79.9 1264.1,80.9 1265.8,78.7 1267.5,80.2 1269.2,79.6 1270.9,83.5 1272.6,86.7 1274.3,81.7 1276,82.1 1277.7,83.5 1279.4,83.2 1281.1,89.6 1282.8,92.2 1284.5,87.9 1286.2,91.7 1287.9,96.2 1289.6,103.1 1291.3,99.9 1293,94.8 1294.7,91.9 1296.4,91.3 1298.1,88.2 1299.8,83.3 1301.5,80.5 1303.2,80.3 1304.9,82.7 1306.6,85.6 1308.3,89.1 1310,88.0 1311.7,85.7 1313.4,88.3 1315.1,95.8 1316.8,95.2 1318.5,93.0 1320.2,92.9 1321.9,95.7 1323.6,93.0 1325.3,95.0 1327,95.5 1328.7,100.9 1330.4,105.6 1332.1,96.3 1333.8,89.2 1335.5,88.0 1337.2,91.4 1338.9,94.7 1340.6,94.2 1342.3,88.3 1344,86.8 1345.7,85.4 1347.4,85.2 1349.1,83.7 1350.8,82.8 1352.5,87.4 1354.2,83.1 1355.9,87.9 1357.6,87.9 1359.3,90.1 1361,95.5 1362.7,99.9 1364.4,94.9 1366.1,88.8 1367.8,88.3 1369.5,90.7 1371.2,90.2 1372.9,90.1 1374.6,88.9 1376.3,90.5 1378,94.5 1379.7,93.7 1381.4,94.5 1383.1,94.4 1384.8,89.8 1386.5,88.1 1388.2,86.4 1389.9,84.6 1391.6,91.9 1393.3,92.5 1395,92.0 1396.7,88.6 1398.4,90.9 1400.1,91.1 1401.8,94.5 1403.5,93.6 1405.2,91.2 1406.9,88.2 1408.6,82.6 1410.3,84.7 1412,84.0 1413.7,83.5 1415.4,84.1 1417.1,87.3 1418.8,85.7 1420.5,85.1 1422.2,83.5 1423.9,80.5 1425.6,78.9 1427.3,78.7 1429,80.6 1430.7,82.8 1432.4,82.0 1434.1,78.9 1435.8,79.5 1437.5,83.2 1439.2,81.7 1440.9,80.6 1442.6,79.0 1444.3,77.1 1446,84.2 1447.7,88.1 1449.4,91.9 1451.1,93.2 1452.8,92.9 1454.5,96.0 1456.2,100.0 1457.9,99.8 1459.6,99.6 1461.3,92.2 1463,94.4 1464.7,92.0 1466.4,90.3 1468.1,94.7 1469.8,94.8 1471.5,90.9 1473.2,86.9 1474.9,77.9 1476.6,80.4 1478.3,78.6 1480,81.2 1481.7,85.5 1483.4,82.5 1485.1,85.0 1486.8,84.4 1488.5,86.5 1490.2,80.4 1491.9,77.0 1493.6,79.6 1495.3,79.4 1497,79.2 1498.7,82.4 1500.4,85.2 1502.1,77.8 1503.8,80.7 1505.5,81.9 1507.2,77.0 1508.9,81.3 1510.6,80.0 1512.3,78.7 1514,78.4 1515.7,78.7 1517.4,81.1 1519.1,79.1 1520.8,76.2 1522.5,76.7 1524.2,77.6 1525.9,78.9 1527.6,79.5 1529.3,80.2 1531,74.6 1532.7,80.1 1534.4,80.8 1536.1,74.8 1537.8,79.4 1539.5,82.5 1541.2,82.1 1542.9,79.0 1544.6,80.1 1546.3,79.4 1548,84.4 1549.7,79.4 1551.4,80.5 1553.1,83.4 1554.8,83.7 1556.5,79.5 1558.2,82.7 1559.9,81.4 1561.6,81.1 1563.3,82.5 1565,80.5 1566.7,78.7 1568.4,82.9 1570.1,80.2 1571.8,75.8 1573.5,79.0 1575.2,84.4 1576.9,79.6 1578.6,76.8 1580.3,76.9 1582,79.4 1583.7,80.1 1585.4,80.1 1587.1,80.6 1588.8,82.2 1590.5,79.4 1592.2,79.7 1593.9,80.8 1595.6,79.5 1597.3,77.7 1599,80.8 1600.7,78.1 1602.4,83.7 1604.1,85.4 1605.8,84.5 1607.5,81.1 1609.2,81.5 1610.9,80.5 1612.6,87.9 1614.3,93.1 1616,91.7 1617.7,94.8 1619.4,91.2 1621.1,92.1 1622.8,94.9 1624.5,94.9 1626.2,96.0 1627.9,96.9 1629.6,96.9 1631.3,96.0 1633,97.9 1634.7,97.0 1636.4,95.8 1638.1,96.5 1639.8,98.9 1641.5,94.9 1643.2,97.3 1644.9,94.5 1646.6,93.1 1648.3,95.2 1650,96.2 1651.7,96.3 1653.4,106.1 1655.1,110.4 1656.8,104.1 1658.5,102.5 1660.2,104.5 1661.9,109.4 1663.6,130.7 1665.3,113.2 1667,104.0 1668.7,107.2 1670.4,130.1 1672.1,122.4 1673.8,101.8 1675.5,99.1 1677.2,94.5 1678.9,92.8 1680.6,95.1 1682.3,92.4 1684,99.5 1685.7,99.8 1687.4,90.9 1689.1,90.0 1690.8,91.7 1692.5,89.5 1694.2,88.8 1695.9,82.4 1697.6,87.2 1699.3,94.8 1701,112.2 1702.7,120.1 1704.4,107.2 1706.1,97.3 1707.8,90.9 1709.5,95.2 1711.2,96.9 1712.9,93.9 1714.6,100.3 1716.3,99.0 1718,99.1 1719.7,95.6 1721.4,95.3 1723.1,97.4 1724.8,95.2 1726.5,94.1 1728.2,91.7 1729.9,90.7 1731.6,92.8 1733.3,99.0 1735,101.7 1736.7,98.7 1738.4,93.9 1740.1,94.6 1741.8,92.4 1743.5,97.2 1745.2,94.9 1746.9,92.6 1748.6,94.9 1750.3,96.2 1752,95.0 1753.7,92.4 1755.4,93.6 1757.1,90.7 1758.8,89.1 1760.5,91.7 1762.2,91.0 1763.9,92.7 1765.6,97.2 1767.3,95.8 1769,95.1 1770.7,88.5 1772.4,81.3 1774.1,92.1 1775.8,101.9 1777.5,115.3 1779.2,107.9 1780.9,92.8 1782.6,92.2 1784.3,92.0 1786,89.7 1787.7,90.7 1789.4,98.1 1791.1,99.0 1792.8,95.7 1794.5,86.6 1796.2,87.0 1797.9,93.2 1799.6,98.3 1801.3,111.5 1803,106.1 1804.7,92.7 1806.4,90.1 1808.1,86.0 1809.8,92.7 1811.5,95.4 1813.2,95.0 1814.9,91.6 1816.6,97.1 1818.3,102.3 1820,104.4 1821.7,98.2 1823.4,94.0 1825.1,92.4 1826.8,95.7 1828.5,89.4 1830.2,87.2 1831.9,89.8 1833.6,92.2 1835.3,94.6 1837,96.7 1838.7,100.2 1840.4,93.8 1842.1,91.9 1843.8,93.8 1845.5,98.6 1847.2,96.3 1848.9,91.9 1850.6,94.1 1852.3,93.9 1854,91.1 1855.7,85.8 1857.4,94.1 1859.1,102.1 1860.8,103.2 1862.5,100.4 1864.2,101.7 1865.9,98.9 1867.6,100.3 1869.3,103.4 1871,101.3 1872.7,93.7 1874.4,93.4 1876.1,94.5 1877.8,98.8 1879.5,99.0 1881.2,98.7 1882.9,95.6 1884.6,94.1 1886.3,99.1 1888,104.2 1889.7,102.5 1891.4,98.9 1893.1,95.5 1894.8,84.8 1896.5,84.5 1898.2,85.1 1899.9,101.4 1901.6,110.5 1903.3,104.0 1905,93.5 1906.7,95.4 1908.4,97.6 1910.1,90.2 1911.8,88.0 1913.5,88.0 1915.2,86.4 1916.9,85.2 1918.6,88.9 1920.3,87.7 1922,86.4 1923.7,85.0" fill="none" stroke="#ff0000" stroke-width="3.5" stroke-linejoin="round"/>
<path d="M133.5,3694.0H1285.0M133.5,3760.0H1285.0" stroke="#3E3A39" stroke-width="2.4" fill="none"/>
<text transform="translate(73.5,3726.0) rotate(-90)" font-size="74" text-anchor="middle" textLength="82.0" lengthAdjust="spacingAndGlyphs">K2</text>
<text transform="translate(218.5,3719.5) rotate(180)" font-size="28" text-anchor="start" textLength="119.5" lengthAdjust="spacingAndGlyphs" stroke="#231815" stroke-width="0.7">Lithology</text>
<text transform="translate(189.2,3773.5) rotate(180)" font-size="38" text-anchor="start" class="b" textLength="88.0" lengthAdjust="spacingAndGlyphs" >Depth</text>
<text transform="translate(213.0,3784.0) rotate(-90)" font-size="25" text-anchor="middle" textLength="34.0" lengthAdjust="spacingAndGlyphs" stroke="#231815" stroke-width="0.4">(m)</text>
<text transform="translate(214.3,3671.9) rotate(-90)" font-size="30" text-anchor="middle" stroke="#231815" stroke-width="0.4">90</text>
<text transform="translate(214.3,3582.6) rotate(-90)" font-size="30" text-anchor="middle" stroke="#231815" stroke-width="0.4">40</text>
<text transform="translate(214.3,3939.0) rotate(-90)" font-size="30" text-anchor="middle" stroke="#231815" stroke-width="0.4">0</text>
<text transform="translate(214.3,3846.0) rotate(-90)" font-size="30" text-anchor="middle" stroke="#231815" stroke-width="0.4">150</text>
<text transform="translate(199.4,3626.4) rotate(-90)" font-size="33" text-anchor="middle" textLength="36.4" lengthAdjust="spacingAndGlyphs" stroke="#231815" stroke-width="0.6">AC</text>
<text transform="translate(199.4,3893.0) rotate(-90)" font-size="33" text-anchor="middle" textLength="32.0" lengthAdjust="spacingAndGlyphs" stroke="#231815" stroke-width="0.6">GR</text>
<path d="M205,3655.6V3598.9" stroke="#f00" stroke-width="1.8"/>
<path d="M205,3926.0V3869.0" stroke="#00f" stroke-width="1.8"/>
<path d="M133.5,3299.5H1285.0M133.5,3363.0H1285.0" stroke="#3E3A39" stroke-width="2.4" fill="none"/>
<text transform="translate(73.5,3332.0) rotate(-90)" font-size="74" text-anchor="middle" textLength="128.0" lengthAdjust="spacingAndGlyphs">BT5</text>
<text transform="translate(218.5,3323.8) rotate(180)" font-size="28" text-anchor="start" textLength="119.5" lengthAdjust="spacingAndGlyphs" stroke="#231815" stroke-width="0.7">Lithology</text>
<text transform="translate(189.2,3377.2) rotate(180)" font-size="38" text-anchor="start" class="b" textLength="88.0" lengthAdjust="spacingAndGlyphs" >Depth</text>
<text transform="translate(213.0,3387.7) rotate(-90)" font-size="25" text-anchor="middle" textLength="34.0" lengthAdjust="spacingAndGlyphs" stroke="#231815" stroke-width="0.4">(m)</text>
<text transform="translate(214.3,3275.9) rotate(-90)" font-size="30" text-anchor="middle" stroke="#231815" stroke-width="0.4">90</text>
<text transform="translate(214.3,3186.6) rotate(-90)" font-size="30" text-anchor="middle" stroke="#231815" stroke-width="0.4">40</text>
<text transform="translate(214.3,3543.0) rotate(-90)" font-size="30" text-anchor="middle" stroke="#231815" stroke-width="0.4">0</text>
<text transform="translate(214.3,3449.8) rotate(-90)" font-size="30" text-anchor="middle" stroke="#231815" stroke-width="0.4">150</text>
<text transform="translate(199.4,3230.4) rotate(-90)" font-size="33" text-anchor="middle" textLength="36.4" lengthAdjust="spacingAndGlyphs" stroke="#231815" stroke-width="0.6">AC</text>
<text transform="translate(199.4,3496.4) rotate(-90)" font-size="33" text-anchor="middle" textLength="32.0" lengthAdjust="spacingAndGlyphs" stroke="#231815" stroke-width="0.6">GR</text>
<path d="M205,3259.6V3202.9" stroke="#f00" stroke-width="1.8"/>
<path d="M205,3530.0V3472.8" stroke="#00f" stroke-width="1.8"/>
<path d="M133.5,2904.0H1285.0M133.5,2968.0H1285.0" stroke="#3E3A39" stroke-width="2.4" fill="none"/>
<text transform="translate(73.5,2929.0) rotate(-90)" font-size="74" text-anchor="middle" textLength="143.0" lengthAdjust="spacingAndGlyphs">MB1</text>
<text transform="translate(218.5,2928.5) rotate(180)" font-size="28" text-anchor="start" textLength="119.5" lengthAdjust="spacingAndGlyphs" stroke="#231815" stroke-width="0.7">Lithology</text>
<text transform="translate(189.2,2981.5) rotate(180)" font-size="38" text-anchor="start" class="b" textLength="88.0" lengthAdjust="spacingAndGlyphs" >Depth</text>
<text transform="translate(213.0,2992.0) rotate(-90)" font-size="25" text-anchor="middle" textLength="34.0" lengthAdjust="spacingAndGlyphs" stroke="#231815" stroke-width="0.4">(m)</text>
<text transform="translate(214.3,2877.2) rotate(-90)" font-size="30" text-anchor="middle" stroke="#231815" stroke-width="0.4">90</text>
<text transform="translate(214.3,2789.0) rotate(-90)" font-size="30" text-anchor="middle" stroke="#231815" stroke-width="0.4">40</text>
<text transform="translate(214.3,3147.7) rotate(-90)" font-size="30" text-anchor="middle" stroke="#231815" stroke-width="0.4">0</text>
<text transform="translate(214.3,3049.9) rotate(-90)" font-size="30" text-anchor="middle" stroke="#231815" stroke-width="0.4">150</text>
<text transform="translate(199.4,2833.3) rotate(-90)" font-size="33" text-anchor="middle" textLength="36.4" lengthAdjust="spacingAndGlyphs" stroke="#231815" stroke-width="0.6">AC</text>
<text transform="translate(199.4,3096.5) rotate(-90)" font-size="33" text-anchor="middle" textLength="32.0" lengthAdjust="spacingAndGlyphs" stroke="#231815" stroke-width="0.6">GR</text>
<path d="M205,2860.9V2805.3" stroke="#f00" stroke-width="1.8"/>
<path d="M205,3134.7V3072.9" stroke="#00f" stroke-width="1.8"/>
<path d="M133.5,2509.0H1082.3M133.5,2566.0H1082.3" stroke="#3E3A39" stroke-width="2.4" fill="none"/>
<text transform="translate(73.5,2542.0) rotate(-90)" font-size="74" text-anchor="middle" textLength="124.0" lengthAdjust="spacingAndGlyphs">ST1</text>
<text transform="translate(218.5,2530.0) rotate(180)" font-size="28" text-anchor="start" textLength="119.5" lengthAdjust="spacingAndGlyphs" stroke="#231815" stroke-width="0.7">Lithology</text>
<text transform="translate(189.2,2581.3) rotate(180)" font-size="38" text-anchor="start" class="b" textLength="88.0" lengthAdjust="spacingAndGlyphs" >Depth</text>
<text transform="translate(213.0,2591.8) rotate(-90)" font-size="25" text-anchor="middle" textLength="34.0" lengthAdjust="spacingAndGlyphs" stroke="#231815" stroke-width="0.4">(m)</text>
<text transform="translate(214.3,2482.8) rotate(-90)" font-size="30" text-anchor="middle" stroke="#231815" stroke-width="0.4">90</text>
<text transform="translate(214.3,2393.5) rotate(-90)" font-size="30" text-anchor="middle" stroke="#231815" stroke-width="0.4">40</text>
<text transform="translate(214.3,2748.3) rotate(-90)" font-size="30" text-anchor="middle" stroke="#231815" stroke-width="0.4">0</text>
<text transform="translate(214.3,2655.1) rotate(-90)" font-size="30" text-anchor="middle" stroke="#231815" stroke-width="0.4">150</text>
<text transform="translate(199.4,2437.0) rotate(-90)" font-size="33" text-anchor="middle" textLength="36.4" lengthAdjust="spacingAndGlyphs" stroke="#231815" stroke-width="0.6">AC</text>
<text transform="translate(199.4,2702.0) rotate(-90)" font-size="33" text-anchor="middle" textLength="32.0" lengthAdjust="spacingAndGlyphs" stroke="#231815" stroke-width="0.6">GR</text>
<path d="M205,2466.5V2409.8" stroke="#f00" stroke-width="1.8"/>
<path d="M205,2735.3V2678.1" stroke="#00f" stroke-width="1.8"/>
<path d="M133.5,2116.0H1508.0M133.5,2176.0H1508.0" stroke="#3E3A39" stroke-width="2.4" fill="none"/>
<text transform="translate(73.5,2149.0) rotate(-90)" font-size="74" text-anchor="middle" textLength="70.0" lengthAdjust="spacingAndGlyphs">F1</text>
<text transform="translate(218.5,2138.5) rotate(180)" font-size="28" text-anchor="start" textLength="119.5" lengthAdjust="spacingAndGlyphs" stroke="#231815" stroke-width="0.7">Lithology</text>
<text transform="translate(189.2,2192.2) rotate(180)" font-size="38" text-anchor="start" class="b" textLength="88.0" lengthAdjust="spacingAndGlyphs" >Depth</text>
<text transform="translate(213.0,2202.7) rotate(-90)" font-size="25" text-anchor="middle" textLength="34.0" lengthAdjust="spacingAndGlyphs" stroke="#231815" stroke-width="0.4">(m)</text>
<text transform="translate(214.3,2089.8) rotate(-90)" font-size="30" text-anchor="middle" stroke="#231815" stroke-width="0.4">90</text>
<text transform="translate(214.3,2000.5) rotate(-90)" font-size="30" text-anchor="middle" stroke="#231815" stroke-width="0.4">40</text>
<text transform="translate(214.3,2355.6) rotate(-90)" font-size="30" text-anchor="middle" stroke="#231815" stroke-width="0.4">0</text>
<text transform="translate(214.3,2262.5) rotate(-90)" font-size="30" text-anchor="middle" stroke="#231815" stroke-width="0.4">120</text>
<text transform="translate(199.4,2044.3) rotate(-90)" font-size="33" text-anchor="middle" textLength="36.4" lengthAdjust="spacingAndGlyphs" stroke="#231815" stroke-width="0.6">AC</text>
<text transform="translate(199.4,2309.8) rotate(-90)" font-size="33" text-anchor="middle" textLength="32.0" lengthAdjust="spacingAndGlyphs" stroke="#231815" stroke-width="0.6">GR</text>
<path d="M205,2073.5V2016.8" stroke="#f00" stroke-width="1.8"/>
<path d="M205,2342.6V2285.5" stroke="#00f" stroke-width="1.8"/>
<path d="M133.5,1724.0H1491.0M133.5,1782.4H1491.0" stroke="#3E3A39" stroke-width="2.4" fill="none"/>
<text transform="translate(73.5,1757.0) rotate(-90)" font-size="74" text-anchor="middle" textLength="84.0" lengthAdjust="spacingAndGlyphs">H4</text>
<text transform="translate(218.5,1745.7) rotate(180)" font-size="28" text-anchor="start" textLength="119.5" lengthAdjust="spacingAndGlyphs" stroke="#231815" stroke-width="0.7">Lithology</text>
<text transform="translate(189.2,1798.6) rotate(180)" font-size="38" text-anchor="start" class="b" textLength="88.0" lengthAdjust="spacingAndGlyphs" >Depth</text>
<text transform="translate(213.0,1809.1) rotate(-90)" font-size="25" text-anchor="middle" textLength="34.0" lengthAdjust="spacingAndGlyphs" stroke="#231815" stroke-width="0.4">(m)</text>
<text transform="translate(214.3,1697.0) rotate(-90)" font-size="30" text-anchor="middle" stroke="#231815" stroke-width="0.4">90</text>
<text transform="translate(214.3,1607.7) rotate(-90)" font-size="30" text-anchor="middle" stroke="#231815" stroke-width="0.4">40</text>
<text transform="translate(214.3,1962.1) rotate(-90)" font-size="30" text-anchor="middle" stroke="#231815" stroke-width="0.4">0</text>
<text transform="translate(214.3,1870.1) rotate(-90)" font-size="30" text-anchor="middle" stroke="#231815" stroke-width="0.4">130</text>
<text transform="translate(199.4,1651.5) rotate(-90)" font-size="33" text-anchor="middle" textLength="36.4" lengthAdjust="spacingAndGlyphs" stroke="#231815" stroke-width="0.6">AC</text>
<text transform="translate(199.4,1917.0) rotate(-90)" font-size="33" text-anchor="middle" textLength="32.0" lengthAdjust="spacingAndGlyphs" stroke="#231815" stroke-width="0.6">GR</text>
<path d="M205,1680.7V1624.0" stroke="#f00" stroke-width="1.8"/>
<path d="M205,1949.1V1893.1" stroke="#00f" stroke-width="1.8"/>
<path d="M133.5,1332.0H1502.5M133.5,1390.4H1502.5" stroke="#3E3A39" stroke-width="2.4" fill="none"/>
<text transform="translate(73.5,1360.0) rotate(-90)" font-size="74" text-anchor="middle" textLength="85.0" lengthAdjust="spacingAndGlyphs">H6</text>
<text transform="translate(218.5,1353.7) rotate(180)" font-size="28" text-anchor="start" textLength="119.5" lengthAdjust="spacingAndGlyphs" stroke="#231815" stroke-width="0.7">Lithology</text>
<text transform="translate(189.2,1406.6) rotate(180)" font-size="38" text-anchor="start" class="b" textLength="88.0" lengthAdjust="spacingAndGlyphs" >Depth</text>
<text transform="translate(213.0,1417.1) rotate(-90)" font-size="25" text-anchor="middle" textLength="34.0" lengthAdjust="spacingAndGlyphs" stroke="#231815" stroke-width="0.4">(m)</text>
<text transform="translate(214.3,1305.0) rotate(-90)" font-size="30" text-anchor="middle" stroke="#231815" stroke-width="0.4">90</text>
<text transform="translate(214.3,1215.7) rotate(-90)" font-size="30" text-anchor="middle" stroke="#231815" stroke-width="0.4">40</text>
<text transform="translate(214.3,1570.1) rotate(-90)" font-size="30" text-anchor="middle" stroke="#231815" stroke-width="0.4">0</text>
<text transform="translate(214.3,1478.1) rotate(-90)" font-size="30" text-anchor="middle" stroke="#231815" stroke-width="0.4">150</text>
<text transform="translate(199.4,1259.5) rotate(-90)" font-size="33" text-anchor="middle" textLength="36.4" lengthAdjust="spacingAndGlyphs" stroke="#231815" stroke-width="0.6">AC</text>
<text transform="translate(199.4,1525.0) rotate(-90)" font-size="33" text-anchor="middle" textLength="32.0" lengthAdjust="spacingAndGlyphs" stroke="#231815" stroke-width="0.6">GR</text>
<path d="M205,1288.7V1232.0" stroke="#f00" stroke-width="1.8"/>
<path d="M205,1557.1V1501.1" stroke="#00f" stroke-width="1.8"/>
<path d="M133.5,941.7H1055.5M133.5,1000.5H1055.5" stroke="#3E3A39" stroke-width="2.4" fill="none"/>
<text transform="translate(73.5,968.0) rotate(-90)" font-size="74" text-anchor="middle" textLength="130.0" lengthAdjust="spacingAndGlyphs">BD4</text>
<text transform="translate(218.5,963.6) rotate(180)" font-size="28" text-anchor="start" textLength="119.5" lengthAdjust="spacingAndGlyphs" stroke="#231815" stroke-width="0.7">Lithology</text>
<text transform="translate(189.2,1017.0) rotate(180)" font-size="38" text-anchor="start" class="b" textLength="88.0" lengthAdjust="spacingAndGlyphs" >Depth</text>
<text transform="translate(213.0,1027.5) rotate(-90)" font-size="25" text-anchor="middle" textLength="34.0" lengthAdjust="spacingAndGlyphs" stroke="#231815" stroke-width="0.4">(m)</text>
<text transform="translate(214.3,913.8) rotate(-90)" font-size="30" text-anchor="middle" stroke="#231815" stroke-width="0.4">90</text>
<text transform="translate(214.3,825.3) rotate(-90)" font-size="30" text-anchor="middle" stroke="#231815" stroke-width="0.4">40</text>
<text transform="translate(214.3,1180.4) rotate(-90)" font-size="30" text-anchor="middle" stroke="#231815" stroke-width="0.4">0</text>
<text transform="translate(214.3,1087.7) rotate(-90)" font-size="30" text-anchor="middle" stroke="#231815" stroke-width="0.4">150</text>
<text transform="translate(199.4,868.8) rotate(-90)" font-size="33" text-anchor="middle" textLength="36.4" lengthAdjust="spacingAndGlyphs" stroke="#231815" stroke-width="0.6">AC</text>
<text transform="translate(199.4,1134.6) rotate(-90)" font-size="33" text-anchor="middle" textLength="32.0" lengthAdjust="spacingAndGlyphs" stroke="#231815" stroke-width="0.6">GR</text>
<path d="M205,897.5V841.6" stroke="#f00" stroke-width="1.8"/>
<path d="M205,1167.4V1110.7" stroke="#00f" stroke-width="1.8"/>
<path d="M133.5,549.0H1032.0M133.5,608.0H1032.0" stroke="#3E3A39" stroke-width="2.4" fill="none"/>
<text transform="translate(73.5,590.0) rotate(-90)" font-size="74" text-anchor="middle" textLength="132.0" lengthAdjust="spacingAndGlyphs">TC1</text>
<text transform="translate(218.5,571.0) rotate(180)" font-size="28" text-anchor="start" textLength="119.5" lengthAdjust="spacingAndGlyphs" stroke="#231815" stroke-width="0.7">Lithology</text>
<text transform="translate(189.2,624.2) rotate(180)" font-size="38" text-anchor="start" class="b" textLength="88.0" lengthAdjust="spacingAndGlyphs" >Depth</text>
<text transform="translate(213.0,634.7) rotate(-90)" font-size="25" text-anchor="middle" textLength="34.0" lengthAdjust="spacingAndGlyphs" stroke="#231815" stroke-width="0.4">(m)</text>
<text transform="translate(214.3,522.6) rotate(-90)" font-size="30" text-anchor="middle" stroke="#231815" stroke-width="0.4">90</text>
<text transform="translate(214.3,433.3) rotate(-90)" font-size="30" text-anchor="middle" stroke="#231815" stroke-width="0.4">40</text>
<text transform="translate(214.3,787.6) rotate(-90)" font-size="30" text-anchor="middle" stroke="#231815" stroke-width="0.4">0</text>
<text transform="translate(214.3,694.9) rotate(-90)" font-size="30" text-anchor="middle" stroke="#231815" stroke-width="0.4">150</text>
<text transform="translate(199.4,477.0) rotate(-90)" font-size="33" text-anchor="middle" textLength="36.4" lengthAdjust="spacingAndGlyphs" stroke="#231815" stroke-width="0.6">AC</text>
<text transform="translate(199.4,741.8) rotate(-90)" font-size="33" text-anchor="middle" textLength="32.0" lengthAdjust="spacingAndGlyphs" stroke="#231815" stroke-width="0.6">GR</text>
<path d="M205,506.3V449.6" stroke="#f00" stroke-width="1.8"/>
<path d="M205,774.6V717.9" stroke="#00f" stroke-width="1.8"/>
<path d="M133.5,156.5H1942.0M133.5,214.5H1942.0" stroke="#3E3A39" stroke-width="2.4" fill="none"/>
<text transform="translate(73.5,199.5) rotate(-90)" font-size="74" text-anchor="middle" textLength="116.5" lengthAdjust="spacingAndGlyphs">ZS5</text>
<text transform="translate(218.5,178.0) rotate(180)" font-size="28" text-anchor="start" textLength="119.5" lengthAdjust="spacingAndGlyphs" stroke="#231815" stroke-width="0.7">Lithology</text>
<text transform="translate(189.2,230.6) rotate(180)" font-size="38" text-anchor="start" class="b" textLength="88.0" lengthAdjust="spacingAndGlyphs" >Depth</text>
<text transform="translate(213.0,241.1) rotate(-90)" font-size="25" text-anchor="middle" textLength="34.0" lengthAdjust="spacingAndGlyphs" stroke="#231815" stroke-width="0.4">(m)</text>
<text transform="translate(214.3,130.6) rotate(-90)" font-size="30" text-anchor="middle" stroke="#231815" stroke-width="0.4">90</text>
<text transform="translate(214.3,41.3) rotate(-90)" font-size="30" text-anchor="middle" stroke="#231815" stroke-width="0.4">40</text>
<text transform="translate(214.3,396.1) rotate(-90)" font-size="30" text-anchor="middle" stroke="#231815" stroke-width="0.4">0</text>
<text transform="translate(214.3,302.9) rotate(-90)" font-size="30" text-anchor="middle" stroke="#231815" stroke-width="0.4">150</text>
<text transform="translate(199.4,85.5) rotate(-90)" font-size="33" text-anchor="middle" textLength="36.4" lengthAdjust="spacingAndGlyphs" stroke="#231815" stroke-width="0.6">AC</text>
<text transform="translate(199.4,350.6) rotate(-90)" font-size="33" text-anchor="middle" textLength="32.0" lengthAdjust="spacingAndGlyphs" stroke="#231815" stroke-width="0.6">GR</text>
<path d="M205,114.3V57.6" stroke="#f00" stroke-width="1.8"/>
<path d="M205,383.1V325.9" stroke="#00f" stroke-width="1.8"/>
<path d="M1285.0,3694.0V3760.0" stroke="#3E3A39" stroke-width="2" fill="none"/>
<path d="M1508.0,2116.0V2176.0" stroke="#3E3A39" stroke-width="2" fill="none"/>
<text transform="translate(284.3,4047.8) rotate(-90)" font-size="40" text-anchor="start" class="m" textLength="100.0" lengthAdjust="spacingAndGlyphs" >T∈3x</text>
<text transform="translate(928.3,4053.5) rotate(-90)" font-size="40" text-anchor="start" class="m" textLength="102.0" lengthAdjust="spacingAndGlyphs" >T∈2a</text>
<text transform="translate(1227.7,4046.5) rotate(-90)" font-size="40" text-anchor="start" class="m" textLength="95.0" lengthAdjust="spacingAndGlyphs" >T∈2s</text>
<text transform="translate(572.8,4145.0) rotate(-90)" font-size="43" text-anchor="start" >Awatage</text>
<text transform="translate(620.7,4145.0) rotate(-90)" font-size="43" text-anchor="start" >Formation</text>
<text transform="translate(1042.4,4129.0) rotate(-90)" font-size="43" text-anchor="start" >Shayilike</text>
<text transform="translate(1089.8,4129.7) rotate(-90)" font-size="43" text-anchor="start" >Formation</text>
<rect x="1612.2" y="3086.3" width="72.1" height="154.2" fill="#fff" stroke="#3E3A39" stroke-width="2.5"/>
<path d="M1629.0,3086.3L1629.0,3240.5M1664.0,3086.3L1664.0,3240.5" stroke="#3E3A39" stroke-width="2" fill="none"/>
<path d="M1630.0,3100.0L1663.0,3110.5M1630.0,3119.3L1663.0,3129.8M1630.0,3138.6L1663.0,3149.1M1630.0,3157.9L1663.0,3168.4M1630.0,3177.2L1663.0,3187.7M1630.0,3196.5L1663.0,3207.0M1630.0,3215.8L1663.0,3226.3" stroke="#231815" stroke-width="5.2" fill="none"/>
<rect x="1612.2" y="2701.6" width="72.1" height="155.1" fill="#fff" stroke="#3E3A39" stroke-width="2.5"/>
<path d="M1647.9,2701.6L1647.9,2856.7M1613.0,2768.5L1647.9,2792.7M1648.3,2729.4L1683.5,2752.4M1648.3,2804.1L1683.5,2827.1" stroke="#3E3A39" stroke-width="2" fill="none"/>
<rect x="1612.2" y="2317.3" width="72.1" height="154.1" fill="#fff" stroke="#3E3A39" stroke-width="2.5"/>
<path d="M1645.6,2317.3L1645.6,2471.4M1612.2,2384.4L1645.6,2407.4M1647.4,2343.0L1682.0,2367.2M1647.4,2417.7L1682.0,2441.9M1627.2,2343.0L1627.2,2370.6M1627.2,2425.8L1627.2,2451.0M1664.0,2379.8L1664.0,2410.8" stroke="#3E3A39" stroke-width="2" fill="none"/>
<rect x="1612.2" y="1939.2" width="72.1" height="152.6" fill="#fff" stroke="#3E3A39" stroke-width="2.5"/>
<path d="M1628.3,1939.2L1628.3,2091.8M1665.8,1939.2L1665.8,2091.8M1628.3,1955.6L1665.8,1955.6M1628.3,1976.3L1665.8,1976.3M1628.3,1998.2L1665.8,1998.2M1628.3,2018.9L1665.8,2018.9M1628.3,2039.5L1665.8,2039.5M1628.3,2059.1L1665.8,2059.1M1628.3,2079.1L1665.8,2079.1" stroke="#3E3A39" stroke-width="2" fill="none"/>
<rect x="1612.2" y="1581.2" width="72.1" height="155.1" fill="#fff" stroke="#3E3A39" stroke-width="2.5"/>
<path d="M1649.0,1581.2L1649.0,1736.3M1612.2,1664.6L1649.0,1664.6M1649.0,1619.6L1684.3,1619.6M1649.0,1705.3L1684.3,1705.3" stroke="#3E3A39" stroke-width="2" fill="none"/>
<rect x="1612.2" y="1201.9" width="72.1" height="154.1" fill="#fff" stroke="#3E3A39" stroke-width="2.5"/>
<path d="M1649.7,1201.9L1649.7,1356.0" stroke="#3E3A39" stroke-width="2" fill="none"/>
<path d="M1633.0,1229.4L1618.0,1229.4M1618.0,1229.4L1649.7,1253.6M1668.6,1267.4L1653.6,1267.4M1653.6,1267.4L1682.4,1289.2M1633.0,1304.1L1618.0,1304.1M1618.0,1304.1L1649.7,1327.1" stroke="#3E3A39" stroke-width="1.5" fill="none"/>
<rect x="1824.5" y="3086.3" width="73.5" height="154.2" fill="#fff" stroke="#3E3A39" stroke-width="3.1"/>
<path d="M1861.2,3086.3L1861.2,3240.5" stroke="#3E3A39" stroke-width="2" fill="none"/>
<path d="M1844.4,3107.6L1844.4,3129.4M1844.4,3157.0L1844.4,3178.9M1844.4,3205.3L1844.4,3226.0M1877.8,3131.7L1877.8,3153.6M1877.8,3181.2L1877.8,3203.0" stroke="#6b6765" stroke-width="1.1" fill="none"/>
<rect x="1824.5" y="2701.6" width="73.5" height="155.1" fill="#fff" stroke="#3E3A39" stroke-width="3.1"/>
<path d="M1861.2,2701.6L1861.2,2856.7" stroke="#3E3A39" stroke-width="2" fill="none"/>
<path d="M1824.9,2760.5L1861.2,2780.0M1861.2,2721.4L1895.0,2740.2M1861.2,2827.1L1895.0,2845.5" stroke="#3E3A39" stroke-width="1.5" fill="none"/>
<path d="M1829.5,2728.3l11.8,-14.4l16.9,-6.6l-11.8,14.4zM1829.5,2743.2l11.8,-14.4l16.9,-6.6l-11.8,14.4zM1829.5,2757.0l11.8,-14.4l16.9,-6.6l-11.8,14.4zM1829.5,2811.0l11.8,-14.4l16.9,-6.6l-11.8,14.4zM1829.5,2824.8l11.8,-14.4l16.9,-6.6l-11.8,14.4zM1829.5,2838.6l11.8,-14.4l16.9,-6.6l-11.8,14.4zM1864.0,2780.0l11.8,-14.4l16.9,-6.6l-11.8,14.4zM1864.0,2793.8l11.8,-14.4l16.9,-6.6l-11.8,14.4zM1864.0,2807.6l11.8,-14.4l16.9,-6.6l-11.8,14.4z" fill="#231815"/>
<rect x="1824.5" y="2317.3" width="73.5" height="154.1" fill="#fff" stroke="#3E3A39" stroke-width="3.1"/>
<path d="M1835.2,2333.8L1885.8,2363.7M1835.2,2363.7L1885.8,2393.6M1852.5,2402.8L1852.5,2460.3M1874.3,2402.8L1874.3,2460.3" stroke="#3E3A39" stroke-width="1.5" fill="none"/>
<path d="M1858.2,2409.7L1869.7,2409.7M1858.2,2422.3L1869.7,2422.3M1858.2,2435.0L1869.7,2435.0M1858.2,2446.5L1869.7,2446.5M1858.2,2458.0L1869.7,2458.0" stroke="#3E3A39" stroke-width="1.5" fill="none"/>
<rect x="1824.5" y="1939.2" width="73.5" height="152.6" fill="#fff" stroke="#3E3A39" stroke-width="3.1"/>
<path d="M1849.0,1955.6L1849.0,2074.5M1875.0,1955.6L1875.0,2074.5M1849.0,1971.7L1875.0,1986.7M1849.0,1994.7L1875.0,2008.5" stroke="#3E3A39" stroke-width="1.5" fill="none"/>
<ellipse cx="1862" cy="2036" rx="11" ry="4" stroke="#6b6765" stroke-width="1.1" fill="none"/><ellipse cx="1862" cy="2060" rx="11" ry="4" stroke="#6b6765" stroke-width="1.1" fill="none"/>
<rect x="1824.5" y="1581.2" width="73.5" height="155.1" fill="#fff" stroke="#3E3A39" stroke-width="3.1"/>
<path d="M1836.4,1599.6L1887.0,1639.8M1887.0,1600.8L1836.4,1637.5M1836.4,1689.2L1887.0,1728.3M1887.0,1690.0L1836.4,1727.0" stroke="#3E3A39" stroke-width="2" fill="none"/>
<path d="M1836.4,1672.0L1887.0,1672.0M1836.4,1661.6L1836.4,1682.3M1887.0,1661.6L1887.0,1682.3" stroke="#6b6765" stroke-width="1.1" fill="none"/>
<rect x="1824.5" y="1201.9" width="73.5" height="154.1" fill="#fff" stroke="#3E3A39" stroke-width="3.1"/>
<path d="M1839.8,1237.5L1881.2,1237.5M1839.8,1237.5L1854.8,1247.8M1839.8,1278.9L1881.2,1278.9M1839.8,1278.9L1854.8,1289.2M1839.8,1320.2L1881.2,1320.2M1839.8,1320.2L1854.8,1330.5" stroke="#3E3A39" stroke-width="2" fill="none"/>
<rect x="2043.2" y="3086.3" width="73.6" height="154.2" fill="#B04B8A" stroke="#3E3A39" stroke-width="3.1"/>
<rect x="2043.2" y="2701.6" width="73.6" height="155.1" fill="#F4B2B2" stroke="#3E3A39" stroke-width="3.1"/>
<rect x="2043.2" y="2317.3" width="73.6" height="154.1" fill="#C9CACA" stroke="#3E3A39" stroke-width="3.1"/>
<rect x="2043.2" y="1939.2" width="73.6" height="152.6" fill="#8A7A72" stroke="#3E3A39" stroke-width="3.1"/>
<rect x="2043.2" y="1578.0" width="73.6" height="154.0" fill="#7A9E9F" stroke="#3E3A39" stroke-width="3.1"/>
<rect x="2043.2" y="1201.9" width="73.6" height="154.1" fill="#FFF485" stroke="#3E3A39" stroke-width="3.1"/>
<text transform="translate(1745.0,3165.0) rotate(-90)" font-size="50" text-anchor="middle" stroke="#231815" stroke-width="0.6">Salt</text>
<text transform="translate(1745.0,2779.6) rotate(-90)" font-size="50" text-anchor="middle" stroke="#231815" stroke-width="0.6">Dolomite</text>
<text transform="translate(1745.0,2394.0) rotate(-90)" font-size="50" text-anchor="middle" stroke="#231815" stroke-width="0.6">Argillaceous</text>
<text transform="translate(1798.0,2392.0) rotate(-90)" font-size="50" text-anchor="middle" stroke="#231815" stroke-width="0.6">dolomite</text>
<text transform="translate(1745.0,2021.0) rotate(-90)" font-size="50" text-anchor="middle" stroke="#231815" stroke-width="0.6">Gypsum</text>
<text transform="translate(1745.0,1657.0) rotate(-90)" font-size="50" text-anchor="middle" stroke="#231815" stroke-width="0.6">Limestone</text>
<text transform="translate(1745.0,1275.0) rotate(-90)" font-size="50" text-anchor="middle" stroke="#231815" stroke-width="0.6">Calacarceous</text>
<text transform="translate(1798.0,1274.0) rotate(-90)" font-size="50" text-anchor="middle" stroke="#231815" stroke-width="0.6">dolomite</text>
<text transform="translate(1957.0,3167.0) rotate(-90)" font-size="50" text-anchor="middle" stroke="#231815" stroke-width="0.6">mudstone</text>
<text transform="translate(1957.0,2777.0) rotate(-90)" font-size="50" text-anchor="middle" stroke="#231815" stroke-width="0.6">Crystal powder</text>
<text transform="translate(2010.0,2777.0) rotate(-90)" font-size="50" text-anchor="middle" stroke="#231815" stroke-width="0.6">dolomite</text>
<text transform="translate(1957.0,2394.0) rotate(-90)" font-size="50" text-anchor="middle" stroke="#231815" stroke-width="0.6">Gypsiferous</text>
<text transform="translate(2010.0,2392.0) rotate(-90)" font-size="50" text-anchor="middle" stroke="#231815" stroke-width="0.6">dolomite</text>
<text transform="translate(1957.0,2013.0) rotate(-90)" font-size="50" text-anchor="middle" stroke="#231815" stroke-width="0.6">Finely crystalline</text>
<text transform="translate(2010.0,2010.0) rotate(-90)" font-size="50" text-anchor="middle" stroke="#231815" stroke-width="0.6">dolomite</text>
<text transform="translate(1962.0,1659.0) rotate(-90)" font-size="50" text-anchor="middle" stroke="#231815" stroke-width="0.6">Gabbro</text>
<text transform="translate(1957.0,1280.0) rotate(-90)" font-size="50" text-anchor="middle" stroke="#231815" stroke-width="0.6">Dolimitic</text>
<text transform="translate(2011.0,1282.5) rotate(-90)" font-size="50" text-anchor="middle" stroke="#231815" stroke-width="0.6">limestone</text>
<text transform="translate(2180.0,3166.0) rotate(-90)" font-size="50" text-anchor="middle" stroke="#231815" stroke-width="0.6">Gypsum-salt</text>
<text transform="translate(2232.6,3165.0) rotate(-90)" font-size="50" text-anchor="middle" stroke="#231815" stroke-width="0.6">lake</text>
<text transform="translate(2180.0,2781.0) rotate(-90)" font-size="50" text-anchor="middle" stroke="#231815" stroke-width="0.6">Gypsiferous</text>
<text transform="translate(2232.6,2783.0) rotate(-90)" font-size="50" text-anchor="middle" stroke="#231815" stroke-width="0.6">dolomite flat</text>
<text transform="translate(2180.0,2394.0) rotate(-90)" font-size="50" text-anchor="middle" stroke="#231815" stroke-width="0.6">Limestone</text>
<text transform="translate(2232.6,2389.5) rotate(-90)" font-size="50" text-anchor="middle" stroke="#231815" stroke-width="0.6">flat</text>
<text transform="translate(2180.0,2017.0) rotate(-90)" font-size="50" text-anchor="middle" stroke="#231815" stroke-width="0.6">Argillaceous</text>
<text transform="translate(2232.6,2016.0) rotate(-90)" font-size="50" text-anchor="middle" stroke="#231815" stroke-width="0.6">dolomite flat</text>
<text transform="translate(2180.0,1654.0) rotate(-90)" font-size="50" text-anchor="middle" stroke="#231815" stroke-width="0.6">Dolomite</text>
<text transform="translate(2232.6,1655.5) rotate(-90)" font-size="50" text-anchor="middle" stroke="#231815" stroke-width="0.6">flat</text>
<text transform="translate(2180.0,1281.5) rotate(-90)" font-size="50" text-anchor="middle" stroke="#231815" stroke-width="0.6">Innershoal</text>
<text transform="translate(2232.6,1280.0) rotate(-90)" font-size="50" text-anchor="middle" stroke="#231815" stroke-width="0.6">sea</text>
<rect x="1796.3" y="296.7" width="27.2" height="24.2" fill="#fff"/></svg></body></html>
